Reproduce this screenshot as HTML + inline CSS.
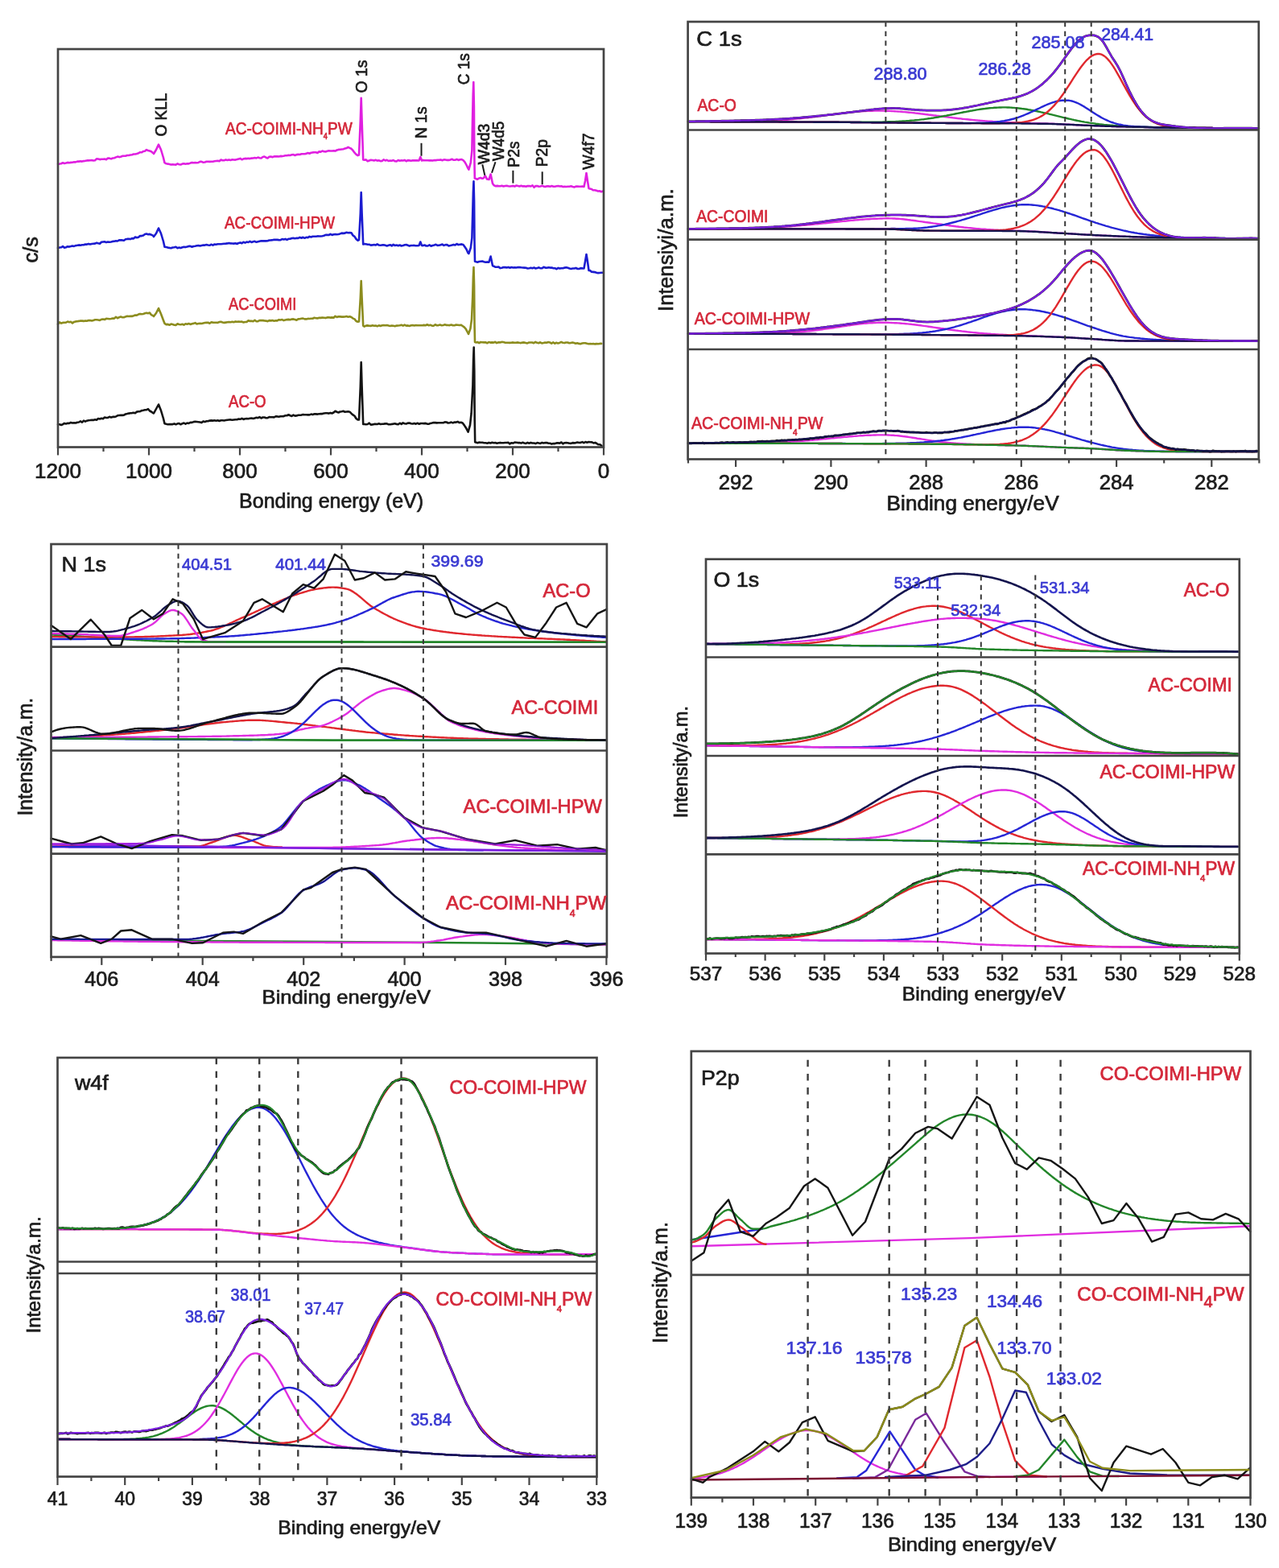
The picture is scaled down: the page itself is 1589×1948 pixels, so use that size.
<!DOCTYPE html><html><head><meta charset="utf-8"><title>XPS spectra</title><style>html,body{margin:0;padding:0;background:#fff;overflow:hidden;}svg{display:block;}text{font-family:"Liberation Sans", Arial, Helvetica, sans-serif;}</style></head><body><svg width="1589" height="1948" viewBox="0 0 1589 1948"><rect width="1589" height="1948" fill="#ffffff"/><path d="M72 203.7 L74 203.6 L76 203.2 L78 202.3 L80 203 L82 202.6 L84 201.9 L86 202.2 L88 201.9 L90 201.7 L92 201.3 L94 201.4 L96 200.6 L98 200.6 L100 200.3 L102 200.6 L104 200.1 L106 199.8 L108 199.4 L110 199.4 L112 199.3 L114 199 L116 199.5 L118 199.2 L120 197.4 L122 197.5 L124 198.1 L126 197.8 L128 197.8 L130 197.6 L132 198.2 L134 196.5 L136 196.6 L138 197.4 L140 196.5 L142 196.3 L144 195.4 L146 194.6 L148 195.1 L150 194.8 L152 193.9 L154 193.8 L156 193.7 L158 193 L160 193 L162 192.6 L164 192.2 L166 191.5 L168 191.5 L170 191.1 L172 190.3 L174 189.2 L176 189.3 L178 188 L180 187.7 L182 186.1 L184 187 L186 187.5 L188 188.2 L190 189.9 L191 191 L194 186 L197 179.6 L200 186 L203 196 L204.5 202.2 L206.5 203.3 L208.5 203.6 L210.5 204 L212.5 204.6 L214.5 204.2 L216.5 204.5 L218.5 204.6 L220.5 203.4 L222.5 204.2 L224.5 204.5 L226.5 203.6 L228.5 203.2 L230.5 203.7 L232.5 203.3 L234.5 203.4 L236.5 202.6 L238.5 201.9 L240.5 202.3 L242.5 202 L244.5 202.3 L246.5 201.9 L248.5 200.9 L250.5 200.9 L252.5 201.7 L254.5 201.5 L256.5 200.7 L258.5 200.8 L260.5 200.9 L262.5 200.7 L264.5 200.7 L266.5 200.3 L268.5 200 L270.5 199.7 L272.5 200.2 L274.5 198.5 L276.5 199.3 L278.5 199.2 L280.5 198.4 L282.5 199 L284.5 198.4 L286.5 198.9 L288.5 198.3 L290.5 198.5 L292.5 198.6 L294.5 198.1 L296.5 197.4 L298.5 196.9 L300.5 198.3 L302.5 197.3 L304.5 196.9 L306.5 197.1 L308.5 196.8 L310.5 197.1 L312.5 196.6 L314.5 196.5 L316.5 196 L318.5 196.4 L320.5 195.6 L322.5 196.3 L324.5 196.5 L326.5 195 L328.5 194.5 L330.5 195.7 L332.5 196.5 L334.5 194.7 L336.5 194.5 L338.5 195.2 L340.5 194.4 L342.5 194.4 L344.5 194.3 L346.5 194.5 L348.5 193.9 L350.5 194.1 L352.5 193.7 L354.5 193.2 L356.5 193.3 L358.5 192.8 L360.5 193 L362.5 192.3 L364.5 192.1 L366.5 193 L368.5 192.1 L370.5 191.9 L372.5 192 L374.5 191.3 L376.5 191.2 L378.5 191.2 L380.5 190.9 L382.5 190 L384.5 190.7 L386.5 189.8 L388.5 189.4 L390.5 189.2 L392.5 189.2 L394.5 189.9 L396.5 188.4 L398.5 188.7 L400.5 187.5 L402.5 188.2 L404.5 188.4 L406.5 187.7 L408.5 187.3 L410.5 187.5 L412.5 187.5 L414.5 187.2 L416.5 187.6 L418.5 186.5 L420.5 185.9 L422.5 185.8 L424.5 185.5 L426.5 185.2 L428.5 184.6 L430.5 184.1 L432.5 182.9 L434.5 183.9 L436.5 184.8 L438.5 186.9 L440.5 189.7 L442.5 191.8 L444.5 193.1 L446 192.5 L447.8 150 L448.7 121.7 L449.6 150 L451.2 198.5 L452.7 198.7 L454.7 198.4 L456.7 200.3 L458.7 199.5 L460.7 198.7 L462.7 199 L464.7 199.5 L466.7 198.8 L468.7 199.6 L470.7 199.3 L472.7 200.1 L474.7 199.9 L476.7 198.3 L478.7 199.5 L480.7 198.8 L482.7 200 L484.7 199.6 L486.7 199.7 L488.7 199 L490.7 200.3 L492.7 200.4 L494.7 199 L496.7 199.7 L498.7 199.2 L500.7 199.5 L502.7 198.9 L504.7 200.3 L506.7 199.1 L508.7 199.4 L510.7 199.7 L512.7 199.2 L514.7 199.4 L516.7 199.2 L518.7 199.4 L520.5 199.5 L522.3 195 L524 199.5 L525.5 198.9 L527.5 199.3 L529.5 199.3 L531.5 199.2 L533.5 199.4 L535.5 199.2 L537.5 199.6 L539.5 199.1 L541.5 199.1 L543.5 198.8 L545.5 198.8 L547.5 198.4 L549.5 199.2 L551.5 198.4 L553.5 198.5 L555.5 198.9 L557.5 198.9 L559.5 198.5 L561.5 197.7 L563.5 198.8 L565.5 198.7 L567.5 197.9 L569.5 198.9 L571.5 198.2 L573.5 198 L575.5 199.2 L577.5 201.3 L579.5 205 L581.5 209.1 L582.4 210.7 L584.8 202 L586.4 186.8 L587 150.9 L587.7 118.3 L588.3 102 L588.9 132 L589.3 192 L589.8 221.4 L591.5 222 L593 222.8 L595 221.5 L597 220.9 L599 221.8 L600.5 221.5 L602.8 218.5 L605 222.5 L607.5 223 L609.6 216.5 L612 228 L613.5 230.1 L615.5 231.2 L617.5 230.9 L619.5 231.1 L621.5 231.2 L623.5 230.8 L625.5 231.5 L627.5 231 L629.5 230.8 L631.5 231.3 L633.5 231.5 L635.5 231.2 L637.5 230.9 L639.5 231.6 L641.5 230.5 L643.5 230.9 L645.5 231.4 L647.5 230.7 L649.5 231.4 L651.5 231.3 L653.5 231.8 L655.5 231 L657.5 231.1 L659.5 231.5 L661.5 230.3 L663.5 232.8 L665.5 231.1 L667.5 231.1 L669.5 231.8 L671.5 231.4 L673.5 230.7 L675.5 231.7 L677.5 231.9 L679.5 231.3 L681.5 231.4 L683.5 231.7 L685.5 231.1 L687.5 231.8 L689.5 231.7 L691.5 231.3 L693.5 231 L695.5 231.5 L697.5 231.2 L699.5 232.1 L701.5 231.7 L703.5 232 L705.5 231.7 L707.5 231.8 L709.5 231.3 L711.5 232 L713.5 232.5 L715.5 231.6 L717.5 231.5 L719.5 231.8 L721.5 231.7 L723.5 231.6 L725.5 232 L727 225 L728.5 215 L730 225 L731.5 234 L733 234.6 L735 235 L737 236.3 L739 236.2 L741 236.8 L743 237.5 L745 237.2 L747 238.3 L749 237.5" fill="none" stroke="#e020e0" stroke-width="2.6" stroke-linejoin="round" stroke-linecap="round"/>
<path d="M72 308.1 L74 307.5 L76 307.3 L78 306.1 L80 307.8 L82 307.2 L84 306.3 L86 306.6 L88 306.1 L90 305.5 L92 305.9 L94 305.1 L96 304.8 L98 304.4 L100 304.7 L102 304.2 L104 304.3 L106 303.5 L108 303.6 L110 302.9 L112 303.5 L114 303 L116 302.8 L118 302.6 L120 301.7 L122 302.3 L124 302.7 L126 300.8 L128 300.5 L130 300.3 L132 301.1 L134 300.6 L136 300.8 L138 300.4 L140 299.9 L142 299.7 L144 299.3 L146 299.5 L148 298.3 L150 298.4 L152 298.4 L154 298.8 L156 297.3 L158 296.9 L160 296.7 L162 297.1 L164 296.1 L166 296.4 L168 294.5 L170 295.3 L172 294.7 L174 293 L176 293.1 L178 292.6 L180 291 L182 290.6 L184 291.2 L186 290.9 L188 291.7 L190 292.7 L191 294 L194 290 L197 283.5 L200 290 L203 300 L204.5 306.7 L206.5 307.1 L208.5 307.6 L210.5 307.9 L212.5 308.3 L214.5 307.5 L216.5 307.2 L218.5 306.7 L220.5 308.2 L222.5 307.6 L224.5 308.1 L226.5 307.2 L228.5 306.7 L230.5 307.1 L232.5 306.6 L234.5 305.9 L236.5 305.9 L238.5 306.8 L240.5 306 L242.5 305.8 L244.5 305.3 L246.5 305 L248.5 305.5 L250.5 304.9 L252.5 304.5 L254.5 304.6 L256.5 304.1 L258.5 304.5 L260.5 304.8 L262.5 303.7 L264.5 304.6 L266.5 303.5 L268.5 303.8 L270.5 303.2 L272.5 303.3 L274.5 303.3 L276.5 303 L278.5 302.7 L280.5 302.6 L282.5 302.4 L284.5 301.9 L286.5 302.4 L288.5 302.5 L290.5 302.6 L292.5 302.3 L294.5 303 L296.5 301.9 L298.5 301.4 L300.5 302.3 L302.5 300.8 L304.5 301.6 L306.5 300.6 L308.5 301 L310.5 299.8 L312.5 301 L314.5 300.3 L316.5 299.8 L318.5 300.8 L320.5 300.3 L322.5 299.8 L324.5 299.3 L326.5 299.4 L328.5 299.2 L330.5 299.4 L332.5 299.3 L334.5 298.5 L336.5 298.4 L338.5 298.2 L340.5 297.7 L342.5 297.9 L344.5 297.9 L346.5 298.1 L348.5 298.2 L350.5 297.1 L352.5 297.5 L354.5 296.9 L356.5 297.9 L358.5 296.8 L360.5 296.8 L362.5 296 L364.5 295.9 L366.5 296.2 L368.5 295.8 L370.5 295.9 L372.5 294.9 L374.5 295.7 L376.5 294.8 L378.5 295.8 L380.5 294.8 L382.5 295.2 L384.5 293.9 L386.5 294.5 L388.5 293.7 L390.5 293.7 L392.5 293.8 L394.5 293.4 L396.5 293.5 L398.5 293.5 L400.5 293.2 L402.5 292.7 L404.5 291.9 L406.5 291.9 L408.5 292 L410.5 290.9 L412.5 291.9 L414.5 291.2 L416.5 291 L418.5 291.3 L420.5 290.9 L422.5 290.4 L424.5 289.6 L426.5 289.9 L428.5 289.6 L430.5 288.7 L432.5 289.3 L434.5 289.1 L436.5 289.3 L438.5 292.5 L440.5 293.9 L442.5 297 L444.5 298.7 L446 298 L447.8 265 L448.7 239 L449.6 265 L451.2 303.5 L452.7 303 L454.7 303.3 L456.7 303.8 L458.7 303.7 L460.7 304.6 L462.7 304.4 L464.7 304 L466.7 304.5 L468.7 303.4 L470.7 304.5 L472.7 304.8 L474.7 304.4 L476.7 304.2 L478.7 304.8 L480.7 305.5 L482.7 304.8 L484.7 304.2 L486.7 305.4 L488.7 303.9 L490.7 305 L492.7 304.6 L494.7 305.3 L496.7 304.5 L498.7 305.5 L500.7 305.1 L502.7 304.2 L504.7 304.1 L506.7 304.8 L508.7 305.6 L510.7 305 L512.7 305 L514.7 304.9 L516.7 305.3 L518.7 305.2 L520.5 305 L522.3 300.5 L524 305 L525.5 305.1 L527.5 304.5 L529.5 305.5 L531.5 305.5 L533.5 304.3 L535.5 305.8 L537.5 305.1 L539.5 304.5 L541.5 303.8 L543.5 304.9 L545.5 304.8 L547.5 304.2 L549.5 303.6 L551.5 304.9 L553.5 304.1 L555.5 304.1 L557.5 305.5 L559.5 305.1 L561.5 304.6 L563.5 303.9 L565.5 304.4 L567.5 303 L569.5 304.1 L571.5 303.7 L573.5 303.4 L575.5 303.9 L577.5 306.7 L579.5 309.7 L581.5 314.2 L582.4 315 L584.8 307.8 L586.4 295.3 L587.2 265.7 L587.9 238.8 L588.5 225.4 L589.1 250.4 L589.5 300.3 L590 324.7 L591.7 325.3 L593.2 325.7 L595.2 325 L597.2 324.8 L599.2 324.6 L601.2 325.3 L603.2 325.8 L605.2 325.4 L607.2 325.8 L607.5 325.5 L609.6 318.5 L612 330 L613.5 330.7 L615.5 331.8 L617.5 331.8 L619.5 331.6 L621.5 333.1 L623.5 332.7 L625.5 332 L627.5 332.1 L629.5 332.4 L631.5 331.9 L633.5 332.7 L635.5 332 L637.5 332.5 L639.5 332.2 L641.5 332.5 L643.5 332.1 L645.5 332 L647.5 332.3 L649.5 332.5 L651.5 332.6 L653.5 332.8 L655.5 333.5 L657.5 333.2 L659.5 332.7 L661.5 333.2 L663.5 332.5 L665.5 333.5 L667.5 333.1 L669.5 332.3 L671.5 333.3 L673.5 333.3 L675.5 331.7 L677.5 332.6 L679.5 332.8 L681.5 332.2 L683.5 332.6 L685.5 332.6 L687.5 333.3 L689.5 333.2 L691.5 334.3 L693.5 332.9 L695.5 333.6 L697.5 333.2 L699.5 333.3 L701.5 332.6 L703.5 332.3 L705.5 332.8 L707.5 333.5 L709.5 333.9 L711.5 333.5 L713.5 333.5 L715.5 332.9 L717.5 334 L719.5 334 L721.5 333.1 L723.5 333.4 L725.5 333.5 L727 325 L728.5 316 L730 325 L731.5 336 L733 336.1 L735 337.8 L737 337.9 L739 338.1 L741 338.8 L743 339.1 L745 339 L747 338.8 L749 338.8" fill="none" stroke="#1c1cd0" stroke-width="2.6" stroke-linejoin="round" stroke-linecap="round"/>
<path d="M72 402.7 L74 400.4 L76 401.6 L78 400.9 L80 400.7 L82 400.6 L84 399.6 L86 400.2 L88 399.8 L90 401.4 L92 399.9 L94 399.4 L96 399.2 L98 398.9 L100 398.5 L102 398.6 L104 398.9 L106 398.4 L108 398.8 L110 398.1 L112 398 L114 398.5 L116 397.9 L118 397.3 L120 397.3 L122 397.5 L124 397.9 L126 396.8 L128 396.6 L130 397 L132 395.9 L134 396 L136 396.3 L138 396 L140 395.5 L142 395.6 L144 393.8 L146 395.3 L148 394.2 L150 393.6 L152 394.2 L154 394.2 L156 393.4 L158 392.8 L160 393 L162 392.7 L164 392.9 L166 392.3 L168 391.6 L170 391.6 L172 390.6 L174 389.9 L176 390.3 L178 389.9 L180 389.2 L182 388.7 L184 389.2 L186 388.6 L188 391.2 L190 392.2 L191 393 L194 389 L197 383 L200 390 L203 398 L204.5 401.8 L206.5 403.1 L208.5 402.9 L210.5 403.8 L212.5 402.6 L214.5 403.1 L216.5 403.7 L218.5 403.9 L220.5 402.3 L222.5 403 L224.5 403.2 L226.5 402.7 L228.5 403.6 L230.5 402.2 L232.5 402.7 L234.5 402 L236.5 402.9 L238.5 402.2 L240.5 401.9 L242.5 401.1 L244.5 402.5 L246.5 402 L248.5 401.9 L250.5 402 L252.5 401.5 L254.5 401 L256.5 400.9 L258.5 400.8 L260.5 401.7 L262.5 400.3 L264.5 400.6 L266.5 400.7 L268.5 400.8 L270.5 400.9 L272.5 400 L274.5 399.7 L276.5 400.4 L278.5 400.9 L280.5 400.6 L282.5 400.3 L284.5 400 L286.5 400.2 L288.5 399.8 L290.5 400.2 L292.5 399.4 L294.5 399.8 L296.5 399.6 L298.5 399.8 L300.5 399.6 L302.5 400.5 L304.5 400 L306.5 399.9 L308.5 398.2 L310.5 398.9 L312.5 398.7 L314.5 399.2 L316.5 397.8 L318.5 399.3 L320.5 399.2 L322.5 398 L324.5 398.1 L326.5 398.1 L328.5 398.4 L330.5 398.6 L332.5 399.2 L334.5 398.1 L336.5 398.4 L338.5 398.1 L340.5 398.7 L342.5 398.2 L344.5 398.4 L346.5 397.2 L348.5 397.5 L350.5 397.1 L352.5 398.1 L354.5 397.6 L356.5 397.1 L358.5 396.9 L360.5 397.2 L362.5 396.6 L364.5 396.4 L366.5 397 L368.5 397.7 L370.5 396.4 L372.5 396.2 L374.5 395.8 L376.5 395.6 L378.5 396.4 L380.5 396.4 L382.5 395.9 L384.5 396 L386.5 395.8 L388.5 395.7 L390.5 394.8 L392.5 395.2 L394.5 395.4 L396.5 394.8 L398.5 394.9 L400.5 394.6 L402.5 394.7 L404.5 395.1 L406.5 394.4 L408.5 394.3 L410.5 394.6 L412.5 394.4 L414.5 394.7 L416.5 392.8 L418.5 394 L420.5 393.2 L422.5 393.4 L424.5 393.6 L426.5 393.6 L428.5 393.5 L430.5 393.1 L432.5 393.7 L434.5 393.2 L436.5 394 L438.5 395.6 L440.5 396.4 L442.5 399 L444.5 399.8 L446 399.5 L447.8 370 L448.7 349 L449.6 370 L451.2 404.6 L452.7 405.6 L454.7 404.6 L456.7 404.4 L458.7 404.7 L460.7 404.9 L462.7 404.3 L464.7 404.8 L466.7 404.6 L468.7 405.3 L470.7 404.3 L472.7 405 L474.7 404.3 L476.7 404.1 L478.7 404.2 L480.7 404 L482.7 404.6 L484.7 405 L486.7 404.6 L488.7 404.8 L490.7 405.2 L492.7 404.6 L494.7 404.5 L496.7 404.3 L498.7 403.7 L500.7 404.7 L502.7 403.6 L504.7 404.7 L506.7 404.4 L508.7 404.9 L510.7 404.3 L512.7 404 L514.7 404.5 L516.7 404.1 L518.7 404.2 L520.7 404.3 L522.7 404.2 L524.7 404.2 L526.7 403.9 L528.7 404.2 L530.7 403.3 L532.7 404.2 L534.7 403.7 L536.7 404.7 L538.7 404.7 L540.7 403.3 L542.7 404.2 L544.7 404.1 L546.7 403.6 L548.7 404.3 L550.7 403.9 L552.7 403.3 L554.7 403.9 L556.7 404 L558.7 404.1 L560.7 403.5 L562.7 404.3 L564.7 404.3 L566.7 403.5 L568.7 403.7 L570.7 404 L572.7 403.7 L574.7 405 L576.7 406.4 L578.7 408.6 L580.7 412.3 L582 415 L584.4 408.4 L586 396.7 L587.2 369.4 L587.9 344.4 L588.5 332 L589.1 355.4 L589.5 402.1 L590 424.9 L591.7 425.5 L593.2 425 L595.2 426.1 L597.2 425 L599.2 425.2 L601.2 425.4 L603.2 425.2 L605.2 426.3 L607.2 425 L609.2 425.6 L611.2 425.4 L613.2 425.6 L615.2 424.8 L617.2 426.1 L619.2 425.3 L621.2 425.4 L623.2 424.9 L625.2 425 L627.2 425.6 L629.2 425.8 L631.2 425.7 L633.2 425.9 L635.2 425.7 L637.2 425.4 L639.2 425.8 L641.2 425.7 L643.2 425.4 L645.2 425.8 L647.2 426.1 L649.2 425.6 L651.2 425.4 L653.2 425.9 L655.2 426.4 L657.2 425.5 L659.2 425.5 L661.2 425.5 L663.2 426.2 L665.2 424.8 L667.2 425.8 L669.2 426.2 L671.2 425.3 L673.2 426.4 L675.2 426 L677.2 425.5 L679.2 425.8 L681.2 425.1 L683.2 425.5 L685.2 426.6 L687.2 425.4 L689.2 426.7 L691.2 425.8 L693.2 426.4 L695.2 425.9 L697.2 424.9 L699.2 425.7 L701.2 426.1 L703.2 425.5 L705.2 425.5 L707.2 426.3 L709.2 425.9 L711.2 425.5 L713.2 426 L715.2 426.7 L717.2 426.2 L719.2 426.9 L721.2 427.2 L723.2 426.6 L725.2 426.2 L727.2 426.2 L729.2 426.8 L731.2 427.3 L733.2 427.1 L735.2 427.3 L737.2 427 L739.2 427.4 L741.2 427.1 L743.2 427.3 L745.2 426.9 L747.2 426.9" fill="none" stroke="#8c8c1e" stroke-width="2.6" stroke-linejoin="round" stroke-linecap="round"/>
<path d="M72 527.3 L74 527.3 L76 527.9 L78 527.2 L80 525.9 L82 526.4 L84 525.8 L86 525.9 L88 524.9 L90 525.5 L92 525.2 L94 525.5 L96 524.7 L98 524.5 L100 523.3 L102 524.7 L104 522.6 L106 523.7 L108 522.7 L110 522.2 L112 522 L114 521.7 L116 521.9 L118 521.3 L120 521.8 L122 520 L124 520.5 L126 519.7 L128 520.2 L130 518.5 L132 519 L134 518.9 L136 517.8 L138 518.6 L140 517.9 L142 517.9 L144 517.5 L146 516.3 L148 516 L150 515.9 L152 515.9 L154 515.6 L156 514.5 L158 514.1 L160 513.6 L162 513.3 L164 513.1 L166 512.7 L168 513.2 L170 511.6 L172 511.3 L174 511.2 L176 510.1 L178 509.8 L180 509.3 L182 509.2 L184 508.2 L186 510.5 L188 511.5 L190 513.1 L191 513.5 L194 508 L197 502.5 L200 510 L203 520 L204.5 526.2 L206.5 526.8 L208.5 527.3 L210.5 527.1 L212.5 527 L214.5 527.1 L216.5 526.4 L218.5 527.3 L220.5 526.3 L222.5 526 L224.5 527.3 L226.5 526.2 L228.5 525.5 L230.5 526.7 L232.5 525.5 L234.5 525.9 L236.5 524.9 L238.5 524.9 L240.5 524.1 L242.5 523.8 L244.5 524 L246.5 524.2 L248.5 524.5 L250.5 525.1 L252.5 523.4 L254.5 524.1 L256.5 523.3 L258.5 523.3 L260.5 522.6 L262.5 522.4 L264.5 522.6 L266.5 522.3 L268.5 522.7 L270.5 522.2 L272.5 523 L274.5 522.3 L276.5 522.2 L278.5 522.5 L280.5 522.1 L282.5 521.7 L284.5 521.5 L286.5 521.4 L288.5 521.8 L290.5 521.5 L292.5 521.2 L294.5 521.2 L296.5 520.5 L298.5 520.8 L300.5 519.8 L302.5 520.9 L304.5 520.2 L306.5 520.1 L308.5 520.2 L310.5 519.8 L312.5 519.5 L314.5 520 L316.5 519.4 L318.5 518.8 L320.5 519.2 L322.5 518.1 L324.5 519.5 L326.5 518.5 L328.5 518.5 L330.5 519.3 L332.5 519.2 L334.5 518.1 L336.5 518.2 L338.5 518.3 L340.5 518.4 L342.5 517.4 L344.5 517.4 L346.5 517.8 L348.5 517.2 L350.5 517.3 L352.5 517.1 L354.5 516.2 L356.5 516.2 L358.5 515.3 L360.5 516.2 L362.5 516.9 L364.5 515.6 L366.5 516.6 L368.5 516.4 L370.5 515.8 L372.5 515.7 L374.5 515.6 L376.5 515.1 L378.5 515.2 L380.5 515.2 L382.5 515.4 L384.5 515.4 L386.5 514.6 L388.5 515.1 L390.5 514.3 L392.5 514.4 L394.5 514.6 L396.5 514.2 L398.5 514.1 L400.5 514.1 L402.5 513.5 L404.5 513.3 L406.5 513.3 L408.5 513.6 L410.5 512.9 L412.5 513.5 L414.5 512.5 L416.5 510.8 L418.5 511.7 L420.5 512.5 L422.5 511.5 L424.5 511.2 L426.5 510.8 L428.5 511.7 L430.5 511.5 L432.5 511.3 L434.5 511.7 L436.5 513.7 L438.5 515.4 L440.5 516.8 L442.5 520 L444.5 521.5 L446 521.5 L447.8 480 L448.7 450 L449.6 480 L451.2 527 L452.7 527 L454.7 527.3 L456.7 527 L458.7 525.7 L460.7 527.7 L462.7 527.4 L464.7 526.9 L466.7 526.8 L468.7 527 L470.7 526.3 L472.7 527 L474.7 526.7 L476.7 526.6 L478.7 526.4 L480.7 526.4 L482.7 527.2 L484.7 527.3 L486.7 526.9 L488.7 526.6 L490.7 526.2 L492.7 526.9 L494.7 527.2 L496.7 525.7 L498.7 526.9 L500.7 525.4 L502.7 526.2 L504.7 526.5 L506.7 525.6 L508.7 525.5 L510.7 526.3 L512.7 526.5 L514.7 525.9 L516.7 526.7 L518.7 525.7 L520.7 526.8 L522.7 526 L524.7 526 L526.7 526.1 L528.7 525.9 L530.7 526.6 L532.7 526.7 L534.7 525.9 L536.7 525.5 L538.7 525 L540.7 525.1 L542.7 525.4 L544.7 525.3 L546.7 525.2 L548.7 525.2 L550.7 525.3 L552.7 524.4 L554.7 524.5 L556.7 525.5 L558.7 525.3 L560.7 524.6 L562.7 525.4 L564.7 524.5 L566.7 524.6 L568.7 523.9 L570.7 525.1 L572.7 524.7 L574.7 525.5 L576.7 528.1 L578.7 531.2 L580.7 534.9 L581.6 536.6 L584 528.2 L585.6 513.5 L587.4 478.8 L588.1 447.3 L588.7 431.5 L589.3 461.1 L589.7 520.2 L590.2 549.2 L591.9 549.8 L593.4 550.2 L595.4 549.6 L597.4 549.7 L599.4 549.8 L601.4 550.2 L603.4 550.3 L605.4 550.8 L607.4 549.9 L609.4 550.5 L611.4 549.7 L613.4 550.3 L615.4 550.1 L617.4 550.8 L619.4 550.3 L621.4 549.9 L623.4 550.3 L625.4 550.2 L627.4 550 L629.4 550 L631.4 549.7 L633.4 551.4 L635.4 550.2 L637.4 550.6 L639.4 549.6 L641.4 549.7 L643.4 550.1 L645.4 550.1 L647.4 550.6 L649.4 549.8 L651.4 550.5 L653.4 550.9 L655.4 549.9 L657.4 550.7 L659.4 549.9 L661.4 550.5 L663.4 550.5 L665.4 551.1 L667.4 550.1 L669.4 550.5 L671.4 550.9 L673.4 549.9 L675.4 550.4 L677.4 550 L679.4 550.1 L681.4 550.8 L683.4 550.8 L685.4 551.6 L687.4 551.1 L689.4 551.1 L691.4 550.4 L693.4 550.4 L695.4 550.6 L697.4 549.5 L699.4 551.3 L701.4 550.2 L703.4 550 L705.4 550.2 L707.4 550.8 L709.4 550.9 L711.4 550.1 L713.4 550.4 L715.4 550.1 L717.4 549.6 L719.4 550 L721.4 549.9 L723.4 549.1 L725.4 550.2 L727.4 549 L729.4 549.7 L731.4 549.1 L733.4 549.2 L735.4 549.4 L737.4 550.4 L739.4 549.9 L741.4 551 L743.4 552.3 L745.4 552.3 L747.4 553.8" fill="none" stroke="#141414" stroke-width="2.6" stroke-linejoin="round" stroke-linecap="round"/>
<rect x="72" y="61" width="678" height="494.5" fill="none" stroke="#444444" stroke-width="2.7"/>
<line x1="72" y1="555.5" x2="72" y2="565.5" stroke="#444444" stroke-width="2.2" stroke-linecap="butt"/>
<text x="72" y="593.7" font-size="26" fill="#1c1c1c" stroke="#1c1c1c" stroke-width="0.7" text-anchor="middle">1200</text>
<line x1="128.5" y1="555.5" x2="128.5" y2="561" stroke="#444444" stroke-width="2.2" stroke-linecap="butt"/>
<line x1="185" y1="555.5" x2="185" y2="565.5" stroke="#444444" stroke-width="2.2" stroke-linecap="butt"/>
<text x="185" y="593.7" font-size="26" fill="#1c1c1c" stroke="#1c1c1c" stroke-width="0.7" text-anchor="middle">1000</text>
<line x1="241.5" y1="555.5" x2="241.5" y2="561" stroke="#444444" stroke-width="2.2" stroke-linecap="butt"/>
<line x1="298" y1="555.5" x2="298" y2="565.5" stroke="#444444" stroke-width="2.2" stroke-linecap="butt"/>
<text x="298" y="593.7" font-size="26" fill="#1c1c1c" stroke="#1c1c1c" stroke-width="0.7" text-anchor="middle">800</text>
<line x1="354.5" y1="555.5" x2="354.5" y2="561" stroke="#444444" stroke-width="2.2" stroke-linecap="butt"/>
<line x1="411" y1="555.5" x2="411" y2="565.5" stroke="#444444" stroke-width="2.2" stroke-linecap="butt"/>
<text x="411" y="593.7" font-size="26" fill="#1c1c1c" stroke="#1c1c1c" stroke-width="0.7" text-anchor="middle">600</text>
<line x1="467.5" y1="555.5" x2="467.5" y2="561" stroke="#444444" stroke-width="2.2" stroke-linecap="butt"/>
<line x1="524" y1="555.5" x2="524" y2="565.5" stroke="#444444" stroke-width="2.2" stroke-linecap="butt"/>
<text x="524" y="593.7" font-size="26" fill="#1c1c1c" stroke="#1c1c1c" stroke-width="0.7" text-anchor="middle">400</text>
<line x1="580.5" y1="555.5" x2="580.5" y2="561" stroke="#444444" stroke-width="2.2" stroke-linecap="butt"/>
<line x1="637" y1="555.5" x2="637" y2="565.5" stroke="#444444" stroke-width="2.2" stroke-linecap="butt"/>
<text x="637" y="593.7" font-size="26" fill="#1c1c1c" stroke="#1c1c1c" stroke-width="0.7" text-anchor="middle">200</text>
<line x1="693.5" y1="555.5" x2="693.5" y2="561" stroke="#444444" stroke-width="2.2" stroke-linecap="butt"/>
<line x1="750" y1="555.5" x2="750" y2="565.5" stroke="#444444" stroke-width="2.2" stroke-linecap="butt"/>
<text x="750" y="593.7" font-size="26" fill="#1c1c1c" stroke="#1c1c1c" stroke-width="0.7" text-anchor="middle">0</text>
<text x="411.6" y="630.5" font-size="25.5" fill="#1c1c1c" stroke="#1c1c1c" stroke-width="0.7" text-anchor="middle" textLength="229" lengthAdjust="spacingAndGlyphs">Bonding energy (eV)</text>
<text x="46.9" y="326.5" font-size="26" fill="#1c1c1c" stroke="#1c1c1c" stroke-width="0.7" text-anchor="start" textLength="32.5" lengthAdjust="spacingAndGlyphs" transform="rotate(-90 46.9 326.5)">c/s</text>
<text x="280" y="167" font-size="21.8" fill="#d4283a" stroke="#d4283a" stroke-width="0.7" text-anchor="start" textLength="157.7" lengthAdjust="spacingAndGlyphs">AC-COIMI-NH<tspan font-size="10.5" dy="6">4</tspan><tspan dy="-6">PW</tspan></text>
<text x="279" y="284" font-size="21.8" fill="#d4283a" stroke="#d4283a" stroke-width="0.7" text-anchor="start" textLength="137" lengthAdjust="spacingAndGlyphs">AC-COIMI-HPW</text>
<text x="284" y="385.4" font-size="21.8" fill="#d4283a" stroke="#d4283a" stroke-width="0.7" text-anchor="start" textLength="84.4" lengthAdjust="spacingAndGlyphs">AC-COIMI</text>
<text x="284" y="506.2" font-size="21.8" fill="#d4283a" stroke="#d4283a" stroke-width="0.7" text-anchor="start" textLength="46.6" lengthAdjust="spacingAndGlyphs">AC-O</text>
<text x="207.4" y="169.6" font-size="19.3" fill="#1c1c1c" stroke="#1c1c1c" stroke-width="0.7" text-anchor="start" textLength="54.1" lengthAdjust="spacingAndGlyphs" transform="rotate(-90 207.4 169.6)">O KLL</text>
<text x="455.5" y="115.5" font-size="19.3" fill="#1c1c1c" stroke="#1c1c1c" stroke-width="0.7" text-anchor="start" textLength="40.8" lengthAdjust="spacingAndGlyphs" transform="rotate(-90 455.5 115.5)">O 1s</text>
<text x="583.5" y="105.3" font-size="19.3" fill="#1c1c1c" stroke="#1c1c1c" stroke-width="0.7" text-anchor="start" textLength="39" lengthAdjust="spacingAndGlyphs" transform="rotate(-90 583.5 105.3)">C 1s</text>
<text x="530.3" y="172" font-size="19.3" fill="#1c1c1c" stroke="#1c1c1c" stroke-width="0.7" text-anchor="start" textLength="39.5" lengthAdjust="spacingAndGlyphs" transform="rotate(-90 530.3 172)">N 1s</text>
<line x1="523.5" y1="177.8" x2="523.5" y2="193.7" stroke="#1c1c1c" stroke-width="2" stroke-linecap="butt"/>
<text x="608.3" y="204.2" font-size="19.3" fill="#1c1c1c" stroke="#1c1c1c" stroke-width="0.7" text-anchor="start" textLength="50.6" lengthAdjust="spacingAndGlyphs" transform="rotate(-90 608.3 204.2)">W4d3</text>
<line x1="599.3" y1="204.2" x2="602.3" y2="217.8" stroke="#1c1c1c" stroke-width="2" stroke-linecap="butt"/>
<text x="626.4" y="200" font-size="19.3" fill="#1c1c1c" stroke="#1c1c1c" stroke-width="0.7" text-anchor="start" textLength="49.4" lengthAdjust="spacingAndGlyphs" transform="rotate(-90 626.4 200)">W4d5</text>
<line x1="615.5" y1="201.2" x2="611" y2="214.8" stroke="#1c1c1c" stroke-width="2" stroke-linecap="butt"/>
<text x="644.6" y="208" font-size="19.3" fill="#1c1c1c" stroke="#1c1c1c" stroke-width="0.7" text-anchor="start" textLength="32.5" lengthAdjust="spacingAndGlyphs" transform="rotate(-90 644.6 208)">P2s</text>
<line x1="637.4" y1="211.8" x2="637.4" y2="227.6" stroke="#1c1c1c" stroke-width="2" stroke-linecap="butt"/>
<text x="680.5" y="207.2" font-size="19.3" fill="#1c1c1c" stroke="#1c1c1c" stroke-width="0.7" text-anchor="start" textLength="34" lengthAdjust="spacingAndGlyphs" transform="rotate(-90 680.5 207.2)">P2p</text>
<line x1="673.7" y1="213.3" x2="673.7" y2="229.1" stroke="#1c1c1c" stroke-width="2" stroke-linecap="butt"/>
<text x="737.6" y="210.7" font-size="19.3" fill="#1c1c1c" stroke="#1c1c1c" stroke-width="0.7" text-anchor="start" textLength="45.4" lengthAdjust="spacingAndGlyphs" transform="rotate(-90 737.6 210.7)">W4f7</text>
<path d="M855.6 151.1 L857.6 151.1 L859.6 151.1 L861.6 151.1 L863.6 151.1 L865.6 151.1 L867.6 151.1 L869.6 151.1 L871.6 151.1 L873.6 151.1 L875.6 151.1 L877.6 151.1 L879.6 151.1 L881.6 151.1 L883.6 151.1 L885.6 151.1 L887.6 151.1 L889.6 151.1 L891.6 151.1 L893.6 151.1 L895.6 151.1 L897.6 151.1 L899.6 151.1 L901.6 151 L903.6 151 L905.6 151 L907.6 151 L909.6 151 L911.6 151 L913.6 151 L915.6 150.9 L917.6 150.9 L919.6 150.9 L921.6 150.9 L923.6 150.9 L925.6 150.8 L927.6 150.8 L929.6 150.8 L931.6 150.7 L933.6 150.7 L935.6 150.6 L937.6 150.6 L939.6 150.5 L941.6 150.5 L943.6 150.4 L945.6 150.4 L947.6 150.3 L949.6 150.2 L951.6 150.1 L953.6 150.1 L955.6 150 L957.6 149.9 L959.6 149.8 L961.6 149.7 L963.6 149.6 L965.6 149.5 L967.6 149.4 L969.6 149.2 L971.6 149.1 L973.6 149 L975.6 148.8 L977.6 148.7 L979.6 148.5 L981.6 148.4 L983.6 148.2 L985.6 148 L987.6 147.8 L989.6 147.6 L991.6 147.4 L993.6 147.2 L995.6 147 L997.6 146.8 L999.6 146.6 L1001.6 146.4 L1003.6 146.2 L1005.6 145.9 L1007.6 145.7 L1009.6 145.4 L1011.6 145.2 L1013.6 144.9 L1015.6 144.7 L1017.6 144.4 L1019.6 144.2 L1021.6 143.9 L1023.6 143.6 L1025.6 143.4 L1027.6 143.1 L1029.6 142.8 L1031.6 142.6 L1033.6 142.3 L1035.6 142 L1037.6 141.8 L1039.6 141.5 L1041.6 141.3 L1043.6 141 L1045.6 140.8 L1047.6 140.5 L1049.6 140.3 L1051.6 140 L1053.6 139.8 L1055.6 139.6 L1057.6 139.4 L1059.6 139.2 L1061.6 139 L1063.6 138.8 L1065.6 138.6 L1067.6 138.5 L1069.6 138.3 L1071.6 138.2 L1073.6 138.1 L1075.6 138 L1077.6 137.9 L1079.6 137.8 L1081.6 137.7 L1083.6 137.7 L1085.6 137.6 L1087.6 137.6 L1089.6 137.6 L1091.6 137.6 L1093.6 137.6 L1095.6 137.6 L1097.6 137.6 L1099.6 137.7 L1101.6 137.8 L1103.6 137.8 L1105.6 137.9 L1107.6 138 L1109.6 138.1 L1111.6 138.2 L1113.6 138.4 L1115.6 138.5 L1117.6 138.6 L1119.6 138.8 L1121.6 139 L1123.6 139.1 L1125.6 139.3 L1127.6 139.5 L1129.6 139.7 L1131.6 139.9 L1133.6 140.1 L1135.6 140.3 L1137.6 140.6 L1139.6 140.8 L1141.6 141 L1143.6 141.3 L1145.6 141.5 L1147.6 141.7 L1149.6 142 L1151.6 142.2 L1153.6 142.5 L1155.6 142.7 L1157.6 143 L1159.6 143.3 L1161.6 143.5 L1163.6 143.8 L1165.6 144 L1167.6 144.3 L1169.6 144.5 L1171.6 144.8 L1173.6 145 L1175.6 145.3 L1177.6 145.5 L1179.6 145.8 L1181.6 146 L1183.6 146.3 L1185.6 146.5 L1187.6 146.7 L1189.6 147 L1191.6 147.2 L1193.6 147.4 L1195.6 147.7 L1197.6 147.9 L1199.6 148.1 L1201.6 148.3 L1203.6 148.5 L1205.6 148.7 L1207.6 148.9 L1209.6 149.1 L1211.6 149.3 L1213.6 149.4 L1215.6 149.6 L1217.6 149.8 L1219.6 149.9 L1221.6 150.1 L1223.6 150.3 L1225.6 150.4 L1227.6 150.6 L1229.6 150.7 L1231.6 150.8 L1233.6 151 L1235.6 151.1 L1237.6 151.2 L1239.6 151.3 L1241.6 151.5 L1243.6 151.6 L1245.6 151.7 L1247.6 151.8 L1249.6 151.9 L1251.6 152 L1253.6 152.1 L1255.6 152.2 L1257.6 152.2 L1259.6 152.3 L1261.6 152.4 L1263.6 152.5 L1265.6 152.6 L1267.6 152.6 L1269.6 152.7 L1271.6 152.8 L1273.6 152.8 L1275.6 152.9 L1277.6 152.9 L1279.6 153 L1281.6 153.1 L1283.6 153.1 L1285.6 153.2 L1287.6 153.2 L1289.6 153.3 L1291.6 153.3 L1293.6 153.4 L1295.6 153.4 L1297.6 153.5 L1299.6 153.5 L1301.6 153.6 L1303.6 153.7 L1305.6 153.7 L1307.6 153.8 L1309.6 153.9 L1311.6 153.9 L1313.6 154 L1315.6 154.1 L1317.6 154.2 L1319.6 154.3 L1321.6 154.4 L1323.6 154.5 L1325.6 154.6 L1327.6 154.7 L1329.6 154.8 L1331.6 154.9 L1333.6 155 L1335.6 155.1 L1337.6 155.2 L1339.6 155.3 L1341.6 155.4 L1343.6 155.5 L1345.6 155.6 L1347.6 155.7 L1349.6 155.7 L1351.6 155.8 L1353.6 155.9 L1355.6 156 L1357.6 156.1 L1359.6 156.1 L1361.6 156.2 L1363.6 156.3 L1365.6 156.4 L1367.6 156.4 L1369.6 156.5 L1371.6 156.6 L1373.6 156.7 L1375.6 156.7 L1377.6 156.8 L1379.6 156.9 L1381.6 157 L1383.6 157 L1385.6 157.1 L1387.6 157.2 L1389.6 157.2 L1391.6 157.3 L1393.6 157.3 L1395.6 157.4 L1397.6 157.4 L1399.6 157.5 L1401.6 157.5 L1403.6 157.6 L1405.6 157.6 L1407.6 157.7 L1409.6 157.7 L1411.6 157.8 L1413.6 157.8 L1415.6 157.8 L1417.6 157.9 L1419.6 157.9 L1421.6 157.9 L1423.6 158 L1425.6 158 L1427.6 158.1 L1429.6 158.1 L1431.6 158.1 L1433.6 158.2 L1435.6 158.2 L1437.6 158.2 L1439.6 158.2 L1441.6 158.3 L1443.6 158.3 L1445.6 158.3 L1447.6 158.4 L1449.6 158.4 L1451.6 158.4 L1453.6 158.5 L1455.6 158.5 L1457.6 158.5 L1459.6 158.5 L1461.6 158.6 L1463.6 158.6 L1465.6 158.6 L1467.6 158.6 L1469.6 158.7 L1471.6 158.7 L1473.6 158.7 L1475.6 158.7 L1477.6 158.8 L1479.6 158.8 L1481.6 158.8 L1483.6 158.8 L1485.6 158.9 L1487.6 158.9 L1489.6 158.9 L1491.6 158.9 L1493.6 158.9 L1495.6 159 L1497.6 159 L1499.6 159 L1501.6 159 L1503.6 159 L1505.6 159 L1507.6 159.1 L1509.6 159.1 L1511.6 159.1 L1513.6 159.1 L1515.6 159.1 L1517.6 159.1 L1519.6 159.2 L1521.6 159.2 L1523.6 159.2 L1525.6 159.2 L1527.6 159.2 L1529.6 159.2 L1531.6 159.2 L1533.6 159.3 L1535.6 159.3 L1537.6 159.3 L1539.6 159.3 L1541.6 159.3 L1543.6 159.3 L1545.6 159.3 L1547.6 159.3 L1549.6 159.3 L1551.6 159.4 L1553.6 159.4 L1555.6 159.4 L1557.6 159.4 L1559.6 159.4 L1561.6 159.4" fill="none" stroke="#e02ee0" stroke-width="2.4" stroke-linejoin="round" stroke-linecap="round"/>
<path d="M855.6 151.1 L857.6 151.1 L859.6 151.1 L861.6 151.1 L863.6 151.1 L865.6 151.1 L867.6 151.1 L869.6 151.1 L871.6 151.1 L873.6 151.1 L875.6 151.1 L877.6 151.1 L879.6 151.1 L881.6 151.1 L883.6 151.2 L885.6 151.2 L887.6 151.2 L889.6 151.2 L891.6 151.2 L893.6 151.2 L895.6 151.2 L897.6 151.2 L899.6 151.2 L901.6 151.2 L903.6 151.2 L905.6 151.2 L907.6 151.2 L909.6 151.2 L911.6 151.2 L913.6 151.2 L915.6 151.2 L917.6 151.3 L919.6 151.3 L921.6 151.3 L923.6 151.3 L925.6 151.3 L927.6 151.3 L929.6 151.3 L931.6 151.3 L933.6 151.3 L935.6 151.3 L937.6 151.3 L939.6 151.3 L941.6 151.3 L943.6 151.4 L945.6 151.4 L947.6 151.4 L949.6 151.4 L951.6 151.4 L953.6 151.4 L955.6 151.4 L957.6 151.4 L959.6 151.4 L961.6 151.4 L963.6 151.4 L965.6 151.4 L967.6 151.5 L969.6 151.5 L971.6 151.5 L973.6 151.5 L975.6 151.5 L977.6 151.5 L979.6 151.5 L981.6 151.5 L983.6 151.5 L985.6 151.5 L987.6 151.5 L989.6 151.5 L991.6 151.6 L993.6 151.6 L995.6 151.6 L997.6 151.6 L999.6 151.6 L1001.6 151.6 L1003.6 151.6 L1005.6 151.6 L1007.6 151.6 L1009.6 151.6 L1011.6 151.7 L1013.6 151.7 L1015.6 151.7 L1017.6 151.7 L1019.6 151.7 L1021.6 151.7 L1023.6 151.7 L1025.6 151.7 L1027.6 151.7 L1029.6 151.7 L1031.6 151.8 L1033.6 151.8 L1035.6 151.8 L1037.6 151.8 L1039.6 151.8 L1041.6 151.8 L1043.6 151.8 L1045.6 151.8 L1047.6 151.8 L1049.6 151.8 L1051.6 151.8 L1053.6 151.8 L1055.6 151.8 L1057.6 151.9 L1059.6 151.9 L1061.6 151.9 L1063.6 151.9 L1065.6 151.9 L1067.6 151.9 L1069.6 151.8 L1071.6 151.8 L1073.6 151.8 L1075.6 151.8 L1077.6 151.8 L1079.6 151.8 L1081.6 151.8 L1083.6 151.8 L1085.6 151.7 L1087.6 151.7 L1089.6 151.7 L1091.6 151.6 L1093.6 151.6 L1095.6 151.6 L1097.6 151.5 L1099.6 151.5 L1101.6 151.4 L1103.6 151.3 L1105.6 151.3 L1107.6 151.2 L1109.6 151.1 L1111.6 151.1 L1113.6 151 L1115.6 150.9 L1117.6 150.8 L1119.6 150.7 L1121.6 150.5 L1123.6 150.4 L1125.6 150.3 L1127.6 150.1 L1129.6 150 L1131.6 149.8 L1133.6 149.6 L1135.6 149.5 L1137.6 149.3 L1139.6 149.1 L1141.6 148.9 L1143.6 148.6 L1145.6 148.4 L1147.6 148.2 L1149.6 147.9 L1151.6 147.6 L1153.6 147.3 L1155.6 147.1 L1157.6 146.8 L1159.6 146.5 L1161.6 146.1 L1163.6 145.8 L1165.6 145.5 L1167.6 145.1 L1169.6 144.8 L1171.6 144.4 L1173.6 144 L1175.6 143.7 L1177.6 143.3 L1179.6 142.9 L1181.6 142.5 L1183.6 142.1 L1185.6 141.7 L1187.6 141.3 L1189.6 140.9 L1191.6 140.5 L1193.6 140.1 L1195.6 139.7 L1197.6 139.3 L1199.6 139 L1201.6 138.6 L1203.6 138.2 L1205.6 137.8 L1207.6 137.5 L1209.6 137.1 L1211.6 136.8 L1213.6 136.4 L1215.6 136.1 L1217.6 135.8 L1219.6 135.5 L1221.6 135.2 L1223.6 135 L1225.6 134.7 L1227.6 134.5 L1229.6 134.3 L1231.6 134.1 L1233.6 134 L1235.6 133.8 L1237.6 133.7 L1239.6 133.6 L1241.6 133.5 L1243.6 133.5 L1245.6 133.4 L1247.6 133.4 L1249.6 133.4 L1251.6 133.5 L1253.6 133.5 L1255.6 133.6 L1257.6 133.8 L1259.6 133.9 L1261.6 134.1 L1263.6 134.3 L1265.6 134.5 L1267.6 134.7 L1269.6 135 L1271.6 135.2 L1273.6 135.5 L1275.6 135.8 L1277.6 136.2 L1279.6 136.5 L1281.6 136.9 L1283.6 137.3 L1285.6 137.7 L1287.6 138.1 L1289.6 138.5 L1291.6 138.9 L1293.6 139.4 L1295.6 139.8 L1297.6 140.3 L1299.6 140.7 L1301.6 141.2 L1303.6 141.7 L1305.6 142.1 L1307.6 142.6 L1309.6 143.1 L1311.6 143.6 L1313.6 144.1 L1315.6 144.6 L1317.6 145.1 L1319.6 145.6 L1321.6 146.1 L1323.6 146.5 L1325.6 147 L1327.6 147.5 L1329.6 147.9 L1331.6 148.4 L1333.6 148.8 L1335.6 149.3 L1337.6 149.7 L1339.6 150.1 L1341.6 150.5 L1343.6 150.9 L1345.6 151.2 L1347.6 151.6 L1349.6 151.9 L1351.6 152.2 L1353.6 152.6 L1355.6 152.9 L1357.6 153.1 L1359.6 153.4 L1361.6 153.7 L1363.6 153.9 L1365.6 154.2 L1367.6 154.4 L1369.6 154.6 L1371.6 154.9 L1373.6 155.1 L1375.6 155.3 L1377.6 155.4 L1379.6 155.6 L1381.6 155.8 L1383.6 156 L1385.6 156.1 L1387.6 156.3 L1389.6 156.4 L1391.6 156.5 L1393.6 156.7 L1395.6 156.8 L1397.6 156.9 L1399.6 157 L1401.6 157.1 L1403.6 157.2 L1405.6 157.2 L1407.6 157.3 L1409.6 157.4 L1411.6 157.5 L1413.6 157.5 L1415.6 157.6 L1417.6 157.7 L1419.6 157.7 L1421.6 157.8 L1423.6 157.8 L1425.6 157.9 L1427.6 157.9 L1429.6 158 L1431.6 158 L1433.6 158.1 L1435.6 158.1 L1437.6 158.2 L1439.6 158.2 L1441.6 158.2 L1443.6 158.3 L1445.6 158.3 L1447.6 158.3 L1449.6 158.4 L1451.6 158.4 L1453.6 158.4 L1455.6 158.5 L1457.6 158.5 L1459.6 158.5 L1461.6 158.5 L1463.6 158.6 L1465.6 158.6 L1467.6 158.6 L1469.6 158.7 L1471.6 158.7 L1473.6 158.7 L1475.6 158.7 L1477.6 158.8 L1479.6 158.8 L1481.6 158.8 L1483.6 158.8 L1485.6 158.9 L1487.6 158.9 L1489.6 158.9 L1491.6 158.9 L1493.6 158.9 L1495.6 159 L1497.6 159 L1499.6 159 L1501.6 159 L1503.6 159 L1505.6 159 L1507.6 159.1 L1509.6 159.1 L1511.6 159.1 L1513.6 159.1 L1515.6 159.1 L1517.6 159.1 L1519.6 159.2 L1521.6 159.2 L1523.6 159.2 L1525.6 159.2 L1527.6 159.2 L1529.6 159.2 L1531.6 159.2 L1533.6 159.3 L1535.6 159.3 L1537.6 159.3 L1539.6 159.3 L1541.6 159.3 L1543.6 159.3 L1545.6 159.3 L1547.6 159.3 L1549.6 159.3 L1551.6 159.4 L1553.6 159.4 L1555.6 159.4 L1557.6 159.4 L1559.6 159.4 L1561.6 159.4" fill="none" stroke="#23862a" stroke-width="2.4" stroke-linejoin="round" stroke-linecap="round"/>
<path d="M855.6 151.1 L857.6 151.1 L859.6 151.1 L861.6 151.1 L863.6 151.1 L865.6 151.1 L867.6 151.1 L869.6 151.1 L871.6 151.1 L873.6 151.1 L875.6 151.1 L877.6 151.1 L879.6 151.1 L881.6 151.1 L883.6 151.2 L885.6 151.2 L887.6 151.2 L889.6 151.2 L891.6 151.2 L893.6 151.2 L895.6 151.2 L897.6 151.2 L899.6 151.2 L901.6 151.2 L903.6 151.2 L905.6 151.2 L907.6 151.2 L909.6 151.2 L911.6 151.2 L913.6 151.2 L915.6 151.2 L917.6 151.3 L919.6 151.3 L921.6 151.3 L923.6 151.3 L925.6 151.3 L927.6 151.3 L929.6 151.3 L931.6 151.3 L933.6 151.3 L935.6 151.3 L937.6 151.3 L939.6 151.3 L941.6 151.3 L943.6 151.4 L945.6 151.4 L947.6 151.4 L949.6 151.4 L951.6 151.4 L953.6 151.4 L955.6 151.4 L957.6 151.4 L959.6 151.4 L961.6 151.4 L963.6 151.4 L965.6 151.4 L967.6 151.5 L969.6 151.5 L971.6 151.5 L973.6 151.5 L975.6 151.5 L977.6 151.5 L979.6 151.5 L981.6 151.5 L983.6 151.5 L985.6 151.5 L987.6 151.5 L989.6 151.6 L991.6 151.6 L993.6 151.6 L995.6 151.6 L997.6 151.6 L999.6 151.6 L1001.6 151.6 L1003.6 151.6 L1005.6 151.6 L1007.6 151.6 L1009.6 151.6 L1011.6 151.7 L1013.6 151.7 L1015.6 151.7 L1017.6 151.7 L1019.6 151.7 L1021.6 151.7 L1023.6 151.7 L1025.6 151.7 L1027.6 151.8 L1029.6 151.8 L1031.6 151.8 L1033.6 151.8 L1035.6 151.8 L1037.6 151.8 L1039.6 151.8 L1041.6 151.8 L1043.6 151.9 L1045.6 151.9 L1047.6 151.9 L1049.6 151.9 L1051.6 151.9 L1053.6 151.9 L1055.6 151.9 L1057.6 152 L1059.6 152 L1061.6 152 L1063.6 152 L1065.6 152 L1067.6 152 L1069.6 152.1 L1071.6 152.1 L1073.6 152.1 L1075.6 152.1 L1077.6 152.1 L1079.6 152.1 L1081.6 152.1 L1083.6 152.2 L1085.6 152.2 L1087.6 152.2 L1089.6 152.2 L1091.6 152.2 L1093.6 152.2 L1095.6 152.3 L1097.6 152.3 L1099.6 152.3 L1101.6 152.3 L1103.6 152.3 L1105.6 152.4 L1107.6 152.4 L1109.6 152.4 L1111.6 152.4 L1113.6 152.4 L1115.6 152.5 L1117.6 152.5 L1119.6 152.5 L1121.6 152.5 L1123.6 152.5 L1125.6 152.6 L1127.6 152.6 L1129.6 152.6 L1131.6 152.6 L1133.6 152.7 L1135.6 152.7 L1137.6 152.7 L1139.6 152.7 L1141.6 152.7 L1143.6 152.7 L1145.6 152.8 L1147.6 152.8 L1149.6 152.8 L1151.6 152.8 L1153.6 152.8 L1155.6 152.8 L1157.6 152.9 L1159.6 152.9 L1161.6 152.9 L1163.6 152.9 L1165.6 152.9 L1167.6 152.9 L1169.6 152.9 L1171.6 152.9 L1173.6 152.9 L1175.6 152.9 L1177.6 153 L1179.6 153 L1181.6 153 L1183.6 153 L1185.6 153 L1187.6 153 L1189.6 153 L1191.6 153 L1193.6 153 L1195.6 153 L1197.6 153 L1199.6 153 L1201.6 153 L1203.6 153 L1205.6 153 L1207.6 152.9 L1209.6 152.9 L1211.6 152.9 L1213.6 152.8 L1215.6 152.8 L1217.6 152.8 L1219.6 152.7 L1221.6 152.6 L1223.6 152.6 L1225.6 152.5 L1227.6 152.4 L1229.6 152.2 L1231.6 152.1 L1233.6 151.9 L1235.6 151.8 L1237.6 151.6 L1239.6 151.3 L1241.6 151.1 L1243.6 150.8 L1245.6 150.5 L1247.6 150.2 L1249.6 149.8 L1251.6 149.4 L1253.6 149 L1255.6 148.5 L1257.6 148 L1259.6 147.5 L1261.6 146.9 L1263.6 146.3 L1265.6 145.6 L1267.6 144.9 L1269.6 144.1 L1271.6 143.4 L1273.6 142.5 L1275.6 141.7 L1277.6 140.8 L1279.6 139.9 L1281.6 139 L1283.6 138.1 L1285.6 137.1 L1287.6 136.1 L1289.6 135.2 L1291.6 134.2 L1293.6 133.2 L1295.6 132.3 L1297.6 131.4 L1299.6 130.5 L1301.6 129.6 L1303.6 128.8 L1305.6 128.1 L1307.6 127.4 L1309.6 126.8 L1311.6 126.2 L1313.6 125.7 L1315.6 125.3 L1317.6 125 L1319.6 124.8 L1321.6 124.7 L1323.6 124.6 L1325.6 124.7 L1327.6 124.8 L1329.6 125.1 L1331.6 125.5 L1333.6 126.1 L1335.6 126.8 L1337.6 127.6 L1339.6 128.5 L1341.6 129.5 L1343.6 130.6 L1345.6 131.7 L1347.6 132.9 L1349.6 134.2 L1351.6 135.5 L1353.6 136.8 L1355.6 138.1 L1357.6 139.4 L1359.6 140.7 L1361.6 142 L1363.6 143.2 L1365.6 144.4 L1367.6 145.6 L1369.6 146.7 L1371.6 147.7 L1373.6 148.7 L1375.6 149.6 L1377.6 150.5 L1379.6 151.3 L1381.6 152 L1383.6 152.7 L1385.6 153.3 L1387.6 153.9 L1389.6 154.4 L1391.6 154.8 L1393.6 155.2 L1395.6 155.6 L1397.6 155.9 L1399.6 156.2 L1401.6 156.5 L1403.6 156.7 L1405.6 156.9 L1407.6 157 L1409.6 157.2 L1411.6 157.3 L1413.6 157.4 L1415.6 157.5 L1417.6 157.6 L1419.6 157.7 L1421.6 157.8 L1423.6 157.9 L1425.6 157.9 L1427.6 158 L1429.6 158 L1431.6 158.1 L1433.6 158.1 L1435.6 158.2 L1437.6 158.2 L1439.6 158.2 L1441.6 158.3 L1443.6 158.3 L1445.6 158.3 L1447.6 158.4 L1449.6 158.4 L1451.6 158.4 L1453.6 158.4 L1455.6 158.5 L1457.6 158.5 L1459.6 158.5 L1461.6 158.6 L1463.6 158.6 L1465.6 158.6 L1467.6 158.6 L1469.6 158.7 L1471.6 158.7 L1473.6 158.7 L1475.6 158.7 L1477.6 158.8 L1479.6 158.8 L1481.6 158.8 L1483.6 158.8 L1485.6 158.9 L1487.6 158.9 L1489.6 158.9 L1491.6 158.9 L1493.6 158.9 L1495.6 159 L1497.6 159 L1499.6 159 L1501.6 159 L1503.6 159 L1505.6 159 L1507.6 159.1 L1509.6 159.1 L1511.6 159.1 L1513.6 159.1 L1515.6 159.1 L1517.6 159.1 L1519.6 159.2 L1521.6 159.2 L1523.6 159.2 L1525.6 159.2 L1527.6 159.2 L1529.6 159.2 L1531.6 159.2 L1533.6 159.3 L1535.6 159.3 L1537.6 159.3 L1539.6 159.3 L1541.6 159.3 L1543.6 159.3 L1545.6 159.3 L1547.6 159.3 L1549.6 159.3 L1551.6 159.4 L1553.6 159.4 L1555.6 159.4 L1557.6 159.4 L1559.6 159.4 L1561.6 159.4" fill="none" stroke="#2626d6" stroke-width="2.4" stroke-linejoin="round" stroke-linecap="round"/>
<path d="M855.6 151.1 L857.6 151.1 L859.6 151.1 L861.6 151.1 L863.6 151.1 L865.6 151.1 L867.6 151.1 L869.6 151.1 L871.6 151.1 L873.6 151.1 L875.6 151.1 L877.6 151.1 L879.6 151.1 L881.6 151.1 L883.6 151.2 L885.6 151.2 L887.6 151.2 L889.6 151.2 L891.6 151.2 L893.6 151.2 L895.6 151.2 L897.6 151.2 L899.6 151.2 L901.6 151.2 L903.6 151.2 L905.6 151.2 L907.6 151.2 L909.6 151.2 L911.6 151.2 L913.6 151.2 L915.6 151.2 L917.6 151.3 L919.6 151.3 L921.6 151.3 L923.6 151.3 L925.6 151.3 L927.6 151.3 L929.6 151.3 L931.6 151.3 L933.6 151.3 L935.6 151.3 L937.6 151.3 L939.6 151.3 L941.6 151.3 L943.6 151.4 L945.6 151.4 L947.6 151.4 L949.6 151.4 L951.6 151.4 L953.6 151.4 L955.6 151.4 L957.6 151.4 L959.6 151.4 L961.6 151.4 L963.6 151.4 L965.6 151.4 L967.6 151.5 L969.6 151.5 L971.6 151.5 L973.6 151.5 L975.6 151.5 L977.6 151.5 L979.6 151.5 L981.6 151.5 L983.6 151.5 L985.6 151.5 L987.6 151.5 L989.6 151.6 L991.6 151.6 L993.6 151.6 L995.6 151.6 L997.6 151.6 L999.6 151.6 L1001.6 151.6 L1003.6 151.6 L1005.6 151.6 L1007.6 151.6 L1009.6 151.6 L1011.6 151.7 L1013.6 151.7 L1015.6 151.7 L1017.6 151.7 L1019.6 151.7 L1021.6 151.7 L1023.6 151.7 L1025.6 151.7 L1027.6 151.8 L1029.6 151.8 L1031.6 151.8 L1033.6 151.8 L1035.6 151.8 L1037.6 151.8 L1039.6 151.8 L1041.6 151.8 L1043.6 151.9 L1045.6 151.9 L1047.6 151.9 L1049.6 151.9 L1051.6 151.9 L1053.6 151.9 L1055.6 151.9 L1057.6 152 L1059.6 152 L1061.6 152 L1063.6 152 L1065.6 152 L1067.6 152 L1069.6 152.1 L1071.6 152.1 L1073.6 152.1 L1075.6 152.1 L1077.6 152.1 L1079.6 152.1 L1081.6 152.1 L1083.6 152.2 L1085.6 152.2 L1087.6 152.2 L1089.6 152.2 L1091.6 152.2 L1093.6 152.2 L1095.6 152.3 L1097.6 152.3 L1099.6 152.3 L1101.6 152.3 L1103.6 152.3 L1105.6 152.4 L1107.6 152.4 L1109.6 152.4 L1111.6 152.4 L1113.6 152.4 L1115.6 152.5 L1117.6 152.5 L1119.6 152.5 L1121.6 152.5 L1123.6 152.5 L1125.6 152.6 L1127.6 152.6 L1129.6 152.6 L1131.6 152.6 L1133.6 152.7 L1135.6 152.7 L1137.6 152.7 L1139.6 152.7 L1141.6 152.7 L1143.6 152.7 L1145.6 152.8 L1147.6 152.8 L1149.6 152.8 L1151.6 152.8 L1153.6 152.8 L1155.6 152.8 L1157.6 152.9 L1159.6 152.9 L1161.6 152.9 L1163.6 152.9 L1165.6 152.9 L1167.6 152.9 L1169.6 152.9 L1171.6 152.9 L1173.6 152.9 L1175.6 153 L1177.6 153 L1179.6 153 L1181.6 153 L1183.6 153 L1185.6 153 L1187.6 153 L1189.6 153 L1191.6 153 L1193.6 153 L1195.6 153 L1197.6 153.1 L1199.6 153.1 L1201.6 153.1 L1203.6 153.1 L1205.6 153.1 L1207.6 153.1 L1209.6 153.1 L1211.6 153.1 L1213.6 153.1 L1215.6 153.1 L1217.6 153.1 L1219.6 153.1 L1221.6 153.2 L1223.6 153.2 L1225.6 153.2 L1227.6 153.2 L1229.6 153.2 L1231.6 153.2 L1233.6 153.2 L1235.6 153.2 L1237.6 153.2 L1239.6 153.2 L1241.6 153.2 L1243.6 153.1 L1245.6 153.1 L1247.6 153.1 L1249.6 153.1 L1251.6 153 L1253.6 153 L1255.6 152.9 L1257.6 152.8 L1259.6 152.7 L1261.6 152.6 L1263.6 152.5 L1265.6 152.3 L1267.6 152.1 L1269.6 151.9 L1271.6 151.6 L1273.6 151.3 L1275.6 150.9 L1277.6 150.5 L1279.6 150 L1281.6 149.5 L1283.6 148.8 L1285.6 148.1 L1287.6 147.3 L1289.6 146.5 L1291.6 145.5 L1293.6 144.4 L1295.6 143.2 L1297.6 141.8 L1299.6 140.4 L1301.6 138.8 L1303.6 137 L1305.6 135.2 L1307.6 133.2 L1309.6 131.1 L1311.6 128.8 L1313.6 126.4 L1315.6 123.9 L1317.6 121.3 L1319.6 118.5 L1321.6 115.7 L1323.6 112.7 L1325.6 109.7 L1327.6 106.6 L1329.6 103.5 L1331.6 100.4 L1333.6 97.2 L1335.6 94.1 L1337.6 91.1 L1339.6 88.1 L1341.6 85.2 L1343.6 82.5 L1345.6 79.9 L1347.6 77.5 L1349.6 75.2 L1351.6 73.3 L1353.6 71.5 L1355.6 70 L1357.6 68.8 L1359.6 67.9 L1361.6 67.3 L1363.6 67 L1365.6 67 L1367.6 67.4 L1369.6 68.2 L1371.6 69.4 L1373.6 70.9 L1375.6 72.8 L1377.6 75.1 L1379.6 77.6 L1381.6 80.4 L1383.6 83.4 L1385.6 86.7 L1387.6 90.1 L1389.6 93.6 L1391.6 97.2 L1393.6 100.9 L1395.6 104.6 L1397.6 108.2 L1399.6 111.9 L1401.6 115.4 L1403.6 118.9 L1405.6 122.2 L1407.6 125.4 L1409.6 128.4 L1411.6 131.3 L1413.6 134.1 L1415.6 136.6 L1417.6 139 L1419.6 141.1 L1421.6 143.1 L1423.6 145 L1425.6 146.6 L1427.6 148.1 L1429.6 149.5 L1431.6 150.7 L1433.6 151.8 L1435.6 152.7 L1437.6 153.6 L1439.6 154.3 L1441.6 155 L1443.6 155.5 L1445.6 156 L1447.6 156.4 L1449.6 156.8 L1451.6 157.1 L1453.6 157.4 L1455.6 157.6 L1457.6 157.8 L1459.6 157.9 L1461.6 158.1 L1463.6 158.2 L1465.6 158.3 L1467.6 158.4 L1469.6 158.5 L1471.6 158.5 L1473.6 158.6 L1475.6 158.7 L1477.6 158.7 L1479.6 158.7 L1481.6 158.8 L1483.6 158.8 L1485.6 158.8 L1487.6 158.9 L1489.6 158.9 L1491.6 158.9 L1493.6 158.9 L1495.6 159 L1497.6 159 L1499.6 159 L1501.6 159 L1503.6 159 L1505.6 159 L1507.6 159.1 L1509.6 159.1 L1511.6 159.1 L1513.6 159.1 L1515.6 159.1 L1517.6 159.1 L1519.6 159.2 L1521.6 159.2 L1523.6 159.2 L1525.6 159.2 L1527.6 159.2 L1529.6 159.2 L1531.6 159.2 L1533.6 159.3 L1535.6 159.3 L1537.6 159.3 L1539.6 159.3 L1541.6 159.3 L1543.6 159.3 L1545.6 159.3 L1547.6 159.3 L1549.6 159.3 L1551.6 159.4 L1553.6 159.4 L1555.6 159.4 L1557.6 159.4 L1559.6 159.4 L1561.6 159.4" fill="none" stroke="#e0282e" stroke-width="2.4" stroke-linejoin="round" stroke-linecap="round"/>
<path d="M855 151.1 L857 151.1 L859 151.1 L861 151.1 L863 151.1 L865 151.1 L867 151.1 L869 151.1 L871 151.1 L873 151.1 L875 151.1 L877 151.1 L879 151.1 L881 151.1 L883 151.2 L885 151.2 L887 151.2 L889 151.2 L891.1 151.2 L893.1 151.2 L895.1 151.2 L897.1 151.2 L899.1 151.2 L901.1 151.2 L903.1 151.2 L905.1 151.2 L907.1 151.2 L909.1 151.2 L911.1 151.2 L913.1 151.2 L915.1 151.2 L917.1 151.3 L919.1 151.3 L921.1 151.3 L923.1 151.3 L925.1 151.3 L927.1 151.3 L929.1 151.3 L931.1 151.3 L933.1 151.3 L935.1 151.3 L937.1 151.3 L939.1 151.3 L941.1 151.3 L943.1 151.3 L945.1 151.4 L947.1 151.4 L949.1 151.4 L951.1 151.4 L953.1 151.4 L955.1 151.4 L957.1 151.4 L959.1 151.4 L961.1 151.4 L963.2 151.4 L965.2 151.4 L967.2 151.4 L969.2 151.5 L971.2 151.5 L973.2 151.5 L975.2 151.5 L977.2 151.5 L979.2 151.5 L981.2 151.5 L983.2 151.5 L985.2 151.5 L987.2 151.5 L989.2 151.5 L991.2 151.6 L993.2 151.6 L995.2 151.6 L997.2 151.6 L999.2 151.6 L1001.2 151.6 L1003.2 151.6 L1005.2 151.6 L1007.2 151.6 L1009.2 151.6 L1011.2 151.7 L1013.2 151.7 L1015.2 151.7 L1017.2 151.7 L1019.2 151.7 L1021.2 151.7 L1023.2 151.7 L1025.2 151.7 L1027.2 151.8 L1029.2 151.8 L1031.2 151.8 L1033.3 151.8 L1035.3 151.8 L1037.3 151.8 L1039.3 151.8 L1041.3 151.8 L1043.3 151.9 L1045.3 151.9 L1047.3 151.9 L1049.3 151.9 L1051.3 151.9 L1053.3 151.9 L1055.3 151.9 L1057.3 152 L1059.3 152 L1061.3 152 L1063.3 152 L1065.3 152 L1067.3 152 L1069.3 152 L1071.3 152.1 L1073.3 152.1 L1075.3 152.1 L1077.3 152.1 L1079.3 152.1 L1081.3 152.1 L1083.3 152.2 L1085.3 152.2 L1087.3 152.2 L1089.3 152.2 L1091.3 152.2 L1093.3 152.2 L1095.3 152.3 L1097.3 152.3 L1099.3 152.3 L1101.3 152.3 L1103.4 152.3 L1105.4 152.3 L1107.4 152.4 L1109.4 152.4 L1111.4 152.4 L1113.4 152.4 L1115.4 152.5 L1117.4 152.5 L1119.4 152.5 L1121.4 152.5 L1123.4 152.5 L1125.4 152.6 L1127.4 152.6 L1129.4 152.6 L1131.4 152.6 L1133.4 152.6 L1135.4 152.7 L1137.4 152.7 L1139.4 152.7 L1141.4 152.7 L1143.4 152.7 L1145.4 152.8 L1147.4 152.8 L1149.4 152.8 L1151.4 152.8 L1153.4 152.8 L1155.4 152.8 L1157.4 152.9 L1159.4 152.9 L1161.4 152.9 L1163.4 152.9 L1165.4 152.9 L1167.4 152.9 L1169.4 152.9 L1171.4 152.9 L1173.4 152.9 L1175.5 153 L1177.5 153 L1179.5 153 L1181.5 153 L1183.5 153 L1185.5 153 L1187.5 153 L1189.5 153 L1191.5 153 L1193.5 153 L1195.5 153 L1197.5 153.1 L1199.5 153.1 L1201.5 153.1 L1203.5 153.1 L1205.5 153.1 L1207.5 153.1 L1209.5 153.1 L1211.5 153.1 L1213.5 153.1 L1215.5 153.1 L1217.5 153.1 L1219.5 153.2 L1221.5 153.2 L1223.5 153.2 L1225.5 153.2 L1227.5 153.2 L1229.5 153.2 L1231.5 153.2 L1233.5 153.2 L1235.5 153.2 L1237.5 153.2 L1239.5 153.3 L1241.5 153.3 L1243.5 153.3 L1245.6 153.3 L1247.6 153.3 L1249.6 153.3 L1251.6 153.3 L1253.6 153.3 L1255.6 153.3 L1257.6 153.4 L1259.6 153.4 L1261.6 153.4 L1263.6 153.4 L1265.6 153.4 L1267.6 153.4 L1269.6 153.5 L1271.6 153.5 L1273.6 153.5 L1275.6 153.5 L1277.6 153.5 L1279.6 153.5 L1281.6 153.6 L1283.6 153.6 L1285.6 153.6 L1287.6 153.6 L1289.6 153.7 L1291.6 153.7 L1293.6 153.7 L1295.6 153.7 L1297.6 153.8 L1299.6 153.8 L1301.6 153.8 L1303.6 153.9 L1305.6 153.9 L1307.6 154 L1309.6 154 L1311.6 154.1 L1313.6 154.2 L1315.6 154.2 L1317.7 154.3 L1319.7 154.4 L1321.7 154.5 L1323.7 154.6 L1325.7 154.7 L1327.7 154.8 L1329.7 154.9 L1331.7 154.9 L1333.7 155 L1335.7 155.1 L1337.7 155.2 L1339.7 155.3 L1341.7 155.4 L1343.7 155.5 L1345.7 155.6 L1347.7 155.7 L1349.7 155.8 L1351.7 155.9 L1353.7 155.9 L1355.7 156 L1357.7 156.1 L1359.7 156.2 L1361.7 156.2 L1363.7 156.3 L1365.7 156.4 L1367.7 156.5 L1369.7 156.5 L1371.7 156.6 L1373.7 156.7 L1375.7 156.8 L1377.7 156.8 L1379.7 156.9 L1381.7 157 L1383.7 157 L1385.7 157.1 L1387.8 157.2 L1389.8 157.2 L1391.8 157.3 L1393.8 157.3 L1395.8 157.4 L1397.8 157.4 L1399.8 157.5 L1401.8 157.5 L1403.8 157.6 L1405.8 157.6 L1407.8 157.7 L1409.8 157.7 L1411.8 157.8 L1413.8 157.8 L1415.8 157.8 L1417.8 157.9 L1419.8 157.9 L1421.8 158 L1423.8 158 L1425.8 158 L1427.8 158.1 L1429.8 158.1 L1431.8 158.1 L1433.8 158.2 L1435.8 158.2 L1437.8 158.2 L1439.8 158.2 L1441.8 158.3 L1443.8 158.3 L1445.8 158.3 L1447.8 158.4 L1449.8 158.4 L1451.8 158.4 L1453.8 158.5 L1455.8 158.5 L1457.9 158.5 L1459.9 158.5 L1461.9 158.6 L1463.9 158.6 L1465.9 158.6 L1467.9 158.6 L1469.9 158.7 L1471.9 158.7 L1473.9 158.7 L1475.9 158.7 L1477.9 158.8 L1479.9 158.8 L1481.9 158.8 L1483.9 158.8 L1485.9 158.9 L1487.9 158.9 L1489.9 158.9 L1491.9 158.9 L1493.9 158.9 L1495.9 159 L1497.9 159 L1499.9 159 L1501.9 159 L1503.9 159 L1505.9 159 L1507.9 159.1 L1509.9 159.1 L1511.9 159.1 L1513.9 159.1 L1515.9 159.1 L1517.9 159.1 L1519.9 159.2 L1521.9 159.2 L1523.9 159.2 L1525.9 159.2 L1527.9 159.2 L1530 159.2 L1532 159.2 L1534 159.3 L1536 159.3 L1538 159.3 L1540 159.3 L1542 159.3 L1544 159.3 L1546 159.3 L1548 159.3 L1550 159.3 L1552 159.4 L1554 159.4 L1556 159.4 L1558 159.4 L1560 159.4 L1562 159.4 L1564 159.4" fill="none" stroke="#14144e" stroke-width="2.4" stroke-linejoin="round" stroke-linecap="round"/>
<path d="M855 150.9 L857 150.9 L859 150.8 L861 150.8 L863 150.8 L865 150.7 L867 150.7 L869 150.7 L871 150.6 L873 150.6 L875 150.6 L877 150.5 L879 150.5 L881 150.5 L883 150.4 L885 150.4 L887 150.4 L889 150.3 L891 150.3 L893 150.3 L895 150.3 L897 150.2 L899 150.2 L901 150.2 L903 150.1 L905 150.1 L907 150 L909 150 L911 150 L913 149.9 L915 149.9 L917 149.8 L919 149.8 L921 149.7 L923 149.7 L925 149.6 L927 149.6 L929 149.5 L931 149.5 L933 149.4 L935 149.4 L937 149.3 L939 149.2 L941 149.2 L943 149.1 L945 149 L947 149 L949 148.9 L951 148.8 L953 148.7 L955 148.6 L957 148.5 L959 148.4 L961 148.3 L963 148.2 L965 148.1 L967 148 L969 147.9 L971 147.8 L973 147.7 L975 147.6 L977 147.4 L979 147.3 L981 147.2 L983 147 L985 146.9 L987 146.7 L989 146.6 L991 146.4 L993 146.3 L995 146.1 L997 145.9 L999 145.7 L1001 145.6 L1003 145.4 L1005 145.2 L1007 145 L1009 144.8 L1011 144.6 L1013 144.4 L1015 144.2 L1017 144 L1019 143.8 L1021 143.6 L1023 143.4 L1025 143.2 L1027 143 L1029 142.7 L1031 142.5 L1033 142.3 L1035 142.1 L1037 141.8 L1039 141.6 L1041 141.4 L1043 141.1 L1045 140.9 L1047 140.6 L1049 140.4 L1051 140.2 L1053 139.9 L1055 139.7 L1057 139.4 L1059 139.2 L1061 138.9 L1063 138.7 L1065 138.4 L1067 138.2 L1069 137.9 L1071 137.7 L1073 137.4 L1075 137.2 L1077 136.9 L1079 136.7 L1081 136.4 L1083 136.2 L1085 136 L1087 135.7 L1089 135.5 L1091 135.3 L1093 135.1 L1095 135 L1097 134.8 L1099 134.7 L1101 134.6 L1103 134.5 L1105 134.5 L1107 134.4 L1109 134.4 L1111 134.4 L1113 134.5 L1115 134.6 L1117 134.7 L1119 134.9 L1121 135 L1123 135.2 L1125 135.4 L1127 135.6 L1129 135.8 L1131 135.9 L1133 136.1 L1135 136.2 L1137 136.4 L1139 136.5 L1141 136.6 L1143 136.8 L1145 136.9 L1147 137 L1149 137 L1151 137.1 L1153 137.1 L1155 137.2 L1157 137.2 L1159 137.2 L1161 137.2 L1163 137.2 L1165 137.2 L1167 137.1 L1169 137.1 L1171 137 L1173 136.9 L1175 136.8 L1177 136.6 L1179 136.5 L1181 136.3 L1183 136.1 L1185 135.9 L1187 135.7 L1189 135.4 L1191 135.2 L1193 134.9 L1195 134.6 L1197 134.2 L1199 133.9 L1201 133.6 L1203 133.2 L1205 132.8 L1207 132.4 L1209 132 L1211 131.6 L1213 131.2 L1215 130.8 L1217 130.3 L1219 129.9 L1221 129.5 L1223 129 L1225 128.6 L1227 128.2 L1229 127.7 L1231 127.3 L1233 126.9 L1235 126.4 L1237 126 L1239 125.6 L1241 125.2 L1243 124.8 L1245 124.4 L1247 124 L1249 123.6 L1251 123.3 L1253 122.9 L1255 122.5 L1257 122.1 L1259 121.6 L1261 121.2 L1263 120.7 L1265 120.1 L1267 119.6 L1269 118.9 L1271 118.3 L1273 117.5 L1275 116.7 L1277 115.9 L1279 114.9 L1281 113.9 L1283 112.8 L1285 111.6 L1287 110.4 L1289 109 L1291 107.5 L1293 106 L1295 104.4 L1297 102.6 L1299 100.8 L1301 98.9 L1303 96.9 L1305 94.8 L1307 92.6 L1309 90.3 L1311 87.9 L1313 85.4 L1315 82.8 L1317 80.1 L1319 77.3 L1321 74.5 L1323 71.7 L1325 68.9 L1327 66.1 L1329 63.4 L1331 60.7 L1333 58.2 L1335 55.8 L1337 53.5 L1339 51.5 L1341 49.6 L1343 48 L1345 46.7 L1347 45.6 L1349 44.8 L1351 44.3 L1353 43.9 L1355 43.8 L1357 43.8 L1359 43.9 L1361 44.4 L1363 45.2 L1365 46.3 L1367 48 L1369 50.1 L1371 52.8 L1373 56 L1375 59.5 L1377 63.1 L1379 66.7 L1381 70.2 L1383 73.3 L1385 76.3 L1387 79.4 L1389 82.8 L1391 86.6 L1393 90.7 L1395 95.1 L1397 99.6 L1399 104.2 L1401 108.6 L1403 112.9 L1405 116.9 L1407 120.8 L1409 124.5 L1411 128 L1413 131.2 L1415 134.2 L1417 137 L1419 139.5 L1421 141.8 L1423 143.9 L1425 145.7 L1427 147.3 L1429 148.6 L1431 149.9 L1433 150.9 L1435 151.8 L1437 152.6 L1439 153.2 L1441 153.8 L1443 154.3 L1445 154.7 L1447 155 L1449 155.3 L1451 155.6 L1453 155.9 L1455 156.2 L1457 156.5 L1459 156.7 L1461 157 L1463 157.2 L1465 157.4 L1467 157.6 L1469 157.8 L1471 158 L1473 158.2 L1475 158.3 L1477 158.5 L1479 158.6 L1481 158.7 L1483 158.8 L1485 158.9 L1487 159 L1489 159 L1491 159.1 L1493 159.2 L1495 159.2 L1497 159.2 L1499 159.3 L1501 159.3 L1503 159.3 L1505 159.3 L1507 159.3 L1509 159.3 L1511 159.3 L1513 159.3 L1515 159.3 L1517 159.3 L1519 159.3 L1521 159.2 L1523 159.2 L1525 159.2 L1527 159.2 L1529 159.2 L1531 159.2 L1533 159.1 L1535 159.1 L1537 159.1 L1539 159.1 L1541 159.1 L1543 159.1 L1545 159.1 L1547 159.1 L1549 159.1 L1551 159.2 L1553 159.2 L1555 159.2 L1557 159.3 L1559 159.3 L1561 159.4 L1563 159.5" fill="none" stroke="#151515" stroke-width="2.7" stroke-linejoin="round" stroke-linecap="round"/>
<path d="M855 150.9 L857 150.9 L859 150.8 L861 150.8 L863 150.8 L865 150.7 L867 150.7 L869 150.7 L871 150.6 L873 150.6 L875 150.6 L877 150.5 L879 150.5 L881 150.5 L883 150.4 L885 150.4 L887 150.4 L889 150.3 L891 150.3 L893 150.3 L895 150.3 L897 150.2 L899 150.2 L901 150.2 L903 150.1 L905 150.1 L907 150 L909 150 L911 150 L913 149.9 L915 149.9 L917 149.8 L919 149.8 L921 149.7 L923 149.7 L925 149.6 L927 149.6 L929 149.5 L931 149.5 L933 149.4 L935 149.4 L937 149.3 L939 149.2 L941 149.2 L943 149.1 L945 149 L947 149 L949 148.9 L951 148.8 L953 148.7 L955 148.6 L957 148.5 L959 148.4 L961 148.3 L963 148.2 L965 148.1 L967 148 L969 147.9 L971 147.8 L973 147.7 L975 147.6 L977 147.4 L979 147.3 L981 147.2 L983 147 L985 146.9 L987 146.7 L989 146.6 L991 146.4 L993 146.3 L995 146.1 L997 145.9 L999 145.7 L1001 145.6 L1003 145.4 L1005 145.2 L1007 145 L1009 144.8 L1011 144.6 L1013 144.4 L1015 144.2 L1017 144 L1019 143.8 L1021 143.6 L1023 143.4 L1025 143.2 L1027 143 L1029 142.7 L1031 142.5 L1033 142.3 L1035 142.1 L1037 141.8 L1039 141.6 L1041 141.4 L1043 141.1 L1045 140.9 L1047 140.6 L1049 140.4 L1051 140.2 L1053 139.9 L1055 139.7 L1057 139.4 L1059 139.2 L1061 138.9 L1063 138.7 L1065 138.4 L1067 138.2 L1069 137.9 L1071 137.7 L1073 137.4 L1075 137.2 L1077 136.9 L1079 136.7 L1081 136.4 L1083 136.2 L1085 136 L1087 135.7 L1089 135.5 L1091 135.3 L1093 135.1 L1095 135 L1097 134.8 L1099 134.7 L1101 134.6 L1103 134.5 L1105 134.5 L1107 134.4 L1109 134.4 L1111 134.4 L1113 134.5 L1115 134.6 L1117 134.7 L1119 134.9 L1121 135 L1123 135.2 L1125 135.4 L1127 135.6 L1129 135.8 L1131 135.9 L1133 136.1 L1135 136.2 L1137 136.4 L1139 136.5 L1141 136.6 L1143 136.8 L1145 136.9 L1147 137 L1149 137 L1151 137.1 L1153 137.1 L1155 137.2 L1157 137.2 L1159 137.2 L1161 137.2 L1163 137.2 L1165 137.2 L1167 137.1 L1169 137.1 L1171 137 L1173 136.9 L1175 136.8 L1177 136.6 L1179 136.5 L1181 136.3 L1183 136.1 L1185 135.9 L1187 135.7 L1189 135.4 L1191 135.2 L1193 134.9 L1195 134.6 L1197 134.2 L1199 133.9 L1201 133.6 L1203 133.2 L1205 132.8 L1207 132.4 L1209 132 L1211 131.6 L1213 131.2 L1215 130.8 L1217 130.3 L1219 129.9 L1221 129.5 L1223 129 L1225 128.6 L1227 128.2 L1229 127.7 L1231 127.3 L1233 126.9 L1235 126.4 L1237 126 L1239 125.6 L1241 125.2 L1243 124.8 L1245 124.4 L1247 124 L1249 123.6 L1251 123.3 L1253 122.9 L1255 122.5 L1257 122.1 L1259 121.6 L1261 121.2 L1263 120.7 L1265 120.1 L1267 119.6 L1269 118.9 L1271 118.3 L1273 117.5 L1275 116.7 L1277 115.9 L1279 114.9 L1281 113.9 L1283 112.8 L1285 111.6 L1287 110.4 L1289 109 L1291 107.5 L1293 106 L1295 104.4 L1297 102.6 L1299 100.8 L1301 98.9 L1303 96.9 L1305 94.8 L1307 92.6 L1309 90.3 L1311 87.9 L1313 85.4 L1315 82.8 L1317 80.1 L1319 77.3 L1321 74.5 L1323 71.7 L1325 68.9 L1327 66.1 L1329 63.4 L1331 60.7 L1333 58.2 L1335 55.8 L1337 53.5 L1339 51.5 L1341 49.6 L1343 48 L1345 46.7 L1347 45.6 L1349 44.8 L1351 44.3 L1353 43.9 L1355 43.8 L1357 43.8 L1359 43.9 L1361 44.4 L1363 45.2 L1365 46.3 L1367 48 L1369 50.1 L1371 52.8 L1373 56 L1375 59.5 L1377 63.1 L1379 66.7 L1381 70.2 L1383 73.3 L1385 76.3 L1387 79.4 L1389 82.8 L1391 86.6 L1393 90.7 L1395 95.1 L1397 99.6 L1399 104.2 L1401 108.6 L1403 112.9 L1405 116.9 L1407 120.8 L1409 124.5 L1411 128 L1413 131.2 L1415 134.2 L1417 137 L1419 139.5 L1421 141.8 L1423 143.9 L1425 145.7 L1427 147.3 L1429 148.6 L1431 149.9 L1433 150.9 L1435 151.8 L1437 152.6 L1439 153.2 L1441 153.8 L1443 154.3 L1445 154.7 L1447 155 L1449 155.3 L1451 155.6 L1453 155.9 L1455 156.2 L1457 156.5 L1459 156.7 L1461 157 L1463 157.2 L1465 157.4 L1467 157.6 L1469 157.8 L1471 158 L1473 158.2 L1475 158.3 L1477 158.5 L1479 158.6 L1481 158.7 L1483 158.8 L1485 158.9 L1487 159 L1489 159 L1491 159.1 L1493 159.2 L1495 159.2 L1497 159.2 L1499 159.3 L1501 159.3 L1503 159.3 L1505 159.3 L1507 159.3 L1509 159.3 L1511 159.3 L1513 159.3 L1515 159.3 L1517 159.3 L1519 159.3 L1521 159.2 L1523 159.2 L1525 159.2 L1527 159.2 L1529 159.2 L1531 159.2 L1533 159.1 L1535 159.1 L1537 159.1 L1539 159.1 L1541 159.1 L1543 159.1 L1545 159.1 L1547 159.1 L1549 159.1 L1551 159.2 L1553 159.2 L1555 159.2 L1557 159.3 L1559 159.3 L1561 159.4 L1563 159.5" fill="none" stroke="#7a1ee0" stroke-width="2.3" stroke-linejoin="round" stroke-linecap="round"/>
<path d="M855.6 284.4 L857.6 284.3 L859.6 284.3 L861.6 284.3 L863.6 284.3 L865.6 284.3 L867.6 284.3 L869.6 284.3 L871.6 284.3 L873.6 284.3 L875.6 284.3 L877.6 284.3 L879.6 284.3 L881.6 284.3 L883.6 284.2 L885.6 284.2 L887.6 284.2 L889.6 284.2 L891.6 284.2 L893.6 284.2 L895.6 284.2 L897.6 284.1 L899.6 284.1 L901.6 284.1 L903.6 284.1 L905.6 284 L907.6 284 L909.6 284 L911.6 284 L913.6 283.9 L915.6 283.9 L917.6 283.9 L919.6 283.8 L921.6 283.8 L923.6 283.7 L925.6 283.7 L927.6 283.7 L929.6 283.6 L931.6 283.6 L933.6 283.5 L935.6 283.4 L937.6 283.4 L939.6 283.3 L941.6 283.3 L943.6 283.2 L945.6 283.1 L947.6 283 L949.6 283 L951.6 282.9 L953.6 282.8 L955.6 282.7 L957.6 282.6 L959.6 282.5 L961.6 282.4 L963.6 282.3 L965.6 282.2 L967.6 282.1 L969.6 282 L971.6 281.9 L973.6 281.7 L975.6 281.6 L977.6 281.5 L979.6 281.3 L981.6 281.2 L983.6 281 L985.6 280.9 L987.6 280.7 L989.6 280.6 L991.6 280.4 L993.6 280.3 L995.6 280.1 L997.6 279.9 L999.6 279.7 L1001.6 279.6 L1003.6 279.4 L1005.6 279.2 L1007.6 279 L1009.6 278.8 L1011.6 278.6 L1013.6 278.4 L1015.6 278.2 L1017.6 278 L1019.6 277.8 L1021.6 277.6 L1023.6 277.4 L1025.6 277.2 L1027.6 277 L1029.6 276.7 L1031.6 276.5 L1033.6 276.3 L1035.6 276.1 L1037.6 275.9 L1039.6 275.7 L1041.6 275.5 L1043.6 275.3 L1045.6 275.1 L1047.6 274.9 L1049.6 274.7 L1051.6 274.5 L1053.6 274.3 L1055.6 274.1 L1057.6 273.9 L1059.6 273.7 L1061.6 273.5 L1063.6 273.4 L1065.6 273.2 L1067.6 273 L1069.6 272.9 L1071.6 272.7 L1073.6 272.6 L1075.6 272.4 L1077.6 272.3 L1079.6 272.2 L1081.6 272 L1083.6 271.9 L1085.6 271.8 L1087.6 271.7 L1089.6 271.7 L1091.6 271.6 L1093.6 271.5 L1095.6 271.5 L1097.6 271.4 L1099.6 271.4 L1101.6 271.3 L1103.6 271.3 L1105.6 271.4 L1107.6 271.4 L1109.6 271.5 L1111.6 271.5 L1113.6 271.7 L1115.6 271.8 L1117.6 271.9 L1119.6 272.1 L1121.6 272.3 L1123.6 272.5 L1125.6 272.7 L1127.6 273 L1129.6 273.2 L1131.6 273.5 L1133.6 273.7 L1135.6 274 L1137.6 274.3 L1139.6 274.6 L1141.6 274.9 L1143.6 275.1 L1145.6 275.4 L1147.6 275.7 L1149.6 276 L1151.6 276.2 L1153.6 276.5 L1155.6 276.8 L1157.6 277.1 L1159.6 277.4 L1161.6 277.6 L1163.6 277.9 L1165.6 278.2 L1167.6 278.5 L1169.6 278.8 L1171.6 279.1 L1173.6 279.4 L1175.6 279.7 L1177.6 279.9 L1179.6 280.2 L1181.6 280.5 L1183.6 280.7 L1185.6 281 L1187.6 281.3 L1189.6 281.5 L1191.6 281.8 L1193.6 282 L1195.6 282.2 L1197.6 282.5 L1199.6 282.7 L1201.6 282.9 L1203.6 283.1 L1205.6 283.3 L1207.6 283.5 L1209.6 283.7 L1211.6 283.9 L1213.6 284.1 L1215.6 284.2 L1217.6 284.4 L1219.6 284.6 L1221.6 284.7 L1223.6 284.8 L1225.6 285 L1227.6 285.1 L1229.6 285.2 L1231.6 285.4 L1233.6 285.5 L1235.6 285.6 L1237.6 285.7 L1239.6 285.8 L1241.6 285.9 L1243.6 286 L1245.6 286.1 L1247.6 286.1 L1249.6 286.2 L1251.6 286.3 L1253.6 286.4 L1255.6 286.4 L1257.6 286.5 L1259.6 286.6 L1261.6 286.6 L1263.6 286.7 L1265.6 286.8 L1267.6 286.8 L1269.6 286.9 L1271.6 287 L1273.6 287.1 L1275.6 287.2 L1277.6 287.3 L1279.6 287.4 L1281.6 287.5 L1283.6 287.6 L1285.6 287.7 L1287.6 287.8 L1289.6 287.9 L1291.6 288 L1293.6 288.2 L1295.6 288.3 L1297.6 288.4 L1299.6 288.5 L1301.6 288.7 L1303.6 288.8 L1305.6 288.9 L1307.6 289.1 L1309.6 289.2 L1311.6 289.3 L1313.6 289.4 L1315.6 289.6 L1317.6 289.7 L1319.6 289.8 L1321.6 289.9 L1323.6 290 L1325.6 290.1 L1327.6 290.2 L1329.6 290.4 L1331.6 290.5 L1333.6 290.6 L1335.6 290.7 L1337.6 290.9 L1339.6 291 L1341.6 291.1 L1343.6 291.2 L1345.6 291.4 L1347.6 291.5 L1349.6 291.6 L1351.6 291.7 L1353.6 291.8 L1355.6 291.9 L1357.6 292 L1359.6 292.1 L1361.6 292.2 L1363.6 292.3 L1365.6 292.4 L1367.6 292.5 L1369.6 292.6 L1371.6 292.7 L1373.6 292.8 L1375.6 292.9 L1377.6 292.9 L1379.6 293 L1381.6 293.1 L1383.6 293.2 L1385.6 293.3 L1387.6 293.4 L1389.6 293.5 L1391.6 293.6 L1393.6 293.6 L1395.6 293.7 L1397.6 293.8 L1399.6 293.9 L1401.6 293.9 L1403.6 294 L1405.6 294.1 L1407.6 294.2 L1409.6 294.2 L1411.6 294.3 L1413.6 294.4 L1415.6 294.4 L1417.6 294.5 L1419.6 294.5 L1421.6 294.6 L1423.6 294.6 L1425.6 294.7 L1427.6 294.7 L1429.6 294.8 L1431.6 294.8 L1433.6 294.9 L1435.6 294.9 L1437.6 295 L1439.6 295 L1441.6 295.1 L1443.6 295.1 L1445.6 295.2 L1447.6 295.2 L1449.6 295.3 L1451.6 295.3 L1453.6 295.3 L1455.6 295.4 L1457.6 295.4 L1459.6 295.5 L1461.6 295.5 L1463.6 295.5 L1465.6 295.6 L1467.6 295.6 L1469.6 295.6 L1471.6 295.7 L1473.6 295.7 L1475.6 295.7 L1477.6 295.8 L1479.6 295.8 L1481.6 295.8 L1483.6 295.9 L1485.6 295.9 L1487.6 295.9 L1489.6 295.9 L1491.6 295.9 L1493.6 296 L1495.6 296 L1497.6 296 L1499.6 296 L1501.6 296 L1503.6 296 L1505.6 296 L1507.6 296 L1509.6 296 L1511.6 296.1 L1513.6 296.1 L1515.6 296.1 L1517.6 296.1 L1519.6 296.1 L1521.6 296.1 L1523.6 296.1 L1525.6 296.1 L1527.6 296.1 L1529.6 296.1 L1531.6 296.1 L1533.6 296.1 L1535.6 296.2 L1537.6 296.2 L1539.6 296.2 L1541.6 296.2 L1543.6 296.2 L1545.6 296.2 L1547.6 296.2 L1549.6 296.2 L1551.6 296.2 L1553.6 296.2 L1555.6 296.2 L1557.6 296.2 L1559.6 296.2 L1561.6 296.2" fill="none" stroke="#e02ee0" stroke-width="2.4" stroke-linejoin="round" stroke-linecap="round"/>
<path d="M855.6 284.4 L857.6 284.4 L859.6 284.4 L861.6 284.4 L863.6 284.4 L865.6 284.4 L867.6 284.4 L869.6 284.4 L871.6 284.4 L873.6 284.4 L875.6 284.4 L877.6 284.4 L879.6 284.4 L881.6 284.4 L883.6 284.4 L885.6 284.4 L887.6 284.4 L889.6 284.4 L891.6 284.4 L893.6 284.4 L895.6 284.4 L897.6 284.4 L899.6 284.4 L901.6 284.4 L903.6 284.4 L905.6 284.4 L907.6 284.4 L909.6 284.4 L911.6 284.4 L913.6 284.4 L915.6 284.4 L917.6 284.4 L919.6 284.4 L921.6 284.4 L923.6 284.4 L925.6 284.4 L927.6 284.4 L929.6 284.4 L931.6 284.4 L933.6 284.4 L935.6 284.4 L937.6 284.4 L939.6 284.4 L941.6 284.4 L943.6 284.4 L945.6 284.4 L947.6 284.4 L949.6 284.4 L951.6 284.4 L953.6 284.4 L955.6 284.4 L957.6 284.4 L959.6 284.4 L961.6 284.4 L963.6 284.4 L965.6 284.4 L967.6 284.4 L969.6 284.4 L971.6 284.4 L973.6 284.4 L975.6 284.4 L977.6 284.4 L979.6 284.4 L981.6 284.4 L983.6 284.4 L985.6 284.4 L987.6 284.4 L989.6 284.4 L991.6 284.4 L993.6 284.4 L995.6 284.4 L997.6 284.4 L999.6 284.4 L1001.6 284.4 L1003.6 284.4 L1005.6 284.4 L1007.6 284.4 L1009.6 284.4 L1011.6 284.4 L1013.6 284.4 L1015.6 284.4 L1017.6 284.4 L1019.6 284.4 L1021.6 284.4 L1023.6 284.4 L1025.6 284.4 L1027.6 284.4 L1029.6 284.4 L1031.6 284.4 L1033.6 284.4 L1035.6 284.4 L1037.6 284.4 L1039.6 284.4 L1041.6 284.4 L1043.6 284.4 L1045.6 284.4 L1047.6 284.4 L1049.6 284.4 L1051.6 284.4 L1053.6 284.4 L1055.6 284.4 L1057.6 284.4 L1059.6 284.4 L1061.6 284.4 L1063.6 284.4 L1065.6 284.4 L1067.6 284.4 L1069.6 284.4 L1071.6 284.4 L1073.6 284.4 L1075.6 284.4 L1077.6 284.4 L1079.6 284.4 L1081.6 284.3 L1083.6 284.3 L1085.6 284.3 L1087.6 284.3 L1089.6 284.3 L1091.6 284.2 L1093.6 284.2 L1095.6 284.2 L1097.6 284.2 L1099.6 284.1 L1101.6 284.1 L1103.6 284.1 L1105.6 284.1 L1107.6 284 L1109.6 284 L1111.6 284 L1113.6 284.1 L1115.6 284.1 L1117.6 284.1 L1119.6 284.1 L1121.6 284.1 L1123.6 284.1 L1125.6 284 L1127.6 284 L1129.6 284 L1131.6 284 L1133.6 283.9 L1135.6 283.8 L1137.6 283.7 L1139.6 283.6 L1141.6 283.5 L1143.6 283.4 L1145.6 283.2 L1147.6 283 L1149.6 282.8 L1151.6 282.6 L1153.6 282.3 L1155.6 282 L1157.6 281.7 L1159.6 281.4 L1161.6 281.1 L1163.6 280.8 L1165.6 280.4 L1167.6 280.1 L1169.6 279.7 L1171.6 279.3 L1173.6 278.9 L1175.6 278.4 L1177.6 278 L1179.6 277.5 L1181.6 277 L1183.6 276.5 L1185.6 276 L1187.6 275.5 L1189.6 274.9 L1191.6 274.4 L1193.6 273.8 L1195.6 273.2 L1197.6 272.6 L1199.6 272 L1201.6 271.4 L1203.6 270.8 L1205.6 270.2 L1207.6 269.5 L1209.6 268.9 L1211.6 268.2 L1213.6 267.6 L1215.6 266.9 L1217.6 266.3 L1219.6 265.6 L1221.6 264.9 L1223.6 264.3 L1225.6 263.7 L1227.6 263 L1229.6 262.4 L1231.6 261.8 L1233.6 261.2 L1235.6 260.6 L1237.6 260 L1239.6 259.5 L1241.6 258.9 L1243.6 258.4 L1245.6 257.9 L1247.6 257.5 L1249.6 257 L1251.6 256.6 L1253.6 256.2 L1255.6 255.9 L1257.6 255.5 L1259.6 255.2 L1261.6 255 L1263.6 254.7 L1265.6 254.5 L1267.6 254.4 L1269.6 254.3 L1271.6 254.2 L1273.6 254.2 L1275.6 254.2 L1277.6 254.3 L1279.6 254.4 L1281.6 254.5 L1283.6 254.7 L1285.6 254.9 L1287.6 255.1 L1289.6 255.4 L1291.6 255.7 L1293.6 256 L1295.6 256.4 L1297.6 256.7 L1299.6 257.2 L1301.6 257.6 L1303.6 258.1 L1305.6 258.5 L1307.6 259 L1309.6 259.6 L1311.6 260.1 L1313.6 260.7 L1315.6 261.2 L1317.6 261.8 L1319.6 262.4 L1321.6 263.1 L1323.6 263.7 L1325.6 264.3 L1327.6 265 L1329.6 265.7 L1331.6 266.3 L1333.6 267 L1335.6 267.7 L1337.6 268.4 L1339.6 269.2 L1341.6 269.9 L1343.6 270.6 L1345.6 271.3 L1347.6 272 L1349.6 272.7 L1351.6 273.4 L1353.6 274.1 L1355.6 274.8 L1357.6 275.4 L1359.6 276.1 L1361.6 276.8 L1363.6 277.4 L1365.6 278.1 L1367.6 278.7 L1369.6 279.3 L1371.6 279.9 L1373.6 280.6 L1375.6 281.1 L1377.6 281.7 L1379.6 282.3 L1381.6 282.9 L1383.6 283.4 L1385.6 283.9 L1387.6 284.4 L1389.6 284.9 L1391.6 285.4 L1393.6 285.9 L1395.6 286.4 L1397.6 286.8 L1399.6 287.2 L1401.6 287.7 L1403.6 288.1 L1405.6 288.5 L1407.6 288.8 L1409.6 289.2 L1411.6 289.5 L1413.6 289.9 L1415.6 290.2 L1417.6 290.5 L1419.6 290.8 L1421.6 291.1 L1423.6 291.3 L1425.6 291.6 L1427.6 291.8 L1429.6 292.1 L1431.6 292.3 L1433.6 292.5 L1435.6 292.7 L1437.6 292.9 L1439.6 293.1 L1441.6 293.3 L1443.6 293.4 L1445.6 293.6 L1447.6 293.8 L1449.6 293.9 L1451.6 294 L1453.6 294.2 L1455.6 294.3 L1457.6 294.4 L1459.6 294.5 L1461.6 294.6 L1463.6 294.8 L1465.6 294.8 L1467.6 294.9 L1469.6 295 L1471.6 295.1 L1473.6 295.2 L1475.6 295.3 L1477.6 295.3 L1479.6 295.4 L1481.6 295.5 L1483.6 295.5 L1485.6 295.6 L1487.6 295.6 L1489.6 295.7 L1491.6 295.7 L1493.6 295.7 L1495.6 295.8 L1497.6 295.8 L1499.6 295.8 L1501.6 295.9 L1503.6 295.9 L1505.6 295.9 L1507.6 295.9 L1509.6 295.9 L1511.6 296 L1513.6 296 L1515.6 296 L1517.6 296 L1519.6 296 L1521.6 296 L1523.6 296.1 L1525.6 296.1 L1527.6 296.1 L1529.6 296.1 L1531.6 296.1 L1533.6 296.1 L1535.6 296.1 L1537.6 296.1 L1539.6 296.1 L1541.6 296.2 L1543.6 296.2 L1545.6 296.2 L1547.6 296.2 L1549.6 296.2 L1551.6 296.2 L1553.6 296.2 L1555.6 296.2 L1557.6 296.2 L1559.6 296.2 L1561.6 296.2" fill="none" stroke="#2626d6" stroke-width="2.4" stroke-linejoin="round" stroke-linecap="round"/>
<path d="M855.6 284.4 L857.6 284.4 L859.6 284.4 L861.6 284.4 L863.6 284.4 L865.6 284.4 L867.6 284.4 L869.6 284.4 L871.6 284.4 L873.6 284.4 L875.6 284.4 L877.6 284.4 L879.6 284.4 L881.6 284.4 L883.6 284.4 L885.6 284.4 L887.6 284.4 L889.6 284.4 L891.6 284.4 L893.6 284.4 L895.6 284.4 L897.6 284.4 L899.6 284.4 L901.6 284.4 L903.6 284.4 L905.6 284.4 L907.6 284.4 L909.6 284.4 L911.6 284.4 L913.6 284.4 L915.6 284.4 L917.6 284.4 L919.6 284.4 L921.6 284.4 L923.6 284.4 L925.6 284.4 L927.6 284.4 L929.6 284.4 L931.6 284.4 L933.6 284.4 L935.6 284.4 L937.6 284.4 L939.6 284.4 L941.6 284.4 L943.6 284.4 L945.6 284.4 L947.6 284.4 L949.6 284.4 L951.6 284.4 L953.6 284.4 L955.6 284.4 L957.6 284.4 L959.6 284.4 L961.6 284.4 L963.6 284.4 L965.6 284.4 L967.6 284.4 L969.6 284.4 L971.6 284.4 L973.6 284.4 L975.6 284.4 L977.6 284.4 L979.6 284.4 L981.6 284.4 L983.6 284.4 L985.6 284.4 L987.6 284.4 L989.6 284.4 L991.6 284.4 L993.6 284.4 L995.6 284.4 L997.6 284.4 L999.6 284.4 L1001.6 284.4 L1003.6 284.4 L1005.6 284.4 L1007.6 284.4 L1009.6 284.4 L1011.6 284.4 L1013.6 284.4 L1015.6 284.4 L1017.6 284.4 L1019.6 284.4 L1021.6 284.4 L1023.6 284.4 L1025.6 284.4 L1027.6 284.4 L1029.6 284.4 L1031.6 284.4 L1033.6 284.4 L1035.6 284.4 L1037.6 284.4 L1039.6 284.4 L1041.6 284.4 L1043.6 284.4 L1045.6 284.4 L1047.6 284.4 L1049.6 284.4 L1051.6 284.5 L1053.6 284.5 L1055.6 284.5 L1057.6 284.5 L1059.6 284.5 L1061.6 284.5 L1063.6 284.5 L1065.6 284.5 L1067.6 284.5 L1069.6 284.5 L1071.6 284.5 L1073.6 284.5 L1075.6 284.5 L1077.6 284.5 L1079.6 284.5 L1081.6 284.5 L1083.6 284.5 L1085.6 284.5 L1087.6 284.6 L1089.6 284.6 L1091.6 284.6 L1093.6 284.6 L1095.6 284.6 L1097.6 284.6 L1099.6 284.6 L1101.6 284.6 L1103.6 284.6 L1105.6 284.7 L1107.6 284.7 L1109.6 284.8 L1111.6 284.9 L1113.6 285 L1115.6 285 L1117.6 285.1 L1119.6 285.2 L1121.6 285.3 L1123.6 285.4 L1125.6 285.6 L1127.6 285.7 L1129.6 285.8 L1131.6 285.9 L1133.6 286 L1135.6 286.1 L1137.6 286.1 L1139.6 286.2 L1141.6 286.3 L1143.6 286.4 L1145.6 286.4 L1147.6 286.5 L1149.6 286.5 L1151.6 286.5 L1153.6 286.5 L1155.6 286.6 L1157.6 286.6 L1159.6 286.6 L1161.6 286.6 L1163.6 286.6 L1165.6 286.6 L1167.6 286.6 L1169.6 286.7 L1171.6 286.7 L1173.6 286.7 L1175.6 286.7 L1177.6 286.7 L1179.6 286.7 L1181.6 286.7 L1183.6 286.7 L1185.6 286.7 L1187.6 286.7 L1189.6 286.7 L1191.6 286.7 L1193.6 286.8 L1195.6 286.8 L1197.6 286.8 L1199.6 286.8 L1201.6 286.8 L1203.6 286.8 L1205.6 286.8 L1207.6 286.8 L1209.6 286.8 L1211.6 286.8 L1213.6 286.8 L1215.6 286.7 L1217.6 286.7 L1219.6 286.7 L1221.6 286.7 L1223.6 286.7 L1225.6 286.6 L1227.6 286.6 L1229.6 286.6 L1231.6 286.5 L1233.6 286.5 L1235.6 286.4 L1237.6 286.3 L1239.6 286.2 L1241.6 286.1 L1243.6 285.9 L1245.6 285.8 L1247.6 285.6 L1249.6 285.4 L1251.6 285.1 L1253.6 284.8 L1255.6 284.5 L1257.6 284.1 L1259.6 283.7 L1261.6 283.2 L1263.6 282.7 L1265.6 282.1 L1267.6 281.4 L1269.6 280.7 L1271.6 279.9 L1273.6 279 L1275.6 278 L1277.6 276.9 L1279.6 275.8 L1281.6 274.5 L1283.6 273.1 L1285.6 271.6 L1287.6 269.9 L1289.6 268.2 L1291.6 266.3 L1293.6 264.3 L1295.6 262.1 L1297.6 259.9 L1299.6 257.5 L1301.6 254.9 L1303.6 252.3 L1305.6 249.5 L1307.6 246.6 L1309.6 243.7 L1311.6 240.6 L1313.6 237.5 L1315.6 234.3 L1317.6 231 L1319.6 227.7 L1321.6 224.4 L1323.6 221.1 L1325.6 217.9 L1327.6 214.7 L1329.6 211.5 L1331.6 208.5 L1333.6 205.6 L1335.6 202.8 L1337.6 200.1 L1339.6 197.7 L1341.6 195.4 L1343.6 193.3 L1345.6 191.5 L1347.6 189.9 L1349.6 188.6 L1351.6 187.6 L1353.6 186.8 L1355.6 186.3 L1357.6 186.1 L1359.6 186.2 L1361.6 186.7 L1363.6 187.6 L1365.6 188.9 L1367.6 190.6 L1369.6 192.6 L1371.6 195 L1373.6 197.7 L1375.6 200.6 L1377.6 203.9 L1379.6 207.3 L1381.6 210.9 L1383.6 214.7 L1385.6 218.6 L1387.6 222.6 L1389.6 226.7 L1391.6 230.7 L1393.6 234.8 L1395.6 238.8 L1397.6 242.7 L1399.6 246.6 L1401.6 250.3 L1403.6 253.9 L1405.6 257.4 L1407.6 260.7 L1409.6 263.8 L1411.6 266.7 L1413.6 269.5 L1415.6 272.1 L1417.6 274.5 L1419.6 276.7 L1421.6 278.8 L1423.6 280.7 L1425.6 282.4 L1427.6 283.9 L1429.6 285.3 L1431.6 286.6 L1433.6 287.7 L1435.6 288.8 L1437.6 289.7 L1439.6 290.5 L1441.6 291.2 L1443.6 291.8 L1445.6 292.4 L1447.6 292.8 L1449.6 293.3 L1451.6 293.6 L1453.6 293.9 L1455.6 294.2 L1457.6 294.5 L1459.6 294.7 L1461.6 294.8 L1463.6 295 L1465.6 295.1 L1467.6 295.3 L1469.6 295.4 L1471.6 295.4 L1473.6 295.5 L1475.6 295.6 L1477.6 295.7 L1479.6 295.7 L1481.6 295.8 L1483.6 295.8 L1485.6 295.8 L1487.6 295.9 L1489.6 295.9 L1491.6 295.9 L1493.6 295.9 L1495.6 296 L1497.6 296 L1499.6 296 L1501.6 296 L1503.6 296 L1505.6 296 L1507.6 296 L1509.6 296 L1511.6 296.1 L1513.6 296.1 L1515.6 296.1 L1517.6 296.1 L1519.6 296.1 L1521.6 296.1 L1523.6 296.1 L1525.6 296.1 L1527.6 296.1 L1529.6 296.1 L1531.6 296.1 L1533.6 296.1 L1535.6 296.2 L1537.6 296.2 L1539.6 296.2 L1541.6 296.2 L1543.6 296.2 L1545.6 296.2 L1547.6 296.2 L1549.6 296.2 L1551.6 296.2 L1553.6 296.2 L1555.6 296.2 L1557.6 296.2 L1559.6 296.2 L1561.6 296.2" fill="none" stroke="#e0282e" stroke-width="2.4" stroke-linejoin="round" stroke-linecap="round"/>
<path d="M855 284.4 L857 284.4 L859 284.4 L861 284.4 L863 284.4 L865 284.4 L867 284.4 L869 284.4 L871 284.4 L873 284.4 L875 284.4 L877 284.4 L879 284.4 L881 284.4 L883 284.4 L885 284.4 L887 284.4 L889 284.4 L891.1 284.4 L893.1 284.4 L895.1 284.4 L897.1 284.4 L899.1 284.4 L901.1 284.4 L903.1 284.4 L905.1 284.4 L907.1 284.4 L909.1 284.4 L911.1 284.4 L913.1 284.4 L915.1 284.4 L917.1 284.4 L919.1 284.4 L921.1 284.4 L923.1 284.4 L925.1 284.4 L927.1 284.4 L929.1 284.4 L931.1 284.4 L933.1 284.4 L935.1 284.4 L937.1 284.4 L939.1 284.4 L941.1 284.4 L943.1 284.4 L945.1 284.4 L947.1 284.4 L949.1 284.4 L951.1 284.4 L953.1 284.4 L955.1 284.4 L957.1 284.4 L959.1 284.4 L961.1 284.4 L963.2 284.4 L965.2 284.4 L967.2 284.4 L969.2 284.4 L971.2 284.4 L973.2 284.4 L975.2 284.4 L977.2 284.4 L979.2 284.4 L981.2 284.4 L983.2 284.4 L985.2 284.4 L987.2 284.4 L989.2 284.4 L991.2 284.4 L993.2 284.4 L995.2 284.4 L997.2 284.4 L999.2 284.4 L1001.2 284.4 L1003.2 284.4 L1005.2 284.4 L1007.2 284.4 L1009.2 284.4 L1011.2 284.4 L1013.2 284.4 L1015.2 284.4 L1017.2 284.4 L1019.2 284.4 L1021.2 284.4 L1023.2 284.4 L1025.2 284.4 L1027.2 284.4 L1029.2 284.4 L1031.2 284.4 L1033.3 284.4 L1035.3 284.4 L1037.3 284.4 L1039.3 284.4 L1041.3 284.4 L1043.3 284.4 L1045.3 284.4 L1047.3 284.4 L1049.3 284.4 L1051.3 284.5 L1053.3 284.5 L1055.3 284.5 L1057.3 284.5 L1059.3 284.5 L1061.3 284.5 L1063.3 284.5 L1065.3 284.5 L1067.3 284.5 L1069.3 284.5 L1071.3 284.5 L1073.3 284.5 L1075.3 284.5 L1077.3 284.5 L1079.3 284.5 L1081.3 284.5 L1083.3 284.5 L1085.3 284.5 L1087.3 284.6 L1089.3 284.6 L1091.3 284.6 L1093.3 284.6 L1095.3 284.6 L1097.3 284.6 L1099.3 284.6 L1101.3 284.6 L1103.4 284.6 L1105.4 284.7 L1107.4 284.7 L1109.4 284.8 L1111.4 284.9 L1113.4 284.9 L1115.4 285 L1117.4 285.1 L1119.4 285.2 L1121.4 285.3 L1123.4 285.4 L1125.4 285.5 L1127.4 285.6 L1129.4 285.8 L1131.4 285.9 L1133.4 286 L1135.4 286 L1137.4 286.1 L1139.4 286.2 L1141.4 286.3 L1143.4 286.4 L1145.4 286.4 L1147.4 286.5 L1149.4 286.5 L1151.4 286.5 L1153.4 286.5 L1155.4 286.6 L1157.4 286.6 L1159.4 286.6 L1161.4 286.6 L1163.4 286.6 L1165.4 286.6 L1167.4 286.6 L1169.4 286.7 L1171.4 286.7 L1173.4 286.7 L1175.5 286.7 L1177.5 286.7 L1179.5 286.7 L1181.5 286.7 L1183.5 286.7 L1185.5 286.7 L1187.5 286.7 L1189.5 286.7 L1191.5 286.8 L1193.5 286.8 L1195.5 286.8 L1197.5 286.8 L1199.5 286.8 L1201.5 286.8 L1203.5 286.8 L1205.5 286.8 L1207.5 286.8 L1209.5 286.8 L1211.5 286.8 L1213.5 286.8 L1215.5 286.8 L1217.5 286.8 L1219.5 286.8 L1221.5 286.8 L1223.5 286.9 L1225.5 286.9 L1227.5 286.9 L1229.5 286.9 L1231.5 286.9 L1233.5 286.9 L1235.5 286.9 L1237.5 286.9 L1239.5 286.9 L1241.5 286.9 L1243.5 286.9 L1245.6 287 L1247.6 287 L1249.6 287 L1251.6 287 L1253.6 287 L1255.6 287 L1257.6 287 L1259.6 287.1 L1261.6 287.1 L1263.6 287.1 L1265.6 287.1 L1267.6 287.2 L1269.6 287.2 L1271.6 287.3 L1273.6 287.3 L1275.6 287.4 L1277.6 287.5 L1279.6 287.6 L1281.6 287.6 L1283.6 287.7 L1285.6 287.8 L1287.6 287.9 L1289.6 288 L1291.6 288.2 L1293.6 288.3 L1295.6 288.4 L1297.6 288.5 L1299.6 288.6 L1301.6 288.7 L1303.6 288.9 L1305.6 289 L1307.6 289.1 L1309.6 289.2 L1311.6 289.3 L1313.6 289.5 L1315.6 289.6 L1317.7 289.7 L1319.7 289.8 L1321.7 289.9 L1323.7 290 L1325.7 290.1 L1327.7 290.3 L1329.7 290.4 L1331.7 290.5 L1333.7 290.6 L1335.7 290.7 L1337.7 290.9 L1339.7 291 L1341.7 291.1 L1343.7 291.2 L1345.7 291.4 L1347.7 291.5 L1349.7 291.6 L1351.7 291.7 L1353.7 291.8 L1355.7 291.9 L1357.7 292 L1359.7 292.1 L1361.7 292.2 L1363.7 292.3 L1365.7 292.4 L1367.7 292.5 L1369.7 292.6 L1371.7 292.7 L1373.7 292.8 L1375.7 292.9 L1377.7 293 L1379.7 293 L1381.7 293.1 L1383.7 293.2 L1385.7 293.3 L1387.8 293.4 L1389.8 293.5 L1391.8 293.6 L1393.8 293.6 L1395.8 293.7 L1397.8 293.8 L1399.8 293.9 L1401.8 293.9 L1403.8 294 L1405.8 294.1 L1407.8 294.2 L1409.8 294.2 L1411.8 294.3 L1413.8 294.4 L1415.8 294.4 L1417.8 294.5 L1419.8 294.5 L1421.8 294.6 L1423.8 294.6 L1425.8 294.7 L1427.8 294.7 L1429.8 294.8 L1431.8 294.8 L1433.8 294.9 L1435.8 294.9 L1437.8 295 L1439.8 295 L1441.8 295.1 L1443.8 295.1 L1445.8 295.2 L1447.8 295.2 L1449.8 295.3 L1451.8 295.3 L1453.8 295.3 L1455.8 295.4 L1457.9 295.4 L1459.9 295.5 L1461.9 295.5 L1463.9 295.5 L1465.9 295.6 L1467.9 295.6 L1469.9 295.7 L1471.9 295.7 L1473.9 295.7 L1475.9 295.7 L1477.9 295.8 L1479.9 295.8 L1481.9 295.8 L1483.9 295.9 L1485.9 295.9 L1487.9 295.9 L1489.9 295.9 L1491.9 295.9 L1493.9 296 L1495.9 296 L1497.9 296 L1499.9 296 L1501.9 296 L1503.9 296 L1505.9 296 L1507.9 296 L1509.9 296 L1511.9 296.1 L1513.9 296.1 L1515.9 296.1 L1517.9 296.1 L1519.9 296.1 L1521.9 296.1 L1523.9 296.1 L1525.9 296.1 L1527.9 296.1 L1530 296.1 L1532 296.1 L1534 296.1 L1536 296.2 L1538 296.2 L1540 296.2 L1542 296.2 L1544 296.2 L1546 296.2 L1548 296.2 L1550 296.2 L1552 296.2 L1554 296.2 L1556 296.2 L1558 296.2 L1560 296.2 L1562 296.2 L1564 296.2" fill="none" stroke="#14144e" stroke-width="2.4" stroke-linejoin="round" stroke-linecap="round"/>
<path d="M855 284.4 L857 284.3 L859 284.3 L861 284.3 L863 284.3 L865 284.2 L867 284.2 L869 284.2 L871 284.1 L873 284.1 L875 284.1 L877 284.1 L879 284.1 L881 284 L883 284 L885 284 L887 284 L889 284 L891 283.9 L893 283.9 L895 283.9 L897 283.9 L899 283.8 L901 283.8 L903 283.8 L905 283.8 L907 283.7 L909 283.7 L911 283.7 L913 283.6 L915 283.6 L917 283.6 L919 283.5 L921 283.5 L923 283.4 L925 283.4 L927 283.3 L929 283.3 L931 283.2 L933 283.1 L935 283.1 L937 283 L939 282.9 L941 282.9 L943 282.8 L945 282.7 L947 282.6 L949 282.5 L951 282.4 L953 282.3 L955 282.2 L957 282.1 L959 282 L961 281.9 L963 281.7 L965 281.6 L967 281.5 L969 281.3 L971 281.2 L973 281 L975 280.9 L977 280.7 L979 280.5 L981 280.3 L983 280.2 L985 280 L987 279.8 L989 279.6 L991 279.3 L993 279.1 L995 278.9 L997 278.7 L999 278.4 L1001 278.2 L1003 277.9 L1005 277.7 L1007 277.4 L1009 277.2 L1011 276.9 L1013 276.6 L1015 276.4 L1017 276.1 L1019 275.8 L1021 275.6 L1023 275.3 L1025 275 L1027 274.7 L1029 274.5 L1031 274.2 L1033 273.9 L1035 273.6 L1037 273.4 L1039 273.1 L1041 272.8 L1043 272.5 L1045 272.3 L1047 272 L1049 271.8 L1051 271.5 L1053 271.2 L1055 271 L1057 270.8 L1059 270.5 L1061 270.3 L1063 270.1 L1065 269.8 L1067 269.6 L1069 269.4 L1071 269.2 L1073 269 L1075 268.8 L1077 268.6 L1079 268.5 L1081 268.3 L1083 268.1 L1085 268 L1087 267.9 L1089 267.7 L1091 267.6 L1093 267.5 L1095 267.4 L1097 267.3 L1099 267.2 L1101 267.2 L1103 267.1 L1105 267.1 L1107 267 L1109 267 L1111 267 L1113 267 L1115 267 L1117 267 L1119 267 L1121 267.1 L1123 267.1 L1125 267.2 L1127 267.3 L1129 267.4 L1131 267.5 L1133 267.6 L1135 267.7 L1137 267.8 L1139 268 L1141 268.1 L1143 268.3 L1145 268.4 L1147 268.6 L1149 268.7 L1151 268.9 L1153 269 L1155 269.2 L1157 269.3 L1159 269.4 L1161 269.5 L1163 269.5 L1165 269.6 L1167 269.6 L1169 269.6 L1171 269.6 L1173 269.6 L1175 269.5 L1177 269.4 L1179 269.2 L1181 269 L1183 268.8 L1185 268.6 L1187 268.3 L1189 268 L1191 267.7 L1193 267.3 L1195 267 L1197 266.6 L1199 266.2 L1201 265.8 L1203 265.3 L1205 264.9 L1207 264.4 L1209 263.9 L1211 263.4 L1213 262.9 L1215 262.4 L1217 261.9 L1219 261.3 L1221 260.8 L1223 260.2 L1225 259.7 L1227 259.2 L1229 258.6 L1231 258.1 L1233 257.5 L1235 257 L1237 256.5 L1239 256 L1241 255.5 L1243 255 L1245 254.5 L1247 254 L1249 253.5 L1251 253 L1253 252.6 L1255 252.1 L1257 251.5 L1259 251 L1261 250.4 L1263 249.8 L1265 249.1 L1267 248.4 L1269 247.6 L1271 246.8 L1273 245.9 L1275 244.9 L1277 243.8 L1279 242.7 L1281 241.4 L1283 240.1 L1285 238.6 L1287 237 L1289 235.3 L1291 233.5 L1293 231.6 L1295 229.5 L1297 227.3 L1299 224.9 L1301 222.5 L1303 219.8 L1305 217.1 L1307 214.4 L1309 211.6 L1311 209 L1313 206.5 L1315 204.2 L1317 202.1 L1319 200.1 L1321 198.1 L1323 196 L1325 193.9 L1327 191.7 L1329 189.4 L1331 187.2 L1333 185 L1335 183 L1337 181 L1339 179.3 L1341 177.7 L1343 176.2 L1345 175 L1347 174 L1349 173.2 L1351 172.7 L1353 172.5 L1355 172.6 L1357 173 L1359 173.7 L1361 174.8 L1363 176.1 L1365 177.8 L1367 179.7 L1369 181.9 L1371 184.4 L1373 187.1 L1375 190 L1377 193.2 L1379 196.5 L1381 199.9 L1383 203.5 L1385 207.3 L1387 211.1 L1389 215 L1391 218.9 L1393 222.9 L1395 226.9 L1397 230.9 L1399 234.9 L1401 238.8 L1403 242.7 L1405 246.5 L1407 250.2 L1409 253.7 L1411 257.1 L1413 260.3 L1415 263.4 L1417 266.2 L1419 268.9 L1421 271.4 L1423 273.7 L1425 275.9 L1427 277.9 L1429 279.8 L1431 281.5 L1433 283.1 L1435 284.5 L1437 285.9 L1439 287.1 L1441 288.2 L1443 289.2 L1445 290.1 L1447 290.9 L1449 291.6 L1451 292.3 L1453 292.9 L1455 293.4 L1457 293.8 L1459 294.2 L1461 294.5 L1463 294.8 L1465 295 L1467 295.2 L1469 295.3 L1471 295.4 L1473 295.5 L1475 295.5 L1477 295.5 L1479 295.5 L1481 295.5 L1483 295.5 L1485 295.4 L1487 295.4 L1489 295.3 L1491 295.3 L1493 295.3 L1495 295.2 L1497 295.2 L1499 295.3 L1501 295.3 L1503 295.4 L1505 295.4 L1507 295.5 L1509 295.6 L1511 295.8 L1513 295.9 L1515 296 L1517 296.1 L1519 296.2 L1521 296.2 L1523 296.3 L1525 296.3 L1527 296.3 L1529 296.3 L1531 296.3 L1533 296.3 L1535 296.3 L1537 296.2 L1539 296.2 L1541 296.1 L1543 296.1 L1545 296 L1547 296 L1549 296 L1551 296 L1553 295.9 L1555 295.9 L1557 296 L1559 296 L1561 296.1 L1563 296.2" fill="none" stroke="#151515" stroke-width="2.7" stroke-linejoin="round" stroke-linecap="round"/>
<path d="M855 284.4 L857 284.3 L859 284.3 L861 284.3 L863 284.3 L865 284.2 L867 284.2 L869 284.2 L871 284.1 L873 284.1 L875 284.1 L877 284.1 L879 284.1 L881 284 L883 284 L885 284 L887 284 L889 284 L891 283.9 L893 283.9 L895 283.9 L897 283.9 L899 283.8 L901 283.8 L903 283.8 L905 283.8 L907 283.7 L909 283.7 L911 283.7 L913 283.6 L915 283.6 L917 283.6 L919 283.5 L921 283.5 L923 283.4 L925 283.4 L927 283.3 L929 283.3 L931 283.2 L933 283.1 L935 283.1 L937 283 L939 282.9 L941 282.9 L943 282.8 L945 282.7 L947 282.6 L949 282.5 L951 282.4 L953 282.3 L955 282.2 L957 282.1 L959 282 L961 281.9 L963 281.7 L965 281.6 L967 281.5 L969 281.3 L971 281.2 L973 281 L975 280.9 L977 280.7 L979 280.5 L981 280.3 L983 280.2 L985 280 L987 279.8 L989 279.6 L991 279.3 L993 279.1 L995 278.9 L997 278.7 L999 278.4 L1001 278.2 L1003 277.9 L1005 277.7 L1007 277.4 L1009 277.2 L1011 276.9 L1013 276.6 L1015 276.4 L1017 276.1 L1019 275.8 L1021 275.6 L1023 275.3 L1025 275 L1027 274.7 L1029 274.5 L1031 274.2 L1033 273.9 L1035 273.6 L1037 273.4 L1039 273.1 L1041 272.8 L1043 272.5 L1045 272.3 L1047 272 L1049 271.8 L1051 271.5 L1053 271.2 L1055 271 L1057 270.8 L1059 270.5 L1061 270.3 L1063 270.1 L1065 269.8 L1067 269.6 L1069 269.4 L1071 269.2 L1073 269 L1075 268.8 L1077 268.6 L1079 268.5 L1081 268.3 L1083 268.1 L1085 268 L1087 267.9 L1089 267.7 L1091 267.6 L1093 267.5 L1095 267.4 L1097 267.3 L1099 267.2 L1101 267.2 L1103 267.1 L1105 267.1 L1107 267 L1109 267 L1111 267 L1113 267 L1115 267 L1117 267 L1119 267 L1121 267.1 L1123 267.1 L1125 267.2 L1127 267.3 L1129 267.4 L1131 267.5 L1133 267.6 L1135 267.7 L1137 267.8 L1139 268 L1141 268.1 L1143 268.3 L1145 268.4 L1147 268.6 L1149 268.7 L1151 268.9 L1153 269 L1155 269.2 L1157 269.3 L1159 269.4 L1161 269.5 L1163 269.5 L1165 269.6 L1167 269.6 L1169 269.6 L1171 269.6 L1173 269.6 L1175 269.5 L1177 269.4 L1179 269.2 L1181 269 L1183 268.8 L1185 268.6 L1187 268.3 L1189 268 L1191 267.7 L1193 267.3 L1195 267 L1197 266.6 L1199 266.2 L1201 265.8 L1203 265.3 L1205 264.9 L1207 264.4 L1209 263.9 L1211 263.4 L1213 262.9 L1215 262.4 L1217 261.9 L1219 261.3 L1221 260.8 L1223 260.2 L1225 259.7 L1227 259.2 L1229 258.6 L1231 258.1 L1233 257.5 L1235 257 L1237 256.5 L1239 256 L1241 255.5 L1243 255 L1245 254.5 L1247 254 L1249 253.5 L1251 253 L1253 252.6 L1255 252.1 L1257 251.5 L1259 251 L1261 250.4 L1263 249.8 L1265 249.1 L1267 248.4 L1269 247.6 L1271 246.8 L1273 245.9 L1275 244.9 L1277 243.8 L1279 242.7 L1281 241.4 L1283 240.1 L1285 238.6 L1287 237 L1289 235.3 L1291 233.5 L1293 231.6 L1295 229.5 L1297 227.3 L1299 224.9 L1301 222.5 L1303 219.8 L1305 217.1 L1307 214.4 L1309 211.6 L1311 209 L1313 206.5 L1315 204.2 L1317 202.1 L1319 200.1 L1321 198.1 L1323 196 L1325 193.9 L1327 191.7 L1329 189.4 L1331 187.2 L1333 185 L1335 183 L1337 181 L1339 179.3 L1341 177.7 L1343 176.2 L1345 175 L1347 174 L1349 173.2 L1351 172.7 L1353 172.5 L1355 172.6 L1357 173 L1359 173.7 L1361 174.8 L1363 176.1 L1365 177.8 L1367 179.7 L1369 181.9 L1371 184.4 L1373 187.1 L1375 190 L1377 193.2 L1379 196.5 L1381 199.9 L1383 203.5 L1385 207.3 L1387 211.1 L1389 215 L1391 218.9 L1393 222.9 L1395 226.9 L1397 230.9 L1399 234.9 L1401 238.8 L1403 242.7 L1405 246.5 L1407 250.2 L1409 253.7 L1411 257.1 L1413 260.3 L1415 263.4 L1417 266.2 L1419 268.9 L1421 271.4 L1423 273.7 L1425 275.9 L1427 277.9 L1429 279.8 L1431 281.5 L1433 283.1 L1435 284.5 L1437 285.9 L1439 287.1 L1441 288.2 L1443 289.2 L1445 290.1 L1447 290.9 L1449 291.6 L1451 292.3 L1453 292.9 L1455 293.4 L1457 293.8 L1459 294.2 L1461 294.5 L1463 294.8 L1465 295 L1467 295.2 L1469 295.3 L1471 295.4 L1473 295.5 L1475 295.5 L1477 295.5 L1479 295.5 L1481 295.5 L1483 295.5 L1485 295.4 L1487 295.4 L1489 295.3 L1491 295.3 L1493 295.3 L1495 295.2 L1497 295.2 L1499 295.3 L1501 295.3 L1503 295.4 L1505 295.4 L1507 295.5 L1509 295.6 L1511 295.8 L1513 295.9 L1515 296 L1517 296.1 L1519 296.2 L1521 296.2 L1523 296.3 L1525 296.3 L1527 296.3 L1529 296.3 L1531 296.3 L1533 296.3 L1535 296.3 L1537 296.2 L1539 296.2 L1541 296.1 L1543 296.1 L1545 296 L1547 296 L1549 296 L1551 296 L1553 295.9 L1555 295.9 L1557 296 L1559 296 L1561 296.1 L1563 296.2" fill="none" stroke="#7a1ee0" stroke-width="2.3" stroke-linejoin="round" stroke-linecap="round"/>
<path d="M855.6 414.7 L857.6 414.7 L859.6 414.7 L861.6 414.7 L863.6 414.7 L865.6 414.7 L867.6 414.7 L869.6 414.7 L871.6 414.7 L873.6 414.7 L875.6 414.7 L877.6 414.7 L879.6 414.7 L881.6 414.7 L883.6 414.7 L885.6 414.7 L887.6 414.7 L889.6 414.7 L891.6 414.7 L893.6 414.7 L895.6 414.7 L897.6 414.7 L899.6 414.7 L901.6 414.7 L903.6 414.7 L905.6 414.7 L907.6 414.7 L909.6 414.7 L911.6 414.7 L913.6 414.7 L915.6 414.7 L917.6 414.7 L919.6 414.7 L921.6 414.7 L923.6 414.7 L925.6 414.7 L927.6 414.6 L929.6 414.6 L931.6 414.6 L933.6 414.6 L935.6 414.6 L937.6 414.6 L939.6 414.5 L941.6 414.5 L943.6 414.5 L945.6 414.5 L947.6 414.4 L949.6 414.4 L951.6 414.3 L953.6 414.3 L955.6 414.3 L957.6 414.2 L959.6 414.2 L961.6 414.1 L963.6 414 L965.6 414 L967.6 413.9 L969.6 413.8 L971.6 413.7 L973.6 413.6 L975.6 413.5 L977.6 413.4 L979.6 413.3 L981.6 413.2 L983.6 413.1 L985.6 412.9 L987.6 412.8 L989.6 412.6 L991.6 412.5 L993.6 412.3 L995.6 412.2 L997.6 412 L999.6 411.8 L1001.6 411.6 L1003.6 411.4 L1005.6 411.2 L1007.6 411 L1009.6 410.7 L1011.6 410.5 L1013.6 410.2 L1015.6 410 L1017.6 409.7 L1019.6 409.5 L1021.6 409.2 L1023.6 408.9 L1025.6 408.6 L1027.6 408.4 L1029.6 408.1 L1031.6 407.8 L1033.6 407.5 L1035.6 407.2 L1037.6 406.9 L1039.6 406.6 L1041.6 406.3 L1043.6 406 L1045.6 405.6 L1047.6 405.3 L1049.6 405 L1051.6 404.7 L1053.6 404.4 L1055.6 404.2 L1057.6 403.9 L1059.6 403.6 L1061.6 403.3 L1063.6 403.1 L1065.6 402.8 L1067.6 402.6 L1069.6 402.4 L1071.6 402.1 L1073.6 401.9 L1075.6 401.8 L1077.6 401.6 L1079.6 401.4 L1081.6 401.3 L1083.6 401.2 L1085.6 401 L1087.6 401 L1089.6 400.9 L1091.6 400.8 L1093.6 400.8 L1095.6 400.8 L1097.6 400.8 L1099.6 400.8 L1101.6 400.8 L1103.6 400.8 L1105.6 400.9 L1107.6 401 L1109.6 401.1 L1111.6 401.2 L1113.6 401.3 L1115.6 401.4 L1117.6 401.5 L1119.6 401.7 L1121.6 401.9 L1123.6 402 L1125.6 402.2 L1127.6 402.4 L1129.6 402.6 L1131.6 402.8 L1133.6 403.1 L1135.6 403.3 L1137.6 403.5 L1139.6 403.8 L1141.6 404.1 L1143.6 404.3 L1145.6 404.6 L1147.6 404.9 L1149.6 405.1 L1151.6 405.4 L1153.6 405.7 L1155.6 406 L1157.6 406.3 L1159.6 406.6 L1161.6 406.9 L1163.6 407.2 L1165.6 407.5 L1167.6 407.8 L1169.6 408.1 L1171.6 408.3 L1173.6 408.6 L1175.6 408.9 L1177.6 409.2 L1179.6 409.5 L1181.6 409.8 L1183.6 410 L1185.6 410.3 L1187.6 410.6 L1189.6 410.8 L1191.6 411.1 L1193.6 411.3 L1195.6 411.6 L1197.6 411.8 L1199.6 412 L1201.6 412.3 L1203.6 412.5 L1205.6 412.7 L1207.6 412.9 L1209.6 413.1 L1211.6 413.3 L1213.6 413.5 L1215.6 413.7 L1217.6 413.9 L1219.6 414 L1221.6 414.2 L1223.6 414.4 L1225.6 414.5 L1227.6 414.7 L1229.6 414.8 L1231.6 415 L1233.6 415.1 L1235.6 415.2 L1237.6 415.4 L1239.6 415.5 L1241.6 415.6 L1243.6 415.7 L1245.6 415.8 L1247.6 415.9 L1249.6 416 L1251.6 416.1 L1253.6 416.2 L1255.6 416.3 L1257.6 416.4 L1259.6 416.5 L1261.6 416.6 L1263.6 416.6 L1265.6 416.7 L1267.6 416.8 L1269.6 416.9 L1271.6 417 L1273.6 417 L1275.6 417.1 L1277.6 417.2 L1279.6 417.3 L1281.6 417.3 L1283.6 417.4 L1285.6 417.5 L1287.6 417.6 L1289.6 417.7 L1291.6 417.7 L1293.6 417.8 L1295.6 417.9 L1297.6 418 L1299.6 418.1 L1301.6 418.1 L1303.6 418.2 L1305.6 418.3 L1307.6 418.4 L1309.6 418.5 L1311.6 418.6 L1313.6 418.6 L1315.6 418.7 L1317.6 418.8 L1319.6 418.9 L1321.6 419 L1323.6 419.1 L1325.6 419.2 L1327.6 419.3 L1329.6 419.4 L1331.6 419.5 L1333.6 419.6 L1335.6 419.7 L1337.6 419.9 L1339.6 420 L1341.6 420.1 L1343.6 420.3 L1345.6 420.4 L1347.6 420.5 L1349.6 420.6 L1351.6 420.8 L1353.6 420.9 L1355.6 421 L1357.6 421.1 L1359.6 421.3 L1361.6 421.4 L1363.6 421.5 L1365.6 421.7 L1367.6 421.8 L1369.6 422 L1371.6 422.1 L1373.6 422.2 L1375.6 422.4 L1377.6 422.5 L1379.6 422.7 L1381.6 422.8 L1383.6 422.9 L1385.6 423 L1387.6 423.1 L1389.6 423.2 L1391.6 423.3 L1393.6 423.4 L1395.6 423.4 L1397.6 423.5 L1399.6 423.5 L1401.6 423.5 L1403.6 423.5 L1405.6 423.5 L1407.6 423.5 L1409.6 423.5 L1411.6 423.5 L1413.6 423.5 L1415.6 423.6 L1417.6 423.6 L1419.6 423.6 L1421.6 423.6 L1423.6 423.6 L1425.6 423.6 L1427.6 423.6 L1429.6 423.6 L1431.6 423.6 L1433.6 423.6 L1435.6 423.6 L1437.6 423.6 L1439.6 423.6 L1441.6 423.6 L1443.6 423.6 L1445.6 423.6 L1447.6 423.6 L1449.6 423.6 L1451.6 423.6 L1453.6 423.6 L1455.6 423.6 L1457.6 423.6 L1459.6 423.6 L1461.6 423.6 L1463.6 423.6 L1465.6 423.6 L1467.6 423.6 L1469.6 423.6 L1471.6 423.6 L1473.6 423.6 L1475.6 423.6 L1477.6 423.6 L1479.6 423.6 L1481.6 423.6 L1483.6 423.6 L1485.6 423.6 L1487.6 423.6 L1489.6 423.6 L1491.6 423.6 L1493.6 423.6 L1495.6 423.6 L1497.6 423.6 L1499.6 423.6 L1501.6 423.6 L1503.6 423.6 L1505.6 423.6 L1507.6 423.6 L1509.6 423.6 L1511.6 423.6 L1513.6 423.6 L1515.6 423.6 L1517.6 423.6 L1519.6 423.6 L1521.6 423.6 L1523.6 423.6 L1525.6 423.6 L1527.6 423.6 L1529.6 423.7 L1531.6 423.7 L1533.6 423.7 L1535.6 423.7 L1537.6 423.7 L1539.6 423.7 L1541.6 423.7 L1543.6 423.7 L1545.6 423.7 L1547.6 423.7 L1549.6 423.7 L1551.6 423.7 L1553.6 423.8 L1555.6 423.8 L1557.6 423.8 L1559.6 423.8 L1561.6 423.8" fill="none" stroke="#e02ee0" stroke-width="2.4" stroke-linejoin="round" stroke-linecap="round"/>
<path d="M855.6 414.7 L857.6 414.7 L859.6 414.7 L861.6 414.7 L863.6 414.7 L865.6 414.7 L867.6 414.7 L869.6 414.7 L871.6 414.7 L873.6 414.7 L875.6 414.7 L877.6 414.7 L879.6 414.7 L881.6 414.7 L883.6 414.7 L885.6 414.7 L887.6 414.7 L889.6 414.7 L891.6 414.7 L893.6 414.7 L895.6 414.7 L897.6 414.7 L899.6 414.7 L901.6 414.7 L903.6 414.7 L905.6 414.7 L907.6 414.8 L909.6 414.8 L911.6 414.8 L913.6 414.8 L915.6 414.8 L917.6 414.8 L919.6 414.8 L921.6 414.8 L923.6 414.8 L925.6 414.8 L927.6 414.8 L929.6 414.8 L931.6 414.8 L933.6 414.8 L935.6 414.8 L937.6 414.8 L939.6 414.8 L941.6 414.8 L943.6 414.8 L945.6 414.8 L947.6 414.8 L949.6 414.8 L951.6 414.9 L953.6 414.9 L955.6 414.9 L957.6 414.9 L959.6 414.9 L961.6 414.9 L963.6 414.9 L965.6 414.9 L967.6 414.9 L969.6 414.9 L971.6 414.9 L973.6 414.9 L975.6 414.9 L977.6 414.9 L979.6 414.9 L981.6 414.9 L983.6 414.9 L985.6 415 L987.6 415 L989.6 415 L991.6 415 L993.6 415 L995.6 415 L997.6 415 L999.6 415 L1001.6 415 L1003.6 415 L1005.6 415 L1007.6 415 L1009.6 415 L1011.6 415 L1013.6 415 L1015.6 415.1 L1017.6 415.1 L1019.6 415.1 L1021.6 415.1 L1023.6 415.1 L1025.6 415.1 L1027.6 415.1 L1029.6 415.1 L1031.6 415.1 L1033.6 415.1 L1035.6 415.2 L1037.6 415.2 L1039.6 415.2 L1041.6 415.2 L1043.6 415.2 L1045.6 415.2 L1047.6 415.2 L1049.6 415.2 L1051.6 415.2 L1053.6 415.2 L1055.6 415.3 L1057.6 415.3 L1059.6 415.3 L1061.6 415.3 L1063.6 415.3 L1065.6 415.3 L1067.6 415.3 L1069.6 415.3 L1071.6 415.3 L1073.6 415.3 L1075.6 415.3 L1077.6 415.4 L1079.6 415.4 L1081.6 415.4 L1083.6 415.4 L1085.6 415.4 L1087.6 415.4 L1089.6 415.4 L1091.6 415.4 L1093.6 415.4 L1095.6 415.3 L1097.6 415.3 L1099.6 415.3 L1101.6 415.3 L1103.6 415.3 L1105.6 415.3 L1107.6 415.2 L1109.6 415.2 L1111.6 415.2 L1113.6 415.1 L1115.6 415.1 L1117.6 415 L1119.6 415 L1121.6 414.9 L1123.6 414.8 L1125.6 414.8 L1127.6 414.7 L1129.6 414.6 L1131.6 414.5 L1133.6 414.4 L1135.6 414.2 L1137.6 414.1 L1139.6 414 L1141.6 413.8 L1143.6 413.6 L1145.6 413.5 L1147.6 413.3 L1149.6 413.1 L1151.6 412.8 L1153.6 412.6 L1155.6 412.3 L1157.6 412.1 L1159.6 411.8 L1161.6 411.5 L1163.6 411.1 L1165.6 410.8 L1167.6 410.4 L1169.6 410 L1171.6 409.6 L1173.6 409.2 L1175.6 408.8 L1177.6 408.3 L1179.6 407.8 L1181.6 407.3 L1183.6 406.8 L1185.6 406.3 L1187.6 405.7 L1189.6 405.2 L1191.6 404.6 L1193.6 404 L1195.6 403.4 L1197.6 402.7 L1199.6 402.1 L1201.6 401.4 L1203.6 400.7 L1205.6 400.1 L1207.6 399.4 L1209.6 398.7 L1211.6 398 L1213.6 397.3 L1215.6 396.6 L1217.6 395.8 L1219.6 395.1 L1221.6 394.4 L1223.6 393.7 L1225.6 393.1 L1227.6 392.4 L1229.6 391.7 L1231.6 391.1 L1233.6 390.4 L1235.6 389.8 L1237.6 389.2 L1239.6 388.7 L1241.6 388.1 L1243.6 387.6 L1245.6 387.1 L1247.6 386.7 L1249.6 386.3 L1251.6 385.9 L1253.6 385.5 L1255.6 385.2 L1257.6 385 L1259.6 384.7 L1261.6 384.5 L1263.6 384.4 L1265.6 384.3 L1267.6 384.2 L1269.6 384.2 L1271.6 384.3 L1273.6 384.3 L1275.6 384.4 L1277.6 384.6 L1279.6 384.7 L1281.6 384.9 L1283.6 385.2 L1285.6 385.4 L1287.6 385.7 L1289.6 386 L1291.6 386.3 L1293.6 386.7 L1295.6 387.1 L1297.6 387.5 L1299.6 388 L1301.6 388.4 L1303.6 388.9 L1305.6 389.4 L1307.6 390 L1309.6 390.5 L1311.6 391.1 L1313.6 391.7 L1315.6 392.3 L1317.6 392.9 L1319.6 393.5 L1321.6 394.2 L1323.6 394.8 L1325.6 395.5 L1327.6 396.2 L1329.6 396.9 L1331.6 397.6 L1333.6 398.3 L1335.6 399 L1337.6 399.7 L1339.6 400.4 L1341.6 401.2 L1343.6 401.9 L1345.6 402.6 L1347.6 403.3 L1349.6 404.1 L1351.6 404.8 L1353.6 405.4 L1355.6 406.1 L1357.6 406.8 L1359.6 407.5 L1361.6 408.2 L1363.6 408.8 L1365.6 409.5 L1367.6 410.1 L1369.6 410.8 L1371.6 411.4 L1373.6 412 L1375.6 412.6 L1377.6 413.2 L1379.6 413.8 L1381.6 414.3 L1383.6 414.9 L1385.6 415.4 L1387.6 415.9 L1389.6 416.3 L1391.6 416.8 L1393.6 417.2 L1395.6 417.6 L1397.6 417.9 L1399.6 418.3 L1401.6 418.6 L1403.6 418.9 L1405.6 419.1 L1407.6 419.4 L1409.6 419.7 L1411.6 419.9 L1413.6 420.1 L1415.6 420.3 L1417.6 420.6 L1419.6 420.7 L1421.6 420.9 L1423.6 421.1 L1425.6 421.3 L1427.6 421.4 L1429.6 421.6 L1431.6 421.7 L1433.6 421.9 L1435.6 422 L1437.6 422.1 L1439.6 422.2 L1441.6 422.3 L1443.6 422.4 L1445.6 422.5 L1447.6 422.6 L1449.6 422.7 L1451.6 422.7 L1453.6 422.8 L1455.6 422.9 L1457.6 422.9 L1459.6 423 L1461.6 423 L1463.6 423.1 L1465.6 423.1 L1467.6 423.2 L1469.6 423.2 L1471.6 423.2 L1473.6 423.3 L1475.6 423.3 L1477.6 423.3 L1479.6 423.3 L1481.6 423.4 L1483.6 423.4 L1485.6 423.4 L1487.6 423.4 L1489.6 423.4 L1491.6 423.5 L1493.6 423.5 L1495.6 423.5 L1497.6 423.5 L1499.6 423.5 L1501.6 423.5 L1503.6 423.5 L1505.6 423.5 L1507.6 423.5 L1509.6 423.5 L1511.6 423.6 L1513.6 423.6 L1515.6 423.6 L1517.6 423.6 L1519.6 423.6 L1521.6 423.6 L1523.6 423.6 L1525.6 423.6 L1527.6 423.6 L1529.6 423.6 L1531.6 423.6 L1533.6 423.7 L1535.6 423.7 L1537.6 423.7 L1539.6 423.7 L1541.6 423.7 L1543.6 423.7 L1545.6 423.7 L1547.6 423.7 L1549.6 423.7 L1551.6 423.7 L1553.6 423.7 L1555.6 423.8 L1557.6 423.8 L1559.6 423.8 L1561.6 423.8" fill="none" stroke="#2626d6" stroke-width="2.4" stroke-linejoin="round" stroke-linecap="round"/>
<path d="M855.6 414.7 L857.6 414.7 L859.6 414.7 L861.6 414.7 L863.6 414.7 L865.6 414.7 L867.6 414.7 L869.6 414.7 L871.6 414.7 L873.6 414.7 L875.6 414.7 L877.6 414.7 L879.6 414.7 L881.6 414.7 L883.6 414.7 L885.6 414.7 L887.6 414.7 L889.6 414.7 L891.6 414.7 L893.6 414.7 L895.6 414.7 L897.6 414.7 L899.6 414.7 L901.6 414.7 L903.6 414.7 L905.6 414.7 L907.6 414.8 L909.6 414.8 L911.6 414.8 L913.6 414.8 L915.6 414.8 L917.6 414.8 L919.6 414.8 L921.6 414.8 L923.6 414.8 L925.6 414.8 L927.6 414.8 L929.6 414.8 L931.6 414.8 L933.6 414.8 L935.6 414.8 L937.6 414.8 L939.6 414.8 L941.6 414.8 L943.6 414.8 L945.6 414.8 L947.6 414.8 L949.6 414.8 L951.6 414.9 L953.6 414.9 L955.6 414.9 L957.6 414.9 L959.6 414.9 L961.6 414.9 L963.6 414.9 L965.6 414.9 L967.6 414.9 L969.6 414.9 L971.6 414.9 L973.6 414.9 L975.6 414.9 L977.6 414.9 L979.6 414.9 L981.6 414.9 L983.6 414.9 L985.6 415 L987.6 415 L989.6 415 L991.6 415 L993.6 415 L995.6 415 L997.6 415 L999.6 415 L1001.6 415 L1003.6 415 L1005.6 415 L1007.6 415 L1009.6 415 L1011.6 415 L1013.6 415 L1015.6 415.1 L1017.6 415.1 L1019.6 415.1 L1021.6 415.1 L1023.6 415.1 L1025.6 415.1 L1027.6 415.1 L1029.6 415.1 L1031.6 415.1 L1033.6 415.1 L1035.6 415.2 L1037.6 415.2 L1039.6 415.2 L1041.6 415.2 L1043.6 415.2 L1045.6 415.2 L1047.6 415.2 L1049.6 415.2 L1051.6 415.2 L1053.6 415.3 L1055.6 415.3 L1057.6 415.3 L1059.6 415.3 L1061.6 415.3 L1063.6 415.3 L1065.6 415.3 L1067.6 415.4 L1069.6 415.4 L1071.6 415.4 L1073.6 415.4 L1075.6 415.4 L1077.6 415.4 L1079.6 415.4 L1081.6 415.5 L1083.6 415.5 L1085.6 415.5 L1087.6 415.5 L1089.6 415.5 L1091.6 415.5 L1093.6 415.5 L1095.6 415.6 L1097.6 415.6 L1099.6 415.6 L1101.6 415.6 L1103.6 415.6 L1105.6 415.6 L1107.6 415.7 L1109.6 415.7 L1111.6 415.7 L1113.6 415.7 L1115.6 415.7 L1117.6 415.7 L1119.6 415.7 L1121.6 415.8 L1123.6 415.8 L1125.6 415.8 L1127.6 415.8 L1129.6 415.8 L1131.6 415.8 L1133.6 415.9 L1135.6 415.9 L1137.6 415.9 L1139.6 415.9 L1141.6 415.9 L1143.6 415.9 L1145.6 416 L1147.6 416 L1149.6 416 L1151.6 416 L1153.6 416 L1155.6 416 L1157.6 416.1 L1159.6 416.1 L1161.6 416.1 L1163.6 416.1 L1165.6 416.1 L1167.6 416.1 L1169.6 416.2 L1171.6 416.2 L1173.6 416.2 L1175.6 416.2 L1177.6 416.2 L1179.6 416.2 L1181.6 416.3 L1183.6 416.3 L1185.6 416.3 L1187.6 416.3 L1189.6 416.3 L1191.6 416.3 L1193.6 416.4 L1195.6 416.4 L1197.6 416.4 L1199.6 416.4 L1201.6 416.4 L1203.6 416.5 L1205.6 416.5 L1207.6 416.5 L1209.6 416.5 L1211.6 416.5 L1213.6 416.5 L1215.6 416.6 L1217.6 416.6 L1219.6 416.6 L1221.6 416.6 L1223.6 416.6 L1225.6 416.7 L1227.6 416.7 L1229.6 416.7 L1231.6 416.7 L1233.6 416.7 L1235.6 416.7 L1237.6 416.7 L1239.6 416.7 L1241.6 416.7 L1243.6 416.7 L1245.6 416.6 L1247.6 416.6 L1249.6 416.5 L1251.6 416.5 L1253.6 416.4 L1255.6 416.3 L1257.6 416.1 L1259.6 416 L1261.6 415.8 L1263.6 415.5 L1265.6 415.2 L1267.6 414.9 L1269.6 414.5 L1271.6 414.1 L1273.6 413.6 L1275.6 413 L1277.6 412.3 L1279.6 411.5 L1281.6 410.7 L1283.6 409.7 L1285.6 408.6 L1287.6 407.4 L1289.6 406 L1291.6 404.6 L1293.6 402.9 L1295.6 401.1 L1297.6 399.2 L1299.6 397.1 L1301.6 394.8 L1303.6 392.4 L1305.6 389.9 L1307.6 387.1 L1309.6 384.3 L1311.6 381.3 L1313.6 378.1 L1315.6 374.9 L1317.6 371.6 L1319.6 368.2 L1321.6 364.7 L1323.6 361.2 L1325.6 357.7 L1327.6 354.3 L1329.6 350.9 L1331.6 347.6 L1333.6 344.4 L1335.6 341.3 L1337.6 338.5 L1339.6 335.8 L1341.6 333.4 L1343.6 331.2 L1345.6 329.3 L1347.6 327.7 L1349.6 326.4 L1351.6 325.5 L1353.6 324.9 L1355.6 324.6 L1357.6 324.7 L1359.6 325.1 L1361.6 325.9 L1363.6 327 L1365.6 328.4 L1367.6 330 L1369.6 332 L1371.6 334.2 L1373.6 336.7 L1375.6 339.3 L1377.6 342.2 L1379.6 345.2 L1381.6 348.3 L1383.6 351.6 L1385.6 355 L1387.6 358.4 L1389.6 361.8 L1391.6 365.3 L1393.6 368.7 L1395.6 372.1 L1397.6 375.5 L1399.6 378.8 L1401.6 381.9 L1403.6 385 L1405.6 388 L1407.6 390.8 L1409.6 393.5 L1411.6 396.1 L1413.6 398.6 L1415.6 400.9 L1417.6 403 L1419.6 405 L1421.6 406.9 L1423.6 408.7 L1425.6 410.3 L1427.6 411.7 L1429.6 413.1 L1431.6 414.3 L1433.6 415.4 L1435.6 416.4 L1437.6 417.3 L1439.6 418.1 L1441.6 418.8 L1443.6 419.5 L1445.6 420 L1447.6 420.5 L1449.6 421 L1451.6 421.3 L1453.6 421.7 L1455.6 422 L1457.6 422.2 L1459.6 422.4 L1461.6 422.6 L1463.6 422.8 L1465.6 422.9 L1467.6 423 L1469.6 423.1 L1471.6 423.2 L1473.6 423.3 L1475.6 423.3 L1477.6 423.4 L1479.6 423.4 L1481.6 423.5 L1483.6 423.5 L1485.6 423.5 L1487.6 423.5 L1489.6 423.5 L1491.6 423.6 L1493.6 423.6 L1495.6 423.6 L1497.6 423.6 L1499.6 423.6 L1501.6 423.6 L1503.6 423.6 L1505.6 423.6 L1507.6 423.6 L1509.6 423.6 L1511.6 423.6 L1513.6 423.6 L1515.6 423.6 L1517.6 423.6 L1519.6 423.6 L1521.6 423.6 L1523.6 423.6 L1525.6 423.6 L1527.6 423.6 L1529.6 423.7 L1531.6 423.7 L1533.6 423.7 L1535.6 423.7 L1537.6 423.7 L1539.6 423.7 L1541.6 423.7 L1543.6 423.7 L1545.6 423.7 L1547.6 423.7 L1549.6 423.7 L1551.6 423.7 L1553.6 423.8 L1555.6 423.8 L1557.6 423.8 L1559.6 423.8 L1561.6 423.8" fill="none" stroke="#e0282e" stroke-width="2.4" stroke-linejoin="round" stroke-linecap="round"/>
<path d="M855 414.7 L857 414.7 L859 414.7 L861 414.7 L863 414.7 L865 414.7 L867 414.7 L869 414.7 L871 414.7 L873 414.7 L875 414.7 L877 414.7 L879 414.7 L881 414.7 L883 414.7 L885 414.7 L887 414.7 L889 414.7 L891.1 414.7 L893.1 414.7 L895.1 414.7 L897.1 414.7 L899.1 414.7 L901.1 414.7 L903.1 414.7 L905.1 414.7 L907.1 414.8 L909.1 414.8 L911.1 414.8 L913.1 414.8 L915.1 414.8 L917.1 414.8 L919.1 414.8 L921.1 414.8 L923.1 414.8 L925.1 414.8 L927.1 414.8 L929.1 414.8 L931.1 414.8 L933.1 414.8 L935.1 414.8 L937.1 414.8 L939.1 414.8 L941.1 414.8 L943.1 414.8 L945.1 414.8 L947.1 414.8 L949.1 414.8 L951.1 414.9 L953.1 414.9 L955.1 414.9 L957.1 414.9 L959.1 414.9 L961.1 414.9 L963.2 414.9 L965.2 414.9 L967.2 414.9 L969.2 414.9 L971.2 414.9 L973.2 414.9 L975.2 414.9 L977.2 414.9 L979.2 414.9 L981.2 414.9 L983.2 414.9 L985.2 415 L987.2 415 L989.2 415 L991.2 415 L993.2 415 L995.2 415 L997.2 415 L999.2 415 L1001.2 415 L1003.2 415 L1005.2 415 L1007.2 415 L1009.2 415 L1011.2 415 L1013.2 415 L1015.2 415.1 L1017.2 415.1 L1019.2 415.1 L1021.2 415.1 L1023.2 415.1 L1025.2 415.1 L1027.2 415.1 L1029.2 415.1 L1031.2 415.1 L1033.3 415.1 L1035.3 415.2 L1037.3 415.2 L1039.3 415.2 L1041.3 415.2 L1043.3 415.2 L1045.3 415.2 L1047.3 415.2 L1049.3 415.2 L1051.3 415.2 L1053.3 415.3 L1055.3 415.3 L1057.3 415.3 L1059.3 415.3 L1061.3 415.3 L1063.3 415.3 L1065.3 415.3 L1067.3 415.3 L1069.3 415.4 L1071.3 415.4 L1073.3 415.4 L1075.3 415.4 L1077.3 415.4 L1079.3 415.4 L1081.3 415.4 L1083.3 415.5 L1085.3 415.5 L1087.3 415.5 L1089.3 415.5 L1091.3 415.5 L1093.3 415.5 L1095.3 415.6 L1097.3 415.6 L1099.3 415.6 L1101.3 415.6 L1103.4 415.6 L1105.4 415.6 L1107.4 415.6 L1109.4 415.7 L1111.4 415.7 L1113.4 415.7 L1115.4 415.7 L1117.4 415.7 L1119.4 415.7 L1121.4 415.8 L1123.4 415.8 L1125.4 415.8 L1127.4 415.8 L1129.4 415.8 L1131.4 415.8 L1133.4 415.9 L1135.4 415.9 L1137.4 415.9 L1139.4 415.9 L1141.4 415.9 L1143.4 415.9 L1145.4 416 L1147.4 416 L1149.4 416 L1151.4 416 L1153.4 416 L1155.4 416 L1157.4 416.1 L1159.4 416.1 L1161.4 416.1 L1163.4 416.1 L1165.4 416.1 L1167.4 416.1 L1169.4 416.2 L1171.4 416.2 L1173.4 416.2 L1175.5 416.2 L1177.5 416.2 L1179.5 416.2 L1181.5 416.3 L1183.5 416.3 L1185.5 416.3 L1187.5 416.3 L1189.5 416.3 L1191.5 416.3 L1193.5 416.4 L1195.5 416.4 L1197.5 416.4 L1199.5 416.4 L1201.5 416.4 L1203.5 416.5 L1205.5 416.5 L1207.5 416.5 L1209.5 416.5 L1211.5 416.5 L1213.5 416.6 L1215.5 416.6 L1217.5 416.6 L1219.5 416.6 L1221.5 416.6 L1223.5 416.7 L1225.5 416.7 L1227.5 416.7 L1229.5 416.7 L1231.5 416.8 L1233.5 416.8 L1235.5 416.8 L1237.5 416.8 L1239.5 416.9 L1241.5 416.9 L1243.5 416.9 L1245.6 416.9 L1247.6 417 L1249.6 417 L1251.6 417 L1253.6 417.1 L1255.6 417.1 L1257.6 417.1 L1259.6 417.1 L1261.6 417.2 L1263.6 417.2 L1265.6 417.2 L1267.6 417.3 L1269.6 417.3 L1271.6 417.4 L1273.6 417.4 L1275.6 417.5 L1277.6 417.5 L1279.6 417.6 L1281.6 417.6 L1283.6 417.7 L1285.6 417.7 L1287.6 417.8 L1289.6 417.9 L1291.6 417.9 L1293.6 418 L1295.6 418 L1297.6 418.1 L1299.6 418.2 L1301.6 418.3 L1303.6 418.3 L1305.6 418.4 L1307.6 418.5 L1309.6 418.6 L1311.6 418.6 L1313.6 418.7 L1315.6 418.8 L1317.7 418.9 L1319.7 419 L1321.7 419 L1323.7 419.1 L1325.7 419.2 L1327.7 419.3 L1329.7 419.4 L1331.7 419.5 L1333.7 419.6 L1335.7 419.8 L1337.7 419.9 L1339.7 420 L1341.7 420.1 L1343.7 420.3 L1345.7 420.4 L1347.7 420.5 L1349.7 420.7 L1351.7 420.8 L1353.7 420.9 L1355.7 421 L1357.7 421.1 L1359.7 421.3 L1361.7 421.4 L1363.7 421.5 L1365.7 421.7 L1367.7 421.8 L1369.7 422 L1371.7 422.1 L1373.7 422.2 L1375.7 422.4 L1377.7 422.5 L1379.7 422.7 L1381.7 422.8 L1383.7 422.9 L1385.7 423 L1387.8 423.1 L1389.8 423.2 L1391.8 423.3 L1393.8 423.4 L1395.8 423.4 L1397.8 423.5 L1399.8 423.5 L1401.8 423.5 L1403.8 423.5 L1405.8 423.5 L1407.8 423.5 L1409.8 423.5 L1411.8 423.5 L1413.8 423.5 L1415.8 423.6 L1417.8 423.6 L1419.8 423.6 L1421.8 423.6 L1423.8 423.6 L1425.8 423.6 L1427.8 423.6 L1429.8 423.6 L1431.8 423.6 L1433.8 423.6 L1435.8 423.6 L1437.8 423.6 L1439.8 423.6 L1441.8 423.6 L1443.8 423.6 L1445.8 423.6 L1447.8 423.6 L1449.8 423.6 L1451.8 423.6 L1453.8 423.6 L1455.8 423.6 L1457.9 423.6 L1459.9 423.6 L1461.9 423.6 L1463.9 423.6 L1465.9 423.6 L1467.9 423.6 L1469.9 423.6 L1471.9 423.6 L1473.9 423.6 L1475.9 423.6 L1477.9 423.6 L1479.9 423.6 L1481.9 423.6 L1483.9 423.6 L1485.9 423.6 L1487.9 423.6 L1489.9 423.6 L1491.9 423.6 L1493.9 423.6 L1495.9 423.6 L1497.9 423.6 L1499.9 423.6 L1501.9 423.6 L1503.9 423.6 L1505.9 423.6 L1507.9 423.6 L1509.9 423.6 L1511.9 423.6 L1513.9 423.6 L1515.9 423.6 L1517.9 423.6 L1519.9 423.6 L1521.9 423.6 L1523.9 423.6 L1525.9 423.6 L1527.9 423.6 L1530 423.7 L1532 423.7 L1534 423.7 L1536 423.7 L1538 423.7 L1540 423.7 L1542 423.7 L1544 423.7 L1546 423.7 L1548 423.7 L1550 423.7 L1552 423.7 L1554 423.8 L1556 423.8 L1558 423.8 L1560 423.8 L1562 423.8 L1564 423.8" fill="none" stroke="#14144e" stroke-width="2.4" stroke-linejoin="round" stroke-linecap="round"/>
<path d="M855 414.6 L857 414.6 L859 414.5 L861 414.5 L863 414.4 L865 414.4 L867 414.4 L869 414.4 L871 414.3 L873 414.3 L875 414.3 L877 414.2 L879 414.2 L881 414.2 L883 414.2 L885 414.1 L887 414.1 L889 414.1 L891 414.1 L893 414 L895 414 L897 414 L899 413.9 L901 413.9 L903 413.9 L905 413.9 L907 413.8 L909 413.8 L911 413.8 L913 413.7 L915 413.7 L917 413.6 L919 413.6 L921 413.6 L923 413.5 L925 413.5 L927 413.4 L929 413.4 L931 413.3 L933 413.3 L935 413.2 L937 413.2 L939 413.1 L941 413 L943 413 L945 412.9 L947 412.8 L949 412.7 L951 412.6 L953 412.6 L955 412.5 L957 412.4 L959 412.3 L961 412.2 L963 412.1 L965 412 L967 411.8 L969 411.7 L971 411.6 L973 411.5 L975 411.3 L977 411.2 L979 411 L981 410.9 L983 410.7 L985 410.6 L987 410.4 L989 410.2 L991 410.1 L993 409.9 L995 409.7 L997 409.5 L999 409.3 L1001 409.1 L1003 408.9 L1005 408.7 L1007 408.5 L1009 408.3 L1011 408.1 L1013 407.9 L1015 407.6 L1017 407.4 L1019 407.2 L1021 406.9 L1023 406.7 L1025 406.4 L1027 406.2 L1029 405.9 L1031 405.7 L1033 405.4 L1035 405.2 L1037 404.9 L1039 404.6 L1041 404.4 L1043 404.1 L1045 403.8 L1047 403.6 L1049 403.3 L1051 403 L1053 402.7 L1055 402.4 L1057 402.1 L1059 401.9 L1061 401.6 L1063 401.3 L1065 401 L1067 400.7 L1069 400.4 L1071 400.1 L1073 399.8 L1075 399.5 L1077 399.2 L1079 398.9 L1081 398.6 L1083 398.4 L1085 398.1 L1087 397.8 L1089 397.6 L1091 397.4 L1093 397.2 L1095 397 L1097 396.8 L1099 396.6 L1101 396.5 L1103 396.4 L1105 396.3 L1107 396.3 L1109 396.3 L1111 396.3 L1113 396.3 L1115 396.4 L1117 396.5 L1119 396.7 L1121 396.8 L1123 397.1 L1125 397.3 L1127 397.5 L1129 397.8 L1131 398.1 L1133 398.3 L1135 398.6 L1137 398.9 L1139 399.1 L1141 399.3 L1143 399.5 L1145 399.7 L1147 399.8 L1149 399.9 L1151 400 L1153 400 L1155 399.9 L1157 399.9 L1159 399.8 L1161 399.7 L1163 399.5 L1165 399.4 L1167 399.2 L1169 399 L1171 398.9 L1173 398.7 L1175 398.5 L1177 398.3 L1179 398 L1181 397.8 L1183 397.6 L1185 397.3 L1187 397.1 L1189 396.8 L1191 396.5 L1193 396.2 L1195 396 L1197 395.7 L1199 395.4 L1201 395 L1203 394.7 L1205 394.4 L1207 394.1 L1209 393.7 L1211 393.4 L1213 393 L1215 392.7 L1217 392.3 L1219 391.9 L1221 391.6 L1223 391.2 L1225 390.8 L1227 390.4 L1229 390 L1231 389.6 L1233 389.2 L1235 388.8 L1237 388.3 L1239 387.9 L1241 387.4 L1243 386.9 L1245 386.4 L1247 385.9 L1249 385.4 L1251 384.8 L1253 384.2 L1255 383.6 L1257 382.9 L1259 382.2 L1261 381.5 L1263 380.7 L1265 379.9 L1267 379.1 L1269 378.2 L1271 377.3 L1273 376.3 L1275 375.3 L1277 374.2 L1279 373.1 L1281 371.9 L1283 370.7 L1285 369.5 L1287 368.1 L1289 366.7 L1291 365.3 L1293 363.8 L1295 362.2 L1297 360.5 L1299 358.8 L1301 357 L1303 355.1 L1305 353.1 L1307 351 L1309 348.9 L1311 346.6 L1313 344.3 L1315 341.9 L1317 339.5 L1319 337 L1321 334.6 L1323 332.3 L1325 330 L1327 327.8 L1329 325.7 L1331 323.6 L1333 321.7 L1335 319.9 L1337 318.3 L1339 316.8 L1341 315.4 L1343 314.3 L1345 313.2 L1347 312.4 L1349 311.8 L1351 311.4 L1353 311.2 L1355 311.3 L1357 311.8 L1359 312.7 L1361 313.9 L1363 315.4 L1365 317.2 L1367 319.3 L1369 321.7 L1371 324.2 L1373 327 L1375 329.9 L1377 333 L1379 336.2 L1381 339.6 L1383 343 L1385 346.4 L1387 349.9 L1389 353.5 L1391 357 L1393 360.6 L1395 364.2 L1397 367.7 L1399 371.2 L1401 374.7 L1403 378.1 L1405 381.4 L1407 384.6 L1409 387.8 L1411 390.8 L1413 393.7 L1415 396.4 L1417 399 L1419 401.4 L1421 403.7 L1423 405.7 L1425 407.6 L1427 409.3 L1429 410.9 L1431 412.3 L1433 413.5 L1435 414.7 L1437 415.7 L1439 416.6 L1441 417.3 L1443 418 L1445 418.6 L1447 419.1 L1449 419.6 L1451 419.9 L1453 420.2 L1455 420.5 L1457 420.7 L1459 420.9 L1461 421.1 L1463 421.2 L1465 421.3 L1467 421.5 L1469 421.6 L1471 421.7 L1473 421.8 L1475 421.9 L1477 422 L1479 422.1 L1481 422.2 L1483 422.3 L1485 422.4 L1487 422.5 L1489 422.6 L1491 422.6 L1493 422.7 L1495 422.8 L1497 422.8 L1499 422.9 L1501 423 L1503 423 L1505 423.1 L1507 423.1 L1509 423.1 L1511 423.2 L1513 423.2 L1515 423.3 L1517 423.3 L1519 423.3 L1521 423.3 L1523 423.4 L1525 423.4 L1527 423.4 L1529 423.4 L1531 423.4 L1533 423.5 L1535 423.5 L1537 423.5 L1539 423.5 L1541 423.5 L1543 423.5 L1545 423.5 L1547 423.5 L1549 423.5 L1551 423.5 L1553 423.5 L1555 423.6 L1557 423.6 L1559 423.6 L1561 423.6 L1563 423.6" fill="none" stroke="#151515" stroke-width="2.7" stroke-linejoin="round" stroke-linecap="round"/>
<path d="M855 414.6 L857 414.6 L859 414.5 L861 414.5 L863 414.4 L865 414.4 L867 414.4 L869 414.4 L871 414.3 L873 414.3 L875 414.3 L877 414.2 L879 414.2 L881 414.2 L883 414.2 L885 414.1 L887 414.1 L889 414.1 L891 414.1 L893 414 L895 414 L897 414 L899 413.9 L901 413.9 L903 413.9 L905 413.9 L907 413.8 L909 413.8 L911 413.8 L913 413.7 L915 413.7 L917 413.6 L919 413.6 L921 413.6 L923 413.5 L925 413.5 L927 413.4 L929 413.4 L931 413.3 L933 413.3 L935 413.2 L937 413.2 L939 413.1 L941 413 L943 413 L945 412.9 L947 412.8 L949 412.7 L951 412.6 L953 412.6 L955 412.5 L957 412.4 L959 412.3 L961 412.2 L963 412.1 L965 412 L967 411.8 L969 411.7 L971 411.6 L973 411.5 L975 411.3 L977 411.2 L979 411 L981 410.9 L983 410.7 L985 410.6 L987 410.4 L989 410.2 L991 410.1 L993 409.9 L995 409.7 L997 409.5 L999 409.3 L1001 409.1 L1003 408.9 L1005 408.7 L1007 408.5 L1009 408.3 L1011 408.1 L1013 407.9 L1015 407.6 L1017 407.4 L1019 407.2 L1021 406.9 L1023 406.7 L1025 406.4 L1027 406.2 L1029 405.9 L1031 405.7 L1033 405.4 L1035 405.2 L1037 404.9 L1039 404.6 L1041 404.4 L1043 404.1 L1045 403.8 L1047 403.6 L1049 403.3 L1051 403 L1053 402.7 L1055 402.4 L1057 402.1 L1059 401.9 L1061 401.6 L1063 401.3 L1065 401 L1067 400.7 L1069 400.4 L1071 400.1 L1073 399.8 L1075 399.5 L1077 399.2 L1079 398.9 L1081 398.6 L1083 398.4 L1085 398.1 L1087 397.8 L1089 397.6 L1091 397.4 L1093 397.2 L1095 397 L1097 396.8 L1099 396.6 L1101 396.5 L1103 396.4 L1105 396.3 L1107 396.3 L1109 396.3 L1111 396.3 L1113 396.3 L1115 396.4 L1117 396.5 L1119 396.7 L1121 396.8 L1123 397.1 L1125 397.3 L1127 397.5 L1129 397.8 L1131 398.1 L1133 398.3 L1135 398.6 L1137 398.9 L1139 399.1 L1141 399.3 L1143 399.5 L1145 399.7 L1147 399.8 L1149 399.9 L1151 400 L1153 400 L1155 399.9 L1157 399.9 L1159 399.8 L1161 399.7 L1163 399.5 L1165 399.4 L1167 399.2 L1169 399 L1171 398.9 L1173 398.7 L1175 398.5 L1177 398.3 L1179 398 L1181 397.8 L1183 397.6 L1185 397.3 L1187 397.1 L1189 396.8 L1191 396.5 L1193 396.2 L1195 396 L1197 395.7 L1199 395.4 L1201 395 L1203 394.7 L1205 394.4 L1207 394.1 L1209 393.7 L1211 393.4 L1213 393 L1215 392.7 L1217 392.3 L1219 391.9 L1221 391.6 L1223 391.2 L1225 390.8 L1227 390.4 L1229 390 L1231 389.6 L1233 389.2 L1235 388.8 L1237 388.3 L1239 387.9 L1241 387.4 L1243 386.9 L1245 386.4 L1247 385.9 L1249 385.4 L1251 384.8 L1253 384.2 L1255 383.6 L1257 382.9 L1259 382.2 L1261 381.5 L1263 380.7 L1265 379.9 L1267 379.1 L1269 378.2 L1271 377.3 L1273 376.3 L1275 375.3 L1277 374.2 L1279 373.1 L1281 371.9 L1283 370.7 L1285 369.5 L1287 368.1 L1289 366.7 L1291 365.3 L1293 363.8 L1295 362.2 L1297 360.5 L1299 358.8 L1301 357 L1303 355.1 L1305 353.1 L1307 351 L1309 348.9 L1311 346.6 L1313 344.3 L1315 341.9 L1317 339.5 L1319 337 L1321 334.6 L1323 332.3 L1325 330 L1327 327.8 L1329 325.7 L1331 323.6 L1333 321.7 L1335 319.9 L1337 318.3 L1339 316.8 L1341 315.4 L1343 314.3 L1345 313.2 L1347 312.4 L1349 311.8 L1351 311.4 L1353 311.2 L1355 311.3 L1357 311.8 L1359 312.7 L1361 313.9 L1363 315.4 L1365 317.2 L1367 319.3 L1369 321.7 L1371 324.2 L1373 327 L1375 329.9 L1377 333 L1379 336.2 L1381 339.6 L1383 343 L1385 346.4 L1387 349.9 L1389 353.5 L1391 357 L1393 360.6 L1395 364.2 L1397 367.7 L1399 371.2 L1401 374.7 L1403 378.1 L1405 381.4 L1407 384.6 L1409 387.8 L1411 390.8 L1413 393.7 L1415 396.4 L1417 399 L1419 401.4 L1421 403.7 L1423 405.7 L1425 407.6 L1427 409.3 L1429 410.9 L1431 412.3 L1433 413.5 L1435 414.7 L1437 415.7 L1439 416.6 L1441 417.3 L1443 418 L1445 418.6 L1447 419.1 L1449 419.6 L1451 419.9 L1453 420.2 L1455 420.5 L1457 420.7 L1459 420.9 L1461 421.1 L1463 421.2 L1465 421.3 L1467 421.5 L1469 421.6 L1471 421.7 L1473 421.8 L1475 421.9 L1477 422 L1479 422.1 L1481 422.2 L1483 422.3 L1485 422.4 L1487 422.5 L1489 422.6 L1491 422.6 L1493 422.7 L1495 422.8 L1497 422.8 L1499 422.9 L1501 423 L1503 423 L1505 423.1 L1507 423.1 L1509 423.1 L1511 423.2 L1513 423.2 L1515 423.3 L1517 423.3 L1519 423.3 L1521 423.3 L1523 423.4 L1525 423.4 L1527 423.4 L1529 423.4 L1531 423.4 L1533 423.5 L1535 423.5 L1537 423.5 L1539 423.5 L1541 423.5 L1543 423.5 L1545 423.5 L1547 423.5 L1549 423.5 L1551 423.5 L1553 423.5 L1555 423.6 L1557 423.6 L1559 423.6 L1561 423.6 L1563 423.6" fill="none" stroke="#7a1ee0" stroke-width="2.3" stroke-linejoin="round" stroke-linecap="round"/>
<path d="M855.6 550.6 L857.6 550.6 L859.6 550.6 L861.6 550.6 L863.6 550.6 L865.6 550.6 L867.6 550.6 L869.6 550.6 L871.6 550.6 L873.6 550.6 L875.6 550.6 L877.6 550.6 L879.6 550.6 L881.6 550.6 L883.6 550.6 L885.6 550.6 L887.6 550.6 L889.6 550.6 L891.6 550.6 L893.6 550.6 L895.6 550.6 L897.6 550.6 L899.6 550.6 L901.6 550.6 L903.6 550.6 L905.6 550.5 L907.6 550.5 L909.6 550.5 L911.6 550.5 L913.6 550.5 L915.6 550.5 L917.6 550.5 L919.6 550.5 L921.6 550.4 L923.6 550.4 L925.6 550.4 L927.6 550.4 L929.6 550.4 L931.6 550.3 L933.6 550.3 L935.6 550.3 L937.6 550.3 L939.6 550.2 L941.6 550.2 L943.6 550.1 L945.6 550.1 L947.6 550.1 L949.6 550 L951.6 550 L953.6 549.9 L955.6 549.8 L957.6 549.8 L959.6 549.7 L961.6 549.7 L963.6 549.6 L965.6 549.5 L967.6 549.4 L969.6 549.3 L971.6 549.3 L973.6 549.2 L975.6 549.1 L977.6 549 L979.6 548.9 L981.6 548.7 L983.6 548.6 L985.6 548.5 L987.6 548.4 L989.6 548.3 L991.6 548.1 L993.6 548 L995.6 547.8 L997.6 547.7 L999.6 547.5 L1001.6 547.4 L1003.6 547.2 L1005.6 547.1 L1007.6 546.9 L1009.6 546.7 L1011.6 546.5 L1013.6 546.4 L1015.6 546.2 L1017.6 546 L1019.6 545.8 L1021.6 545.6 L1023.6 545.4 L1025.6 545.2 L1027.6 545 L1029.6 544.8 L1031.6 544.6 L1033.6 544.4 L1035.6 544.2 L1037.6 544 L1039.6 543.8 L1041.6 543.6 L1043.6 543.5 L1045.6 543.3 L1047.6 543.1 L1049.6 542.9 L1051.6 542.7 L1053.6 542.5 L1055.6 542.3 L1057.6 542.2 L1059.6 542 L1061.6 541.9 L1063.6 541.7 L1065.6 541.6 L1067.6 541.4 L1069.6 541.3 L1071.6 541.2 L1073.6 541 L1075.6 540.9 L1077.6 540.8 L1079.6 540.7 L1081.6 540.7 L1083.6 540.6 L1085.6 540.5 L1087.6 540.5 L1089.6 540.4 L1091.6 540.4 L1093.6 540.4 L1095.6 540.4 L1097.6 540.4 L1099.6 540.4 L1101.6 540.4 L1103.6 540.5 L1105.6 540.6 L1107.6 540.7 L1109.6 540.8 L1111.6 541 L1113.6 541.1 L1115.6 541.3 L1117.6 541.5 L1119.6 541.7 L1121.6 542 L1123.6 542.2 L1125.6 542.5 L1127.6 542.8 L1129.6 543.1 L1131.6 543.4 L1133.6 543.7 L1135.6 544 L1137.6 544.3 L1139.6 544.7 L1141.6 545 L1143.6 545.3 L1145.6 545.6 L1147.6 545.9 L1149.6 546.3 L1151.6 546.6 L1153.6 546.9 L1155.6 547.2 L1157.6 547.5 L1159.6 547.7 L1161.6 548 L1163.6 548.3 L1165.6 548.5 L1167.6 548.8 L1169.6 549 L1171.6 549.3 L1173.6 549.5 L1175.6 549.7 L1177.6 549.9 L1179.6 550.1 L1181.6 550.3 L1183.6 550.4 L1185.6 550.6 L1187.6 550.8 L1189.6 550.9 L1191.6 551 L1193.6 551.2 L1195.6 551.3 L1197.6 551.4 L1199.6 551.5 L1201.6 551.6 L1203.6 551.7 L1205.6 551.8 L1207.6 551.9 L1209.6 552 L1211.6 552.1 L1213.6 552.1 L1215.6 552.2 L1217.6 552.3 L1219.6 552.3 L1221.6 552.4 L1223.6 552.5 L1225.6 552.5 L1227.6 552.6 L1229.6 552.6 L1231.6 552.7 L1233.6 552.7 L1235.6 552.8 L1237.6 552.9 L1239.6 552.9 L1241.6 553 L1243.6 553 L1245.6 553.1 L1247.6 553.1 L1249.6 553.2 L1251.6 553.2 L1253.6 553.3 L1255.6 553.3 L1257.6 553.4 L1259.6 553.4 L1261.6 553.5 L1263.6 553.5 L1265.6 553.6 L1267.6 553.6 L1269.6 553.7 L1271.6 553.8 L1273.6 553.8 L1275.6 553.9 L1277.6 554 L1279.6 554.1 L1281.6 554.1 L1283.6 554.2 L1285.6 554.3 L1287.6 554.4 L1289.6 554.5 L1291.6 554.6 L1293.6 554.7 L1295.6 554.8 L1297.6 554.9 L1299.6 555 L1301.6 555 L1303.6 555.1 L1305.6 555.2 L1307.6 555.3 L1309.6 555.4 L1311.6 555.5 L1313.6 555.6 L1315.6 555.7 L1317.6 555.8 L1319.6 555.9 L1321.6 555.9 L1323.6 556 L1325.6 556.1 L1327.6 556.2 L1329.6 556.2 L1331.6 556.3 L1333.6 556.4 L1335.6 556.5 L1337.6 556.5 L1339.6 556.6 L1341.6 556.7 L1343.6 556.7 L1345.6 556.8 L1347.6 556.9 L1349.6 557 L1351.6 557 L1353.6 557.1 L1355.6 557.2 L1357.6 557.3 L1359.6 557.4 L1361.6 557.5 L1363.6 557.6 L1365.6 557.7 L1367.6 557.9 L1369.6 558 L1371.6 558.1 L1373.6 558.3 L1375.6 558.4 L1377.6 558.5 L1379.6 558.7 L1381.6 558.8 L1383.6 558.9 L1385.6 559 L1387.6 559.2 L1389.6 559.3 L1391.6 559.4 L1393.6 559.5 L1395.6 559.6 L1397.6 559.7 L1399.6 559.8 L1401.6 559.8 L1403.6 559.9 L1405.6 560 L1407.6 560 L1409.6 560.1 L1411.6 560.2 L1413.6 560.2 L1415.6 560.3 L1417.6 560.4 L1419.6 560.4 L1421.6 560.5 L1423.6 560.6 L1425.6 560.6 L1427.6 560.7 L1429.6 560.7 L1431.6 560.8 L1433.6 560.8 L1435.6 560.9 L1437.6 560.9 L1439.6 560.9 L1441.6 560.9 L1443.6 561 L1445.6 561 L1447.6 561 L1449.6 561 L1451.6 561 L1453.6 561 L1455.6 561 L1457.6 561 L1459.6 561 L1461.6 561 L1463.6 561 L1465.6 561 L1467.6 561 L1469.6 561 L1471.6 561 L1473.6 561 L1475.6 561 L1477.6 561 L1479.6 561 L1481.6 561 L1483.6 561 L1485.6 561 L1487.6 561 L1489.6 561 L1491.6 561 L1493.6 561 L1495.6 561 L1497.6 561 L1499.6 561 L1501.6 561 L1503.6 561 L1505.6 561 L1507.6 561 L1509.6 561 L1511.6 561 L1513.6 561 L1515.6 561 L1517.6 561 L1519.6 561 L1521.6 561 L1523.6 561 L1525.6 561 L1527.6 561 L1529.6 561 L1531.6 561 L1533.6 561 L1535.6 561 L1537.6 561 L1539.6 561 L1541.6 561 L1543.6 561 L1545.6 561 L1547.6 561 L1549.6 561 L1551.6 561 L1553.6 561 L1555.6 561 L1557.6 561 L1559.6 561 L1561.6 561" fill="none" stroke="#e02ee0" stroke-width="2.4" stroke-linejoin="round" stroke-linecap="round"/>
<path d="M855.6 550.6 L857.6 550.6 L859.6 550.6 L861.6 550.6 L863.6 550.6 L865.6 550.6 L867.6 550.6 L869.6 550.6 L871.6 550.6 L873.6 550.6 L875.6 550.6 L877.6 550.6 L879.6 550.6 L881.6 550.6 L883.6 550.6 L885.6 550.6 L887.6 550.6 L889.6 550.6 L891.6 550.6 L893.6 550.6 L895.6 550.7 L897.6 550.7 L899.6 550.7 L901.6 550.7 L903.6 550.7 L905.6 550.7 L907.6 550.7 L909.6 550.7 L911.6 550.7 L913.6 550.7 L915.6 550.7 L917.6 550.7 L919.6 550.7 L921.6 550.7 L923.6 550.7 L925.6 550.7 L927.6 550.7 L929.6 550.7 L931.6 550.7 L933.6 550.7 L935.6 550.7 L937.6 550.7 L939.6 550.7 L941.6 550.7 L943.6 550.7 L945.6 550.8 L947.6 550.8 L949.6 550.8 L951.6 550.8 L953.6 550.8 L955.6 550.8 L957.6 550.8 L959.6 550.8 L961.6 550.8 L963.6 550.8 L965.6 550.8 L967.6 550.8 L969.6 550.8 L971.6 550.8 L973.6 550.8 L975.6 550.8 L977.6 550.8 L979.6 550.8 L981.6 550.8 L983.6 550.9 L985.6 550.9 L987.6 550.9 L989.6 550.9 L991.6 550.9 L993.6 550.9 L995.6 550.9 L997.6 550.9 L999.6 550.9 L1001.6 550.9 L1003.6 550.9 L1005.6 550.9 L1007.6 550.9 L1009.6 550.9 L1011.6 550.9 L1013.6 550.9 L1015.6 550.9 L1017.6 551 L1019.6 551 L1021.6 551 L1023.6 551 L1025.6 551 L1027.6 551 L1029.6 551 L1031.6 551 L1033.6 551 L1035.6 551 L1037.6 551 L1039.6 551 L1041.6 551 L1043.6 551 L1045.6 551 L1047.6 551 L1049.6 551 L1051.6 551.1 L1053.6 551.1 L1055.6 551.1 L1057.6 551.1 L1059.6 551.1 L1061.6 551.1 L1063.6 551.1 L1065.6 551.1 L1067.6 551.1 L1069.6 551.1 L1071.6 551.1 L1073.6 551.1 L1075.6 551.1 L1077.6 551.1 L1079.6 551.1 L1081.6 551.1 L1083.6 551.1 L1085.6 551.1 L1087.6 551.1 L1089.6 551.1 L1091.6 551.1 L1093.6 551.1 L1095.6 551.1 L1097.6 551 L1099.6 551 L1101.6 551 L1103.6 551 L1105.6 551 L1107.6 550.9 L1109.6 550.9 L1111.6 550.9 L1113.6 550.8 L1115.6 550.8 L1117.6 550.8 L1119.6 550.7 L1121.6 550.7 L1123.6 550.6 L1125.6 550.6 L1127.6 550.5 L1129.6 550.4 L1131.6 550.3 L1133.6 550.3 L1135.6 550.2 L1137.6 550.1 L1139.6 550 L1141.6 549.9 L1143.6 549.7 L1145.6 549.6 L1147.6 549.5 L1149.6 549.3 L1151.6 549.2 L1153.6 549 L1155.6 548.8 L1157.6 548.7 L1159.6 548.5 L1161.6 548.3 L1163.6 548 L1165.6 547.8 L1167.6 547.6 L1169.6 547.3 L1171.6 547.1 L1173.6 546.8 L1175.6 546.5 L1177.6 546.3 L1179.6 546 L1181.6 545.6 L1183.6 545.3 L1185.6 545 L1187.6 544.6 L1189.6 544.3 L1191.6 543.9 L1193.6 543.6 L1195.6 543.2 L1197.6 542.8 L1199.6 542.4 L1201.6 542 L1203.6 541.6 L1205.6 541.2 L1207.6 540.7 L1209.6 540.3 L1211.6 539.9 L1213.6 539.4 L1215.6 539 L1217.6 538.6 L1219.6 538.1 L1221.6 537.7 L1223.6 537.3 L1225.6 536.8 L1227.6 536.4 L1229.6 536 L1231.6 535.6 L1233.6 535.2 L1235.6 534.8 L1237.6 534.4 L1239.6 534 L1241.6 533.7 L1243.6 533.3 L1245.6 533 L1247.6 532.7 L1249.6 532.4 L1251.6 532.1 L1253.6 531.9 L1255.6 531.7 L1257.6 531.4 L1259.6 531.3 L1261.6 531.1 L1263.6 531 L1265.6 530.8 L1267.6 530.8 L1269.6 530.7 L1271.6 530.7 L1273.6 530.7 L1275.6 530.7 L1277.6 530.8 L1279.6 530.9 L1281.6 531 L1283.6 531.2 L1285.6 531.4 L1287.6 531.7 L1289.6 531.9 L1291.6 532.2 L1293.6 532.6 L1295.6 533 L1297.6 533.3 L1299.6 533.8 L1301.6 534.2 L1303.6 534.7 L1305.6 535.2 L1307.6 535.7 L1309.6 536.2 L1311.6 536.8 L1313.6 537.3 L1315.6 537.9 L1317.6 538.5 L1319.6 539.1 L1321.6 539.7 L1323.6 540.3 L1325.6 540.9 L1327.6 541.5 L1329.6 542.1 L1331.6 542.7 L1333.6 543.3 L1335.6 543.9 L1337.6 544.5 L1339.6 545.1 L1341.6 545.7 L1343.6 546.3 L1345.6 546.8 L1347.6 547.4 L1349.6 548 L1351.6 548.5 L1353.6 549 L1355.6 549.6 L1357.6 550.1 L1359.6 550.6 L1361.6 551.1 L1363.6 551.6 L1365.6 552.1 L1367.6 552.6 L1369.6 553 L1371.6 553.5 L1373.6 553.9 L1375.6 554.4 L1377.6 554.8 L1379.6 555.2 L1381.6 555.6 L1383.6 555.9 L1385.6 556.3 L1387.6 556.6 L1389.6 556.9 L1391.6 557.2 L1393.6 557.5 L1395.6 557.8 L1397.6 558 L1399.6 558.2 L1401.6 558.4 L1403.6 558.6 L1405.6 558.8 L1407.6 559 L1409.6 559.1 L1411.6 559.3 L1413.6 559.4 L1415.6 559.6 L1417.6 559.7 L1419.6 559.8 L1421.6 560 L1423.6 560.1 L1425.6 560.2 L1427.6 560.3 L1429.6 560.4 L1431.6 560.5 L1433.6 560.5 L1435.6 560.6 L1437.6 560.7 L1439.6 560.7 L1441.6 560.8 L1443.6 560.8 L1445.6 560.8 L1447.6 560.9 L1449.6 560.9 L1451.6 560.9 L1453.6 560.9 L1455.6 560.9 L1457.6 560.9 L1459.6 560.9 L1461.6 561 L1463.6 561 L1465.6 561 L1467.6 561 L1469.6 561 L1471.6 561 L1473.6 561 L1475.6 561 L1477.6 561 L1479.6 561 L1481.6 561 L1483.6 561 L1485.6 561 L1487.6 561 L1489.6 561 L1491.6 561 L1493.6 561 L1495.6 561 L1497.6 561 L1499.6 561 L1501.6 561 L1503.6 561 L1505.6 561 L1507.6 561 L1509.6 561 L1511.6 561 L1513.6 561 L1515.6 561 L1517.6 561 L1519.6 561 L1521.6 561 L1523.6 561 L1525.6 561 L1527.6 561 L1529.6 561 L1531.6 561 L1533.6 561 L1535.6 561 L1537.6 561 L1539.6 561 L1541.6 561 L1543.6 561 L1545.6 561 L1547.6 561 L1549.6 561 L1551.6 561 L1553.6 561 L1555.6 561 L1557.6 561 L1559.6 561 L1561.6 561" fill="none" stroke="#2626d6" stroke-width="2.4" stroke-linejoin="round" stroke-linecap="round"/>
<path d="M855.6 550.6 L857.6 550.6 L859.6 550.6 L861.6 550.6 L863.6 550.6 L865.6 550.6 L867.6 550.6 L869.6 550.6 L871.6 550.6 L873.6 550.6 L875.6 550.6 L877.6 550.6 L879.6 550.6 L881.6 550.6 L883.6 550.6 L885.6 550.6 L887.6 550.6 L889.6 550.6 L891.6 550.6 L893.6 550.6 L895.6 550.7 L897.6 550.7 L899.6 550.7 L901.6 550.7 L903.6 550.7 L905.6 550.7 L907.6 550.7 L909.6 550.7 L911.6 550.7 L913.6 550.7 L915.6 550.7 L917.6 550.7 L919.6 550.7 L921.6 550.7 L923.6 550.7 L925.6 550.7 L927.6 550.7 L929.6 550.7 L931.6 550.7 L933.6 550.7 L935.6 550.7 L937.6 550.7 L939.6 550.7 L941.6 550.7 L943.6 550.7 L945.6 550.8 L947.6 550.8 L949.6 550.8 L951.6 550.8 L953.6 550.8 L955.6 550.8 L957.6 550.8 L959.6 550.8 L961.6 550.8 L963.6 550.8 L965.6 550.8 L967.6 550.8 L969.6 550.8 L971.6 550.8 L973.6 550.8 L975.6 550.8 L977.6 550.8 L979.6 550.8 L981.6 550.8 L983.6 550.9 L985.6 550.9 L987.6 550.9 L989.6 550.9 L991.6 550.9 L993.6 550.9 L995.6 550.9 L997.6 550.9 L999.6 550.9 L1001.6 550.9 L1003.6 550.9 L1005.6 550.9 L1007.6 550.9 L1009.6 550.9 L1011.6 550.9 L1013.6 550.9 L1015.6 550.9 L1017.6 551 L1019.6 551 L1021.6 551 L1023.6 551 L1025.6 551 L1027.6 551 L1029.6 551 L1031.6 551 L1033.6 551 L1035.6 551 L1037.6 551 L1039.6 551 L1041.6 551 L1043.6 551 L1045.6 551 L1047.6 551.1 L1049.6 551.1 L1051.6 551.1 L1053.6 551.1 L1055.6 551.1 L1057.6 551.1 L1059.6 551.1 L1061.6 551.1 L1063.6 551.1 L1065.6 551.1 L1067.6 551.1 L1069.6 551.1 L1071.6 551.1 L1073.6 551.2 L1075.6 551.2 L1077.6 551.2 L1079.6 551.2 L1081.6 551.2 L1083.6 551.2 L1085.6 551.2 L1087.6 551.2 L1089.6 551.2 L1091.6 551.2 L1093.6 551.3 L1095.6 551.3 L1097.6 551.3 L1099.6 551.3 L1101.6 551.3 L1103.6 551.3 L1105.6 551.3 L1107.6 551.3 L1109.6 551.3 L1111.6 551.3 L1113.6 551.4 L1115.6 551.4 L1117.6 551.4 L1119.6 551.4 L1121.6 551.4 L1123.6 551.4 L1125.6 551.4 L1127.6 551.4 L1129.6 551.5 L1131.6 551.5 L1133.6 551.5 L1135.6 551.5 L1137.6 551.5 L1139.6 551.5 L1141.6 551.5 L1143.6 551.6 L1145.6 551.6 L1147.6 551.6 L1149.6 551.6 L1151.6 551.6 L1153.6 551.6 L1155.6 551.6 L1157.6 551.7 L1159.6 551.7 L1161.6 551.7 L1163.6 551.7 L1165.6 551.7 L1167.6 551.8 L1169.6 551.8 L1171.6 551.8 L1173.6 551.8 L1175.6 551.8 L1177.6 551.9 L1179.6 551.9 L1181.6 551.9 L1183.6 551.9 L1185.6 552 L1187.6 552 L1189.6 552 L1191.6 552.1 L1193.6 552.1 L1195.6 552.1 L1197.6 552.1 L1199.6 552.2 L1201.6 552.2 L1203.6 552.2 L1205.6 552.2 L1207.6 552.3 L1209.6 552.3 L1211.6 552.3 L1213.6 552.3 L1215.6 552.4 L1217.6 552.4 L1219.6 552.4 L1221.6 552.4 L1223.6 552.4 L1225.6 552.4 L1227.6 552.4 L1229.6 552.3 L1231.6 552.3 L1233.6 552.3 L1235.6 552.2 L1237.6 552.1 L1239.6 552.1 L1241.6 552 L1243.6 551.8 L1245.6 551.7 L1247.6 551.5 L1249.6 551.3 L1251.6 551.1 L1253.6 550.8 L1255.6 550.5 L1257.6 550.1 L1259.6 549.7 L1261.6 549.2 L1263.6 548.7 L1265.6 548.2 L1267.6 547.5 L1269.6 546.8 L1271.6 546 L1273.6 545.2 L1275.6 544.2 L1277.6 543.2 L1279.6 542.1 L1281.6 540.8 L1283.6 539.5 L1285.6 538.1 L1287.6 536.5 L1289.6 534.9 L1291.6 533.1 L1293.6 531.2 L1295.6 529.2 L1297.6 527.1 L1299.6 524.9 L1301.6 522.5 L1303.6 520.1 L1305.6 517.5 L1307.6 514.9 L1309.6 512.1 L1311.6 509.3 L1313.6 506.4 L1315.6 503.4 L1317.6 500.4 L1319.6 497.3 L1321.6 494.2 L1323.6 491.1 L1325.6 488 L1327.6 485 L1329.6 482 L1331.6 479 L1333.6 476.1 L1335.6 473.3 L1337.6 470.6 L1339.6 468.1 L1341.6 465.7 L1343.6 463.5 L1345.6 461.5 L1347.6 459.6 L1349.6 458 L1351.6 456.6 L1353.6 455.5 L1355.6 454.5 L1357.6 453.9 L1359.6 453.5 L1361.6 453.4 L1363.6 453.6 L1365.6 454.1 L1367.6 455.1 L1369.6 456.3 L1371.6 458 L1373.6 459.9 L1375.6 462.2 L1377.6 464.7 L1379.6 467.6 L1381.6 470.6 L1383.6 473.9 L1385.6 477.3 L1387.6 480.9 L1389.6 484.6 L1391.6 488.4 L1393.6 492.2 L1395.6 496.1 L1397.6 500 L1399.6 503.8 L1401.6 507.5 L1403.6 511.2 L1405.6 514.8 L1407.6 518.3 L1409.6 521.7 L1411.6 524.9 L1413.6 528 L1415.6 531 L1417.6 533.7 L1419.6 536.4 L1421.6 538.8 L1423.6 541.1 L1425.6 543.2 L1427.6 545.1 L1429.6 546.9 L1431.6 548.5 L1433.6 550 L1435.6 551.4 L1437.6 552.6 L1439.6 553.7 L1441.6 554.6 L1443.6 555.5 L1445.6 556.3 L1447.6 556.9 L1449.6 557.5 L1451.6 558 L1453.6 558.5 L1455.6 558.8 L1457.6 559.2 L1459.6 559.5 L1461.6 559.7 L1463.6 559.9 L1465.6 560.1 L1467.6 560.3 L1469.6 560.4 L1471.6 560.5 L1473.6 560.6 L1475.6 560.7 L1477.6 560.7 L1479.6 560.8 L1481.6 560.8 L1483.6 560.9 L1485.6 560.9 L1487.6 560.9 L1489.6 560.9 L1491.6 560.9 L1493.6 561 L1495.6 561 L1497.6 561 L1499.6 561 L1501.6 561 L1503.6 561 L1505.6 561 L1507.6 561 L1509.6 561 L1511.6 561 L1513.6 561 L1515.6 561 L1517.6 561 L1519.6 561 L1521.6 561 L1523.6 561 L1525.6 561 L1527.6 561 L1529.6 561 L1531.6 561 L1533.6 561 L1535.6 561 L1537.6 561 L1539.6 561 L1541.6 561 L1543.6 561 L1545.6 561 L1547.6 561 L1549.6 561 L1551.6 561 L1553.6 561 L1555.6 561 L1557.6 561 L1559.6 561 L1561.6 561" fill="none" stroke="#e0282e" stroke-width="2.4" stroke-linejoin="round" stroke-linecap="round"/>
<path d="M855 550.6 L857 550.6 L859 550.6 L861 550.6 L863 550.6 L865 550.6 L867 550.6 L869 550.6 L871 550.6 L873 550.6 L875 550.6 L877 550.6 L879 550.6 L881 550.6 L883 550.6 L885 550.6 L887 550.6 L889 550.6 L891.1 550.6 L893.1 550.6 L895.1 550.6 L897.1 550.7 L899.1 550.7 L901.1 550.7 L903.1 550.7 L905.1 550.7 L907.1 550.7 L909.1 550.7 L911.1 550.7 L913.1 550.7 L915.1 550.7 L917.1 550.7 L919.1 550.7 L921.1 550.7 L923.1 550.7 L925.1 550.7 L927.1 550.7 L929.1 550.7 L931.1 550.7 L933.1 550.7 L935.1 550.7 L937.1 550.7 L939.1 550.7 L941.1 550.7 L943.1 550.7 L945.1 550.8 L947.1 550.8 L949.1 550.8 L951.1 550.8 L953.1 550.8 L955.1 550.8 L957.1 550.8 L959.1 550.8 L961.1 550.8 L963.2 550.8 L965.2 550.8 L967.2 550.8 L969.2 550.8 L971.2 550.8 L973.2 550.8 L975.2 550.8 L977.2 550.8 L979.2 550.8 L981.2 550.8 L983.2 550.9 L985.2 550.9 L987.2 550.9 L989.2 550.9 L991.2 550.9 L993.2 550.9 L995.2 550.9 L997.2 550.9 L999.2 550.9 L1001.2 550.9 L1003.2 550.9 L1005.2 550.9 L1007.2 550.9 L1009.2 550.9 L1011.2 550.9 L1013.2 550.9 L1015.2 550.9 L1017.2 551 L1019.2 551 L1021.2 551 L1023.2 551 L1025.2 551 L1027.2 551 L1029.2 551 L1031.2 551 L1033.3 551 L1035.3 551 L1037.3 551 L1039.3 551 L1041.3 551 L1043.3 551 L1045.3 551 L1047.3 551.1 L1049.3 551.1 L1051.3 551.1 L1053.3 551.1 L1055.3 551.1 L1057.3 551.1 L1059.3 551.1 L1061.3 551.1 L1063.3 551.1 L1065.3 551.1 L1067.3 551.1 L1069.3 551.1 L1071.3 551.1 L1073.3 551.2 L1075.3 551.2 L1077.3 551.2 L1079.3 551.2 L1081.3 551.2 L1083.3 551.2 L1085.3 551.2 L1087.3 551.2 L1089.3 551.2 L1091.3 551.2 L1093.3 551.2 L1095.3 551.3 L1097.3 551.3 L1099.3 551.3 L1101.3 551.3 L1103.4 551.3 L1105.4 551.3 L1107.4 551.3 L1109.4 551.3 L1111.4 551.3 L1113.4 551.4 L1115.4 551.4 L1117.4 551.4 L1119.4 551.4 L1121.4 551.4 L1123.4 551.4 L1125.4 551.4 L1127.4 551.4 L1129.4 551.5 L1131.4 551.5 L1133.4 551.5 L1135.4 551.5 L1137.4 551.5 L1139.4 551.5 L1141.4 551.5 L1143.4 551.6 L1145.4 551.6 L1147.4 551.6 L1149.4 551.6 L1151.4 551.6 L1153.4 551.6 L1155.4 551.6 L1157.4 551.7 L1159.4 551.7 L1161.4 551.7 L1163.4 551.7 L1165.4 551.7 L1167.4 551.8 L1169.4 551.8 L1171.4 551.8 L1173.4 551.8 L1175.5 551.8 L1177.5 551.9 L1179.5 551.9 L1181.5 551.9 L1183.5 552 L1185.5 552 L1187.5 552 L1189.5 552 L1191.5 552.1 L1193.5 552.1 L1195.5 552.1 L1197.5 552.2 L1199.5 552.2 L1201.5 552.2 L1203.5 552.3 L1205.5 552.3 L1207.5 552.3 L1209.5 552.4 L1211.5 552.4 L1213.5 552.4 L1215.5 552.5 L1217.5 552.5 L1219.5 552.5 L1221.5 552.6 L1223.5 552.6 L1225.5 552.7 L1227.5 552.7 L1229.5 552.7 L1231.5 552.8 L1233.5 552.8 L1235.5 552.9 L1237.5 552.9 L1239.5 553 L1241.5 553 L1243.5 553 L1245.6 553.1 L1247.6 553.1 L1249.6 553.2 L1251.6 553.2 L1253.6 553.3 L1255.6 553.3 L1257.6 553.4 L1259.6 553.4 L1261.6 553.5 L1263.6 553.5 L1265.6 553.6 L1267.6 553.6 L1269.6 553.7 L1271.6 553.8 L1273.6 553.8 L1275.6 553.9 L1277.6 554 L1279.6 554.1 L1281.6 554.1 L1283.6 554.2 L1285.6 554.3 L1287.6 554.4 L1289.6 554.5 L1291.6 554.6 L1293.6 554.7 L1295.6 554.8 L1297.6 554.9 L1299.6 555 L1301.6 555.1 L1303.6 555.1 L1305.6 555.2 L1307.6 555.3 L1309.6 555.4 L1311.6 555.5 L1313.6 555.6 L1315.6 555.7 L1317.7 555.8 L1319.7 555.9 L1321.7 555.9 L1323.7 556 L1325.7 556.1 L1327.7 556.2 L1329.7 556.2 L1331.7 556.3 L1333.7 556.4 L1335.7 556.5 L1337.7 556.5 L1339.7 556.6 L1341.7 556.7 L1343.7 556.7 L1345.7 556.8 L1347.7 556.9 L1349.7 557 L1351.7 557 L1353.7 557.1 L1355.7 557.2 L1357.7 557.3 L1359.7 557.4 L1361.7 557.5 L1363.7 557.6 L1365.7 557.8 L1367.7 557.9 L1369.7 558 L1371.7 558.1 L1373.7 558.3 L1375.7 558.4 L1377.7 558.5 L1379.7 558.7 L1381.7 558.8 L1383.7 558.9 L1385.7 559.1 L1387.8 559.2 L1389.8 559.3 L1391.8 559.4 L1393.8 559.5 L1395.8 559.6 L1397.8 559.7 L1399.8 559.8 L1401.8 559.8 L1403.8 559.9 L1405.8 560 L1407.8 560 L1409.8 560.1 L1411.8 560.2 L1413.8 560.3 L1415.8 560.3 L1417.8 560.4 L1419.8 560.4 L1421.8 560.5 L1423.8 560.6 L1425.8 560.6 L1427.8 560.7 L1429.8 560.7 L1431.8 560.8 L1433.8 560.8 L1435.8 560.9 L1437.8 560.9 L1439.8 560.9 L1441.8 561 L1443.8 561 L1445.8 561 L1447.8 561 L1449.8 561 L1451.8 561 L1453.8 561 L1455.8 561 L1457.9 561 L1459.9 561 L1461.9 561 L1463.9 561 L1465.9 561 L1467.9 561 L1469.9 561 L1471.9 561 L1473.9 561 L1475.9 561 L1477.9 561 L1479.9 561 L1481.9 561 L1483.9 561 L1485.9 561 L1487.9 561 L1489.9 561 L1491.9 561 L1493.9 561 L1495.9 561 L1497.9 561 L1499.9 561 L1501.9 561 L1503.9 561 L1505.9 561 L1507.9 561 L1509.9 561 L1511.9 561 L1513.9 561 L1515.9 561 L1517.9 561 L1519.9 561 L1521.9 561 L1523.9 561 L1525.9 561 L1527.9 561 L1530 561 L1532 561 L1534 561 L1536 561 L1538 561 L1540 561 L1542 561 L1544 561 L1546 561 L1548 561 L1550 561 L1552 561 L1554 561 L1556 561 L1558 561 L1560 561 L1562 561 L1564 561" fill="none" stroke="#23862a" stroke-width="2.4" stroke-linejoin="round" stroke-linecap="round"/>
<path d="M855 550.6 L857 550.9 L859 550.9 L861 550.5 L863 550.5 L865 550.4 L867 550.7 L869 550.5 L871 550.7 L873 550 L875 550.9 L877 550.4 L879 550.6 L881 550.4 L883 550.3 L885 550.5 L887 550.5 L889 550.2 L891 550.2 L893 550.4 L895 549.9 L897 549.7 L899 550.2 L901 549.9 L903 549.5 L905 549.7 L907 549.8 L909 549.6 L911 549.4 L913 549.8 L915 549.9 L917 549.6 L919 549.4 L921 549.7 L923 549.7 L925 549.4 L927 549.5 L929 549.6 L931 549.2 L933 549 L935 549.2 L937 549 L939 549.2 L941 548.5 L943 548.5 L945 548.4 L947 548 L949 548.4 L951 548.4 L953 548 L955 548.4 L957 548.2 L959 548 L961 547.9 L963 547.9 L965 547.2 L967 547.6 L969 547.5 L971 546.8 L973 547.2 L975 547 L977 547.1 L979 546.7 L981 546.7 L983 546.7 L985 546.3 L987 546.5 L989 546.2 L991 546.3 L993 545.9 L995 546.1 L997 545.9 L999 545.5 L1001 545.6 L1003 545.6 L1005 545.5 L1007 544.5 L1009 544.9 L1011 544.6 L1013 544.2 L1015 543.8 L1017 544.1 L1019 543.2 L1021 543.5 L1023 543.4 L1025 542.4 L1027 542.5 L1029 542 L1031 542.1 L1033 542.2 L1035 542.1 L1037 540.9 L1039 541 L1041 541.1 L1043 541 L1045 540.5 L1047 540 L1049 540 L1051 539.7 L1053 539.4 L1055 539 L1057 539 L1059 538.8 L1061 538.4 L1063 538.2 L1065 537.7 L1067 537.7 L1069 537.9 L1071 537.4 L1073 536.8 L1075 537.3 L1077 536.9 L1079 537.1 L1081 536.4 L1083 536 L1085 535.6 L1087 536.1 L1089 536.2 L1091 535.2 L1093 535.1 L1095 535.3 L1097 534.9 L1099 535 L1101 534.9 L1103 535.1 L1105 535.3 L1107 535.1 L1109 535.5 L1111 535.3 L1113 535.6 L1115 535.2 L1117 535.5 L1119 536.3 L1121 536.1 L1123 536.5 L1125 536.6 L1127 536.9 L1129 536.9 L1131 537.1 L1133 537 L1135 536.9 L1137 537.1 L1139 537.2 L1141 537.2 L1143 537.4 L1145 537.6 L1147 537.7 L1149 537.6 L1151 537.2 L1153 537.7 L1155 537.7 L1157 537.9 L1159 537.8 L1161 537.4 L1163 537.3 L1165 538 L1167 537.6 L1169 537.8 L1171 537.8 L1173 537 L1175 537.2 L1177 537.1 L1179 537 L1181 536.7 L1183 536.4 L1185 536.1 L1187 535.3 L1189 535.3 L1191 534.8 L1193 534.6 L1195 534.1 L1197 534 L1199 533.7 L1201 533.3 L1203 532.9 L1205 532.5 L1207 532.1 L1209 531.8 L1211 531.4 L1213 531.3 L1215 530.8 L1217 530.6 L1219 529.8 L1221 529.9 L1223 529.2 L1225 528.8 L1227 528.6 L1229 528.1 L1231 528 L1233 527.4 L1235 527 L1237 526.7 L1239 526.9 L1241 526.2 L1243 525.5 L1245 525.3 L1247 524.5 L1249 524.8 L1251 523.4 L1253 523.3 L1255 522.5 L1257 521.1 L1259 520.6 L1261 519.9 L1263 518.8 L1265 517.9 L1267 517.2 L1269 516.2 L1271 515.3 L1273 514.3 L1275 513.6 L1277 512.3 L1279 511.8 L1281 510.5 L1283 509.3 L1285 508.6 L1287 507.9 L1289 506.7 L1291 505.2 L1293 504.3 L1295 502.8 L1297 501.6 L1299 500.2 L1301 498.1 L1303 497 L1305 494.7 L1307 492.5 L1309 490 L1311 487.6 L1313 485.4 L1315 483.5 L1317 481.3 L1319 478.5 L1321 476.3 L1323 473.6 L1325 470.7 L1327 468.8 L1329 466.4 L1331 463.8 L1333 461.7 L1335 459.5 L1337 456.9 L1339 454.6 L1341 452.9 L1343 451.1 L1345 449.6 L1347 448.6 L1349 447.5 L1351 445.8 L1353 445.2 L1355 444.8 L1357 444.9 L1359 445.5 L1361 445.9 L1363 447.2 L1365 448.7 L1367 449.8 L1369 451.6 L1371 454.5 L1373 457.6 L1375 460.4 L1377 463.1 L1379 466.8 L1381 469.5 L1383 473.4 L1385 476.8 L1387 480.1 L1389 484.2 L1391 487.5 L1393 490.8 L1395 494.9 L1397 498.3 L1399 501.5 L1401 505.4 L1403 509.1 L1405 512.8 L1407 516.3 L1409 519.7 L1411 523.1 L1413 525.9 L1415 529 L1417 531.5 L1419 534 L1421 536.5 L1423 538.3 L1425 540.5 L1427 542.9 L1429 544.3 L1431 545.8 L1433 547.5 L1435 548.7 L1437 550.1 L1439 551.1 L1441 552.4 L1443 553.1 L1445 554.8 L1447 555.3 L1449 555.7 L1451 556.5 L1453 556.8 L1455 557.3 L1457 557.2 L1459 557.8 L1461 558.8 L1463 557.8 L1465 558.4 L1467 558.4 L1469 558.7 L1471 558.3 L1473 558.6 L1475 559.1 L1477 559.1 L1479 559.7 L1481 559.3 L1483 559.6 L1485 560.5 L1487 559.7 L1489 559.8 L1491 560.1 L1493 560.2 L1495 560.5 L1497 560.4 L1499 560.2 L1501 560.5 L1503 561.1 L1505 560.8 L1507 559.8 L1509 560.4 L1511 560.3 L1513 560.7 L1515 560.5 L1517 561 L1519 560.8 L1521 560.8 L1523 560.6 L1525 560.6 L1527 560.7 L1529 560.9 L1531 560.8 L1533 560.5 L1535 561 L1537 560.7 L1539 560.6 L1541 560.5 L1543 560.5 L1545 560.5 L1547 560 L1549 560.9 L1551 560.8 L1553 560.6 L1555 561 L1557 560.8 L1559 560.8 L1561 560.1 L1563 560.6" fill="none" stroke="#151515" stroke-width="2.8" stroke-linejoin="round" stroke-linecap="round"/>
<path d="M855 550.7 L857 550.7 L859 550.6 L861 550.6 L863 550.6 L865 550.5 L867 550.5 L869 550.4 L871 550.4 L873 550.4 L875 550.3 L877 550.3 L879 550.3 L881 550.2 L883 550.2 L885 550.2 L887 550.1 L889 550.1 L891 550.1 L893 550 L895 550 L897 550 L899 550 L901 549.9 L903 549.9 L905 549.8 L907 549.8 L909 549.8 L911 549.7 L913 549.7 L915 549.7 L917 549.6 L919 549.6 L921 549.5 L923 549.5 L925 549.4 L927 549.4 L929 549.3 L931 549.3 L933 549.2 L935 549.1 L937 549.1 L939 549 L941 548.9 L943 548.9 L945 548.8 L947 548.7 L949 548.6 L951 548.6 L953 548.5 L955 548.4 L957 548.3 L959 548.2 L961 548.1 L963 548 L965 547.9 L967 547.7 L969 547.6 L971 547.5 L973 547.4 L975 547.2 L977 547.1 L979 547 L981 546.8 L983 546.7 L985 546.5 L987 546.3 L989 546.2 L991 546 L993 545.8 L995 545.7 L997 545.5 L999 545.3 L1001 545.1 L1003 544.9 L1005 544.7 L1007 544.5 L1009 544.3 L1011 544.1 L1013 543.9 L1015 543.7 L1017 543.5 L1019 543.3 L1021 543.1 L1023 542.8 L1025 542.6 L1027 542.4 L1029 542.2 L1031 542 L1033 541.7 L1035 541.5 L1037 541.3 L1039 541.1 L1041 540.8 L1043 540.6 L1045 540.4 L1047 540.2 L1049 539.9 L1051 539.7 L1053 539.5 L1055 539.3 L1057 539 L1059 538.8 L1061 538.6 L1063 538.4 L1065 538.2 L1067 538 L1069 537.7 L1071 537.5 L1073 537.3 L1075 537.1 L1077 536.9 L1079 536.7 L1081 536.5 L1083 536.3 L1085 536.1 L1087 535.9 L1089 535.8 L1091 535.6 L1093 535.4 L1095 535.3 L1097 535.2 L1099 535.1 L1101 535 L1103 535 L1105 535 L1107 535 L1109 535.1 L1111 535.2 L1113 535.3 L1115 535.5 L1117 535.6 L1119 535.8 L1121 535.9 L1123 536.1 L1125 536.3 L1127 536.5 L1129 536.6 L1131 536.8 L1133 537 L1135 537.1 L1137 537.2 L1139 537.4 L1141 537.5 L1143 537.6 L1145 537.7 L1147 537.8 L1149 537.8 L1151 537.8 L1153 537.9 L1155 537.9 L1157 537.8 L1159 537.8 L1161 537.7 L1163 537.7 L1165 537.6 L1167 537.5 L1169 537.3 L1171 537.2 L1173 537 L1175 536.8 L1177 536.7 L1179 536.5 L1181 536.2 L1183 536 L1185 535.8 L1187 535.5 L1189 535.2 L1191 535 L1193 534.7 L1195 534.4 L1197 534.1 L1199 533.7 L1201 533.4 L1203 533.1 L1205 532.7 L1207 532.4 L1209 532 L1211 531.7 L1213 531.3 L1215 530.9 L1217 530.6 L1219 530.2 L1221 529.8 L1223 529.5 L1225 529.1 L1227 528.7 L1229 528.3 L1231 527.9 L1233 527.6 L1235 527.2 L1237 526.7 L1239 526.3 L1241 525.9 L1243 525.4 L1245 524.9 L1247 524.4 L1249 523.9 L1251 523.3 L1253 522.7 L1255 522 L1257 521.3 L1259 520.6 L1261 519.9 L1263 519.1 L1265 518.3 L1267 517.5 L1269 516.7 L1271 515.8 L1273 514.9 L1275 514 L1277 513 L1279 512.1 L1281 511.1 L1283 510.1 L1285 509 L1287 508 L1289 506.9 L1291 505.7 L1293 504.4 L1295 503.1 L1297 501.7 L1299 500.1 L1301 498.4 L1303 496.5 L1305 494.6 L1307 492.5 L1309 490.3 L1311 488 L1313 485.7 L1315 483.2 L1317 480.8 L1319 478.3 L1321 475.8 L1323 473.3 L1325 470.8 L1327 468.3 L1329 465.9 L1331 463.5 L1333 461.2 L1335 459 L1337 456.9 L1339 454.9 L1341 453 L1343 451.4 L1345 449.8 L1347 448.5 L1349 447.4 L1351 446.5 L1353 445.9 L1355 445.5 L1357 445.5 L1359 445.7 L1361 446.2 L1363 447.1 L1365 448.4 L1367 450 L1369 452 L1371 454.2 L1373 456.8 L1375 459.7 L1377 462.7 L1379 466 L1381 469.4 L1383 472.9 L1385 476.5 L1387 480.2 L1389 483.8 L1391 487.5 L1393 491.2 L1395 494.9 L1397 498.5 L1399 502.1 L1401 505.7 L1403 509.2 L1405 512.6 L1407 515.9 L1409 519.2 L1411 522.3 L1413 525.4 L1415 528.3 L1417 531.1 L1419 533.8 L1421 536.3 L1423 538.7 L1425 540.9 L1427 542.9 L1429 544.8 L1431 546.5 L1433 548 L1435 549.4 L1437 550.6 L1439 551.7 L1441 552.7 L1443 553.6 L1445 554.4 L1447 555 L1449 555.6 L1451 556.1 L1453 556.6 L1455 557 L1457 557.3 L1459 557.6 L1461 557.8 L1463 558.1 L1465 558.3 L1467 558.5 L1469 558.7 L1471 558.9 L1473 559 L1475 559.2 L1477 559.3 L1479 559.5 L1481 559.6 L1483 559.7 L1485 559.8 L1487 559.9 L1489 560 L1491 560.1 L1493 560.2 L1495 560.2 L1497 560.3 L1499 560.4 L1501 560.4 L1503 560.4 L1505 560.5 L1507 560.5 L1509 560.5 L1511 560.6 L1513 560.6 L1515 560.6 L1517 560.6 L1519 560.6 L1521 560.6 L1523 560.6 L1525 560.6 L1527 560.6 L1529 560.6 L1531 560.6 L1533 560.6 L1535 560.6 L1537 560.6 L1539 560.6 L1541 560.6 L1543 560.6 L1545 560.6 L1547 560.6 L1549 560.6 L1551 560.6 L1553 560.6 L1555 560.6 L1557 560.6 L1559 560.7 L1561 560.7 L1563 560.7" fill="none" stroke="#14144e" stroke-width="2.2" stroke-linejoin="round" stroke-linecap="round"/>
<line x1="1100.4" y1="27" x2="1100.4" y2="570.5" stroke="#383838" stroke-width="2.0" stroke-linecap="butt" stroke-dasharray="6.2,5.6"/>
<line x1="1262.8" y1="27" x2="1262.8" y2="570.5" stroke="#383838" stroke-width="2.0" stroke-linecap="butt" stroke-dasharray="6.2,5.6"/>
<line x1="1323.2" y1="27" x2="1323.2" y2="570.5" stroke="#383838" stroke-width="2.0" stroke-linecap="butt" stroke-dasharray="6.2,5.6"/>
<line x1="1355.7" y1="27" x2="1355.7" y2="570.5" stroke="#383838" stroke-width="2.0" stroke-linecap="butt" stroke-dasharray="6.2,5.6"/>
<line x1="854.6" y1="161.5" x2="1563.8" y2="161.5" stroke="#444444" stroke-width="2.7" stroke-linecap="butt"/>
<line x1="854.6" y1="297.7" x2="1563.8" y2="297.7" stroke="#444444" stroke-width="2.7" stroke-linecap="butt"/>
<line x1="854.6" y1="434" x2="1563.8" y2="434" stroke="#444444" stroke-width="2.7" stroke-linecap="butt"/>
<rect x="854.6" y="27" width="709.2" height="543.5" fill="none" stroke="#444444" stroke-width="2.7"/>
<line x1="855" y1="570.5" x2="855" y2="575.5" stroke="#444444" stroke-width="2.2" stroke-linecap="butt"/>
<line x1="914.1" y1="570.5" x2="914.1" y2="580" stroke="#444444" stroke-width="2.2" stroke-linecap="butt"/>
<text x="914.1" y="607.8" font-size="26" fill="#1c1c1c" stroke="#1c1c1c" stroke-width="0.7" text-anchor="middle" textLength="42.8" lengthAdjust="spacingAndGlyphs">292</text>
<line x1="973.2" y1="570.5" x2="973.2" y2="575.5" stroke="#444444" stroke-width="2.2" stroke-linecap="butt"/>
<line x1="1032.4" y1="570.5" x2="1032.4" y2="580" stroke="#444444" stroke-width="2.2" stroke-linecap="butt"/>
<text x="1032.4" y="607.8" font-size="26" fill="#1c1c1c" stroke="#1c1c1c" stroke-width="0.7" text-anchor="middle" textLength="42.8" lengthAdjust="spacingAndGlyphs">290</text>
<line x1="1091.5" y1="570.5" x2="1091.5" y2="575.5" stroke="#444444" stroke-width="2.2" stroke-linecap="butt"/>
<line x1="1150.6" y1="570.5" x2="1150.6" y2="580" stroke="#444444" stroke-width="2.2" stroke-linecap="butt"/>
<text x="1150.6" y="607.8" font-size="26" fill="#1c1c1c" stroke="#1c1c1c" stroke-width="0.7" text-anchor="middle" textLength="42.8" lengthAdjust="spacingAndGlyphs">288</text>
<line x1="1209.7" y1="570.5" x2="1209.7" y2="575.5" stroke="#444444" stroke-width="2.2" stroke-linecap="butt"/>
<line x1="1268.8" y1="570.5" x2="1268.8" y2="580" stroke="#444444" stroke-width="2.2" stroke-linecap="butt"/>
<text x="1268.8" y="607.8" font-size="26" fill="#1c1c1c" stroke="#1c1c1c" stroke-width="0.7" text-anchor="middle" textLength="42.8" lengthAdjust="spacingAndGlyphs">286</text>
<line x1="1328" y1="570.5" x2="1328" y2="575.5" stroke="#444444" stroke-width="2.2" stroke-linecap="butt"/>
<line x1="1387.1" y1="570.5" x2="1387.1" y2="580" stroke="#444444" stroke-width="2.2" stroke-linecap="butt"/>
<text x="1387.1" y="607.8" font-size="26" fill="#1c1c1c" stroke="#1c1c1c" stroke-width="0.7" text-anchor="middle" textLength="42.8" lengthAdjust="spacingAndGlyphs">284</text>
<line x1="1446.2" y1="570.5" x2="1446.2" y2="575.5" stroke="#444444" stroke-width="2.2" stroke-linecap="butt"/>
<line x1="1505.3" y1="570.5" x2="1505.3" y2="580" stroke="#444444" stroke-width="2.2" stroke-linecap="butt"/>
<text x="1505.3" y="607.8" font-size="26" fill="#1c1c1c" stroke="#1c1c1c" stroke-width="0.7" text-anchor="middle" textLength="42.8" lengthAdjust="spacingAndGlyphs">282</text>
<line x1="1564.4" y1="570.5" x2="1564.4" y2="575.5" stroke="#444444" stroke-width="2.2" stroke-linecap="butt"/>
<text x="1208.6" y="633.8" font-size="26" fill="#1c1c1c" stroke="#1c1c1c" stroke-width="0.7" text-anchor="middle" textLength="214" lengthAdjust="spacingAndGlyphs">Binding energy/eV</text>
<text x="835.7" y="387" font-size="26" fill="#1c1c1c" stroke="#1c1c1c" stroke-width="0.7" text-anchor="start" textLength="152.8" lengthAdjust="spacingAndGlyphs" transform="rotate(-90 835.7 387)">Intensiyi/a.m.</text>
<text x="865.2" y="57.3" font-size="26.5" fill="#1c1c1c" stroke="#1c1c1c" stroke-width="0.7" text-anchor="start" textLength="56.6" lengthAdjust="spacingAndGlyphs">C 1s</text>
<text x="1085.4" y="99.4" font-size="21.7" fill="#3a3ad2" stroke="#3a3ad2" stroke-width="0.7" text-anchor="start" textLength="66.2" lengthAdjust="spacingAndGlyphs">288.80</text>
<text x="1215.4" y="93" font-size="21.7" fill="#3a3ad2" stroke="#3a3ad2" stroke-width="0.7" text-anchor="start" textLength="65.5" lengthAdjust="spacingAndGlyphs">286.28</text>
<text x="1281.6" y="60.3" font-size="21.7" fill="#3a3ad2" stroke="#3a3ad2" stroke-width="0.7" text-anchor="start" textLength="66" lengthAdjust="spacingAndGlyphs">285.08</text>
<text x="1368.2" y="49.5" font-size="21.7" fill="#3a3ad2" stroke="#3a3ad2" stroke-width="0.7" text-anchor="start" textLength="65" lengthAdjust="spacingAndGlyphs">284.41</text>
<text x="866.4" y="138.4" font-size="21.8" fill="#d4283a" stroke="#d4283a" stroke-width="0.7" text-anchor="start" textLength="48.6" lengthAdjust="spacingAndGlyphs">AC-O</text>
<text x="865.2" y="275.6" font-size="21.8" fill="#d4283a" stroke="#d4283a" stroke-width="0.7" text-anchor="start" textLength="89.3" lengthAdjust="spacingAndGlyphs">AC-COIMI</text>
<text x="862.7" y="403.3" font-size="21.8" fill="#d4283a" stroke="#d4283a" stroke-width="0.7" text-anchor="start" textLength="143.3" lengthAdjust="spacingAndGlyphs">AC-COIMI-HPW</text>
<text x="858.9" y="532.5" font-size="21.8" fill="#d4283a" stroke="#d4283a" stroke-width="0.7" text-anchor="start" textLength="163.6" lengthAdjust="spacingAndGlyphs">AC-COIMI-NH<tspan font-size="11" dy="8">4</tspan><tspan dy="-8">PW</tspan></text>
<path d="M64 788.5 L66 788.6 L68 788.7 L70 788.8 L72 788.9 L74 789 L76 789.1 L78 789.2 L80 789.3 L82 789.4 L84 789.6 L86 789.7 L88 789.8 L90 789.9 L92 790 L94 790.1 L96 790.3 L98 790.4 L100.1 790.5 L102.1 790.6 L104.1 790.8 L106.1 790.9 L108.1 791 L110.1 791.2 L112.1 791.3 L114.1 791.5 L116.1 791.6 L118.1 791.8 L120.1 791.9 L122.1 792.1 L124.1 792.2 L126.1 792.4 L128.1 792.5 L130.1 792.7 L132.1 792.8 L134.1 792.9 L136.1 793.1 L138.1 793.2 L140.1 793.4 L142.1 793.5 L144.1 793.6 L146.1 793.8 L148.1 793.9 L150.1 794 L152.1 794.1 L154.1 794.2 L156.1 794.4 L158.1 794.5 L160.1 794.6 L162.1 794.7 L164.1 794.8 L166.1 795 L168.2 795.1 L170.2 795.2 L172.2 795.3 L174.2 795.4 L176.2 795.5 L178.2 795.6 L180.2 795.7 L182.2 795.8 L184.2 795.9 L186.2 796 L188.2 796.1 L190.2 796.2 L192.2 796.3 L194.2 796.3 L196.2 796.4 L198.2 796.5 L200.2 796.5 L202.2 796.6 L204.2 796.6 L206.2 796.7 L208.2 796.7 L210.2 796.7 L212.2 796.8 L214.2 796.8 L216.2 796.9 L218.2 796.9 L220.2 797 L222.2 797 L224.2 797.1 L226.2 797.1 L228.2 797.1 L230.2 797.2 L232.2 797.2 L234.2 797.2 L236.2 797.3 L238.3 797.3 L240.3 797.3 L242.3 797.4 L244.3 797.4 L246.3 797.4 L248.3 797.4 L250.3 797.4 L252.3 797.5 L254.3 797.5 L256.3 797.5 L258.3 797.5 L260.3 797.5 L262.3 797.5 L264.3 797.5 L266.3 797.5 L268.3 797.5 L270.3 797.5 L272.3 797.5 L274.3 797.5 L276.3 797.5 L278.3 797.5 L280.3 797.5 L282.3 797.5 L284.3 797.5 L286.3 797.5 L288.3 797.5 L290.3 797.5 L292.3 797.5 L294.3 797.5 L296.3 797.5 L298.3 797.5 L300.3 797.5 L302.3 797.5 L304.3 797.5 L306.4 797.5 L308.4 797.5 L310.4 797.5 L312.4 797.5 L314.4 797.5 L316.4 797.5 L318.4 797.5 L320.4 797.5 L322.4 797.5 L324.4 797.5 L326.4 797.5 L328.4 797.5 L330.4 797.5 L332.4 797.5 L334.4 797.5 L336.4 797.5 L338.4 797.5 L340.4 797.5 L342.4 797.5 L344.4 797.5 L346.4 797.5 L348.4 797.5 L350.4 797.5 L352.4 797.5 L354.4 797.5 L356.4 797.5 L358.4 797.5 L360.4 797.5 L362.4 797.5 L364.4 797.5 L366.4 797.5 L368.4 797.5 L370.4 797.5 L372.4 797.5 L374.5 797.5 L376.5 797.5 L378.5 797.5 L380.5 797.5 L382.5 797.5 L384.5 797.5 L386.5 797.5 L388.5 797.5 L390.5 797.5 L392.5 797.5 L394.5 797.5 L396.5 797.5 L398.5 797.5 L400.5 797.5 L402.5 797.5 L404.5 797.5 L406.5 797.5 L408.5 797.5 L410.5 797.5 L412.5 797.5 L414.5 797.5 L416.5 797.5 L418.5 797.5 L420.5 797.5 L422.5 797.5 L424.5 797.5 L426.5 797.5 L428.5 797.5 L430.5 797.5 L432.5 797.5 L434.5 797.5 L436.5 797.5 L438.5 797.5 L440.5 797.5 L442.5 797.5 L444.6 797.5 L446.6 797.5 L448.6 797.5 L450.6 797.5 L452.6 797.6 L454.6 797.6 L456.6 797.6 L458.6 797.6 L460.6 797.6 L462.6 797.6 L464.6 797.6 L466.6 797.6 L468.6 797.6 L470.6 797.6 L472.6 797.6 L474.6 797.6 L476.6 797.6 L478.6 797.6 L480.6 797.6 L482.6 797.6 L484.6 797.6 L486.6 797.6 L488.6 797.6 L490.6 797.6 L492.6 797.6 L494.6 797.6 L496.6 797.6 L498.6 797.6 L500.6 797.7 L502.6 797.7 L504.6 797.7 L506.6 797.7 L508.6 797.7 L510.6 797.7 L512.7 797.7 L514.7 797.7 L516.7 797.7 L518.7 797.7 L520.7 797.7 L522.7 797.7 L524.7 797.7 L526.7 797.7 L528.7 797.7 L530.7 797.7 L532.7 797.7 L534.7 797.7 L536.7 797.7 L538.7 797.7 L540.7 797.7 L542.7 797.7 L544.7 797.7 L546.7 797.7 L548.7 797.8 L550.7 797.8 L552.7 797.8 L554.7 797.8 L556.7 797.8 L558.7 797.8 L560.7 797.8 L562.7 797.8 L564.7 797.8 L566.7 797.8 L568.7 797.8 L570.7 797.8 L572.7 797.8 L574.7 797.8 L576.7 797.8 L578.7 797.8 L580.8 797.8 L582.8 797.8 L584.8 797.8 L586.8 797.8 L588.8 797.8 L590.8 797.8 L592.8 797.8 L594.8 797.8 L596.8 797.8 L598.8 797.8 L600.8 797.8 L602.8 797.8 L604.8 797.8 L606.8 797.8 L608.8 797.8 L610.8 797.8 L612.8 797.8 L614.8 797.8 L616.8 797.8 L618.8 797.8 L620.8 797.8 L622.8 797.8 L624.8 797.8 L626.8 797.8 L628.8 797.8 L630.8 797.8 L632.8 797.8 L634.8 797.8 L636.8 797.8 L638.8 797.8 L640.8 797.8 L642.8 797.8 L644.8 797.8 L646.8 797.8 L648.8 797.8 L650.9 797.8 L652.9 797.8 L654.9 797.8 L656.9 797.8 L658.9 797.8 L660.9 797.8 L662.9 797.8 L664.9 797.8 L666.9 797.8 L668.9 797.8 L670.9 797.8 L672.9 797.8 L674.9 797.8 L676.9 797.8 L678.9 797.8 L680.9 797.8 L682.9 797.8 L684.9 797.8 L686.9 797.8 L688.9 797.8 L690.9 797.8 L692.9 797.8 L694.9 797.8 L696.9 797.8 L698.9 797.8 L700.9 797.8 L702.9 797.8 L704.9 797.8 L706.9 797.8 L708.9 797.8 L710.9 797.8 L712.9 797.8 L714.9 797.8 L716.9 797.8 L719 797.8 L721 797.8 L723 797.8 L725 797.8 L727 797.8 L729 797.8 L731 797.8 L733 797.8 L735 797.8 L737 797.8 L739 797.8 L741 797.8 L743 797.8 L745 797.8 L747 797.8 L749 797.8 L751 797.8 L753 797.8" fill="none" stroke="#23862a" stroke-width="2.4" stroke-linejoin="round" stroke-linecap="round"/>
<path d="M64 791 L66 791 L68 791.1 L70 791.1 L72 791.1 L74 791.2 L76 791.2 L78 791.2 L80 791.2 L82 791.3 L84 791.3 L86 791.3 L88 791.3 L90 791.3 L92 791.3 L94 791.4 L96 791.4 L98 791.4 L100.1 791.4 L102.1 791.4 L104.1 791.4 L106.1 791.4 L108.1 791.4 L110.1 791.4 L112.1 791.5 L114.1 791.5 L116.1 791.5 L118.1 791.5 L120.1 791.5 L122.1 791.5 L124.1 791.5 L126.1 791.5 L128.1 791.5 L130.1 791.5 L132.1 791.5 L134.1 791.5 L136.1 791.5 L138.1 791.5 L140.1 791.5 L142.1 791.5 L144.1 791.5 L146.1 791.5 L148.1 791.5 L150.1 791.5 L152.1 791.5 L154.1 791.5 L156.1 791.5 L158.1 791.5 L160.1 791.4 L162.1 791.4 L164.1 791.4 L166.1 791.4 L168.2 791.3 L170.2 791.3 L172.2 791.2 L174.2 791.2 L176.2 791.2 L178.2 791.1 L180.2 791 L182.2 791 L184.2 790.9 L186.2 790.9 L188.2 790.8 L190.2 790.7 L192.2 790.6 L194.2 790.6 L196.2 790.5 L198.2 790.4 L200.2 790.3 L202.2 790.2 L204.2 790.1 L206.2 790 L208.2 789.9 L210.2 789.8 L212.2 789.7 L214.2 789.6 L216.2 789.5 L218.2 789.4 L220.2 789.3 L222.2 789.2 L224.2 789.1 L226.2 789 L228.2 788.8 L230.2 788.6 L232.2 788.4 L234.2 788.2 L236.2 788 L238.3 787.7 L240.3 787.4 L242.3 787.2 L244.3 786.9 L246.3 786.5 L248.3 786.2 L250.3 785.9 L252.3 785.5 L254.3 785.1 L256.3 784.7 L258.3 784.3 L260.3 783.9 L262.3 783.5 L264.3 783 L266.3 782.4 L268.3 781.7 L270.3 781 L272.3 780.3 L274.3 779.5 L276.3 778.7 L278.3 777.8 L280.3 777 L282.3 776.1 L284.3 775.1 L286.3 774.2 L288.3 773.3 L290.3 772.3 L292.3 771.4 L294.3 770.4 L296.3 769.5 L298.3 768.6 L300.3 767.7 L302.3 766.9 L304.3 766 L306.4 765.1 L308.4 764.2 L310.4 763.3 L312.4 762.4 L314.4 761.5 L316.4 760.6 L318.4 759.7 L320.4 758.8 L322.4 757.8 L324.4 756.9 L326.4 756 L328.4 755.1 L330.4 754.2 L332.4 753.3 L334.4 752.4 L336.4 751.5 L338.4 750.7 L340.4 749.8 L342.4 749 L344.4 748.1 L346.4 747.3 L348.4 746.4 L350.4 745.5 L352.4 744.7 L354.4 743.8 L356.4 743 L358.4 742.2 L360.4 741.4 L362.4 740.6 L364.4 739.9 L366.4 739.2 L368.4 738.5 L370.4 737.9 L372.4 737.2 L374.5 736.6 L376.5 736 L378.5 735.4 L380.5 734.8 L382.5 734.2 L384.5 733.7 L386.5 733.2 L388.5 732.7 L390.5 732.3 L392.5 731.9 L394.5 731.6 L396.5 731.3 L398.5 731 L400.5 730.7 L402.5 730.4 L404.5 730.2 L406.5 730 L408.5 729.8 L410.5 729.7 L412.5 729.6 L414.5 729.6 L416.5 729.7 L418.5 729.8 L420.5 730 L422.5 730.3 L424.5 730.6 L426.5 730.9 L428.5 731.2 L430.5 731.6 L432.5 732.2 L434.5 732.9 L436.5 733.9 L438.5 735.1 L440.5 736.4 L442.5 737.8 L444.6 739.4 L446.6 741 L448.6 742.7 L450.6 744.4 L452.6 746.1 L454.6 747.8 L456.6 749.5 L458.6 751.1 L460.6 752.7 L462.6 754.1 L464.6 755.4 L466.6 756.5 L468.6 757.7 L470.6 758.8 L472.6 760 L474.6 761.1 L476.6 762.2 L478.6 763.3 L480.6 764.3 L482.6 765.4 L484.6 766.4 L486.6 767.3 L488.6 768.3 L490.6 769.2 L492.6 770 L494.6 770.9 L496.6 771.6 L498.6 772.4 L500.6 773.2 L502.6 773.9 L504.6 774.6 L506.6 775.3 L508.6 776 L510.6 776.7 L512.7 777.3 L514.7 777.9 L516.7 778.5 L518.7 779 L520.7 779.5 L522.7 780 L524.7 780.4 L526.7 780.8 L528.7 781.2 L530.7 781.6 L532.7 781.9 L534.7 782.3 L536.7 782.6 L538.7 783 L540.7 783.3 L542.7 783.6 L544.7 783.9 L546.7 784.2 L548.7 784.5 L550.7 784.8 L552.7 785 L554.7 785.3 L556.7 785.5 L558.7 785.8 L560.7 786 L562.7 786.3 L564.7 786.5 L566.7 786.7 L568.7 786.9 L570.7 787.1 L572.7 787.3 L574.7 787.5 L576.7 787.7 L578.7 787.9 L580.8 788.1 L582.8 788.2 L584.8 788.4 L586.8 788.6 L588.8 788.7 L590.8 788.9 L592.8 789 L594.8 789.2 L596.8 789.3 L598.8 789.5 L600.8 789.6 L602.8 789.8 L604.8 789.9 L606.8 790 L608.8 790.1 L610.8 790.3 L612.8 790.4 L614.8 790.5 L616.8 790.6 L618.8 790.8 L620.8 790.9 L622.8 791 L624.8 791.1 L626.8 791.2 L628.8 791.3 L630.8 791.4 L632.8 791.5 L634.8 791.6 L636.8 791.7 L638.8 791.8 L640.8 791.9 L642.8 792 L644.8 792.1 L646.8 792.2 L648.8 792.3 L650.9 792.4 L652.9 792.5 L654.9 792.6 L656.9 792.7 L658.9 792.8 L660.9 792.9 L662.9 792.9 L664.9 793 L666.9 793.1 L668.9 793.2 L670.9 793.3 L672.9 793.3 L674.9 793.4 L676.9 793.5 L678.9 793.6 L680.9 793.7 L682.9 793.7 L684.9 793.8 L686.9 793.9 L688.9 794 L690.9 794.1 L692.9 794.2 L694.9 794.3 L696.9 794.4 L698.9 794.4 L700.9 794.5 L702.9 794.6 L704.9 794.7 L706.9 794.8 L708.9 795 L710.9 795.1 L712.9 795.2 L714.9 795.3 L716.9 795.4 L719 795.5 L721 795.6 L723 795.7 L725 795.8 L727 795.9 L729 796.1 L731 796.2 L733 796.3 L735 796.4 L737 796.5 L739 796.6 L741 796.8 L743 796.9 L745 797 L747 797.1 L749 797.2 L751 797.4 L753 797.5" fill="none" stroke="#e0282e" stroke-width="2.4" stroke-linejoin="round" stroke-linecap="round"/>
<path d="M64 794 L66 794 L68 794 L70 794 L72 794 L74 794 L76 794 L78 794 L80 794 L82 794 L84 794 L86 794 L88 794 L90 794 L92 794 L94 794 L96 794 L98 794 L100.1 794 L102.1 794 L104.1 794 L106.1 794 L108.1 793.9 L110.1 793.9 L112.1 793.9 L114.1 793.9 L116.1 793.9 L118.1 793.9 L120.1 793.9 L122.1 793.9 L124.1 793.9 L126.1 793.9 L128.1 793.9 L130.1 793.9 L132.1 793.9 L134.1 793.9 L136.1 793.9 L138.1 793.8 L140.1 793.8 L142.1 793.8 L144.1 793.8 L146.1 793.8 L148.1 793.8 L150.1 793.8 L152.1 793.8 L154.1 793.8 L156.1 793.8 L158.1 793.8 L160.1 793.7 L162.1 793.7 L164.1 793.7 L166.1 793.7 L168.2 793.7 L170.2 793.7 L172.2 793.7 L174.2 793.7 L176.2 793.7 L178.2 793.6 L180.2 793.6 L182.2 793.6 L184.2 793.6 L186.2 793.6 L188.2 793.6 L190.2 793.6 L192.2 793.6 L194.2 793.5 L196.2 793.5 L198.2 793.5 L200.2 793.5 L202.2 793.5 L204.2 793.5 L206.2 793.4 L208.2 793.4 L210.2 793.4 L212.2 793.3 L214.2 793.3 L216.2 793.3 L218.2 793.2 L220.2 793.2 L222.2 793.1 L224.2 793.1 L226.2 793 L228.2 793 L230.2 792.9 L232.2 792.8 L234.2 792.8 L236.2 792.7 L238.3 792.6 L240.3 792.6 L242.3 792.5 L244.3 792.4 L246.3 792.3 L248.3 792.3 L250.3 792.2 L252.3 792.1 L254.3 792 L256.3 791.9 L258.3 791.8 L260.3 791.7 L262.3 791.6 L264.3 791.5 L266.3 791.5 L268.3 791.4 L270.3 791.3 L272.3 791.2 L274.3 791.1 L276.3 791 L278.3 790.9 L280.3 790.8 L282.3 790.7 L284.3 790.5 L286.3 790.4 L288.3 790.3 L290.3 790.2 L292.3 790 L294.3 789.9 L296.3 789.7 L298.3 789.5 L300.3 789.4 L302.3 789.2 L304.3 789 L306.4 788.8 L308.4 788.6 L310.4 788.5 L312.4 788.3 L314.4 788.1 L316.4 787.9 L318.4 787.7 L320.4 787.5 L322.4 787.3 L324.4 787.1 L326.4 786.9 L328.4 786.7 L330.4 786.5 L332.4 786.3 L334.4 786.1 L336.4 785.9 L338.4 785.7 L340.4 785.4 L342.4 785.2 L344.4 785 L346.4 784.8 L348.4 784.6 L350.4 784.4 L352.4 784.1 L354.4 783.9 L356.4 783.7 L358.4 783.4 L360.4 783.2 L362.4 783 L364.4 782.7 L366.4 782.5 L368.4 782.2 L370.4 781.9 L372.4 781.7 L374.5 781.4 L376.5 781.2 L378.5 780.9 L380.5 780.6 L382.5 780.3 L384.5 780 L386.5 779.8 L388.5 779.4 L390.5 779.1 L392.5 778.8 L394.5 778.5 L396.5 778.1 L398.5 777.8 L400.5 777.4 L402.5 777 L404.5 776.6 L406.5 776.2 L408.5 775.7 L410.5 775.3 L412.5 774.8 L414.5 774.3 L416.5 773.8 L418.5 773.2 L420.5 772.7 L422.5 772.1 L424.5 771.5 L426.5 770.9 L428.5 770.2 L430.5 769.5 L432.5 768.8 L434.5 768 L436.5 767.3 L438.5 766.5 L440.5 765.6 L442.5 764.8 L444.6 763.9 L446.6 763 L448.6 762.2 L450.6 761.3 L452.6 760.4 L454.6 759.5 L456.6 758.6 L458.6 757.6 L460.6 756.7 L462.6 755.8 L464.6 754.8 L466.6 753.7 L468.6 752.6 L470.6 751.5 L472.6 750.4 L474.6 749.3 L476.6 748.1 L478.6 747.1 L480.6 746 L482.6 745 L484.6 744.1 L486.6 743.2 L488.6 742.5 L490.6 741.8 L492.6 741.1 L494.6 740.5 L496.6 739.8 L498.6 739.1 L500.6 738.5 L502.6 737.9 L504.6 737.3 L506.6 736.7 L508.6 736.2 L510.6 735.8 L512.7 735.4 L514.7 735.2 L516.7 734.9 L518.7 734.8 L520.7 734.8 L522.7 734.9 L524.7 735 L526.7 735.1 L528.7 735.3 L530.7 735.5 L532.7 735.8 L534.7 736.1 L536.7 736.4 L538.7 736.8 L540.7 737.2 L542.7 737.5 L544.7 737.9 L546.7 738.4 L548.7 738.9 L550.7 739.6 L552.7 740.4 L554.7 741.2 L556.7 742.2 L558.7 743.2 L560.7 744.2 L562.7 745.3 L564.7 746.4 L566.7 747.5 L568.7 748.6 L570.7 749.7 L572.7 750.8 L574.7 751.9 L576.7 752.9 L578.7 754 L580.8 755.2 L582.8 756.3 L584.8 757.5 L586.8 758.7 L588.8 759.9 L590.8 761 L592.8 762.1 L594.8 763.2 L596.8 764.1 L598.8 765 L600.8 765.9 L602.8 766.7 L604.8 767.6 L606.8 768.4 L608.8 769.1 L610.8 769.9 L612.8 770.6 L614.8 771.4 L616.8 772 L618.8 772.7 L620.8 773.4 L622.8 774 L624.8 774.6 L626.8 775.1 L628.8 775.7 L630.8 776.2 L632.8 776.7 L634.8 777.2 L636.8 777.7 L638.8 778.1 L640.8 778.6 L642.8 779 L644.8 779.4 L646.8 779.8 L648.8 780.2 L650.9 780.6 L652.9 781 L654.9 781.3 L656.9 781.7 L658.9 782 L660.9 782.3 L662.9 782.7 L664.9 783 L666.9 783.3 L668.9 783.6 L670.9 783.9 L672.9 784.2 L674.9 784.5 L676.9 784.7 L678.9 785 L680.9 785.3 L682.9 785.5 L684.9 785.8 L686.9 786 L688.9 786.3 L690.9 786.5 L692.9 786.7 L694.9 787 L696.9 787.2 L698.9 787.4 L700.9 787.6 L702.9 787.8 L704.9 788 L706.9 788.2 L708.9 788.4 L710.9 788.6 L712.9 788.8 L714.9 789 L716.9 789.2 L719 789.3 L721 789.5 L723 789.7 L725 789.9 L727 790 L729 790.2 L731 790.4 L733 790.5 L735 790.7 L737 790.8 L739 791 L741 791.1 L743 791.3 L745 791.4 L747 791.5 L749 791.7 L751 791.8 L753 791.9" fill="none" stroke="#2626d6" stroke-width="2.4" stroke-linejoin="round" stroke-linecap="round"/>
<path d="M64 787 L66 787 L68 787.1 L70 787.1 L72 787.2 L74 787.2 L76 787.3 L78 787.3 L80 787.4 L82 787.4 L84 787.5 L86 787.6 L88 787.6 L90 787.7 L92 787.7 L94 787.8 L96 787.9 L98 787.9 L100 788 L102 788.1 L104 788.2 L106 788.2 L108 788.3 L110 788.5 L112 788.6 L114 788.7 L116 788.8 L118 788.9 L120 789 L122 789.1 L124 789.3 L126 789.4 L128 789.5 L130 789.6 L132 789.7 L134 789.8 L136 789.8 L138 789.9 L140 789.9 L142 790 L144 790 L146 790 L148 789.9 L150 789.7 L152 789.4 L154 789 L156 788.5 L158 787.9 L160 787.3 L162 786.7 L164 786 L166 785.3 L168 784.7 L170 784 L172 783.3 L174 782.6 L176 781.9 L178 781.1 L180 780.2 L182 779.3 L184 778.3 L186 777.3 L188 776.2 L190 775 L192 773.6 L194 771.9 L196 769.9 L198 767.9 L200 765.9 L202 764.1 L204 762.6 L206 761.4 L208 760.3 L210 759.2 L212 758.4 L214 757.9 L216 758 L218 758.5 L220 759.3 L222 760.3 L224 761.4 L226 762.7 L228 764.6 L230 767.2 L232 770.1 L234 773.2 L236 776.4 L238 779.4 L240 782 L242 784.6 L244 787.3 L246 789.9 L248 792.3 L250 794.1 L252 795.3 L254 795.9 L256 796.4 L258 796.9 L260 797.2 L262 797.3 L264 797.3 L266 797.4 L268 797.4 L270 797.4 L272 797.5 L274 797.5 L276 797.5 L278 797.5 L280 797.5" fill="none" stroke="#e02ee0" stroke-width="2.4" stroke-linejoin="round" stroke-linecap="round"/>
<path d="M224.2 797.1 L226.2 797.1 L228.2 797.1 L230.2 797.2 L232.2 797.2 L234.2 797.2 L236.2 797.3 L238.3 797.3 L240.3 797.3 L242.3 797.4 L244.3 797.4 L246.3 797.4 L248.3 797.4 L250.3 797.4 L252.3 797.5 L254.3 797.5 L256.3 797.5 L258.3 797.5 L260.3 797.5 L262.3 797.5 L264.3 797.5 L266.3 797.5 L268.3 797.5 L270.3 797.5 L272.3 797.5 L274.3 797.5 L276.3 797.5 L278.3 797.5 L280.3 797.5 L282.3 797.5 L284.3 797.5 L286.3 797.5 L288.3 797.5 L290.3 797.5 L292.3 797.5 L294.3 797.5 L296.3 797.5 L298.3 797.5 L300.3 797.5 L302.3 797.5 L304.3 797.5 L306.4 797.5 L308.4 797.5 L310.4 797.5 L312.4 797.5 L314.4 797.5 L316.4 797.5 L318.4 797.5 L320.4 797.5 L322.4 797.5 L324.4 797.5 L326.4 797.5 L328.4 797.5 L330.4 797.5 L332.4 797.5 L334.4 797.5 L336.4 797.5 L338.4 797.5 L340.4 797.5 L342.4 797.5 L344.4 797.5 L346.4 797.5 L348.4 797.5 L350.4 797.5 L352.4 797.5 L354.4 797.5 L356.4 797.5 L358.4 797.5 L360.4 797.5 L362.4 797.5 L364.4 797.5 L366.4 797.5 L368.4 797.5 L370.4 797.5 L372.4 797.5 L374.5 797.5 L376.5 797.5 L378.5 797.5 L380.5 797.5 L382.5 797.5 L384.5 797.5 L386.5 797.5 L388.5 797.5 L390.5 797.5 L392.5 797.5 L394.5 797.5 L396.5 797.5 L398.5 797.5 L400.5 797.5 L402.5 797.5 L404.5 797.5 L406.5 797.5 L408.5 797.5 L410.5 797.5 L412.5 797.5 L414.5 797.5 L416.5 797.5 L418.5 797.5 L420.5 797.5 L422.5 797.5 L424.5 797.5 L426.5 797.5 L428.5 797.5 L430.5 797.5 L432.5 797.5 L434.5 797.5 L436.5 797.5 L438.5 797.5 L440.5 797.5 L442.5 797.5 L444.6 797.5 L446.6 797.5 L448.6 797.5 L450.6 797.5 L452.6 797.6 L454.6 797.6 L456.6 797.6 L458.6 797.6 L460.6 797.6 L462.6 797.6 L464.6 797.6 L466.6 797.6 L468.6 797.6 L470.6 797.6 L472.6 797.6 L474.6 797.6 L476.6 797.6 L478.6 797.6 L480.6 797.6 L482.6 797.6 L484.6 797.6 L486.6 797.6 L488.6 797.6 L490.6 797.6 L492.6 797.6 L494.6 797.6 L496.6 797.6 L498.6 797.6 L500.6 797.7 L502.6 797.7 L504.6 797.7 L506.6 797.7 L508.6 797.7 L510.6 797.7 L512.7 797.7 L514.7 797.7 L516.7 797.7 L518.7 797.7 L520.7 797.7 L522.7 797.7 L524.7 797.7 L526.7 797.7 L528.7 797.7 L530.7 797.7 L532.7 797.7 L534.7 797.7 L536.7 797.7 L538.7 797.7 L540.7 797.7 L542.7 797.7 L544.7 797.7 L546.7 797.7 L548.7 797.8 L550.7 797.8 L552.7 797.8 L554.7 797.8 L556.7 797.8 L558.7 797.8 L560.7 797.8 L562.7 797.8 L564.7 797.8 L566.7 797.8 L568.7 797.8 L570.7 797.8 L572.7 797.8 L574.7 797.8 L576.7 797.8 L578.7 797.8 L580.8 797.8 L582.8 797.8 L584.8 797.8 L586.8 797.8 L588.8 797.8 L590.8 797.8 L592.8 797.8 L594.8 797.8 L596.8 797.8 L598.8 797.8 L600.8 797.8 L602.8 797.8 L604.8 797.8 L606.8 797.8 L608.8 797.8 L610.8 797.8 L612.8 797.8 L614.8 797.8 L616.8 797.8 L618.8 797.8 L620.8 797.8 L622.8 797.8 L624.8 797.8 L626.8 797.8 L628.8 797.8 L630.8 797.8 L632.8 797.8 L634.8 797.8 L636.8 797.8 L638.8 797.8 L640.8 797.8 L642.8 797.8 L644.8 797.8 L646.8 797.8 L648.8 797.8 L650.9 797.8 L652.9 797.8 L654.9 797.8 L656.9 797.8 L658.9 797.8 L660.9 797.8 L662.9 797.8 L664.9 797.8 L666.9 797.8 L668.9 797.8 L670.9 797.8 L672.9 797.8 L674.9 797.8 L676.9 797.8 L678.9 797.8 L680.9 797.8 L682.9 797.8 L684.9 797.8 L686.9 797.8 L688.9 797.8 L690.9 797.8 L692.9 797.8 L694.9 797.8 L696.9 797.8 L698.9 797.8 L700.9 797.8 L702.9 797.8 L704.9 797.8 L706.9 797.8 L708.9 797.8 L710.9 797.8 L712.9 797.8 L714.9 797.8 L716.9 797.8 L719 797.8 L721 797.8 L723 797.8 L725 797.8 L727 797.8 L729 797.8 L731 797.8 L733 797.8 L735 797.8 L737 797.8 L739 797.8 L741 797.8 L743 797.8 L745 797.8 L747 797.8 L749 797.8 L751 797.8 L753 797.8" fill="none" stroke="#23862a" stroke-width="2.4" stroke-linejoin="round" stroke-linecap="round"/>
<path d="M64 784 L66 784 L68 784.1 L70 784.1 L72 784.1 L74 784.1 L76 784.2 L78 784.2 L80 784.2 L82 784.2 L84.1 784.3 L86.1 784.3 L88.1 784.3 L90.1 784.4 L92.1 784.4 L94.1 784.4 L96.1 784.4 L98.1 784.5 L100.1 784.5 L102.1 784.5 L104.1 784.6 L106.1 784.6 L108.1 784.6 L110.1 784.7 L112.1 784.7 L114.1 784.8 L116.1 784.8 L118.1 784.8 L120.2 784.9 L122.2 784.9 L124.2 784.9 L126.2 784.9 L128.2 785 L130.2 785 L132.2 785 L134.2 785 L136.2 785 L138.2 784.8 L140.2 784.6 L142.2 784.3 L144.2 784 L146.2 783.6 L148.2 783.1 L150.2 782.6 L152.2 782.1 L154.2 781.6 L156.3 781 L158.3 780.5 L160.3 779.9 L162.3 779.4 L164.3 778.7 L166.3 778.1 L168.3 777.4 L170.3 776.6 L172.3 775.8 L174.3 775 L176.3 774.1 L178.3 773.1 L180.3 772.2 L182.3 771.2 L184.3 770.1 L186.3 769 L188.3 767.9 L190.3 766.8 L192.4 765.5 L194.4 763.9 L196.4 762.2 L198.4 760.4 L200.4 758.6 L202.4 756.7 L204.4 755 L206.4 753.4 L208.4 752 L210.4 750.8 L212.4 749.6 L214.4 748.5 L216.4 747.5 L218.4 746.9 L220.4 746.6 L222.4 746.8 L224.4 747.5 L226.4 748.4 L228.5 749.6 L230.5 750.9 L232.5 752.4 L234.5 754.5 L236.5 757.3 L238.5 760.6 L240.5 763.9 L242.5 767 L244.5 769.5 L246.5 771.4 L248.5 773.3 L250.5 775.1 L252.5 776.7 L254.5 778.1 L256.5 779 L258.5 779.4 L260.5 779.4 L262.5 779.3 L264.6 779.1 L266.6 779 L268.6 778.7 L270.6 778.5 L272.6 778.2 L274.6 777.9 L276.6 777.5 L278.6 777.2 L280.6 776.9 L282.6 776.6 L284.6 776.2 L286.6 775.8 L288.6 775.3 L290.6 774.8 L292.6 774.3 L294.6 773.7 L296.6 773.2 L298.6 772.6 L300.7 771.9 L302.7 771.3 L304.7 770.6 L306.7 769.8 L308.7 768.9 L310.7 768 L312.7 767.1 L314.7 766.1 L316.7 765.1 L318.7 764 L320.7 762.9 L322.7 761.9 L324.7 760.8 L326.7 759.7 L328.7 758.7 L330.7 757.6 L332.7 756.6 L334.7 755.5 L336.8 754.5 L338.8 753.4 L340.8 752.3 L342.8 751.2 L344.8 750.1 L346.8 749 L348.8 747.9 L350.8 746.7 L352.8 745.6 L354.8 744.4 L356.8 743.3 L358.8 742.1 L360.8 740.9 L362.8 739.7 L364.8 738.4 L366.8 737.2 L368.8 735.9 L370.8 734.6 L372.9 733.3 L374.9 732 L376.9 730.7 L378.9 729.4 L380.9 728 L382.9 726.7 L384.9 725.4 L386.9 724 L388.9 722.7 L390.9 721.4 L392.9 719.9 L394.9 718.2 L396.9 716.5 L398.9 714.8 L400.9 713 L402.9 711.4 L404.9 710 L406.9 708.7 L408.9 707.8 L411 707.1 L413 706.9 L415 706.9 L417 706.9 L419 706.9 L421 706.9 L423 706.9 L425 706.9 L427 707.1 L429 707.2 L431 707.4 L433 707.7 L435 707.9 L437 708.2 L439 708.5 L441 708.8 L443 709.1 L445 709.4 L447.1 709.7 L449.1 709.9 L451.1 710.1 L453.1 710.3 L455.1 710.5 L457.1 710.7 L459.1 710.9 L461.1 711 L463.1 711.2 L465.1 711.4 L467.1 711.6 L469.1 711.7 L471.1 711.9 L473.1 712 L475.1 712.2 L477.1 712.3 L479.1 712.4 L481.1 712.6 L483.2 712.7 L485.2 712.8 L487.2 712.9 L489.2 713 L491.2 713 L493.2 713.1 L495.2 713.2 L497.2 713.3 L499.2 713.4 L501.2 713.5 L503.2 713.6 L505.2 713.8 L507.2 713.9 L509.2 714.1 L511.2 714.2 L513.2 714.4 L515.2 714.6 L517.2 714.8 L519.3 715 L521.3 715.3 L523.3 715.6 L525.3 715.9 L527.3 716.4 L529.3 717 L531.3 717.9 L533.3 718.9 L535.3 720 L537.3 721.2 L539.3 722.5 L541.3 723.7 L543.3 725 L545.3 726.2 L547.3 727.4 L549.3 728.7 L551.3 730.1 L553.3 731.5 L555.4 732.9 L557.4 734.4 L559.4 735.8 L561.4 737.2 L563.4 738.5 L565.4 739.8 L567.4 741 L569.4 742.2 L571.4 743.4 L573.4 744.6 L575.4 745.8 L577.4 746.9 L579.4 748.1 L581.4 749.2 L583.4 750.3 L585.4 751.4 L587.4 752.5 L589.4 753.6 L591.5 754.6 L593.5 755.6 L595.5 756.6 L597.5 757.6 L599.5 758.5 L601.5 759.4 L603.5 760.3 L605.5 761.2 L607.5 762.1 L609.5 762.9 L611.5 763.8 L613.5 764.6 L615.5 765.4 L617.5 766.2 L619.5 767 L621.5 767.8 L623.5 768.6 L625.5 769.3 L627.6 770.1 L629.6 770.8 L631.6 771.6 L633.6 772.4 L635.6 773.1 L637.6 773.9 L639.6 774.7 L641.6 775.5 L643.6 776.3 L645.6 777 L647.6 777.8 L649.6 778.5 L651.6 779.2 L653.6 779.9 L655.6 780.5 L657.6 781.1 L659.6 781.6 L661.6 782.1 L663.7 782.5 L665.7 782.9 L667.7 783.2 L669.7 783.6 L671.7 783.9 L673.7 784.2 L675.7 784.5 L677.7 784.7 L679.7 785 L681.7 785.3 L683.7 785.5 L685.7 785.7 L687.7 786 L689.7 786.2 L691.7 786.4 L693.7 786.6 L695.7 786.8 L697.7 787 L699.8 787.1 L701.8 787.3 L703.8 787.5 L705.8 787.7 L707.8 787.8 L709.8 788 L711.8 788.1 L713.8 788.3 L715.8 788.5 L717.8 788.6 L719.8 788.8 L721.8 788.9 L723.8 789.1 L725.8 789.2 L727.8 789.3 L729.8 789.5 L731.8 789.6 L733.8 789.7 L735.9 789.8 L737.9 790 L739.9 790.1 L741.9 790.2 L743.9 790.3 L745.9 790.4 L747.9 790.5 L749.9 790.5 L751.9 790.6 L753.9 790.7" fill="none" stroke="#14144e" stroke-width="2.4" stroke-linejoin="round" stroke-linecap="round"/>
<path d="M63.6 777.1 L87.8 794.1 L112.8 769.7 L129.8 788.5 L138.8 802 L150.2 802 L161.5 768 L176.2 757.9 L190.9 769.2 L202.3 762.4 L214.7 744.3 L227.2 750 L240.8 769.2 L252.1 794.1 L279.3 786.2 L302 771.5 L315.5 748.8 L325.7 744.3 L351.8 760.2 L363.1 737.5 L376.7 726.2 L390.3 730.7 L401.6 719.4 L415.9 688.8 L428.3 696.7 L440.8 720.5 L452.1 718.2 L465.7 711.4 L478.2 720.5 L490.6 719.4 L504.2 710.3 L517.8 712.6 L540.5 716 L554 735.2 L565.4 762.4 L579 767 L598.2 759 L617.5 748.8 L628.8 754.5 L640.1 773.7 L651.5 788.5 L665.1 791.9 L678.7 773.7 L691.1 754.5 L703.6 748.8 L717.2 774.9 L728.5 779.4 L742.1 762.4 L753.9 756.8" fill="none" stroke="#151515" stroke-width="2.4" stroke-linejoin="round" stroke-linecap="round"/>
<path d="M64 917.3 L413 919.6 L753 919.8" fill="none" stroke="#23862a" stroke-width="2.4" stroke-linejoin="round" stroke-linecap="round"/>
<path d="M64 917 L66 916.9 L68 916.9 L70 916.8 L72 916.7 L74 916.6 L76 916.5 L78 916.4 L80 916.4 L82 916.3 L84 916.2 L86 916.1 L88 916 L90 915.9 L92 915.8 L94 915.7 L96 915.5 L98 915.4 L100.1 915.3 L102.1 915.2 L104.1 915.1 L106.1 915 L108.1 914.9 L110.1 914.7 L112.1 914.6 L114.1 914.5 L116.1 914.4 L118.1 914.2 L120.1 914.1 L122.1 914 L124.1 913.8 L126.1 913.7 L128.1 913.6 L130.1 913.4 L132.1 913.3 L134.1 913.1 L136.1 913 L138.1 912.9 L140.1 912.7 L142.1 912.6 L144.1 912.4 L146.1 912.3 L148.1 912.1 L150.1 912 L152.1 911.8 L154.1 911.7 L156.1 911.5 L158.1 911.4 L160.1 911.2 L162.1 911 L164.1 910.9 L166.1 910.7 L168.2 910.5 L170.2 910.3 L172.2 910.1 L174.2 909.9 L176.2 909.7 L178.2 909.5 L180.2 909.3 L182.2 909.1 L184.2 908.9 L186.2 908.7 L188.2 908.5 L190.2 908.3 L192.2 908.1 L194.2 907.9 L196.2 907.7 L198.2 907.5 L200.2 907.2 L202.2 907 L204.2 906.8 L206.2 906.6 L208.2 906.3 L210.2 906.1 L212.2 905.9 L214.2 905.7 L216.2 905.4 L218.2 905.2 L220.2 905 L222.2 904.7 L224.2 904.5 L226.2 904.2 L228.2 904 L230.2 903.7 L232.2 903.4 L234.2 903.1 L236.2 902.8 L238.3 902.5 L240.3 902.2 L242.3 901.9 L244.3 901.6 L246.3 901.3 L248.3 901 L250.3 900.7 L252.3 900.4 L254.3 900.1 L256.3 899.8 L258.3 899.6 L260.3 899.3 L262.3 899 L264.3 898.7 L266.3 898.5 L268.3 898.2 L270.3 898 L272.3 897.8 L274.3 897.5 L276.3 897.3 L278.3 897.1 L280.3 897 L282.3 896.8 L284.3 896.6 L286.3 896.4 L288.3 896.3 L290.3 896.1 L292.3 895.9 L294.3 895.7 L296.3 895.6 L298.3 895.4 L300.3 895.3 L302.3 895.2 L304.3 895 L306.4 894.9 L308.4 894.8 L310.4 894.8 L312.4 894.7 L314.4 894.7 L316.4 894.7 L318.4 894.7 L320.4 894.8 L322.4 894.8 L324.4 894.9 L326.4 895 L328.4 895.1 L330.4 895.3 L332.4 895.4 L334.4 895.6 L336.4 895.7 L338.4 895.9 L340.4 896.1 L342.4 896.3 L344.4 896.5 L346.4 896.7 L348.4 896.9 L350.4 897.1 L352.4 897.3 L354.4 897.5 L356.4 897.7 L358.4 897.9 L360.4 898 L362.4 898.2 L364.4 898.4 L366.4 898.6 L368.4 898.8 L370.4 899.1 L372.4 899.3 L374.5 899.5 L376.5 899.7 L378.5 900 L380.5 900.2 L382.5 900.5 L384.5 900.7 L386.5 900.9 L388.5 901.2 L390.5 901.4 L392.5 901.7 L394.5 901.9 L396.5 902.2 L398.5 902.4 L400.5 902.7 L402.5 902.9 L404.5 903.1 L406.5 903.4 L408.5 903.6 L410.5 903.9 L412.5 904.2 L414.5 904.4 L416.5 904.7 L418.5 905 L420.5 905.2 L422.5 905.5 L424.5 905.8 L426.5 906 L428.5 906.3 L430.5 906.6 L432.5 906.8 L434.5 907.1 L436.5 907.3 L438.5 907.6 L440.5 907.8 L442.5 908.1 L444.6 908.3 L446.6 908.6 L448.6 908.8 L450.6 909 L452.6 909.2 L454.6 909.5 L456.6 909.7 L458.6 909.9 L460.6 910.1 L462.6 910.2 L464.6 910.4 L466.6 910.6 L468.6 910.8 L470.6 911 L472.6 911.2 L474.6 911.3 L476.6 911.5 L478.6 911.7 L480.6 911.8 L482.6 912 L484.6 912.2 L486.6 912.3 L488.6 912.5 L490.6 912.7 L492.6 912.8 L494.6 913 L496.6 913.1 L498.6 913.3 L500.6 913.4 L502.6 913.6 L504.6 913.7 L506.6 913.8 L508.6 914 L510.6 914.1 L512.7 914.2 L514.7 914.4 L516.7 914.5 L518.7 914.6 L520.7 914.7 L522.7 914.8 L524.7 914.9 L526.7 915.1 L528.7 915.2 L530.7 915.3 L532.7 915.4 L534.7 915.5 L536.7 915.6 L538.7 915.7 L540.7 915.8 L542.7 915.9 L544.7 916 L546.7 916.1 L548.7 916.2 L550.7 916.3 L552.7 916.4 L554.7 916.5 L556.7 916.6 L558.7 916.6 L560.7 916.7 L562.7 916.8 L564.7 916.9 L566.7 917 L568.7 917.1 L570.7 917.1 L572.7 917.2 L574.7 917.3 L576.7 917.4 L578.7 917.4 L580.8 917.5 L582.8 917.6 L584.8 917.6 L586.8 917.7 L588.8 917.7 L590.8 917.8 L592.8 917.8 L594.8 917.9 L596.8 917.9 L598.8 918 L600.8 918 L602.8 918 L604.8 918.1 L606.8 918.1 L608.8 918.2 L610.8 918.2 L612.8 918.2 L614.8 918.3 L616.8 918.3 L618.8 918.3 L620.8 918.4 L622.8 918.4 L624.8 918.4 L626.8 918.5 L628.8 918.5 L630.8 918.5 L632.8 918.6 L634.8 918.6 L636.8 918.6 L638.8 918.6 L640.8 918.7 L642.8 918.7 L644.8 918.7 L646.8 918.8 L648.8 918.8 L650.9 918.8 L652.9 918.8 L654.9 918.9 L656.9 918.9 L658.9 918.9 L660.9 919 L662.9 919 L664.9 919 L666.9 919 L668.9 919.1 L670.9 919.1 L672.9 919.1 L674.9 919.1 L676.9 919.1 L678.9 919.2 L680.9 919.2 L682.9 919.2 L684.9 919.2 L686.9 919.3 L688.9 919.3 L690.9 919.3 L692.9 919.3 L694.9 919.3 L696.9 919.3 L698.9 919.4 L700.9 919.4 L702.9 919.4 L704.9 919.4 L706.9 919.4 L708.9 919.4 L710.9 919.5 L712.9 919.5 L714.9 919.5 L716.9 919.5 L719 919.5 L721 919.5 L723 919.5 L725 919.5 L727 919.5 L729 919.6 L731 919.6 L733 919.6 L735 919.6 L737 919.6 L739 919.6 L741 919.6 L743 919.6 L745 919.6 L747 919.6 L749 919.6 L751 919.6 L753 919.6" fill="none" stroke="#e0282e" stroke-width="2.4" stroke-linejoin="round" stroke-linecap="round"/>
<path d="M64 916 L66 916 L68 916 L70 916 L72 916 L74 916 L76 916 L78 916 L80 916 L82 916 L84 916 L86 916 L88 916 L90 916 L92 916 L94 916 L96 916 L98 916 L100.1 916 L102.1 916 L104.1 915.9 L106.1 915.9 L108.1 915.9 L110.1 915.9 L112.1 915.9 L114.1 915.9 L116.1 915.9 L118.1 915.9 L120.1 915.9 L122.1 915.9 L124.1 915.9 L126.1 915.9 L128.1 915.9 L130.1 915.9 L132.1 915.8 L134.1 915.8 L136.1 915.8 L138.1 915.8 L140.1 915.8 L142.1 915.8 L144.1 915.8 L146.1 915.8 L148.1 915.8 L150.1 915.8 L152.1 915.7 L154.1 915.7 L156.1 915.7 L158.1 915.7 L160.1 915.7 L162.1 915.7 L164.1 915.7 L166.1 915.7 L168.2 915.7 L170.2 915.6 L172.2 915.6 L174.2 915.6 L176.2 915.6 L178.2 915.6 L180.2 915.6 L182.2 915.6 L184.2 915.5 L186.2 915.5 L188.2 915.5 L190.2 915.5 L192.2 915.5 L194.2 915.5 L196.2 915.5 L198.2 915.4 L200.2 915.4 L202.2 915.4 L204.2 915.4 L206.2 915.4 L208.2 915.4 L210.2 915.4 L212.2 915.3 L214.2 915.3 L216.2 915.3 L218.2 915.3 L220.2 915.3 L222.2 915.3 L224.2 915.2 L226.2 915.2 L228.2 915.2 L230.2 915.2 L232.2 915.2 L234.2 915.1 L236.2 915.1 L238.3 915.1 L240.3 915.1 L242.3 915.1 L244.3 915.1 L246.3 915 L248.3 915 L250.3 915 L252.3 915 L254.3 915 L256.3 914.9 L258.3 914.9 L260.3 914.9 L262.3 914.9 L264.3 914.8 L266.3 914.8 L268.3 914.8 L270.3 914.7 L272.3 914.7 L274.3 914.7 L276.3 914.6 L278.3 914.6 L280.3 914.6 L282.3 914.5 L284.3 914.5 L286.3 914.4 L288.3 914.4 L290.3 914.3 L292.3 914.3 L294.3 914.3 L296.3 914.2 L298.3 914.1 L300.3 914.1 L302.3 914 L304.3 914 L306.4 913.9 L308.4 913.9 L310.4 913.8 L312.4 913.7 L314.4 913.7 L316.4 913.6 L318.4 913.6 L320.4 913.5 L322.4 913.4 L324.4 913.3 L326.4 913.3 L328.4 913.2 L330.4 913.1 L332.4 913 L334.4 912.8 L336.4 912.7 L338.4 912.6 L340.4 912.5 L342.4 912.3 L344.4 912.1 L346.4 912 L348.4 911.8 L350.4 911.6 L352.4 911.3 L354.4 911 L356.4 910.7 L358.4 910.2 L360.4 909.8 L362.4 909.3 L364.4 908.8 L366.4 908.3 L368.4 907.8 L370.4 907.2 L372.4 906.7 L374.5 906.2 L376.5 905.8 L378.5 905.3 L380.5 904.9 L382.5 904.6 L384.5 904.2 L386.5 903.9 L388.5 903.6 L390.5 903.3 L392.5 903 L394.5 902.7 L396.5 902.3 L398.5 901.9 L400.5 901.4 L402.5 900.8 L404.5 900.2 L406.5 899.4 L408.5 898.6 L410.5 897.7 L412.5 896.8 L414.5 895.8 L416.5 894.8 L418.5 893.8 L420.5 892.7 L422.5 891.6 L424.5 890.5 L426.5 889.3 L428.5 888 L430.5 886.7 L432.5 885.2 L434.5 883.6 L436.5 882 L438.5 880.4 L440.5 878.8 L442.5 877.1 L444.6 875.5 L446.6 873.9 L448.6 872.4 L450.6 870.9 L452.6 869.5 L454.6 868.3 L456.6 867.1 L458.6 865.9 L460.6 864.7 L462.6 863.6 L464.6 862.5 L466.6 861.4 L468.6 860.4 L470.6 859.6 L472.6 858.8 L474.6 858.1 L476.6 857.5 L478.6 857 L480.6 856.4 L482.6 855.9 L484.6 855.5 L486.6 855.2 L488.6 855 L490.6 855 L492.6 855.2 L494.6 855.5 L496.6 855.8 L498.6 856.3 L500.6 856.8 L502.6 857.4 L504.6 857.9 L506.6 858.5 L508.6 859.1 L510.6 859.9 L512.7 860.7 L514.7 861.6 L516.7 862.5 L518.7 863.5 L520.7 864.6 L522.7 865.7 L524.7 866.9 L526.7 868.1 L528.7 869.5 L530.7 871 L532.7 872.7 L534.7 874.5 L536.7 876.4 L538.7 878.2 L540.7 880.1 L542.7 882 L544.7 883.7 L546.7 885.5 L548.7 887.5 L550.7 889.4 L552.7 891.3 L554.7 893.1 L556.7 894.7 L558.7 895.9 L560.7 896.9 L562.7 897.8 L564.7 898.7 L566.7 899.5 L568.7 900.3 L570.7 901.1 L572.7 901.8 L574.7 902.4 L576.7 903 L578.7 903.6 L580.8 904.2 L582.8 904.7 L584.8 905.2 L586.8 905.7 L588.8 906.2 L590.8 906.7 L592.8 907.1 L594.8 907.6 L596.8 908 L598.8 908.4 L600.8 908.8 L602.8 909.2 L604.8 909.5 L606.8 909.9 L608.8 910.3 L610.8 910.6 L612.8 910.9 L614.8 911.2 L616.8 911.5 L618.8 911.8 L620.8 912.1 L622.8 912.3 L624.8 912.6 L626.8 912.8 L628.8 913.1 L630.8 913.3 L632.8 913.5 L634.8 913.8 L636.8 914 L638.8 914.2 L640.8 914.4 L642.8 914.6 L644.8 914.8 L646.8 915 L648.8 915.2 L650.9 915.4 L652.9 915.6 L654.9 915.8 L656.9 916 L658.9 916.1 L660.9 916.3 L662.9 916.5 L664.9 916.6 L666.9 916.8 L668.9 916.9 L670.9 917 L672.9 917.1 L674.9 917.3 L676.9 917.4 L678.9 917.5 L680.9 917.5 L682.9 917.6 L684.9 917.7 L686.9 917.8 L688.9 917.9 L690.9 918 L692.9 918 L694.9 918.1 L696.9 918.2 L698.9 918.3 L700.9 918.4 L702.9 918.4 L704.9 918.5 L706.9 918.6 L708.9 918.6 L710.9 918.7 L712.9 918.8 L714.9 918.8 L716.9 918.9 L719 919 L721 919 L723 919.1 L725 919.1 L727 919.2 L729 919.2 L731 919.3 L733 919.3 L735 919.3 L737 919.4 L739 919.4 L741 919.4 L743 919.4 L745 919.5 L747 919.5 L749 919.5 L751 919.5 L753 919.5" fill="none" stroke="#e02ee0" stroke-width="2.4" stroke-linejoin="round" stroke-linecap="round"/>
<path d="M64.5 917.3 L66.5 917.3 L68.5 917.3 L70.5 917.4 L72.5 917.4 L74.5 917.4 L76.5 917.4 L78.5 917.4 L80.5 917.5 L82.5 917.5 L84.5 917.5 L86.5 917.5 L88.5 917.5 L90.5 917.6 L92.5 917.6 L94.5 917.6 L96.5 917.6 L98.5 917.6 L100.5 917.6 L102.5 917.7 L104.5 917.7 L106.5 917.7 L108.5 917.7 L110.5 917.7 L112.5 917.8 L114.5 917.8 L116.5 917.8 L118.5 917.8 L120.5 917.8 L122.5 917.9 L124.5 917.9 L126.5 917.9 L128.5 917.9 L130.5 917.9 L132.5 917.9 L134.5 918 L136.5 918 L138.5 918 L140.5 918 L142.5 918 L144.5 918.1 L146.5 918.1 L148.5 918.1 L150.5 918.1 L152.5 918.1 L154.5 918.1 L156.5 918.2 L158.5 918.2 L160.5 918.2 L162.5 918.2 L164.5 918.2 L166.5 918.2 L168.5 918.3 L170.5 918.3 L172.5 918.3 L174.5 918.3 L176.5 918.3 L178.5 918.4 L180.5 918.4 L182.5 918.4 L184.5 918.4 L186.5 918.4 L188.5 918.4 L190.5 918.5 L192.5 918.5 L194.5 918.5 L196.5 918.5 L198.5 918.5 L200.5 918.5 L202.5 918.5 L204.5 918.6 L206.5 918.6 L208.5 918.6 L210.5 918.6 L212.5 918.6 L214.5 918.6 L216.5 918.7 L218.5 918.7 L220.5 918.7 L222.5 918.7 L224.5 918.7 L226.5 918.7 L228.5 918.7 L230.5 918.8 L232.5 918.8 L234.5 918.8 L236.5 918.8 L238.5 918.8 L240.5 918.8 L242.5 918.9 L244.5 918.9 L246.5 918.9 L248.5 918.9 L250.5 918.9 L252.5 918.9 L254.5 918.9 L256.5 918.9 L258.5 919 L260.5 919 L262.5 919 L264.5 919 L266.5 919 L268.5 919 L270.5 919 L272.5 919.1 L274.5 919.1 L276.5 919.1 L278.5 919.1 L280.5 919.1 L282.5 919.1 L284.5 919.1 L286.5 919.1 L288.5 919.1 L290.5 919.2 L292.5 919.2 L294.5 919.2 L296.5 919.2 L298.5 919.2 L300.5 919.2 L302.5 919.2 L304.5 919.2 L306.5 919.2 L308.5 919.2 L310.5 919.2 L312.5 919.2 L314.5 919.1 L316.5 919.1 L318.5 919.1 L320.5 919 L322.5 919 L324.5 918.9 L326.5 918.8 L328.5 918.7 L330.5 918.5 L332.5 918.4 L334.5 918.2 L336.5 918 L338.5 917.7 L340.5 917.4 L342.5 917 L344.5 916.6 L346.5 916.1 L348.5 915.6 L350.5 915 L352.5 914.3 L354.5 913.5 L356.5 912.7 L358.5 911.7 L360.5 910.7 L362.5 909.6 L364.5 908.3 L366.5 907 L368.5 905.6 L370.5 904 L372.5 902.4 L374.5 900.7 L376.5 898.9 L378.5 897.1 L380.5 895.1 L382.5 893.2 L384.5 891.2 L386.5 889.2 L388.5 887.1 L390.5 885.1 L392.5 883.2 L394.5 881.3 L396.5 879.5 L398.5 877.7 L400.5 876.1 L402.5 874.7 L404.5 873.4 L406.5 872.2 L408.5 871.3 L410.5 870.5 L412.5 870 L414.5 869.7 L416.5 869.6 L418.5 869.7 L420.5 870 L422.5 870.6 L424.5 871.3 L426.5 872.3 L428.5 873.4 L430.5 874.8 L432.5 876.3 L434.5 877.9 L436.5 879.6 L438.5 881.4 L440.5 883.4 L442.5 885.3 L444.5 887.3 L446.5 889.4 L448.5 891.4 L450.5 893.4 L452.5 895.4 L454.5 897.3 L456.5 899.2 L458.5 901 L460.5 902.7 L462.5 904.3 L464.5 905.8 L466.5 907.3 L468.5 908.6 L470.5 909.8 L472.5 911 L474.5 912 L476.5 913 L478.5 913.8 L480.5 914.6 L482.5 915.3 L484.5 915.9 L486.5 916.4 L488.5 916.9 L490.5 917.3 L492.5 917.7 L494.5 918 L496.5 918.3 L498.5 918.5 L500.5 918.7 L502.5 918.9 L504.5 919 L506.5 919.1 L508.5 919.2 L510.5 919.3 L512.5 919.4 L514.5 919.5 L516.5 919.5 L518.5 919.5 L520.5 919.6 L522.5 919.6 L524.5 919.6 L526.5 919.6 L528.5 919.7 L530.5 919.7 L532.5 919.7 L534.5 919.7 L536.5 919.7 L538.5 919.7 L540.5 919.7 L542.5 919.7 L544.5 919.7 L546.5 919.7 L548.5 919.7 L550.5 919.7 L552.5 919.7 L554.5 919.7 L556.5 919.7 L558.5 919.7 L560.5 919.7 L562.5 919.7 L564.5 919.7 L566.5 919.7 L568.5 919.7 L570.5 919.7 L572.5 919.7 L574.5 919.7 L576.5 919.7 L578.5 919.7 L580.5 919.7 L582.5 919.7 L584.5 919.7 L586.5 919.7 L588.5 919.7 L590.5 919.8 L592.5 919.8 L594.5 919.8 L596.5 919.8 L598.5 919.8 L600.5 919.8 L602.5 919.8 L604.5 919.8 L606.5 919.8 L608.5 919.8 L610.5 919.8 L612.5 919.8 L614.5 919.8 L616.5 919.8 L618.5 919.8 L620.5 919.8 L622.5 919.8 L624.5 919.8 L626.5 919.8 L628.5 919.8 L630.5 919.8 L632.5 919.8 L634.5 919.8 L636.5 919.8 L638.5 919.8 L640.5 919.8 L642.5 919.8 L644.5 919.8 L646.5 919.8 L648.5 919.8 L650.5 919.8 L652.5 919.8 L654.5 919.8 L656.5 919.8 L658.5 919.8 L660.5 919.8 L662.5 919.8 L664.5 919.8 L666.5 919.8 L668.5 919.8 L670.5 919.8 L672.5 919.8 L674.5 919.8 L676.5 919.8 L678.5 919.8 L680.5 919.8 L682.5 919.8 L684.5 919.8 L686.5 919.8 L688.5 919.8 L690.5 919.8 L692.5 919.8 L694.5 919.8 L696.5 919.8 L698.5 919.8 L700.5 919.8 L702.5 919.8 L704.5 919.8 L706.5 919.8 L708.5 919.8 L710.5 919.8 L712.5 919.8 L714.5 919.8 L716.5 919.8 L718.5 919.8 L720.5 919.8 L722.5 919.8 L724.5 919.8 L726.5 919.8 L728.5 919.8 L730.5 919.8 L732.5 919.8 L734.5 919.8 L736.5 919.8 L738.5 919.8 L740.5 919.8 L742.5 919.8 L744.5 919.8 L746.5 919.8 L748.5 919.8 L750.5 919.8 L752.5 919.8" fill="none" stroke="#2626d6" stroke-width="2.4" stroke-linejoin="round" stroke-linecap="round"/>
<path d="M64 917.3 L413 919.6 L753 919.8" fill="none" stroke="#23862a" stroke-width="2.4" stroke-linejoin="round" stroke-linecap="round"/>
<path d="M64 917 L66 916.9 L68 916.7 L70 916.6 L72 916.4 L74 916.3 L76 916.1 L78 916 L80 915.8 L82 915.7 L84.1 915.5 L86.1 915.4 L88.1 915.2 L90.1 915.1 L92.1 914.9 L94.1 914.8 L96.1 914.6 L98.1 914.4 L100.1 914.3 L102.1 914.1 L104.1 914 L106.1 913.8 L108.1 913.6 L110.1 913.5 L112.1 913.3 L114.1 913.1 L116.1 913 L118.1 912.8 L120.2 912.6 L122.2 912.5 L124.2 912.3 L126.2 912.1 L128.2 911.9 L130.2 911.8 L132.2 911.6 L134.2 911.4 L136.2 911.2 L138.2 911 L140.2 910.8 L142.2 910.6 L144.2 910.4 L146.2 910.2 L148.2 910 L150.2 909.8 L152.2 909.6 L154.2 909.4 L156.3 909.2 L158.3 909 L160.3 908.9 L162.3 908.7 L164.3 908.5 L166.3 908.3 L168.3 908.1 L170.3 907.9 L172.3 907.7 L174.3 907.6 L176.3 907.4 L178.3 907.2 L180.3 907.1 L182.3 906.9 L184.3 906.8 L186.3 906.6 L188.3 906.5 L190.3 906.4 L192.4 906.2 L194.4 906.1 L196.4 906 L198.4 905.8 L200.4 905.7 L202.4 905.6 L204.4 905.4 L206.4 905.3 L208.4 905.1 L210.4 904.9 L212.4 904.8 L214.4 904.6 L216.4 904.4 L218.4 904.2 L220.4 904 L222.4 903.8 L224.4 903.5 L226.4 903.2 L228.5 902.9 L230.5 902.6 L232.5 902.3 L234.5 901.9 L236.5 901.6 L238.5 901.2 L240.5 900.8 L242.5 900.4 L244.5 900 L246.5 899.6 L248.5 899.2 L250.5 898.8 L252.5 898.4 L254.5 898 L256.5 897.6 L258.5 897.3 L260.5 896.9 L262.5 896.5 L264.6 896.1 L266.6 895.8 L268.6 895.4 L270.6 895 L272.6 894.6 L274.6 894.2 L276.6 893.8 L278.6 893.3 L280.6 892.9 L282.6 892.5 L284.6 892.1 L286.6 891.7 L288.6 891.3 L290.6 890.9 L292.6 890.5 L294.6 890.1 L296.6 889.7 L298.6 889.3 L300.7 889 L302.7 888.6 L304.7 888.2 L306.7 887.9 L308.7 887.6 L310.7 887.2 L312.7 886.9 L314.7 886.6 L316.7 886.3 L318.7 886.1 L320.7 885.8 L322.7 885.6 L324.7 885.4 L326.7 885.2 L328.7 885 L330.7 884.9 L332.7 884.7 L334.7 884.5 L336.8 884.3 L338.8 884.1 L340.8 883.8 L342.8 883.6 L344.8 883.3 L346.8 883 L348.8 882.6 L350.8 882.2 L352.8 881.8 L354.8 881.2 L356.8 880.6 L358.8 879.9 L360.8 879.1 L362.8 878.3 L364.8 877.3 L366.8 876.1 L368.8 874.5 L370.8 872.5 L372.9 870.2 L374.9 867.9 L376.9 865.5 L378.9 863.2 L380.9 861.1 L382.9 859 L384.9 856.7 L386.9 854.5 L388.9 852.2 L390.9 849.9 L392.9 847.8 L394.9 845.7 L396.9 843.9 L398.9 842.2 L400.9 840.7 L402.9 839.5 L404.9 838.2 L406.9 837 L408.9 835.8 L411 834.7 L413 833.6 L415 832.6 L417 831.8 L419 831.1 L421 830.5 L423 830.2 L425 830.1 L427 830.1 L429 830.2 L431 830.4 L433 830.7 L435 831 L437 831.3 L439 831.7 L441 832.2 L443 832.7 L445 833.2 L447.1 833.8 L449.1 834.4 L451.1 835 L453.1 835.6 L455.1 836.2 L457.1 836.9 L459.1 837.5 L461.1 838.2 L463.1 838.8 L465.1 839.4 L467.1 840 L469.1 840.6 L471.1 841.3 L473.1 841.9 L475.1 842.6 L477.1 843.3 L479.1 844 L481.1 844.7 L483.2 845.5 L485.2 846.3 L487.2 847.1 L489.2 847.9 L491.2 848.7 L493.2 849.6 L495.2 850.5 L497.2 851.4 L499.2 852.3 L501.2 853.3 L503.2 854.3 L505.2 855.3 L507.2 856.4 L509.2 857.5 L511.2 858.6 L513.2 859.8 L515.2 860.9 L517.2 862.1 L519.3 863.4 L521.3 864.6 L523.3 865.9 L525.3 867.2 L527.3 868.6 L529.3 870.1 L531.3 871.8 L533.3 873.6 L535.3 875.4 L537.3 877.3 L539.3 879.2 L541.3 881.2 L543.3 883.1 L545.3 885 L547.3 886.8 L549.3 888.5 L551.3 890.2 L553.3 891.6 L555.4 893 L557.4 894.1 L559.4 895 L561.4 895.9 L563.4 896.8 L565.4 897.6 L567.4 898.4 L569.4 899.1 L571.4 899.8 L573.4 900.5 L575.4 901.2 L577.4 901.8 L579.4 902.4 L581.4 903 L583.4 903.6 L585.4 904.1 L587.4 904.7 L589.4 905.2 L591.5 905.6 L593.5 906.1 L595.5 906.6 L597.5 907 L599.5 907.4 L601.5 907.8 L603.5 908.2 L605.5 908.6 L607.5 909 L609.5 909.3 L611.5 909.7 L613.5 910 L615.5 910.3 L617.5 910.6 L619.5 910.9 L621.5 911.2 L623.5 911.5 L625.5 911.8 L627.6 912 L629.6 912.3 L631.6 912.5 L633.6 912.8 L635.6 913 L637.6 913.2 L639.6 913.5 L641.6 913.7 L643.6 913.9 L645.6 914.1 L647.6 914.3 L649.6 914.5 L651.6 914.7 L653.6 914.8 L655.6 915 L657.6 915.2 L659.6 915.3 L661.6 915.5 L663.7 915.7 L665.7 915.8 L667.7 915.9 L669.7 916.1 L671.7 916.2 L673.7 916.3 L675.7 916.4 L677.7 916.5 L679.7 916.7 L681.7 916.8 L683.7 916.9 L685.7 917 L687.7 917.1 L689.7 917.2 L691.7 917.3 L693.7 917.4 L695.7 917.5 L697.7 917.7 L699.8 917.8 L701.8 917.9 L703.8 918 L705.8 918.1 L707.8 918.2 L709.8 918.3 L711.8 918.3 L713.8 918.4 L715.8 918.5 L717.8 918.6 L719.8 918.7 L721.8 918.8 L723.8 918.8 L725.8 918.9 L727.8 919 L729.8 919.1 L731.8 919.1 L733.8 919.2 L735.9 919.2 L737.9 919.3 L739.9 919.4 L741.9 919.4 L743.9 919.4 L745.9 919.5 L747.9 919.5 L749.9 919.5 L751.9 919.6 L753.9 919.6" fill="none" stroke="#14144e" stroke-width="2.4" stroke-linejoin="round" stroke-linecap="round"/>
<path d="M63.6 909.4 L65.6 908.6 L67.6 907.8 L69.6 907.1 L71.6 906.5 L73.6 906 L75.6 905.5 L77.6 905.1 L79.6 904.7 L81.6 904.4 L83.6 904.1 L85.6 903.9 L87.6 903.7 L89.6 903.6 L91.6 903.5 L93.6 903.4 L95.6 903.3 L97.6 903.3 L99.6 903.3 L101.6 903.4 L103.6 903.6 L105.6 904.1 L107.6 904.8 L109.6 905.6 L111.6 906.5 L113.6 907.4 L115.6 908.3 L117.6 909.2 L119.6 910 L121.6 910.7 L123.6 911.2 L125.6 911.6 L127.6 911.7 L129.6 911.7 L131.6 911.6 L133.6 911.4 L135.6 911.2 L137.6 910.9 L139.6 910.6 L141.6 910.3 L143.6 909.9 L145.6 909.5 L147.6 909.1 L149.6 908.6 L151.6 908.2 L153.6 907.8 L155.6 907.4 L157.6 907 L159.6 906.6 L161.6 906.2 L163.6 905.9 L165.6 905.6 L167.6 905.3 L169.6 905.1 L171.6 905 L173.6 904.9 L175.6 904.9 L177.6 904.9 L179.7 904.9 L181.7 904.9 L183.7 904.9 L185.7 904.9 L187.7 904.9 L189.7 904.9 L191.7 905 L193.7 905.1 L195.7 905.3 L197.7 905.5 L199.7 905.7 L201.7 906 L203.7 906.2 L205.7 906.5 L207.7 906.8 L209.7 907 L211.7 907.3 L213.7 907.5 L215.7 907.6 L217.7 907.7 L219.7 907.8 L221.7 907.8 L223.7 907.6 L225.7 907.4 L227.7 907.1 L229.7 906.7 L231.7 906.2 L233.7 905.7 L235.7 905.1 L237.7 904.4 L239.7 903.8 L241.7 903 L243.7 902.3 L245.7 901.6 L247.7 900.9 L249.7 900.2 L251.7 899.5 L253.7 898.8 L255.7 898.2 L257.7 897.6 L259.7 897.1 L261.7 896.6 L263.7 896.1 L265.7 895.6 L267.7 895.1 L269.7 894.5 L271.7 894 L273.7 893.4 L275.7 892.9 L277.7 892.3 L279.7 891.8 L281.7 891.2 L283.7 890.7 L285.7 890.2 L287.7 889.7 L289.7 889.2 L291.7 888.7 L293.7 888.3 L295.7 887.8 L297.7 887.4 L299.7 887.1 L301.7 886.8 L303.7 886.5 L305.7 886.2 L307.7 886 L309.7 885.8 L311.7 885.7 L313.7 885.6 L315.7 885.6 L317.7 885.6 L319.7 885.7 L321.7 885.7 L323.7 885.8 L325.7 885.9 L327.7 886 L329.7 886.1 L331.7 886.2 L333.7 886.3 L335.7 886.4 L337.7 886.5 L339.7 886.6 L341.7 886.6 L343.7 886.7 L345.7 886.8 L347.7 886.8 L349.7 886.8 L351.7 886.5 L353.7 885.9 L355.7 885 L357.7 883.9 L359.7 882.7 L361.7 881.3 L363.7 879.9 L365.7 878.6 L367.7 877.1 L369.7 875.4 L371.7 873.4 L373.7 871.3 L375.7 869 L377.7 866.6 L379.7 864.1 L381.7 861.6 L383.7 859 L385.7 856.5 L387.7 853.9 L389.7 851.5 L391.7 849.2 L393.7 847 L395.7 844.9 L397.7 843.1 L399.7 841.5 L401.7 840.2 L403.7 839 L405.7 837.8 L407.7 836.6 L409.8 835.4 L411.8 834.3 L413.8 833.2 L415.8 832.3 L417.8 831.5 L419.8 830.9 L421.8 830.4 L423.8 830.1 L425.8 830.1 L427.8 830.2 L429.8 830.3 L431.8 830.5 L433.8 830.8 L435.8 831.1 L437.8 831.5 L439.8 831.9 L441.8 832.4 L443.8 832.9 L445.8 833.4 L447.8 834 L449.8 834.6 L451.8 835.2 L453.8 835.8 L455.8 836.4 L457.8 837.1 L459.8 837.7 L461.8 838.4 L463.8 839 L465.8 839.6 L467.8 840.2 L469.8 840.8 L471.8 841.5 L473.8 842.1 L475.8 842.8 L477.8 843.5 L479.8 844.2 L481.8 845 L483.8 845.7 L485.8 846.5 L487.8 847.3 L489.8 848.2 L491.8 849 L493.8 849.9 L495.8 850.8 L497.8 851.7 L499.8 852.6 L501.8 853.6 L503.8 854.6 L505.8 855.6 L507.8 856.7 L509.8 857.8 L511.8 858.9 L513.8 860.1 L515.8 861.3 L517.8 862.5 L519.8 863.7 L521.8 865 L523.8 866.3 L525.8 867.6 L527.8 869 L529.8 870.6 L531.8 872.3 L533.8 874.1 L535.8 876 L537.8 878 L539.8 880 L541.8 881.9 L543.8 883.9 L545.8 885.8 L547.8 887.6 L549.8 889.3 L551.8 890.8 L553.8 892.2 L555.8 893.4 L557.8 894.4 L559.8 895.2 L561.8 895.9 L563.8 896.6 L565.8 897.3 L567.8 897.9 L569.8 898.4 L571.8 898.8 L573.8 899 L575.8 899 L577.8 899 L579.8 898.9 L581.8 898.9 L583.8 898.8 L585.8 898.8 L587.8 898.8 L589.8 899.1 L591.8 900 L593.8 901.4 L595.8 903 L597.8 904.7 L599.8 906.3 L601.8 907.5 L603.8 908.3 L605.8 908.7 L607.8 909.1 L609.8 909.5 L611.8 909.9 L613.8 910.2 L615.8 910.5 L617.8 910.8 L619.8 911.1 L621.8 911.3 L623.8 911.6 L625.8 911.8 L627.8 912 L629.8 912.1 L631.8 912.3 L633.8 912.4 L635.8 912.4 L637.8 912.5 L639.9 912.5 L641.9 912.4 L643.9 912 L645.9 911.5 L647.9 911 L649.9 910.5 L651.9 910.1 L653.9 910 L655.9 910.2 L657.9 910.7 L659.9 911.5 L661.9 912.3 L663.9 913.3 L665.9 914.2 L667.9 915.1 L669.9 915.8 L671.9 916.2 L673.9 916.5 L675.9 916.7 L677.9 916.9 L679.9 917.2 L681.9 917.4 L683.9 917.6 L685.9 917.7 L687.9 917.9 L689.9 918 L691.9 918.1 L693.9 918.3 L695.9 918.3 L697.9 918.4 L699.9 918.5 L701.9 918.6 L703.9 918.6 L705.9 918.7 L707.9 918.7 L709.9 918.8 L711.9 918.8 L713.9 918.9 L715.9 918.9 L717.9 919 L719.9 919 L721.9 919.1 L723.9 919.1 L725.9 919.1 L727.9 919.2 L729.9 919.2 L731.9 919.2 L733.9 919.3 L735.9 919.3 L737.9 919.3 L739.9 919.3 L741.9 919.3 L743.9 919.4 L745.9 919.4 L747.9 919.4 L749.9 919.4 L751.9 919.4 L753.9 919.4" fill="none" stroke="#151515" stroke-width="2.4" stroke-linejoin="round" stroke-linecap="round"/>
<path d="M64 1049.1 L413 1054.1 L600 1056 L753 1057.5" fill="none" stroke="#7a1ee0" stroke-width="2.4" stroke-linejoin="round" stroke-linecap="round"/>
<path d="M64 1049.3 L66 1049.4 L68 1049.4 L70 1049.5 L72 1049.6 L74 1049.6 L76 1049.7 L78 1049.8 L80 1049.8 L82 1049.9 L84 1050 L86 1050 L88 1050.1 L90 1050.1 L92 1050.2 L94 1050.2 L96 1050.3 L98 1050.3 L100 1050.4 L102 1050.4 L104 1050.5 L106 1050.5 L108 1050.5 L110 1050.6 L112 1050.6 L114 1050.7 L116 1050.7 L118 1050.7 L120 1050.8 L122 1050.8 L124 1050.8 L126 1050.9 L128 1050.9 L130 1050.9 L132 1051 L134 1051 L136 1051 L138 1051 L140 1051.1 L142 1051.1 L144 1051.1 L146 1051.1 L148 1051.2 L150 1051.2 L152 1051.2 L154 1051.2 L156 1051.2 L158 1051.3 L160 1051.3 L162 1051.3 L164 1051.3 L166 1051.3 L168 1051.3 L170 1051.3 L172 1051.4 L174 1051.4 L176 1051.4 L178 1051.4 L180 1051.4 L182 1051.4 L184 1051.4 L186 1051.4 L188 1051.4 L190 1051.4 L192 1051.4 L194 1051.5 L196 1051.5 L198 1051.5 L200 1051.5 L202 1051.5 L204 1051.5 L206 1051.5 L208 1051.5 L210 1051.5 L212 1051.5 L214 1051.5 L216 1051.5 L218 1051.5 L220 1051.5 L222 1051.5 L224 1051.5 L226 1051.5 L228 1051.5 L230 1051.5 L232 1051.5 L234 1051.5 L236 1051.5 L238 1051.5 L240 1051.5 L242 1051.5 L244 1051.5 L246 1051.5 L248 1051.3 L250 1050.9 L252 1050.4 L254 1049.8 L256 1049.1 L258 1048.4 L260 1047.7 L262 1047 L264 1046.3 L266 1045.7 L268 1045 L270 1044.2 L272 1043.4 L274 1042.6 L276 1041.7 L278 1040.9 L280 1040.1 L282 1039.4 L284 1038.8 L286 1038.3 L288 1038 L290 1037.8 L292 1037.8 L294 1038.1 L296 1038.5 L298 1039 L300 1039.6 L302 1040.3 L304 1041.1 L306 1041.8 L308 1042.6 L310 1043.3 L312 1044 L314 1044.7 L316 1045.4 L318 1046.3 L320 1047.1 L322 1048 L324 1048.8 L326 1049.6 L328 1050.3 L330 1050.8 L332 1051.3 L334 1051.5 L336 1051.7 L338 1051.9 L340 1052.1 L342 1052.2 L344 1052.3 L346 1052.4 L348 1052.5 L350 1052.5" fill="none" stroke="#e0282e" stroke-width="2.4" stroke-linejoin="round" stroke-linecap="round"/>
<path d="M64 1052 L66 1052 L68 1052 L70 1052.1 L72 1052.1 L74 1052.1 L76 1052.1 L78 1052.1 L80 1052.1 L82 1052.2 L84 1052.2 L86 1052.2 L88 1052.2 L90 1052.2 L92 1052.2 L94 1052.2 L96 1052.3 L98 1052.3 L100.1 1052.3 L102.1 1052.3 L104.1 1052.3 L106.1 1052.3 L108.1 1052.3 L110.1 1052.4 L112.1 1052.4 L114.1 1052.4 L116.1 1052.4 L118.1 1052.4 L120.1 1052.4 L122.1 1052.4 L124.1 1052.4 L126.1 1052.5 L128.1 1052.5 L130.1 1052.5 L132.1 1052.5 L134.1 1052.5 L136.1 1052.5 L138.1 1052.5 L140.1 1052.5 L142.1 1052.5 L144.1 1052.6 L146.1 1052.6 L148.1 1052.6 L150.1 1052.6 L152.1 1052.6 L154.1 1052.6 L156.1 1052.6 L158.1 1052.6 L160.1 1052.6 L162.1 1052.6 L164.1 1052.7 L166.1 1052.7 L168.2 1052.7 L170.2 1052.7 L172.2 1052.7 L174.2 1052.7 L176.2 1052.7 L178.2 1052.7 L180.2 1052.7 L182.2 1052.7 L184.2 1052.7 L186.2 1052.7 L188.2 1052.7 L190.2 1052.8 L192.2 1052.8 L194.2 1052.8 L196.2 1052.8 L198.2 1052.8 L200.2 1052.8 L202.2 1052.8 L204.2 1052.8 L206.2 1052.8 L208.2 1052.8 L210.2 1052.8 L212.2 1052.8 L214.2 1052.8 L216.2 1052.8 L218.2 1052.8 L220.2 1052.8 L222.2 1052.9 L224.2 1052.9 L226.2 1052.9 L228.2 1052.9 L230.2 1052.9 L232.2 1052.9 L234.2 1052.9 L236.2 1052.9 L238.3 1052.9 L240.3 1052.9 L242.3 1052.9 L244.3 1052.9 L246.3 1052.9 L248.3 1052.9 L250.3 1052.9 L252.3 1052.9 L254.3 1052.9 L256.3 1052.9 L258.3 1052.9 L260.3 1052.9 L262.3 1052.9 L264.3 1052.9 L266.3 1052.9 L268.3 1052.9 L270.3 1052.9 L272.3 1052.9 L274.3 1052.9 L276.3 1053 L278.3 1053 L280.3 1053 L282.3 1053 L284.3 1053 L286.3 1053 L288.3 1053 L290.3 1053 L292.3 1053 L294.3 1053 L296.3 1053 L298.3 1053 L300.3 1053 L302.3 1053 L304.3 1053 L306.4 1053 L308.4 1053 L310.4 1053 L312.4 1053 L314.4 1053 L316.4 1053 L318.4 1053 L320.4 1053 L322.4 1053 L324.4 1053 L326.4 1053 L328.4 1053 L330.4 1053 L332.4 1053 L334.4 1053 L336.4 1053 L338.4 1053 L340.4 1053 L342.4 1053 L344.4 1053 L346.4 1053 L348.4 1053 L350.4 1053 L352.4 1053 L354.4 1053 L356.4 1053 L358.4 1053 L360.4 1053 L362.4 1053 L364.4 1053 L366.4 1053 L368.4 1053 L370.4 1053 L372.4 1053 L374.5 1053 L376.5 1053 L378.5 1053 L380.5 1053 L382.5 1053 L384.5 1053 L386.5 1053 L388.5 1053 L390.5 1053 L392.5 1053 L394.5 1053 L396.5 1053 L398.5 1053 L400.5 1053 L402.5 1053 L404.5 1053 L406.5 1053 L408.5 1052.9 L410.5 1052.9 L412.5 1052.9 L414.5 1052.8 L416.5 1052.8 L418.5 1052.7 L420.5 1052.7 L422.5 1052.6 L424.5 1052.5 L426.5 1052.5 L428.5 1052.4 L430.5 1052.3 L432.5 1052.2 L434.5 1052.1 L436.5 1052 L438.5 1051.9 L440.5 1051.8 L442.5 1051.7 L444.6 1051.6 L446.6 1051.5 L448.6 1051.4 L450.6 1051.3 L452.6 1051.2 L454.6 1051 L456.6 1050.9 L458.6 1050.8 L460.6 1050.6 L462.6 1050.5 L464.6 1050.4 L466.6 1050.2 L468.6 1050.1 L470.6 1050 L472.6 1049.8 L474.6 1049.6 L476.6 1049.3 L478.6 1049.1 L480.6 1048.8 L482.6 1048.5 L484.6 1048.1 L486.6 1047.8 L488.6 1047.4 L490.6 1047.1 L492.6 1046.7 L494.6 1046.4 L496.6 1046 L498.6 1045.6 L500.6 1045.3 L502.6 1045 L504.6 1044.7 L506.6 1044.4 L508.6 1044.2 L510.6 1043.9 L512.7 1043.7 L514.7 1043.5 L516.7 1043.2 L518.7 1043 L520.7 1042.8 L522.7 1042.5 L524.7 1042.3 L526.7 1042.1 L528.7 1041.9 L530.7 1041.7 L532.7 1041.5 L534.7 1041.4 L536.7 1041.3 L538.7 1041.2 L540.7 1041.1 L542.7 1041 L544.7 1041 L546.7 1041 L548.7 1041.1 L550.7 1041.1 L552.7 1041.2 L554.7 1041.3 L556.7 1041.5 L558.7 1041.7 L560.7 1041.8 L562.7 1042 L564.7 1042.2 L566.7 1042.5 L568.7 1042.7 L570.7 1042.9 L572.7 1043.2 L574.7 1043.4 L576.7 1043.6 L578.7 1043.9 L580.8 1044.1 L582.8 1044.3 L584.8 1044.6 L586.8 1044.9 L588.8 1045.2 L590.8 1045.5 L592.8 1045.8 L594.8 1046.2 L596.8 1046.5 L598.8 1046.9 L600.8 1047.2 L602.8 1047.6 L604.8 1047.9 L606.8 1048.3 L608.8 1048.6 L610.8 1048.9 L612.8 1049.2 L614.8 1049.5 L616.8 1049.7 L618.8 1050 L620.8 1050.3 L622.8 1050.6 L624.8 1050.8 L626.8 1051.1 L628.8 1051.4 L630.8 1051.6 L632.8 1051.9 L634.8 1052.1 L636.8 1052.3 L638.8 1052.6 L640.8 1052.8 L642.8 1053 L644.8 1053.1 L646.8 1053.3 L648.8 1053.4 L650.9 1053.5 L652.9 1053.7 L654.9 1053.8 L656.9 1053.9 L658.9 1054 L660.9 1054.1 L662.9 1054.2 L664.9 1054.3 L666.9 1054.4 L668.9 1054.5 L670.9 1054.6 L672.9 1054.7 L674.9 1054.8 L676.9 1054.9 L678.9 1055 L680.9 1055.1 L682.9 1055.2 L684.9 1055.3 L686.9 1055.4 L688.9 1055.5 L690.9 1055.6 L692.9 1055.7 L694.9 1055.7 L696.9 1055.8 L698.9 1055.9 L700.9 1056 L702.9 1056 L704.9 1056.1 L706.9 1056.2 L708.9 1056.2 L710.9 1056.3 L712.9 1056.4 L714.9 1056.4 L716.9 1056.5 L719 1056.5 L721 1056.6 L723 1056.6 L725 1056.7 L727 1056.7 L729 1056.8 L731 1056.8 L733 1056.8 L735 1056.9 L737 1056.9 L739 1056.9 L741 1056.9 L743 1057 L745 1057 L747 1057 L749 1057 L751 1057 L753 1057" fill="none" stroke="#e02ee0" stroke-width="2.4" stroke-linejoin="round" stroke-linecap="round"/>
<path d="M64 1052 L66 1052 L68 1052 L70 1052 L72 1052.1 L74 1052.1 L76 1052.1 L78 1052.1 L80 1052.1 L82 1052.1 L84 1052.1 L86 1052.2 L88 1052.2 L90 1052.2 L92 1052.2 L94 1052.2 L96 1052.2 L98 1052.2 L100 1052.2 L102 1052.2 L104 1052.3 L106 1052.3 L108 1052.3 L110 1052.3 L112 1052.3 L114 1052.3 L116 1052.3 L118 1052.3 L120 1052.3 L122 1052.3 L124 1052.3 L126 1052.4 L128 1052.4 L130 1052.4 L132 1052.4 L134 1052.4 L136 1052.4 L138 1052.4 L140 1052.4 L142 1052.4 L144 1052.4 L146 1052.4 L148 1052.4 L150 1052.4 L152 1052.4 L154 1052.4 L156 1052.4 L158 1052.4 L160 1052.4 L162 1052.4 L164 1052.5 L166 1052.5 L168 1052.5 L170 1052.5 L172 1052.5 L174 1052.5 L176 1052.5 L178 1052.5 L180 1052.5 L182 1052.5 L184 1052.5 L186 1052.5 L188 1052.5 L190 1052.5 L192 1052.5 L194 1052.5 L196 1052.5 L198 1052.5 L200 1052.5 L202 1052.5 L204 1052.5 L206 1052.5 L208 1052.5 L210 1052.5 L212 1052.5 L214 1052.5 L216 1052.5 L218 1052.5 L220 1052.5 L222 1052.5 L224 1052.5 L226 1052.5 L228 1052.5 L230 1052.5 L232 1052.5 L234 1052.5 L236 1052.5 L238 1052.5 L240 1052.5 L242 1052.5 L244 1052.5 L246 1052.5 L248 1052.5 L250 1052.5 L252 1052.5 L254 1052.5 L256 1052.5 L258 1052.4 L260 1052.4 L262 1052.4 L264 1052.3 L266 1052.3 L268 1052.2 L270 1052.2 L272 1052.1 L274 1052 L276 1052 L278 1051.8 L280 1051.7 L282 1051.4 L284 1051.1 L286 1050.8 L288 1050.5 L290 1050.1 L292 1049.7 L294 1049.2 L296 1048.7 L298 1048.2 L300 1047.7 L302 1047.2 L304 1046.6 L306 1046.1 L308 1045.5 L310 1045 L312 1044.4 L314 1043.9 L316 1043.2 L318 1042.6 L320 1041.9 L322 1041.2 L324 1040.4 L326 1039.6 L328 1038.8 L330 1037.9 L332 1037 L334 1036.1 L336 1035.1 L338 1034 L340 1032.9 L342 1031.8 L344 1030.6 L346 1029.3 L348 1027.8 L350 1026 L352 1024 L354 1021.8 L356 1019.5 L358 1017.1 L360 1014.6 L362 1012 L364 1009.4 L366 1006.9 L368 1004.4 L370 1002 L372 999.8 L374 997.7 L376 995.8 L378 994.1 L380 992.5 L382 990.8 L384 989.3 L386 987.7 L388 986.2 L390 984.8 L392 983.5 L394 982.2 L396 980.9 L398 979.8 L400 978.8 L402 977.8 L404 976.9 L406 975.9 L408 975 L410 974 L412 973.1 L414 972.3 L416 971.5 L418 970.8 L420 970.2 L422 969.8 L424 969.4 L426 969.2 L428 969.2 L430 969.4 L432 969.8 L434 970.4 L436 971.1 L438 971.9 L440 972.8 L442 973.7 L444 974.6 L446 975.4 L448 976.4 L450 977.5 L452 978.7 L454 979.9 L456 981.2 L458 982.6 L460 984 L462 985.4 L464 986.8 L466 988.2 L468 989.6 L470 991 L472 992.4 L474 993.8 L476 995.2 L478 996.6 L480 998 L482 999.4 L484 1000.9 L486 1002.4 L488 1003.9 L490 1005.5 L492 1007.1 L494 1008.7 L496 1010.3 L498 1012 L500 1013.8 L502 1015.6 L504 1017.5 L506 1019.7 L508 1022 L510 1024.4 L512 1026.9 L514 1029.4 L516 1031.9 L518 1034.3 L520 1036.5 L522 1038.6 L524 1040.4 L526 1041.9 L528 1043.3 L530 1044.7 L532 1046 L534 1047.2 L536 1048.3 L538 1049.4 L540 1050.3 L542 1051.1 L544 1051.7 L546 1052.3 L548 1052.7 L550 1053.2 L552 1053.7 L554 1054.1 L556 1054.5 L558 1054.8 L560 1055.1 L562 1055.4 L564 1055.6 L566 1055.8 L568 1055.9 L570 1056 L572 1056 L574 1056.1 L576 1056.1 L578 1056.1 L580 1056.2 L582 1056.2 L584 1056.2 L586 1056.2 L588 1056.3 L590 1056.3 L592 1056.3 L594 1056.3 L596 1056.3 L598 1056.3 L600 1056.3" fill="none" stroke="#2626d6" stroke-width="2.4" stroke-linejoin="round" stroke-linecap="round"/>
<path d="M64 1049.1 L413 1054.1 L600 1056 L753 1057.5" fill="none" stroke="#7a1ee0" stroke-width="2.4" stroke-linejoin="round" stroke-linecap="round"/>
<path d="M64 1048.5 L66 1048.5 L68 1048.5 L70 1048.5 L72 1048.5 L74 1048.5 L76 1048.5 L78 1048.5 L80 1048.5 L82 1048.5 L84 1048.5 L86 1048.5 L88 1048.5 L90 1048.5 L92 1048.5 L94 1048.5 L96 1048.5 L98 1048.5 L100.1 1048.5 L102.1 1048.5 L104.1 1048.5 L106.1 1048.4 L108.1 1048.4 L110.1 1048.4 L112.1 1048.4 L114.1 1048.4 L116.1 1048.4 L118.1 1048.4 L120.1 1048.4 L122.1 1048.4 L124.1 1048.4 L126.1 1048.4 L128.1 1048.4 L130.1 1048.4 L132.1 1048.3 L134.1 1048.3 L136.1 1048.3 L138.1 1048.3 L140.1 1048.3 L142.1 1048.3 L144.1 1048.3 L146.1 1048.3 L148.1 1048.2 L150.1 1048.2 L152.1 1048.2 L154.1 1048.2 L156.1 1048.2 L158.1 1048.2 L160.1 1048.1 L162.1 1048.1 L164.1 1048.1 L166.1 1048.1 L168.2 1048.1 L170.2 1048.1 L172.2 1048 L174.2 1048 L176.2 1048 L178.2 1047.8 L180.2 1047.6 L182.2 1047.3 L184.2 1046.9 L186.2 1046.5 L188.2 1046 L190.2 1045.5 L192.2 1044.9 L194.2 1044.4 L196.2 1043.9 L198.2 1043.4 L200.2 1043 L202.2 1042.5 L204.2 1041.9 L206.2 1041.3 L208.2 1040.7 L210.2 1040 L212.2 1039.5 L214.2 1039 L216.2 1038.6 L218.2 1038.4 L220.2 1038.3 L222.2 1038.4 L224.2 1038.6 L226.2 1038.9 L228.2 1039.3 L230.2 1039.7 L232.2 1040.2 L234.2 1040.7 L236.2 1041.2 L238.3 1041.7 L240.3 1042.2 L242.3 1042.6 L244.3 1043 L246.3 1043.3 L248.3 1043.4 L250.3 1043.5 L252.3 1043.5 L254.3 1043.5 L256.3 1043.4 L258.3 1043.4 L260.3 1043.3 L262.3 1043.2 L264.3 1043.1 L266.3 1043 L268.3 1042.9 L270.3 1042.8 L272.3 1042.5 L274.3 1042.1 L276.3 1041.6 L278.3 1041 L280.3 1040.3 L282.3 1039.6 L284.3 1038.9 L286.3 1038.3 L288.3 1037.7 L290.3 1037.2 L292.3 1036.7 L294.3 1036.2 L296.3 1035.7 L298.3 1035.3 L300.3 1035.1 L302.3 1035 L304.3 1035.1 L306.4 1035.2 L308.4 1035.4 L310.4 1035.7 L312.4 1035.9 L314.4 1036.2 L316.4 1036.5 L318.4 1036.8 L320.4 1037.1 L322.4 1037.3 L324.4 1037.4 L326.4 1037.5 L328.4 1037.5 L330.4 1037.3 L332.4 1036.9 L334.4 1036.5 L336.4 1035.9 L338.4 1035.2 L340.4 1034.5 L342.4 1033.7 L344.4 1032.8 L346.4 1031.8 L348.4 1030.8 L350.4 1029.8 L352.4 1028.2 L354.4 1026.2 L356.4 1023.8 L358.4 1021 L360.4 1018.1 L362.4 1014.9 L364.4 1011.7 L366.4 1008.5 L368.4 1005.4 L370.4 1002.4 L372.4 999.7 L374.5 997.4 L376.5 995.4 L378.5 993.8 L380.5 992.3 L382.5 990.9 L384.5 989.5 L386.5 988.3 L388.5 987.1 L390.5 985.9 L392.5 984.8 L394.5 983.7 L396.5 982.7 L398.5 981.6 L400.5 980.6 L402.5 979.5 L404.5 978.4 L406.5 977.2 L408.5 975.9 L410.5 974.6 L412.5 973.4 L414.5 972.2 L416.5 971.1 L418.5 970.2 L420.5 969.3 L422.5 968.7 L424.5 968.2 L426.5 968 L428.5 968.1 L430.5 968.5 L432.5 969.1 L434.5 970 L436.5 971.1 L438.5 972.4 L440.5 973.7 L442.5 975.1 L444.6 976.6 L446.6 978 L448.6 979.3 L450.6 980.6 L452.6 981.7 L454.6 982.6 L456.6 983.5 L458.6 984.3 L460.6 985 L462.6 985.8 L464.6 986.5 L466.6 987.2 L468.6 988 L470.6 988.8 L472.6 989.7 L474.6 990.7 L476.6 991.8 L478.6 993 L480.6 994.6 L482.6 996.3 L484.6 998.2 L486.6 1000.3 L488.6 1002.5 L490.6 1004.7 L492.6 1006.9 L494.6 1009 L496.6 1011 L498.6 1012.9 L500.6 1014.6 L502.6 1016 L504.6 1017.4 L506.6 1018.8 L508.6 1020.1 L510.6 1021.4 L512.7 1022.6 L514.7 1023.8 L516.7 1024.8 L518.7 1025.8 L520.7 1026.7 L522.7 1027.5 L524.7 1028.1 L526.7 1028.7 L528.7 1029.1 L530.7 1029.6 L532.7 1029.9 L534.7 1030.3 L536.7 1030.6 L538.7 1031 L540.7 1031.3 L542.7 1031.6 L544.7 1032 L546.7 1032.5 L548.7 1032.9 L550.7 1033.5 L552.7 1034 L554.7 1034.6 L556.7 1035.3 L558.7 1035.9 L560.7 1036.6 L562.7 1037.3 L564.7 1037.9 L566.7 1038.6 L568.7 1039.3 L570.7 1039.9 L572.7 1040.6 L574.7 1041.2 L576.7 1041.7 L578.7 1042.2 L580.8 1042.7 L582.8 1043.1 L584.8 1043.6 L586.8 1044 L588.8 1044.4 L590.8 1044.8 L592.8 1045.2 L594.8 1045.6 L596.8 1046 L598.8 1046.4 L600.8 1046.7 L602.8 1047.1 L604.8 1047.4 L606.8 1047.6 L608.8 1047.9 L610.8 1048.1 L612.8 1048.3 L614.8 1048.5 L616.8 1048.6 L618.8 1048.7 L620.8 1048.8 L622.8 1048.9 L624.8 1049 L626.8 1049.1 L628.8 1049.2 L630.8 1049.3 L632.8 1049.3 L634.8 1049.4 L636.8 1049.5 L638.8 1049.5 L640.8 1049.6 L642.8 1049.7 L644.8 1049.8 L646.8 1049.8 L648.8 1049.9 L650.9 1050 L652.9 1050.2 L654.9 1050.3 L656.9 1050.4 L658.9 1050.5 L660.9 1050.7 L662.9 1050.8 L664.9 1051 L666.9 1051.1 L668.9 1051.3 L670.9 1051.4 L672.9 1051.6 L674.9 1051.7 L676.9 1051.9 L678.9 1052 L680.9 1052.2 L682.9 1052.3 L684.9 1052.5 L686.9 1052.6 L688.9 1052.8 L690.9 1052.9 L692.9 1053.1 L694.9 1053.2 L696.9 1053.3 L698.9 1053.4 L700.9 1053.6 L702.9 1053.7 L704.9 1053.8 L706.9 1053.9 L708.9 1054 L710.9 1054.1 L712.9 1054.2 L714.9 1054.3 L716.9 1054.4 L719 1054.5 L721 1054.6 L723 1054.7 L725 1054.8 L727 1054.9 L729 1055 L731 1055.1 L733 1055.2 L735 1055.3 L737 1055.4 L739 1055.5 L741 1055.5 L743 1055.6 L745 1055.7 L747 1055.8 L749 1055.9 L751 1055.9 L753 1056" fill="none" stroke="#e02ee0" stroke-width="2.4" stroke-linejoin="round" stroke-linecap="round"/>
<path d="M63.6 1041.7 L89 1048.5 L102.6 1047.3 L125.2 1039.4 L145.6 1048.5 L163.7 1054.1 L186.4 1045.1 L213.6 1037.1 L227.2 1038.3 L249.8 1043.9 L270.2 1042.8 L290.6 1037.1 L302 1034.9 L326.9 1038.3 L349.5 1030.3 L376.7 995.2 L401.6 982.8 L413 975 L427.2 963.1 L437.4 969.2 L453.2 985 L461.2 986.2 L477 990.7 L502 1015.6 L524.6 1028.1 L547.3 1032.6 L581.2 1042.8 L615.2 1048.5 L640.1 1043.9 L667.3 1050.7 L692.2 1049.1 L717.2 1054.6 L739.8 1053 L753.9 1056.4" fill="none" stroke="#151515" stroke-width="2.4" stroke-linejoin="round" stroke-linecap="round"/>
<path d="M64 1048.5 L66 1048.5 L68 1048.5 L70 1048.5 L72 1048.5 L74 1048.5 L76 1048.5 L78 1048.5 L80 1048.5 L82 1048.5 L84 1048.5 L86 1048.5 L88 1048.5 L90 1048.5 L92 1048.5 L94 1048.5 L96 1048.5 L98 1048.5 L100.1 1048.5 L102.1 1048.5 L104.1 1048.5 L106.1 1048.4 L108.1 1048.4 L110.1 1048.4 L112.1 1048.4 L114.1 1048.4 L116.1 1048.4 L118.1 1048.4 L120.1 1048.4 L122.1 1048.4 L124.1 1048.4 L126.1 1048.4 L128.1 1048.4 L130.1 1048.4 L132.1 1048.3 L134.1 1048.3 L136.1 1048.3 L138.1 1048.3 L140.1 1048.3 L142.1 1048.3 L144.1 1048.3 L146.1 1048.3 L148.1 1048.2 L150.1 1048.2 L152.1 1048.2 L154.1 1048.2 L156.1 1048.2 L158.1 1048.2 L160.1 1048.1 L162.1 1048.1 L164.1 1048.1 L166.1 1048.1 L168.2 1048.1 L170.2 1048.1 L172.2 1048 L174.2 1048 L176.2 1048 L178.2 1047.8 L180.2 1047.6 L182.2 1047.3 L184.2 1046.9 L186.2 1046.5 L188.2 1046 L190.2 1045.5 L192.2 1044.9 L194.2 1044.4 L196.2 1043.9 L198.2 1043.4 L200.2 1043 L202.2 1042.5 L204.2 1041.9 L206.2 1041.3 L208.2 1040.7 L210.2 1040 L212.2 1039.5 L214.2 1039 L216.2 1038.6 L218.2 1038.4 L220.2 1038.3 L222.2 1038.4 L224.2 1038.6 L226.2 1038.9 L228.2 1039.3 L230.2 1039.7 L232.2 1040.2 L234.2 1040.7 L236.2 1041.2 L238.3 1041.7 L240.3 1042.2 L242.3 1042.6 L244.3 1043 L246.3 1043.3 L248.3 1043.4 L250.3 1043.5 L252.3 1043.5 L254.3 1043.5 L256.3 1043.4 L258.3 1043.4 L260.3 1043.3 L262.3 1043.2 L264.3 1043.1 L266.3 1043 L268.3 1042.9 L270.3 1042.8 L272.3 1042.5 L274.3 1042.1 L276.3 1041.6 L278.3 1041 L280.3 1040.3 L282.3 1039.6 L284.3 1038.9 L286.3 1038.3 L288.3 1037.7 L290.3 1037.2 L292.3 1036.7 L294.3 1036.2 L296.3 1035.7 L298.3 1035.3 L300.3 1035.1 L302.3 1035 L304.3 1035.1 L306.4 1035.2 L308.4 1035.4 L310.4 1035.7 L312.4 1035.9 L314.4 1036.2 L316.4 1036.5 L318.4 1036.8 L320.4 1037.1 L322.4 1037.3 L324.4 1037.4 L326.4 1037.5 L328.4 1037.5 L330.4 1037.3 L332.4 1036.9 L334.4 1036.5 L336.4 1035.9 L338.4 1035.2 L340.4 1034.5 L342.4 1033.7 L344.4 1032.8 L346.4 1031.8 L348.4 1030.8 L350.4 1029.8 L352.4 1028.2 L354.4 1026.2 L356.4 1023.8 L358.4 1021 L360.4 1018.1 L362.4 1014.9 L364.4 1011.7 L366.4 1008.5 L368.4 1005.4 L370.4 1002.4 L372.4 999.7 L374.5 997.4 L376.5 995.4 L378.5 993.8 L380.5 992.3 L382.5 990.9 L384.5 989.5 L386.5 988.3 L388.5 987.1 L390.5 985.9 L392.5 984.8 L394.5 983.7 L396.5 982.7 L398.5 981.6 L400.5 980.6 L402.5 979.5 L404.5 978.4 L406.5 977.2 L408.5 975.9 L410.5 974.6 L412.5 973.4 L414.5 972.2 L416.5 971.1 L418.5 970.2 L420.5 969.3 L422.5 968.7 L424.5 968.2 L426.5 968 L428.5 968.1 L430.5 968.5 L432.5 969.1 L434.5 970 L436.5 971.1 L438.5 972.4 L440.5 973.7 L442.5 975.1 L444.6 976.6 L446.6 978 L448.6 979.3 L450.6 980.6 L452.6 981.7 L454.6 982.6 L456.6 983.5 L458.6 984.3 L460.6 985 L462.6 985.8 L464.6 986.5 L466.6 987.2 L468.6 988 L470.6 988.8 L472.6 989.7 L474.6 990.7 L476.6 991.8 L478.6 993 L480.6 994.6 L482.6 996.3 L484.6 998.2 L486.6 1000.3 L488.6 1002.5 L490.6 1004.7 L492.6 1006.9 L494.6 1009 L496.6 1011 L498.6 1012.9 L500.6 1014.6 L502.6 1016 L504.6 1017.4 L506.6 1018.8 L508.6 1020.1 L510.6 1021.4 L512.7 1022.6 L514.7 1023.8 L516.7 1024.8 L518.7 1025.8 L520.7 1026.7 L522.7 1027.5 L524.7 1028.1 L526.7 1028.7 L528.7 1029.1 L530.7 1029.6 L532.7 1029.9 L534.7 1030.3 L536.7 1030.6 L538.7 1031 L540.7 1031.3 L542.7 1031.6 L544.7 1032 L546.7 1032.5 L548.7 1032.9 L550.7 1033.5 L552.7 1034 L554.7 1034.6 L556.7 1035.3 L558.7 1035.9 L560.7 1036.6 L562.7 1037.3 L564.7 1037.9 L566.7 1038.6 L568.7 1039.3 L570.7 1039.9 L572.7 1040.6 L574.7 1041.2 L576.7 1041.7 L578.7 1042.2 L580.8 1042.7 L582.8 1043.1 L584.8 1043.6 L586.8 1044 L588.8 1044.4 L590.8 1044.8 L592.8 1045.2 L594.8 1045.6 L596.8 1046 L598.8 1046.4 L600.8 1046.7 L602.8 1047.1 L604.8 1047.4 L606.8 1047.6 L608.8 1047.9 L610.8 1048.1 L612.8 1048.3 L614.8 1048.5 L616.8 1048.6 L618.8 1048.7 L620.8 1048.8 L622.8 1048.9 L624.8 1049 L626.8 1049.1 L628.8 1049.2 L630.8 1049.3 L632.8 1049.3 L634.8 1049.4 L636.8 1049.5 L638.8 1049.5 L640.8 1049.6 L642.8 1049.7 L644.8 1049.8 L646.8 1049.8 L648.8 1049.9 L650.9 1050 L652.9 1050.2 L654.9 1050.3 L656.9 1050.4 L658.9 1050.5 L660.9 1050.7 L662.9 1050.8 L664.9 1051 L666.9 1051.1 L668.9 1051.3 L670.9 1051.4 L672.9 1051.6 L674.9 1051.7 L676.9 1051.9 L678.9 1052 L680.9 1052.2 L682.9 1052.3 L684.9 1052.5 L686.9 1052.6 L688.9 1052.8 L690.9 1052.9 L692.9 1053.1 L694.9 1053.2 L696.9 1053.3 L698.9 1053.4 L700.9 1053.6 L702.9 1053.7 L704.9 1053.8 L706.9 1053.9 L708.9 1054 L710.9 1054.1 L712.9 1054.2 L714.9 1054.3 L716.9 1054.4 L719 1054.5 L721 1054.6 L723 1054.7 L725 1054.8 L727 1054.9 L729 1055 L731 1055.1 L733 1055.2 L735 1055.3 L737 1055.4 L739 1055.5 L741 1055.5 L743 1055.6 L745 1055.7 L747 1055.8 L749 1055.9 L751 1055.9 L753 1056" fill="none" stroke="#7a1ee0" stroke-width="1.6" stroke-linejoin="round" stroke-linecap="round" stroke-opacity="0.8"/>
<path d="M64 1167.8 L413 1170 L600 1171.5 L753 1173.5" fill="none" stroke="#23862a" stroke-width="2.4" stroke-linejoin="round" stroke-linecap="round"/>
<path d="M64 1168 L66 1168 L68 1168.1 L70 1168.1 L72 1168.2 L74 1168.2 L76 1168.2 L78 1168.3 L80 1168.3 L82 1168.3 L84 1168.4 L86 1168.4 L88 1168.4 L90 1168.5 L92 1168.5 L94 1168.6 L96 1168.6 L98 1168.6 L100.1 1168.7 L102.1 1168.7 L104.1 1168.7 L106.1 1168.8 L108.1 1168.8 L110.1 1168.8 L112.1 1168.9 L114.1 1168.9 L116.1 1168.9 L118.1 1168.9 L120.1 1169 L122.1 1169 L124.1 1169 L126.1 1169.1 L128.1 1169.1 L130.1 1169.1 L132.1 1169.2 L134.1 1169.2 L136.1 1169.2 L138.1 1169.2 L140.1 1169.3 L142.1 1169.3 L144.1 1169.3 L146.1 1169.3 L148.1 1169.4 L150.1 1169.4 L152.1 1169.4 L154.1 1169.5 L156.1 1169.5 L158.1 1169.5 L160.1 1169.5 L162.1 1169.6 L164.1 1169.6 L166.1 1169.6 L168.2 1169.6 L170.2 1169.6 L172.2 1169.7 L174.2 1169.7 L176.2 1169.7 L178.2 1169.7 L180.2 1169.8 L182.2 1169.8 L184.2 1169.8 L186.2 1169.8 L188.2 1169.8 L190.2 1169.9 L192.2 1169.9 L194.2 1169.9 L196.2 1169.9 L198.2 1169.9 L200.2 1170 L202.2 1170 L204.2 1170 L206.2 1170 L208.2 1170 L210.2 1170.1 L212.2 1170.1 L214.2 1170.1 L216.2 1170.1 L218.2 1170.1 L220.2 1170.1 L222.2 1170.2 L224.2 1170.2 L226.2 1170.2 L228.2 1170.2 L230.2 1170.2 L232.2 1170.2 L234.2 1170.3 L236.2 1170.3 L238.3 1170.3 L240.3 1170.3 L242.3 1170.3 L244.3 1170.3 L246.3 1170.4 L248.3 1170.4 L250.3 1170.4 L252.3 1170.4 L254.3 1170.4 L256.3 1170.4 L258.3 1170.4 L260.3 1170.4 L262.3 1170.5 L264.3 1170.5 L266.3 1170.5 L268.3 1170.5 L270.3 1170.5 L272.3 1170.5 L274.3 1170.5 L276.3 1170.5 L278.3 1170.6 L280.3 1170.6 L282.3 1170.6 L284.3 1170.6 L286.3 1170.6 L288.3 1170.6 L290.3 1170.6 L292.3 1170.6 L294.3 1170.6 L296.3 1170.6 L298.3 1170.7 L300.3 1170.7 L302.3 1170.7 L304.3 1170.7 L306.4 1170.7 L308.4 1170.7 L310.4 1170.7 L312.4 1170.7 L314.4 1170.7 L316.4 1170.7 L318.4 1170.7 L320.4 1170.7 L322.4 1170.8 L324.4 1170.8 L326.4 1170.8 L328.4 1170.8 L330.4 1170.8 L332.4 1170.8 L334.4 1170.8 L336.4 1170.8 L338.4 1170.8 L340.4 1170.8 L342.4 1170.8 L344.4 1170.8 L346.4 1170.8 L348.4 1170.8 L350.4 1170.8 L352.4 1170.9 L354.4 1170.9 L356.4 1170.9 L358.4 1170.9 L360.4 1170.9 L362.4 1170.9 L364.4 1170.9 L366.4 1170.9 L368.4 1170.9 L370.4 1170.9 L372.4 1170.9 L374.5 1170.9 L376.5 1170.9 L378.5 1170.9 L380.5 1170.9 L382.5 1170.9 L384.5 1170.9 L386.5 1170.9 L388.5 1170.9 L390.5 1170.9 L392.5 1170.9 L394.5 1170.9 L396.5 1170.9 L398.5 1170.9 L400.5 1170.9 L402.5 1170.9 L404.5 1171 L406.5 1171 L408.5 1171 L410.5 1171 L412.5 1171 L414.5 1171 L416.5 1171 L418.5 1171 L420.5 1171 L422.5 1171 L424.5 1171 L426.5 1171 L428.5 1171 L430.5 1171 L432.5 1171 L434.5 1171 L436.5 1171 L438.5 1171 L440.5 1171 L442.5 1171 L444.6 1171 L446.6 1171 L448.6 1171 L450.6 1171 L452.6 1171 L454.6 1171 L456.6 1171 L458.6 1171 L460.6 1171 L462.6 1171 L464.6 1171 L466.6 1171 L468.6 1171 L470.6 1171 L472.6 1171 L474.6 1171 L476.6 1171 L478.6 1171 L480.6 1171 L482.6 1171 L484.6 1171 L486.6 1171 L488.6 1171 L490.6 1171 L492.6 1171 L494.6 1171 L496.6 1171 L498.6 1171 L500.6 1171 L502.6 1171 L504.6 1171 L506.6 1171 L508.6 1171 L510.6 1171 L512.7 1171 L514.7 1171 L516.7 1171 L518.7 1171 L520.7 1171 L522.7 1171 L524.7 1170.9 L526.7 1170.7 L528.7 1170.6 L530.7 1170.4 L532.7 1170.1 L534.7 1169.9 L536.7 1169.6 L538.7 1169.4 L540.7 1169.1 L542.7 1168.8 L544.7 1168.5 L546.7 1168.3 L548.7 1167.9 L550.7 1167.6 L552.7 1167.2 L554.7 1166.8 L556.7 1166.4 L558.7 1166 L560.7 1165.6 L562.7 1165.2 L564.7 1164.8 L566.7 1164.5 L568.7 1164.2 L570.7 1163.9 L572.7 1163.6 L574.7 1163.4 L576.7 1163.1 L578.7 1162.8 L580.8 1162.5 L582.8 1162.3 L584.8 1162 L586.8 1161.8 L588.8 1161.6 L590.8 1161.4 L592.8 1161.2 L594.8 1161.1 L596.8 1161 L598.8 1161 L600.8 1161 L602.8 1161.1 L604.8 1161.1 L606.8 1161.3 L608.8 1161.4 L610.8 1161.6 L612.8 1161.8 L614.8 1162 L616.8 1162.3 L618.8 1162.5 L620.8 1162.8 L622.8 1163 L624.8 1163.3 L626.8 1163.6 L628.8 1163.8 L630.8 1164.1 L632.8 1164.4 L634.8 1164.7 L636.8 1165.1 L638.8 1165.5 L640.8 1165.9 L642.8 1166.3 L644.8 1166.7 L646.8 1167.1 L648.8 1167.5 L650.9 1168 L652.9 1168.3 L654.9 1168.7 L656.9 1169 L658.9 1169.3 L660.9 1169.6 L662.9 1169.9 L664.9 1170.1 L666.9 1170.4 L668.9 1170.6 L670.9 1170.9 L672.9 1171.1 L674.9 1171.4 L676.9 1171.6 L678.9 1171.8 L680.9 1172 L682.9 1172.1 L684.9 1172.3 L686.9 1172.4 L688.9 1172.5 L690.9 1172.5 L692.9 1172.6 L694.9 1172.6 L696.9 1172.7 L698.9 1172.8 L700.9 1172.8 L702.9 1172.9 L704.9 1172.9 L706.9 1172.9 L708.9 1173 L710.9 1173 L712.9 1173.1 L714.9 1173.1 L716.9 1173.2 L719 1173.2 L721 1173.2 L723 1173.3 L725 1173.3 L727 1173.3 L729 1173.3 L731 1173.4 L733 1173.4 L735 1173.4 L737 1173.4 L739 1173.4 L741 1173.5 L743 1173.5 L745 1173.5 L747 1173.5 L749 1173.5 L751 1173.5 L753 1173.5" fill="none" stroke="#e02ee0" stroke-width="2.4" stroke-linejoin="round" stroke-linecap="round"/>
<path d="M64 1166.7 L66 1166.7 L68 1166.7 L70 1166.7 L72 1166.7 L74 1166.8 L76 1166.8 L78 1166.8 L80 1166.8 L82 1166.8 L84.1 1166.8 L86.1 1166.8 L88.1 1166.8 L90.1 1166.8 L92.1 1166.8 L94.1 1166.8 L96.1 1166.8 L98.1 1166.8 L100.1 1166.9 L102.1 1166.9 L104.1 1166.9 L106.1 1166.9 L108.1 1166.9 L110.1 1166.9 L112.1 1166.9 L114.1 1166.9 L116.1 1166.9 L118.1 1166.9 L120.2 1166.9 L122.2 1166.9 L124.2 1166.9 L126.2 1166.9 L128.2 1166.9 L130.2 1166.9 L132.2 1166.9 L134.2 1166.9 L136.2 1166.9 L138.2 1166.9 L140.2 1167 L142.2 1167 L144.2 1167 L146.2 1167 L148.2 1167 L150.2 1167 L152.2 1167 L154.2 1167 L156.3 1167 L158.3 1167 L160.3 1167 L162.3 1167 L164.3 1167 L166.3 1167 L168.3 1167 L170.3 1167 L172.3 1167 L174.3 1167 L176.3 1167 L178.3 1167 L180.3 1167 L182.3 1167 L184.3 1167 L186.3 1167 L188.3 1167 L190.3 1167 L192.4 1167 L194.4 1167 L196.4 1167 L198.4 1167 L200.4 1167 L202.4 1167 L204.4 1167 L206.4 1167 L208.4 1167 L210.4 1167 L212.4 1167 L214.4 1167 L216.4 1167 L218.4 1167 L220.4 1167 L222.4 1167 L224.4 1167 L226.4 1167 L228.5 1167 L230.5 1167 L232.5 1167 L234.5 1166.9 L236.5 1166.7 L238.5 1166.6 L240.5 1166.3 L242.5 1166.1 L244.5 1165.8 L246.5 1165.5 L248.5 1165.2 L250.5 1164.8 L252.5 1164.5 L254.5 1164.1 L256.5 1163.7 L258.5 1163.3 L260.5 1162.9 L262.5 1162.5 L264.6 1162.1 L266.6 1161.7 L268.6 1161.3 L270.6 1161 L272.6 1160.7 L274.6 1160.3 L276.6 1160.1 L278.6 1159.8 L280.6 1159.6 L282.6 1159.4 L284.6 1159.2 L286.6 1159 L288.6 1158.8 L290.6 1158.6 L292.6 1158.4 L294.6 1158.1 L296.6 1157.9 L298.6 1157.6 L300.7 1157.2 L302.7 1156.9 L304.7 1156.4 L306.7 1155.7 L308.7 1155 L310.7 1154.2 L312.7 1153.3 L314.7 1152.3 L316.7 1151.3 L318.7 1150.2 L320.7 1149.2 L322.7 1148.1 L324.7 1147.1 L326.7 1146.1 L328.7 1145.1 L330.7 1144.2 L332.7 1143.2 L334.7 1142.3 L336.8 1141.3 L338.8 1140.3 L340.8 1139.3 L342.8 1138.2 L344.8 1137 L346.8 1135.8 L348.8 1134.5 L350.8 1133 L352.8 1131.3 L354.8 1129.3 L356.8 1127.1 L358.8 1124.8 L360.8 1122.4 L362.8 1120 L364.8 1117.5 L366.8 1115.1 L368.8 1112.9 L370.8 1110.7 L372.9 1108.9 L374.9 1107.2 L376.9 1105.9 L378.9 1104.8 L380.9 1103.9 L382.9 1103 L384.9 1102.2 L386.9 1101.5 L388.9 1100.8 L390.9 1100.1 L392.9 1099.4 L394.9 1098.6 L396.9 1097.8 L398.9 1096.9 L400.9 1095.9 L402.9 1094.7 L404.9 1093.3 L406.9 1091.8 L408.9 1090.3 L411 1088.7 L413 1087.1 L415 1085.6 L417 1084.2 L419 1082.9 L421 1081.8 L423 1081 L425 1080.5 L427 1080.1 L429 1079.6 L431 1079.3 L433 1078.9 L435 1078.7 L437 1078.5 L439 1078.3 L441 1078.3 L443 1078.4 L445 1078.6 L447.1 1078.9 L449.1 1079.3 L451.1 1079.8 L453.1 1080.3 L455.1 1080.8 L457.1 1081.6 L459.1 1082.6 L461.1 1083.9 L463.1 1085.3 L465.1 1087 L467.1 1088.9 L469.1 1090.8 L471.1 1092.9 L473.1 1095.1 L475.1 1097.3 L477.1 1099.5 L479.1 1101.8 L481.1 1104 L483.2 1106.2 L485.2 1108.3 L487.2 1110.3 L489.2 1112.2 L491.2 1113.9 L493.2 1115.6 L495.2 1117.2 L497.2 1118.9 L499.2 1120.6 L501.2 1122.3 L503.2 1123.9 L505.2 1125.6 L507.2 1127.2 L509.2 1128.8 L511.2 1130.4 L513.2 1131.9 L515.2 1133.4 L517.2 1134.9 L519.3 1136.3 L521.3 1137.7 L523.3 1139.1 L525.3 1140.3 L527.3 1141.6 L529.3 1142.8 L531.3 1144.1 L533.3 1145.3 L535.3 1146.5 L537.3 1147.6 L539.3 1148.7 L541.3 1149.7 L543.3 1150.6 L545.3 1151.3 L547.3 1152 L549.3 1152.6 L551.3 1153.2 L553.3 1153.7 L555.4 1154.2 L557.4 1154.7 L559.4 1155.2 L561.4 1155.6 L563.4 1156.1 L565.4 1156.5 L567.4 1156.8 L569.4 1157.2 L571.4 1157.5 L573.4 1157.8 L575.4 1158.1 L577.4 1158.3 L579.4 1158.5 L581.4 1158.7 L583.4 1158.9 L585.4 1159 L587.4 1159.1 L589.4 1159.2 L591.5 1159.3 L593.5 1159.4 L595.5 1159.5 L597.5 1159.6 L599.5 1159.7 L601.5 1159.8 L603.5 1160 L605.5 1160.1 L607.5 1160.4 L609.5 1160.7 L611.5 1161 L613.5 1161.3 L615.5 1161.7 L617.5 1162.1 L619.5 1162.5 L621.5 1163 L623.5 1163.4 L625.5 1163.9 L627.6 1164.4 L629.6 1164.9 L631.6 1165.3 L633.6 1165.8 L635.6 1166.2 L637.6 1166.6 L639.6 1167 L641.6 1167.4 L643.6 1167.8 L645.6 1168.1 L647.6 1168.3 L649.6 1168.5 L651.6 1168.7 L653.6 1168.9 L655.6 1169.1 L657.6 1169.3 L659.6 1169.5 L661.6 1169.7 L663.7 1169.9 L665.7 1170.1 L667.7 1170.2 L669.7 1170.4 L671.7 1170.6 L673.7 1170.7 L675.7 1170.9 L677.7 1171 L679.7 1171.1 L681.7 1171.3 L683.7 1171.4 L685.7 1171.5 L687.7 1171.6 L689.7 1171.7 L691.7 1171.8 L693.7 1171.8 L695.7 1171.9 L697.7 1172 L699.8 1172 L701.8 1172 L703.8 1172.1 L705.8 1172.1 L707.8 1172.1 L709.8 1172.2 L711.8 1172.2 L713.8 1172.2 L715.8 1172.2 L717.8 1172.3 L719.8 1172.3 L721.8 1172.3 L723.8 1172.3 L725.8 1172.3 L727.8 1172.4 L729.8 1172.4 L731.8 1172.4 L733.8 1172.4 L735.9 1172.4 L737.9 1172.4 L739.9 1172.5 L741.9 1172.5 L743.9 1172.5 L745.9 1172.5 L747.9 1172.5 L749.9 1172.5 L751.9 1172.5 L753.9 1172.5" fill="none" stroke="#2626d6" stroke-width="2.4" stroke-linejoin="round" stroke-linecap="round"/>
<path d="M63.6 1163.3 L75.4 1166.7 L100.3 1162.1 L125.2 1171.9 L138.8 1166.7 L150.2 1156.5 L163.7 1155.3 L188.7 1166.7 L213.6 1166.7 L238.5 1171.9 L252.1 1171.2 L277 1158.7 L290.6 1157.6 L302 1159.9 L326.9 1145.2 L349.5 1133.8 L376.7 1105.5 L385.8 1103.2 L413 1084 L424.5 1080 L440.8 1077.8 L454.4 1080 L490.6 1113.4 L525.7 1140.6 L547.3 1152 L581.2 1158.7 L603.9 1158.7 L649.2 1168.9 L678.7 1175.7 L703.6 1168.9 L728.5 1175.7 L753.9 1172.3" fill="none" stroke="#151515" stroke-width="2.4" stroke-linejoin="round" stroke-linecap="round"/>
<path d="M64 1166.7 L66 1166.7 L68 1166.7 L70 1166.7 L72 1166.7 L74 1166.8 L76 1166.8 L78 1166.8 L80 1166.8 L82 1166.8 L84.1 1166.8 L86.1 1166.8 L88.1 1166.8 L90.1 1166.8 L92.1 1166.8 L94.1 1166.8 L96.1 1166.8 L98.1 1166.8 L100.1 1166.9 L102.1 1166.9 L104.1 1166.9 L106.1 1166.9 L108.1 1166.9 L110.1 1166.9 L112.1 1166.9 L114.1 1166.9 L116.1 1166.9 L118.1 1166.9 L120.2 1166.9 L122.2 1166.9 L124.2 1166.9 L126.2 1166.9 L128.2 1166.9 L130.2 1166.9 L132.2 1166.9 L134.2 1166.9 L136.2 1166.9 L138.2 1166.9 L140.2 1167 L142.2 1167 L144.2 1167 L146.2 1167 L148.2 1167 L150.2 1167 L152.2 1167 L154.2 1167 L156.3 1167 L158.3 1167 L160.3 1167 L162.3 1167 L164.3 1167 L166.3 1167 L168.3 1167 L170.3 1167 L172.3 1167 L174.3 1167 L176.3 1167 L178.3 1167 L180.3 1167 L182.3 1167 L184.3 1167 L186.3 1167 L188.3 1167 L190.3 1167 L192.4 1167 L194.4 1167 L196.4 1167 L198.4 1167 L200.4 1167 L202.4 1167 L204.4 1167 L206.4 1167 L208.4 1167 L210.4 1167 L212.4 1167 L214.4 1167 L216.4 1167 L218.4 1167 L220.4 1167 L222.4 1167 L224.4 1167 L226.4 1167 L228.5 1167 L230.5 1167 L232.5 1167 L234.5 1166.9 L236.5 1166.7 L238.5 1166.6 L240.5 1166.3 L242.5 1166.1 L244.5 1165.8 L246.5 1165.5 L248.5 1165.2 L250.5 1164.8 L252.5 1164.5 L254.5 1164.1 L256.5 1163.7 L258.5 1163.3 L260.5 1162.9 L262.5 1162.5 L264.6 1162.1 L266.6 1161.7 L268.6 1161.3 L270.6 1161 L272.6 1160.7 L274.6 1160.3 L276.6 1160.1 L278.6 1159.8 L280.6 1159.6 L282.6 1159.4 L284.6 1159.2 L286.6 1159 L288.6 1158.8 L290.6 1158.6 L292.6 1158.4 L294.6 1158.1 L296.6 1157.9 L298.6 1157.6 L300.7 1157.2 L302.7 1156.9 L304.7 1156.4 L306.7 1155.7 L308.7 1155 L310.7 1154.2 L312.7 1153.3 L314.7 1152.3 L316.7 1151.3 L318.7 1150.2 L320.7 1149.2 L322.7 1148.1 L324.7 1147.1 L326.7 1146.1 L328.7 1145.1 L330.7 1144.2 L332.7 1143.2 L334.7 1142.3 L336.8 1141.3 L338.8 1140.3 L340.8 1139.3 L342.8 1138.2 L344.8 1137 L346.8 1135.8 L348.8 1134.5 L350.8 1133 L352.8 1131.3 L354.8 1129.3 L356.8 1127.1 L358.8 1124.8 L360.8 1122.4 L362.8 1120 L364.8 1117.5 L366.8 1115.1 L368.8 1112.9 L370.8 1110.7 L372.9 1108.9 L374.9 1107.2 L376.9 1105.9 L378.9 1104.8 L380.9 1103.9 L382.9 1103 L384.9 1102.2 L386.9 1101.5 L388.9 1100.8 L390.9 1100.1 L392.9 1099.4 L394.9 1098.6 L396.9 1097.8 L398.9 1096.9 L400.9 1095.9 L402.9 1094.7 L404.9 1093.3 L406.9 1091.8 L408.9 1090.3 L411 1088.7 L413 1087.1 L415 1085.6 L417 1084.2 L419 1082.9 L421 1081.8 L423 1081 L425 1080.5 L427 1080.1 L429 1079.6 L431 1079.3 L433 1078.9 L435 1078.7 L437 1078.5 L439 1078.3 L441 1078.3 L443 1078.4 L445 1078.6 L447.1 1078.9 L449.1 1079.3 L451.1 1079.8 L453.1 1080.3 L455.1 1080.8 L457.1 1081.6 L459.1 1082.6 L461.1 1083.9 L463.1 1085.3 L465.1 1087 L467.1 1088.9 L469.1 1090.8 L471.1 1092.9 L473.1 1095.1 L475.1 1097.3 L477.1 1099.5 L479.1 1101.8 L481.1 1104 L483.2 1106.2 L485.2 1108.3 L487.2 1110.3 L489.2 1112.2 L491.2 1113.9 L493.2 1115.6 L495.2 1117.2 L497.2 1118.9 L499.2 1120.6 L501.2 1122.3 L503.2 1123.9 L505.2 1125.6 L507.2 1127.2 L509.2 1128.8 L511.2 1130.4 L513.2 1131.9 L515.2 1133.4 L517.2 1134.9 L519.3 1136.3 L521.3 1137.7 L523.3 1139.1 L525.3 1140.3 L527.3 1141.6 L529.3 1142.8 L531.3 1144.1 L533.3 1145.3 L535.3 1146.5 L537.3 1147.6 L539.3 1148.7 L541.3 1149.7 L543.3 1150.6 L545.3 1151.3 L547.3 1152 L549.3 1152.6 L551.3 1153.2 L553.3 1153.7 L555.4 1154.2 L557.4 1154.7 L559.4 1155.2 L561.4 1155.6 L563.4 1156.1 L565.4 1156.5 L567.4 1156.8 L569.4 1157.2 L571.4 1157.5 L573.4 1157.8 L575.4 1158.1 L577.4 1158.3 L579.4 1158.5 L581.4 1158.7 L583.4 1158.9 L585.4 1159 L587.4 1159.1 L589.4 1159.2 L591.5 1159.3 L593.5 1159.4 L595.5 1159.5 L597.5 1159.6 L599.5 1159.7 L601.5 1159.8 L603.5 1160 L605.5 1160.1 L607.5 1160.4 L609.5 1160.7 L611.5 1161 L613.5 1161.3 L615.5 1161.7 L617.5 1162.1 L619.5 1162.5 L621.5 1163 L623.5 1163.4 L625.5 1163.9 L627.6 1164.4 L629.6 1164.9 L631.6 1165.3 L633.6 1165.8 L635.6 1166.2 L637.6 1166.6 L639.6 1167 L641.6 1167.4 L643.6 1167.8 L645.6 1168.1 L647.6 1168.3 L649.6 1168.5 L651.6 1168.7 L653.6 1168.9 L655.6 1169.1 L657.6 1169.3 L659.6 1169.5 L661.6 1169.7 L663.7 1169.9 L665.7 1170.1 L667.7 1170.2 L669.7 1170.4 L671.7 1170.6 L673.7 1170.7 L675.7 1170.9 L677.7 1171 L679.7 1171.1 L681.7 1171.3 L683.7 1171.4 L685.7 1171.5 L687.7 1171.6 L689.7 1171.7 L691.7 1171.8 L693.7 1171.8 L695.7 1171.9 L697.7 1172 L699.8 1172 L701.8 1172 L703.8 1172.1 L705.8 1172.1 L707.8 1172.1 L709.8 1172.2 L711.8 1172.2 L713.8 1172.2 L715.8 1172.2 L717.8 1172.3 L719.8 1172.3 L721.8 1172.3 L723.8 1172.3 L725.8 1172.3 L727.8 1172.4 L729.8 1172.4 L731.8 1172.4 L733.8 1172.4 L735.9 1172.4 L737.9 1172.4 L739.9 1172.5 L741.9 1172.5 L743.9 1172.5 L745.9 1172.5 L747.9 1172.5 L749.9 1172.5 L751.9 1172.5 L753.9 1172.5" fill="none" stroke="#14144e" stroke-width="1.4" stroke-linejoin="round" stroke-linecap="round" stroke-opacity="0.8"/>
<line x1="221.5" y1="676" x2="221.5" y2="1188.9" stroke="#383838" stroke-width="2.0" stroke-linecap="butt" stroke-dasharray="6.2,5.6"/>
<line x1="424.5" y1="676" x2="424.5" y2="1188.9" stroke="#383838" stroke-width="2.0" stroke-linecap="butt" stroke-dasharray="6.2,5.6"/>
<line x1="525.9" y1="676" x2="525.9" y2="1188.9" stroke="#383838" stroke-width="2.0" stroke-linecap="butt" stroke-dasharray="6.2,5.6"/>
<line x1="63.5" y1="803.6" x2="753.9" y2="803.6" stroke="#444444" stroke-width="2.7" stroke-linecap="butt"/>
<line x1="63.5" y1="932.5" x2="753.9" y2="932.5" stroke="#444444" stroke-width="2.7" stroke-linecap="butt"/>
<line x1="63.5" y1="1060.7" x2="753.9" y2="1060.7" stroke="#444444" stroke-width="2.7" stroke-linecap="butt"/>
<rect x="63.5" y="676" width="690.4" height="512.9" fill="none" stroke="#444444" stroke-width="2.7"/>
<line x1="63.6" y1="1188.9" x2="63.6" y2="1193.9" stroke="#444444" stroke-width="2.2" stroke-linecap="butt"/>
<line x1="126.3" y1="1188.9" x2="126.3" y2="1198.9" stroke="#444444" stroke-width="2.2" stroke-linecap="butt"/>
<text x="126.3" y="1224.7" font-size="25" fill="#1c1c1c" stroke="#1c1c1c" stroke-width="0.7" text-anchor="middle" textLength="42" lengthAdjust="spacingAndGlyphs">406</text>
<line x1="189" y1="1188.9" x2="189" y2="1193.9" stroke="#444444" stroke-width="2.2" stroke-linecap="butt"/>
<line x1="251.7" y1="1188.9" x2="251.7" y2="1198.9" stroke="#444444" stroke-width="2.2" stroke-linecap="butt"/>
<text x="251.7" y="1224.7" font-size="25" fill="#1c1c1c" stroke="#1c1c1c" stroke-width="0.7" text-anchor="middle" textLength="42" lengthAdjust="spacingAndGlyphs">404</text>
<line x1="314.4" y1="1188.9" x2="314.4" y2="1193.9" stroke="#444444" stroke-width="2.2" stroke-linecap="butt"/>
<line x1="377.2" y1="1188.9" x2="377.2" y2="1198.9" stroke="#444444" stroke-width="2.2" stroke-linecap="butt"/>
<text x="377.2" y="1224.7" font-size="25" fill="#1c1c1c" stroke="#1c1c1c" stroke-width="0.7" text-anchor="middle" textLength="42" lengthAdjust="spacingAndGlyphs">402</text>
<line x1="439.9" y1="1188.9" x2="439.9" y2="1193.9" stroke="#444444" stroke-width="2.2" stroke-linecap="butt"/>
<line x1="502.6" y1="1188.9" x2="502.6" y2="1198.9" stroke="#444444" stroke-width="2.2" stroke-linecap="butt"/>
<text x="502.6" y="1224.7" font-size="25" fill="#1c1c1c" stroke="#1c1c1c" stroke-width="0.7" text-anchor="middle" textLength="42" lengthAdjust="spacingAndGlyphs">400</text>
<line x1="565.3" y1="1188.9" x2="565.3" y2="1193.9" stroke="#444444" stroke-width="2.2" stroke-linecap="butt"/>
<line x1="628" y1="1188.9" x2="628" y2="1198.9" stroke="#444444" stroke-width="2.2" stroke-linecap="butt"/>
<text x="628" y="1224.7" font-size="25" fill="#1c1c1c" stroke="#1c1c1c" stroke-width="0.7" text-anchor="middle" textLength="42" lengthAdjust="spacingAndGlyphs">398</text>
<line x1="690.7" y1="1188.9" x2="690.7" y2="1193.9" stroke="#444444" stroke-width="2.2" stroke-linecap="butt"/>
<line x1="753.4" y1="1188.9" x2="753.4" y2="1198.9" stroke="#444444" stroke-width="2.2" stroke-linecap="butt"/>
<text x="753.4" y="1224.7" font-size="25" fill="#1c1c1c" stroke="#1c1c1c" stroke-width="0.7" text-anchor="middle" textLength="42" lengthAdjust="spacingAndGlyphs">396</text>
<text x="430.3" y="1247" font-size="24.5" fill="#1c1c1c" stroke="#1c1c1c" stroke-width="0.7" text-anchor="middle" textLength="209.5" lengthAdjust="spacingAndGlyphs">Binding energy/eV</text>
<text x="40.1" y="1013.5" font-size="25.5" fill="#1c1c1c" stroke="#1c1c1c" stroke-width="0.7" text-anchor="start" textLength="146.7" lengthAdjust="spacingAndGlyphs" transform="rotate(-90 40.1 1013.5)">Intensity/a.m.</text>
<text x="76.5" y="710.3" font-size="26.5" fill="#1c1c1c" stroke="#1c1c1c" stroke-width="0.7" text-anchor="start" textLength="55.5" lengthAdjust="spacingAndGlyphs">N 1s</text>
<text x="226" y="707.6" font-size="20.7" fill="#3a3ad2" stroke="#3a3ad2" stroke-width="0.7" text-anchor="start" textLength="61.9" lengthAdjust="spacingAndGlyphs">404.51</text>
<text x="342.3" y="707.6" font-size="20.7" fill="#3a3ad2" stroke="#3a3ad2" stroke-width="0.7" text-anchor="start" textLength="62.7" lengthAdjust="spacingAndGlyphs">401.44</text>
<text x="535.5" y="703.5" font-size="20.7" fill="#3a3ad2" stroke="#3a3ad2" stroke-width="0.7" text-anchor="start" textLength="65" lengthAdjust="spacingAndGlyphs">399.69</text>
<text x="674.6" y="742" font-size="23.5" fill="#d4283a" stroke="#d4283a" stroke-width="0.7" text-anchor="start" textLength="58.9" lengthAdjust="spacingAndGlyphs">AC-O</text>
<text x="635.6" y="886.8" font-size="23.5" fill="#d4283a" stroke="#d4283a" stroke-width="0.7" text-anchor="start" textLength="107.6" lengthAdjust="spacingAndGlyphs">AC-COIMI</text>
<text x="575.6" y="1010" font-size="23.5" fill="#d4283a" stroke="#d4283a" stroke-width="0.7" text-anchor="start" textLength="172.2" lengthAdjust="spacingAndGlyphs">AC-COIMI-HPW</text>
<text x="554" y="1130.4" font-size="23.5" fill="#d4283a" stroke="#d4283a" stroke-width="0.7" text-anchor="start" textLength="199.4" lengthAdjust="spacingAndGlyphs">AC-COIMI-NH<tspan font-size="12" dy="9">4</tspan><tspan dy="-9">PW</tspan></text>
<path d="M878 800 L880 800 L882 800.1 L884 800.1 L886 800.1 L888 800.1 L890 800.2 L892 800.2 L894 800.2 L896 800.2 L898 800.3 L900 800.3 L902 800.3 L904 800.3 L906 800.4 L908 800.4 L910 800.4 L912 800.4 L914 800.4 L916 800.5 L918 800.5 L920 800.5 L922 800.5 L924 800.5 L926 800.6 L928 800.6 L930 800.6 L932 800.6 L934 800.6 L936 800.6 L938 800.7 L940 800.7 L942 800.7 L944 800.7 L946 800.7 L948 800.7 L950 800.7 L952 800.7 L954 800.7 L956 800.7 L958 800.7 L960 800.7 L962 800.7 L964 800.7 L966 800.6 L968 800.6 L970 800.6 L972 800.5 L974 800.5 L976 800.5 L978 800.4 L980 800.4 L982 800.3 L984 800.2 L986 800.2 L988 800.1 L990 800 L992 799.9 L994 799.8 L996 799.7 L998 799.5 L1000 799.4 L1002 799.2 L1004 799.1 L1006 798.9 L1008 798.7 L1010 798.5 L1012 798.3 L1014 798.1 L1016 797.8 L1018 797.6 L1020 797.3 L1022 797 L1024 796.7 L1026 796.4 L1028 796 L1030 795.7 L1032 795.3 L1034 794.9 L1036 794.4 L1038 794 L1040 793.5 L1042 793 L1044 792.5 L1046 792 L1048 791.4 L1050 790.9 L1052 790.3 L1054 789.6 L1056 789 L1058 788.3 L1060 787.7 L1062 787 L1064 786.2 L1066 785.5 L1068 784.7 L1070 783.9 L1072 783.1 L1074 782.3 L1076 781.5 L1078 780.6 L1080 779.7 L1082 778.9 L1084 778 L1086 777.1 L1088 776.2 L1090 775.2 L1092 774.3 L1094 773.4 L1096 772.4 L1098 771.5 L1100 770.6 L1102 769.6 L1104 768.7 L1106 767.8 L1108 766.9 L1110 766 L1112 765.1 L1114 764.2 L1116 763.4 L1118 762.5 L1120 761.7 L1122 760.9 L1124 760.1 L1126 759.4 L1128 758.7 L1130 758 L1132 757.4 L1134 756.8 L1136 756.2 L1138 755.7 L1140 755.2 L1142 754.7 L1144 754.3 L1146 753.9 L1148 753.6 L1150 753.4 L1152 753.1 L1154 753 L1156 752.9 L1158 752.8 L1160 752.8 L1162 752.8 L1164 752.9 L1166 753 L1168 753.2 L1170 753.5 L1172 753.8 L1174 754.2 L1176 754.6 L1178 755.1 L1180 755.6 L1182 756.2 L1184 756.9 L1186 757.6 L1188 758.3 L1190 759.1 L1192 759.9 L1194 760.7 L1196 761.6 L1198 762.5 L1200 763.5 L1202 764.5 L1204 765.5 L1206 766.5 L1208 767.5 L1210 768.6 L1212 769.6 L1214 770.7 L1216 771.7 L1218 772.8 L1220 773.9 L1222 775 L1224 776 L1226 777.1 L1228 778.1 L1230 779.2 L1232 780.2 L1234 781.3 L1236 782.3 L1238 783.3 L1240 784.3 L1242 785.3 L1244 786.2 L1246 787.2 L1248 788.1 L1250 789 L1252 789.9 L1254 790.7 L1256 791.6 L1258 792.4 L1260 793.2 L1262 794 L1264 794.7 L1266 795.4 L1268 796.1 L1270 796.8 L1272 797.4 L1274 798.1 L1276 798.7 L1278 799.2 L1280 799.8 L1282 800.3 L1284 800.8 L1286 801.3 L1288 801.7 L1290 802.2 L1292 802.6 L1294 803 L1296 803.4 L1298 803.7 L1300 804.1 L1302 804.4 L1304 804.7 L1306 805 L1308 805.3 L1310 805.5 L1312 805.8 L1314 806 L1316 806.2 L1318 806.4 L1320 806.6 L1322 806.8 L1324 807 L1326 807.1 L1328 807.3 L1330 807.4 L1332 807.5 L1334 807.7 L1336 807.8 L1338 807.9 L1340 808 L1342 808.1 L1344 808.2 L1346 808.3 L1348 808.3 L1350 808.4 L1352 808.5 L1354 808.6 L1356 808.6 L1358 808.7 L1360 808.7 L1362 808.8 L1364 808.8 L1366 808.9 L1368 808.9 L1370 808.9 L1372 809 L1374 809 L1376 809 L1378 809.1 L1380 809.1 L1382 809.1 L1384 809.1 L1386 809.2 L1388 809.2 L1390 809.2 L1392 809.2 L1394 809.2 L1396 809.2 L1398 809.3 L1400 809.3 L1402 809.3 L1404 809.3 L1406 809.3 L1408 809.3 L1410 809.3 L1412 809.3 L1414 809.3 L1416 809.3 L1418 809.4 L1420 809.4 L1422 809.4 L1424 809.4 L1426 809.4 L1428 809.4 L1430 809.4 L1432 809.4 L1434 809.4 L1436 809.4 L1438 809.4 L1440 809.4 L1442 809.4 L1444 809.4 L1446 809.5 L1448 809.5 L1450 809.5 L1452 809.5 L1454 809.5 L1456 809.5 L1458 809.5 L1460 809.5 L1462 809.5 L1464 809.5 L1466 809.5 L1468 809.5 L1470 809.5 L1472 809.5 L1474 809.5 L1476 809.5 L1478 809.5 L1480 809.5 L1482 809.5 L1484 809.5 L1486 809.5 L1488 809.6 L1490 809.6 L1492 809.6 L1494 809.6 L1496 809.6 L1498 809.6 L1500 809.6 L1502 809.6 L1504 809.6 L1506 809.6 L1508 809.6 L1510 809.6 L1512 809.6 L1514 809.6 L1516 809.6 L1518 809.6 L1520 809.6 L1522 809.6 L1524 809.6 L1526 809.6 L1528 809.6 L1530 809.6 L1532 809.6 L1534 809.6 L1536 809.6 L1538 809.6" fill="none" stroke="#e0282e" stroke-width="2.4" stroke-linejoin="round" stroke-linecap="round"/>
<path d="M878 799.7 L880 799.7 L882 799.7 L884 799.7 L886 799.7 L888 799.8 L890 799.8 L892 799.8 L894 799.8 L896 799.8 L898 799.8 L900 799.8 L902 799.8 L904 799.8 L906 799.7 L908 799.7 L910 799.7 L912 799.7 L914 799.7 L916 799.7 L918 799.7 L920 799.7 L922 799.6 L924 799.6 L926 799.6 L928 799.6 L930 799.5 L932 799.5 L934 799.5 L936 799.4 L938 799.4 L940 799.3 L942 799.3 L944 799.2 L946 799.2 L948 799.1 L950 799.1 L952 799 L954 798.9 L956 798.9 L958 798.8 L960 798.7 L962 798.6 L964 798.6 L966 798.5 L968 798.4 L970 798.3 L972 798.2 L974 798.1 L976 798 L978 797.8 L980 797.7 L982 797.6 L984 797.5 L986 797.3 L988 797.2 L990 797.1 L992 796.9 L994 796.8 L996 796.6 L998 796.4 L1000 796.3 L1002 796.1 L1004 795.9 L1006 795.7 L1008 795.5 L1010 795.3 L1012 795.1 L1014 794.9 L1016 794.7 L1018 794.5 L1020 794.2 L1022 794 L1024 793.8 L1026 793.5 L1028 793.3 L1030 793 L1032 792.8 L1034 792.5 L1036 792.2 L1038 791.9 L1040 791.6 L1042 791.3 L1044 791 L1046 790.7 L1048 790.4 L1050 790.1 L1052 789.8 L1054 789.5 L1056 789.1 L1058 788.8 L1060 788.5 L1062 788.1 L1064 787.8 L1066 787.4 L1068 787 L1070 786.7 L1072 786.3 L1074 785.9 L1076 785.6 L1078 785.2 L1080 784.8 L1082 784.4 L1084 784 L1086 783.6 L1088 783.3 L1090 782.9 L1092 782.5 L1094 782.1 L1096 781.7 L1098 781.3 L1100 780.9 L1102 780.5 L1104 780.1 L1106 779.7 L1108 779.3 L1110 778.9 L1112 778.5 L1114 778.1 L1116 777.7 L1118 777.3 L1120 776.9 L1122 776.5 L1124 776.1 L1126 775.7 L1128 775.3 L1130 775 L1132 774.6 L1134 774.2 L1136 773.9 L1138 773.5 L1140 773.2 L1142 772.8 L1144 772.5 L1146 772.1 L1148 771.8 L1150 771.5 L1152 771.2 L1154 770.9 L1156 770.6 L1158 770.3 L1160 770.1 L1162 769.8 L1164 769.6 L1166 769.3 L1168 769.1 L1170 768.9 L1172 768.8 L1174 768.6 L1176 768.4 L1178 768.3 L1180 768.2 L1182 768.1 L1184 768 L1186 768 L1188 767.9 L1190 767.9 L1192 767.9 L1194 767.9 L1196 767.9 L1198 767.9 L1200 767.9 L1202 768 L1204 768 L1206 768.1 L1208 768.2 L1210 768.3 L1212 768.4 L1214 768.5 L1216 768.6 L1218 768.8 L1220 768.9 L1222 769.1 L1224 769.3 L1226 769.6 L1228 769.8 L1230 770.1 L1232 770.4 L1234 770.7 L1236 771 L1238 771.4 L1240 771.8 L1242 772.2 L1244 772.6 L1246 773 L1248 773.5 L1250 773.9 L1252 774.4 L1254 774.9 L1256 775.4 L1258 776 L1260 776.5 L1262 777.1 L1264 777.6 L1266 778.2 L1268 778.8 L1270 779.4 L1272 780 L1274 780.6 L1276 781.2 L1278 781.8 L1280 782.4 L1282 783.1 L1284 783.7 L1286 784.3 L1288 784.9 L1290 785.6 L1292 786.2 L1294 786.8 L1296 787.4 L1298 788 L1300 788.7 L1302 789.3 L1304 789.9 L1306 790.5 L1308 791.1 L1310 791.7 L1312 792.2 L1314 792.8 L1316 793.4 L1318 793.9 L1320 794.5 L1322 795 L1324 795.6 L1326 796.1 L1328 796.6 L1330 797.1 L1332 797.6 L1334 798 L1336 798.5 L1338 798.9 L1340 799.4 L1342 799.8 L1344 800.2 L1346 800.6 L1348 801 L1350 801.4 L1352 801.8 L1354 802.1 L1356 802.5 L1358 802.8 L1360 803.1 L1362 803.4 L1364 803.7 L1366 804 L1368 804.3 L1370 804.6 L1372 804.8 L1374 805.1 L1376 805.3 L1378 805.5 L1380 805.7 L1382 805.9 L1384 806.1 L1386 806.3 L1388 806.5 L1390 806.7 L1392 806.8 L1394 807 L1396 807.1 L1398 807.3 L1400 807.4 L1402 807.5 L1404 807.7 L1406 807.8 L1408 807.9 L1410 808 L1412 808.1 L1414 808.2 L1416 808.2 L1418 808.3 L1420 808.4 L1422 808.5 L1424 808.5 L1426 808.6 L1428 808.7 L1430 808.7 L1432 808.8 L1434 808.8 L1436 808.9 L1438 808.9 L1440 809 L1442 809 L1444 809.1 L1446 809.1 L1448 809.1 L1450 809.2 L1452 809.2 L1454 809.2 L1456 809.2 L1458 809.3 L1460 809.3 L1462 809.3 L1464 809.3 L1466 809.3 L1468 809.4 L1470 809.4 L1472 809.4 L1474 809.4 L1476 809.4 L1478 809.4 L1480 809.5 L1482 809.5 L1484 809.5 L1486 809.5 L1488 809.5 L1490 809.5 L1492 809.5 L1494 809.5 L1496 809.5 L1498 809.5 L1500 809.5 L1502 809.5 L1504 809.5 L1506 809.6 L1508 809.6 L1510 809.6 L1512 809.6 L1514 809.6 L1516 809.6 L1518 809.6 L1520 809.6 L1522 809.6 L1524 809.6 L1526 809.6 L1528 809.6 L1530 809.6 L1532 809.6 L1534 809.6 L1536 809.6 L1538 809.6" fill="none" stroke="#e02ee0" stroke-width="2.4" stroke-linejoin="round" stroke-linecap="round"/>
<path d="M878 800 L880 800 L882 800.1 L884 800.1 L886 800.1 L888 800.1 L890 800.2 L892 800.2 L894 800.2 L896 800.2 L898 800.3 L900 800.3 L902 800.3 L904 800.3 L906 800.4 L908 800.4 L910 800.4 L912 800.4 L914 800.5 L916 800.5 L918 800.5 L920 800.6 L922 800.6 L924 800.6 L926 800.6 L928 800.7 L930 800.7 L932 800.7 L934 800.7 L936 800.8 L938 800.8 L940 800.8 L942 800.8 L944 800.9 L946 800.9 L948 800.9 L950 800.9 L952 800.9 L954 801 L956 801 L958 801 L960 801 L962 801.1 L964 801.1 L966 801.1 L968 801.1 L970 801.2 L972 801.2 L974 801.2 L976 801.2 L978 801.3 L980 801.3 L982 801.3 L984 801.3 L986 801.3 L988 801.4 L990 801.4 L992 801.4 L994 801.4 L996 801.5 L998 801.5 L1000 801.5 L1002 801.5 L1004 801.5 L1006 801.6 L1008 801.6 L1010 801.6 L1012 801.6 L1014 801.6 L1016 801.7 L1018 801.7 L1020 801.7 L1022 801.7 L1024 801.7 L1026 801.8 L1028 801.8 L1030 801.8 L1032 801.8 L1034 801.8 L1036 801.9 L1038 801.9 L1040 801.9 L1042 801.9 L1044 801.9 L1046 801.9 L1048 802 L1050 802 L1052 802 L1054 802 L1056 802 L1058 802.1 L1060 802.1 L1062 802.1 L1064 802.1 L1066 802.1 L1068 802.1 L1070 802.2 L1072 802.2 L1074 802.2 L1076 802.2 L1078 802.2 L1080 802.3 L1082 802.3 L1084 802.3 L1086 802.3 L1088 802.3 L1090 802.4 L1092 802.4 L1094 802.4 L1096 802.4 L1098 802.4 L1100 802.5 L1102 802.5 L1104 802.5 L1106 802.5 L1108 802.5 L1110 802.5 L1112 802.5 L1114 802.5 L1116 802.5 L1118 802.5 L1120 802.5 L1122 802.5 L1124 802.5 L1126 802.5 L1128 802.5 L1130 802.5 L1132 802.5 L1134 802.4 L1136 802.4 L1138 802.4 L1140 802.3 L1142 802.3 L1144 802.2 L1146 802.2 L1148 802.1 L1150 802 L1152 801.9 L1154 801.8 L1156 801.7 L1158 801.5 L1160 801.4 L1162 801.2 L1164 801 L1166 800.8 L1168 800.6 L1170 800.4 L1172 800.2 L1174 799.9 L1176 799.7 L1178 799.4 L1180 799.1 L1182 798.8 L1184 798.4 L1186 798.1 L1188 797.7 L1190 797.3 L1192 796.8 L1194 796.4 L1196 795.9 L1198 795.3 L1200 794.8 L1202 794.2 L1204 793.6 L1206 793 L1208 792.3 L1210 791.7 L1212 790.9 L1214 790.2 L1216 789.5 L1218 788.7 L1220 787.9 L1222 787.1 L1224 786.2 L1226 785.4 L1228 784.5 L1230 783.7 L1232 782.8 L1234 782 L1236 781.2 L1238 780.3 L1240 779.5 L1242 778.7 L1244 778 L1246 777.2 L1248 776.5 L1250 775.8 L1252 775.2 L1254 774.6 L1256 774 L1258 773.5 L1260 773 L1262 772.6 L1264 772.3 L1266 771.9 L1268 771.7 L1270 771.5 L1272 771.4 L1274 771.3 L1276 771.3 L1278 771.3 L1280 771.4 L1282 771.6 L1284 771.8 L1286 772.1 L1288 772.5 L1290 772.9 L1292 773.3 L1294 773.9 L1296 774.4 L1298 775.1 L1300 775.7 L1302 776.5 L1304 777.2 L1306 778 L1308 778.8 L1310 779.7 L1312 780.6 L1314 781.5 L1316 782.4 L1318 783.3 L1320 784.3 L1322 785.2 L1324 786.2 L1326 787.1 L1328 788.1 L1330 789 L1332 790 L1334 790.9 L1336 791.8 L1338 792.7 L1340 793.6 L1342 794.4 L1344 795.3 L1346 796.1 L1348 796.9 L1350 797.6 L1352 798.4 L1354 799.1 L1356 799.7 L1358 800.4 L1360 801 L1362 801.6 L1364 802.2 L1366 802.7 L1368 803.2 L1370 803.7 L1372 804.1 L1374 804.5 L1376 804.9 L1378 805.3 L1380 805.7 L1382 806 L1384 806.3 L1386 806.6 L1388 806.8 L1390 807.1 L1392 807.3 L1394 807.5 L1396 807.7 L1398 807.8 L1400 808 L1402 808.1 L1404 808.3 L1406 808.4 L1408 808.5 L1410 808.6 L1412 808.7 L1414 808.8 L1416 808.8 L1418 808.9 L1420 809 L1422 809 L1424 809.1 L1426 809.1 L1428 809.2 L1430 809.2 L1432 809.2 L1434 809.3 L1436 809.3 L1438 809.3 L1440 809.3 L1442 809.3 L1444 809.4 L1446 809.4 L1448 809.4 L1450 809.4 L1452 809.4 L1454 809.4 L1456 809.4 L1458 809.5 L1460 809.5 L1462 809.5 L1464 809.5 L1466 809.5 L1468 809.5 L1470 809.5 L1472 809.5 L1474 809.5 L1476 809.5 L1478 809.5 L1480 809.5 L1482 809.5 L1484 809.5 L1486 809.5 L1488 809.6 L1490 809.6 L1492 809.6 L1494 809.6 L1496 809.6 L1498 809.6 L1500 809.6 L1502 809.6 L1504 809.6 L1506 809.6 L1508 809.6 L1510 809.6 L1512 809.6 L1514 809.6 L1516 809.6 L1518 809.6 L1520 809.6 L1522 809.6 L1524 809.6 L1526 809.6 L1528 809.6 L1530 809.6 L1532 809.6 L1534 809.6 L1536 809.6 L1538 809.6" fill="none" stroke="#2626d6" stroke-width="2.4" stroke-linejoin="round" stroke-linecap="round"/>
<path d="M878 800 L880 800 L882 800.1 L884 800.1 L886 800.1 L888 800.1 L890 800.2 L892 800.2 L894 800.2 L896 800.2 L898 800.3 L900 800.3 L902 800.3 L904 800.3 L906 800.4 L908 800.4 L910 800.4 L912.1 800.4 L914.1 800.5 L916.1 800.5 L918.1 800.5 L920.1 800.6 L922.1 800.6 L924.1 800.6 L926.1 800.6 L928.1 800.7 L930.1 800.7 L932.1 800.7 L934.1 800.7 L936.1 800.8 L938.1 800.8 L940.1 800.8 L942.1 800.8 L944.1 800.9 L946.1 800.9 L948.1 800.9 L950.1 800.9 L952.1 800.9 L954.1 801 L956.1 801 L958.1 801 L960.1 801 L962.1 801.1 L964.1 801.1 L966.1 801.1 L968.1 801.1 L970.1 801.2 L972.1 801.2 L974.1 801.2 L976.1 801.2 L978.2 801.3 L980.2 801.3 L982.2 801.3 L984.2 801.3 L986.2 801.3 L988.2 801.4 L990.2 801.4 L992.2 801.4 L994.2 801.4 L996.2 801.5 L998.2 801.5 L1000.2 801.5 L1002.2 801.5 L1004.2 801.5 L1006.2 801.6 L1008.2 801.6 L1010.2 801.6 L1012.2 801.6 L1014.2 801.6 L1016.2 801.7 L1018.2 801.7 L1020.2 801.7 L1022.2 801.7 L1024.2 801.7 L1026.2 801.8 L1028.2 801.8 L1030.2 801.8 L1032.2 801.8 L1034.2 801.8 L1036.2 801.9 L1038.2 801.9 L1040.2 801.9 L1042.2 801.9 L1044.3 801.9 L1046.3 801.9 L1048.3 802 L1050.3 802 L1052.3 802 L1054.3 802 L1056.3 802 L1058.3 802.1 L1060.3 802.1 L1062.3 802.1 L1064.3 802.1 L1066.3 802.1 L1068.3 802.2 L1070.3 802.2 L1072.3 802.2 L1074.3 802.2 L1076.3 802.2 L1078.3 802.3 L1080.3 802.3 L1082.3 802.3 L1084.3 802.3 L1086.3 802.3 L1088.3 802.4 L1090.3 802.4 L1092.3 802.4 L1094.3 802.4 L1096.3 802.5 L1098.3 802.5 L1100.3 802.5 L1102.3 802.5 L1104.3 802.6 L1106.3 802.6 L1108.3 802.6 L1110.4 802.6 L1112.4 802.6 L1114.4 802.7 L1116.4 802.7 L1118.4 802.7 L1120.4 802.7 L1122.4 802.8 L1124.4 802.8 L1126.4 802.8 L1128.4 802.9 L1130.4 802.9 L1132.4 802.9 L1134.4 802.9 L1136.4 803 L1138.4 803 L1140.4 803 L1142.4 803.1 L1144.4 803.1 L1146.4 803.1 L1148.4 803.2 L1150.4 803.2 L1152.4 803.2 L1154.4 803.3 L1156.4 803.3 L1158.4 803.4 L1160.4 803.4 L1162.4 803.4 L1164.4 803.5 L1166.4 803.5 L1168.4 803.6 L1170.4 803.7 L1172.4 803.7 L1174.4 803.8 L1176.5 803.9 L1178.5 804 L1180.5 804.1 L1182.5 804.2 L1184.5 804.3 L1186.5 804.4 L1188.5 804.5 L1190.5 804.7 L1192.5 804.8 L1194.5 804.9 L1196.5 805 L1198.5 805.1 L1200.5 805.3 L1202.5 805.4 L1204.5 805.5 L1206.5 805.6 L1208.5 805.7 L1210.5 805.8 L1212.5 806 L1214.5 806.1 L1216.5 806.2 L1218.5 806.2 L1220.5 806.3 L1222.5 806.4 L1224.5 806.5 L1226.5 806.6 L1228.5 806.6 L1230.5 806.7 L1232.5 806.7 L1234.5 806.8 L1236.5 806.9 L1238.5 806.9 L1240.5 807 L1242.6 807 L1244.6 807.1 L1246.6 807.1 L1248.6 807.2 L1250.6 807.3 L1252.6 807.3 L1254.6 807.4 L1256.6 807.4 L1258.6 807.5 L1260.6 807.5 L1262.6 807.5 L1264.6 807.6 L1266.6 807.6 L1268.6 807.7 L1270.6 807.7 L1272.6 807.8 L1274.6 807.8 L1276.6 807.8 L1278.6 807.9 L1280.6 807.9 L1282.6 807.9 L1284.6 808 L1286.6 808 L1288.6 808 L1290.6 808.1 L1292.6 808.1 L1294.6 808.1 L1296.6 808.2 L1298.6 808.2 L1300.6 808.2 L1302.6 808.3 L1304.6 808.3 L1306.6 808.3 L1308.7 808.4 L1310.7 808.4 L1312.7 808.4 L1314.7 808.4 L1316.7 808.5 L1318.7 808.5 L1320.7 808.5 L1322.7 808.6 L1324.7 808.6 L1326.7 808.6 L1328.7 808.6 L1330.7 808.7 L1332.7 808.7 L1334.7 808.7 L1336.7 808.7 L1338.7 808.8 L1340.7 808.8 L1342.7 808.8 L1344.7 808.8 L1346.7 808.9 L1348.7 808.9 L1350.7 808.9 L1352.7 808.9 L1354.7 809 L1356.7 809 L1358.7 809 L1360.7 809 L1362.7 809 L1364.7 809.1 L1366.7 809.1 L1368.7 809.1 L1370.7 809.1 L1372.7 809.1 L1374.8 809.2 L1376.8 809.2 L1378.8 809.2 L1380.8 809.2 L1382.8 809.2 L1384.8 809.2 L1386.8 809.2 L1388.8 809.2 L1390.8 809.3 L1392.8 809.3 L1394.8 809.3 L1396.8 809.3 L1398.8 809.3 L1400.8 809.3 L1402.8 809.3 L1404.8 809.3 L1406.8 809.3 L1408.8 809.3 L1410.8 809.3 L1412.8 809.3 L1414.8 809.4 L1416.8 809.4 L1418.8 809.4 L1420.8 809.4 L1422.8 809.4 L1424.8 809.4 L1426.8 809.4 L1428.8 809.4 L1430.8 809.4 L1432.8 809.4 L1434.8 809.4 L1436.8 809.4 L1438.8 809.4 L1440.9 809.4 L1442.9 809.4 L1444.9 809.4 L1446.9 809.5 L1448.9 809.5 L1450.9 809.5 L1452.9 809.5 L1454.9 809.5 L1456.9 809.5 L1458.9 809.5 L1460.9 809.5 L1462.9 809.5 L1464.9 809.5 L1466.9 809.5 L1468.9 809.5 L1470.9 809.5 L1472.9 809.5 L1474.9 809.5 L1476.9 809.5 L1478.9 809.5 L1480.9 809.5 L1482.9 809.5 L1484.9 809.5 L1486.9 809.6 L1488.9 809.6 L1490.9 809.6 L1492.9 809.6 L1494.9 809.6 L1496.9 809.6 L1498.9 809.6 L1500.9 809.6 L1502.9 809.6 L1504.9 809.6 L1507 809.6 L1509 809.6 L1511 809.6 L1513 809.6 L1515 809.6 L1517 809.6 L1519 809.6 L1521 809.6 L1523 809.6 L1525 809.6 L1527 809.6 L1529 809.6 L1531 809.6 L1533 809.6 L1535 809.6 L1537 809.6 L1539 809.6" fill="none" stroke="#23862a" stroke-width="2.4" stroke-linejoin="round" stroke-linecap="round"/>
<path d="M878 800 L880 800 L882 800 L884 800 L886 799.9 L888 799.9 L890 799.9 L892 799.9 L894 799.8 L896 799.8 L898 799.8 L900 799.7 L902 799.7 L904 799.6 L906 799.5 L908 799.5 L910 799.4 L912 799.3 L914 799.2 L916 799.1 L918 799 L920 798.9 L922 798.8 L924 798.7 L926 798.6 L928 798.5 L930 798.4 L932 798.3 L934 798.1 L936 798 L938 797.8 L940 797.7 L942 797.6 L944 797.4 L946 797.2 L948 797.1 L950 796.9 L952 796.8 L954 796.6 L956 796.4 L958 796.2 L960 796 L962 795.9 L964 795.7 L966 795.5 L968 795.3 L970 795.1 L972 794.9 L974 794.7 L976 794.4 L978 794.2 L980 794 L982 793.8 L984 793.5 L986 793.3 L988 793.1 L990 792.8 L992 792.6 L994 792.3 L996 792.1 L998 791.8 L1000 791.5 L1002 791.2 L1004 790.9 L1006 790.6 L1008 790.3 L1010 790 L1012 789.7 L1014 789.3 L1016 789 L1018 788.6 L1020 788.2 L1022 787.8 L1024 787.4 L1026 787 L1028 786.6 L1030 786.1 L1032 785.6 L1034 785.2 L1036 784.6 L1038 784.1 L1040 783.6 L1042 783 L1044 782.4 L1046 781.7 L1048 781 L1050 780.3 L1052 779.6 L1054 778.8 L1056 778 L1058 777.2 L1060 776.3 L1062 775.4 L1064 774.4 L1066 773.4 L1068 772.3 L1070 771.2 L1072 770 L1074 768.8 L1076 767.6 L1078 766.3 L1080 765 L1082 763.6 L1084 762.2 L1086 760.8 L1088 759.4 L1090 758 L1092 756.5 L1094 755.1 L1096 753.6 L1098 752.1 L1100 750.7 L1102 749.2 L1104 747.7 L1106 746.3 L1108 744.9 L1110 743.5 L1112 742.1 L1114 740.7 L1116 739.4 L1118 738.1 L1120 736.9 L1122 735.6 L1124 734.4 L1126 733.3 L1128 732.1 L1130 731 L1132 729.9 L1134 728.9 L1136 727.8 L1138 726.8 L1140 725.9 L1142 724.9 L1144 724 L1146 723.1 L1148 722.3 L1150 721.4 L1152 720.6 L1154 719.9 L1156 719.1 L1158 718.5 L1160 717.8 L1162 717.2 L1164 716.6 L1166 716 L1168 715.5 L1170 715.1 L1172 714.7 L1174 714.3 L1176 713.9 L1178 713.6 L1180 713.4 L1182 713.2 L1184 713 L1186 712.9 L1188 712.8 L1190 712.7 L1192 712.7 L1194 712.7 L1196 712.8 L1198 712.9 L1200 713 L1202 713.1 L1204 713.3 L1206 713.5 L1208 713.7 L1210 713.9 L1212 714.2 L1214 714.4 L1216 714.7 L1218 715 L1220 715.4 L1222 715.7 L1224 716.1 L1226 716.4 L1228 716.8 L1230 717.2 L1232 717.6 L1234 718.1 L1236 718.6 L1238 719.1 L1240 719.6 L1242 720.1 L1244 720.7 L1246 721.3 L1248 721.9 L1250 722.5 L1252 723.2 L1254 723.9 L1256 724.6 L1258 725.4 L1260 726.2 L1262 727 L1264 727.9 L1266 728.7 L1268 729.6 L1270 730.6 L1272 731.5 L1274 732.5 L1276 733.6 L1278 734.6 L1280 735.7 L1282 736.8 L1284 738 L1286 739.1 L1288 740.3 L1290 741.6 L1292 742.8 L1294 744.1 L1296 745.5 L1298 746.8 L1300 748.2 L1302 749.7 L1304 751.1 L1306 752.6 L1308 754.1 L1310 755.6 L1312 757.1 L1314 758.7 L1316 760.2 L1318 761.7 L1320 763.3 L1322 764.8 L1324 766.3 L1326 767.8 L1328 769.3 L1330 770.8 L1332 772.2 L1334 773.6 L1336 775 L1338 776.4 L1340 777.7 L1342 778.9 L1344 780.2 L1346 781.4 L1348 782.5 L1350 783.6 L1352 784.7 L1354 785.8 L1356 786.8 L1358 787.8 L1360 788.8 L1362 789.7 L1364 790.6 L1366 791.5 L1368 792.4 L1370 793.2 L1372 794 L1374 794.8 L1376 795.5 L1378 796.2 L1380 796.9 L1382 797.6 L1384 798.2 L1386 798.8 L1388 799.4 L1390 800 L1392 800.5 L1394 801.1 L1396 801.6 L1398 802 L1400 802.5 L1402 802.9 L1404 803.4 L1406 803.8 L1408 804.2 L1410 804.5 L1412 804.9 L1414 805.2 L1416 805.5 L1418 805.8 L1420 806.1 L1422 806.4 L1424 806.7 L1426 806.9 L1428 807.1 L1430 807.4 L1432 807.6 L1434 807.7 L1436 807.9 L1438 808.1 L1440 808.2 L1442 808.4 L1444 808.5 L1446 808.6 L1448 808.7 L1450 808.8 L1452 808.9 L1454 809 L1456 809.1 L1458 809.2 L1460 809.2 L1462 809.3 L1464 809.3 L1466 809.3 L1468 809.4 L1470 809.4 L1472 809.4 L1474 809.4 L1476 809.5 L1478 809.5 L1480 809.5 L1482 809.5 L1484 809.5 L1486 809.5 L1488 809.5 L1490 809.4 L1492 809.4 L1494 809.4 L1496 809.4 L1498 809.4 L1500 809.4 L1502 809.4 L1504 809.4 L1506 809.4 L1508 809.4 L1510 809.4 L1512 809.4 L1514 809.4 L1516 809.4 L1518 809.4 L1520 809.4 L1522 809.4 L1524 809.4 L1526 809.5 L1528 809.5 L1530 809.5 L1532 809.6 L1534 809.7 L1536 809.7 L1538 809.8" fill="none" stroke="#14144e" stroke-width="2.6" stroke-linejoin="round" stroke-linecap="round"/>
<path d="M878 926.2 L880 926.2 L882 926.3 L884 926.3 L886 926.3 L888 926.3 L890 926.4 L892 926.4 L894 926.4 L896 926.5 L898 926.5 L900 926.5 L902 926.5 L904 926.6 L906 926.6 L908 926.6 L910 926.7 L912 926.7 L914 926.7 L916 926.7 L918 926.8 L920 926.8 L922 926.8 L924 926.9 L926 926.9 L928 926.9 L930 926.9 L932 927 L934 927 L936 927 L938 927.1 L940 927.1 L942 927.1 L944 927.1 L946 927.2 L948 927.2 L950 927.2 L952 927.3 L954 927.3 L956 927.3 L958 927.4 L960 927.4 L962 927.4 L964 927.4 L966 927.5 L968 927.5 L970 927.5 L972 927.6 L974 927.6 L976 927.6 L978 927.6 L980 927.7 L982 927.7 L984 927.7 L986 927.8 L988 927.8 L990 927.8 L992 927.8 L994 927.9 L996 927.9 L998 927.9 L1000 928 L1002 928 L1004 928 L1006 928 L1008 928.1 L1010 928.1 L1012 928.1 L1014 928.1 L1016 928.1 L1018 928.2 L1020 928.2 L1022 928.2 L1024 928.2 L1026 928.2 L1028 928.3 L1030 928.3 L1032 928.3 L1034 928.3 L1036 928.3 L1038 928.3 L1040 928.3 L1042 928.3 L1044 928.3 L1046 928.3 L1048 928.3 L1050 928.3 L1052 928.3 L1054 928.3 L1056 928.3 L1058 928.3 L1060 928.2 L1062 928.2 L1064 928.2 L1066 928.2 L1068 928.1 L1070 928.1 L1072 928 L1074 928 L1076 927.9 L1078 927.9 L1080 927.8 L1082 927.7 L1084 927.7 L1086 927.6 L1088 927.5 L1090 927.4 L1092 927.3 L1094 927.2 L1096 927.1 L1098 926.9 L1100 926.8 L1102 926.6 L1104 926.5 L1106 926.3 L1108 926.1 L1110 926 L1112 925.8 L1114 925.6 L1116 925.3 L1118 925.1 L1120 924.8 L1122 924.6 L1124 924.3 L1126 924 L1128 923.7 L1130 923.4 L1132 923.1 L1134 922.7 L1136 922.4 L1138 922 L1140 921.6 L1142 921.2 L1144 920.8 L1146 920.3 L1148 919.9 L1150 919.4 L1152 918.9 L1154 918.4 L1156 917.8 L1158 917.3 L1160 916.7 L1162 916.2 L1164 915.6 L1166 914.9 L1168 914.3 L1170 913.7 L1172 913 L1174 912.3 L1176 911.7 L1178 911 L1180 910.3 L1182 909.5 L1184 908.8 L1186 908.1 L1188 907.3 L1190 906.5 L1192 905.7 L1194 905 L1196 904.2 L1198 903.3 L1200 902.5 L1202 901.7 L1204 900.9 L1206 900 L1208 899.2 L1210 898.3 L1212 897.5 L1214 896.6 L1216 895.8 L1218 894.9 L1220 894.1 L1222 893.2 L1224 892.4 L1226 891.5 L1228 890.7 L1230 889.9 L1232 889.1 L1234 888.3 L1236 887.5 L1238 886.7 L1240 886 L1242 885.3 L1244 884.6 L1246 883.9 L1248 883.2 L1250 882.6 L1252 882 L1254 881.4 L1256 880.8 L1258 880.3 L1260 879.8 L1262 879.4 L1264 878.9 L1266 878.5 L1268 878.2 L1270 877.8 L1272 877.6 L1274 877.3 L1276 877.1 L1278 876.9 L1280 876.8 L1282 876.7 L1284 876.6 L1286 876.6 L1288 876.6 L1290 876.7 L1292 876.8 L1294 877.1 L1296 877.4 L1298 877.8 L1300 878.3 L1302 878.8 L1304 879.5 L1306 880.2 L1308 880.9 L1310 881.8 L1312 882.7 L1314 883.7 L1316 884.7 L1318 885.8 L1320 886.9 L1322 888.1 L1324 889.3 L1326 890.6 L1328 891.8 L1330 893.1 L1332 894.5 L1334 895.8 L1336 897.2 L1338 898.6 L1340 899.9 L1342 901.3 L1344 902.7 L1346 904 L1348 905.4 L1350 906.7 L1352 908.1 L1354 909.4 L1356 910.6 L1358 911.9 L1360 913.1 L1362 914.3 L1364 915.5 L1366 916.6 L1368 917.7 L1370 918.8 L1372 919.8 L1374 920.8 L1376 921.7 L1378 922.6 L1380 923.5 L1382 924.3 L1384 925.1 L1386 925.9 L1388 926.6 L1390 927.3 L1392 927.9 L1394 928.5 L1396 929.1 L1398 929.6 L1400 930.1 L1402 930.6 L1404 931 L1406 931.5 L1408 931.9 L1410 932.2 L1412 932.6 L1414 932.9 L1416 933.2 L1418 933.4 L1420 933.7 L1422 933.9 L1424 934.1 L1426 934.3 L1428 934.5 L1430 934.7 L1432 934.8 L1434 935 L1436 935.1 L1438 935.2 L1440 935.3 L1442 935.4 L1444 935.5 L1446 935.6 L1448 935.7 L1450 935.7 L1452 935.8 L1454 935.9 L1456 935.9 L1458 935.9 L1460 936 L1462 936 L1464 936.1 L1466 936.1 L1468 936.1 L1470 936.1 L1472 936.2 L1474 936.2 L1476 936.2 L1478 936.2 L1480 936.2 L1482 936.3 L1484 936.3 L1486 936.3 L1488 936.3 L1490 936.3 L1492 936.3 L1494 936.3 L1496 936.3 L1498 936.3 L1500 936.3 L1502 936.4 L1504 936.4 L1506 936.4 L1508 936.4 L1510 936.4 L1512 936.4 L1514 936.4 L1516 936.4 L1518 936.4 L1520 936.4 L1522 936.4 L1524 936.4 L1526 936.4 L1528 936.4 L1530 936.4 L1532 936.4 L1534 936.4 L1536 936.4 L1538 936.4" fill="none" stroke="#2626d6" stroke-width="2.4" stroke-linejoin="round" stroke-linecap="round"/>
<path d="M878 926.1 L880 926.1 L882 926.1 L884 926.2 L886 926.2 L888 926.2 L890 926.2 L892 926.2 L894 926.2 L896 926.2 L898 926.3 L900 926.3 L902 926.3 L904 926.3 L906 926.3 L908 926.3 L910 926.3 L912 926.3 L914 926.3 L916 926.3 L918 926.2 L920 926.2 L922 926.2 L924 926.2 L926 926.2 L928 926.1 L930 926.1 L932 926.1 L934 926 L936 926 L938 925.9 L940 925.9 L942 925.8 L944 925.8 L946 925.7 L948 925.6 L950 925.5 L952 925.4 L954 925.3 L956 925.2 L958 925.1 L960 925 L962 924.9 L964 924.7 L966 924.6 L968 924.4 L970 924.2 L972 924.1 L974 923.9 L976 923.7 L978 923.4 L980 923.2 L982 923 L984 922.7 L986 922.4 L988 922.2 L990 921.9 L992 921.5 L994 921.2 L996 920.9 L998 920.5 L1000 920.1 L1002 919.7 L1004 919.3 L1006 918.9 L1008 918.4 L1010 917.9 L1012 917.5 L1014 916.9 L1016 916.4 L1018 915.9 L1020 915.3 L1022 914.7 L1024 914.1 L1026 913.4 L1028 912.8 L1030 912.1 L1032 911.4 L1034 910.6 L1036 909.9 L1038 909.1 L1040 908.3 L1042 907.5 L1044 906.7 L1046 905.8 L1048 905 L1050 904.1 L1052 903.1 L1054 902.2 L1056 901.2 L1058 900.3 L1060 899.3 L1062 898.3 L1064 897.2 L1066 896.2 L1068 895.1 L1070 894 L1072 893 L1074 891.9 L1076 890.7 L1078 889.6 L1080 888.5 L1082 887.3 L1084 886.2 L1086 885 L1088 883.9 L1090 882.7 L1092 881.6 L1094 880.4 L1096 879.2 L1098 878.1 L1100 876.9 L1102 875.8 L1104 874.7 L1106 873.5 L1108 872.4 L1110 871.3 L1112 870.2 L1114 869.1 L1116 868.1 L1118 867 L1120 866 L1122 865 L1124 864.1 L1126 863.1 L1128 862.2 L1130 861.3 L1132 860.5 L1134 859.6 L1136 858.8 L1138 858.1 L1140 857.4 L1142 856.7 L1144 856 L1146 855.4 L1148 854.9 L1150 854.4 L1152 853.9 L1154 853.5 L1156 853.1 L1158 852.8 L1160 852.5 L1162 852.2 L1164 852 L1166 851.9 L1168 851.8 L1170 851.8 L1172 851.8 L1174 851.9 L1176 852 L1178 852.2 L1180 852.5 L1182 852.9 L1184 853.4 L1186 853.9 L1188 854.5 L1190 855.2 L1192 855.9 L1194 856.7 L1196 857.6 L1198 858.6 L1200 859.6 L1202 860.6 L1204 861.7 L1206 862.9 L1208 864.1 L1210 865.4 L1212 866.7 L1214 868 L1216 869.4 L1218 870.8 L1220 872.2 L1222 873.7 L1224 875.1 L1226 876.6 L1228 878.1 L1230 879.7 L1232 881.2 L1234 882.8 L1236 884.3 L1238 885.9 L1240 887.4 L1242 889 L1244 890.5 L1246 892 L1248 893.5 L1250 895.1 L1252 896.5 L1254 898 L1256 899.5 L1258 900.9 L1260 902.3 L1262 903.7 L1264 905 L1266 906.3 L1268 907.6 L1270 908.9 L1272 910.1 L1274 911.3 L1276 912.5 L1278 913.6 L1280 914.7 L1282 915.7 L1284 916.8 L1286 917.7 L1288 918.7 L1290 919.6 L1292 920.5 L1294 921.3 L1296 922.1 L1298 922.9 L1300 923.7 L1302 924.4 L1304 925 L1306 925.7 L1308 926.3 L1310 926.9 L1312 927.4 L1314 928 L1316 928.5 L1318 929 L1320 929.4 L1322 929.8 L1324 930.3 L1326 930.6 L1328 931 L1330 931.3 L1332 931.7 L1334 932 L1336 932.2 L1338 932.5 L1340 932.8 L1342 933 L1344 933.2 L1346 933.4 L1348 933.6 L1350 933.8 L1352 934 L1354 934.1 L1356 934.3 L1358 934.4 L1360 934.6 L1362 934.7 L1364 934.8 L1366 934.9 L1368 935 L1370 935.1 L1372 935.2 L1374 935.2 L1376 935.3 L1378 935.4 L1380 935.4 L1382 935.5 L1384 935.5 L1386 935.6 L1388 935.6 L1390 935.7 L1392 935.7 L1394 935.7 L1396 935.8 L1398 935.8 L1400 935.8 L1402 935.9 L1404 935.9 L1406 935.9 L1408 935.9 L1410 936 L1412 936 L1414 936 L1416 936 L1418 936 L1420 936 L1422 936.1 L1424 936.1 L1426 936.1 L1428 936.1 L1430 936.1 L1432 936.1 L1434 936.1 L1436 936.1 L1438 936.1 L1440 936.2 L1442 936.2 L1444 936.2 L1446 936.2 L1448 936.2 L1450 936.2 L1452 936.2 L1454 936.2 L1456 936.2 L1458 936.2 L1460 936.2 L1462 936.3 L1464 936.3 L1466 936.3 L1468 936.3 L1470 936.3 L1472 936.3 L1474 936.3 L1476 936.3 L1478 936.3 L1480 936.3 L1482 936.3 L1484 936.3 L1486 936.3 L1488 936.3 L1490 936.3 L1492 936.3 L1494 936.3 L1496 936.4 L1498 936.4 L1500 936.4 L1502 936.4 L1504 936.4 L1506 936.4 L1508 936.4 L1510 936.4 L1512 936.4 L1514 936.4 L1516 936.4 L1518 936.4 L1520 936.4 L1522 936.4 L1524 936.4 L1526 936.4 L1528 936.4 L1530 936.4 L1532 936.4 L1534 936.4 L1536 936.4 L1538 936.4" fill="none" stroke="#e0282e" stroke-width="2.4" stroke-linejoin="round" stroke-linecap="round"/>
<path d="M878 926.2 L880 926.2 L882 926.3 L884 926.3 L886 926.3 L888 926.3 L890 926.4 L892 926.4 L894 926.4 L896 926.5 L898 926.5 L900 926.5 L902 926.5 L904 926.6 L906 926.6 L908 926.6 L910 926.7 L912.1 926.7 L914.1 926.7 L916.1 926.7 L918.1 926.8 L920.1 926.8 L922.1 926.8 L924.1 926.9 L926.1 926.9 L928.1 926.9 L930.1 926.9 L932.1 927 L934.1 927 L936.1 927 L938.1 927.1 L940.1 927.1 L942.1 927.1 L944.1 927.2 L946.1 927.2 L948.1 927.2 L950.1 927.2 L952.1 927.3 L954.1 927.3 L956.1 927.3 L958.1 927.4 L960.1 927.4 L962.1 927.4 L964.1 927.5 L966.1 927.5 L968.1 927.5 L970.1 927.5 L972.1 927.6 L974.1 927.6 L976.1 927.6 L978.2 927.7 L980.2 927.7 L982.2 927.7 L984.2 927.8 L986.2 927.8 L988.2 927.8 L990.2 927.8 L992.2 927.9 L994.2 927.9 L996.2 927.9 L998.2 928 L1000.2 928 L1002.2 928 L1004.2 928.1 L1006.2 928.1 L1008.2 928.1 L1010.2 928.2 L1012.2 928.2 L1014.2 928.2 L1016.2 928.2 L1018.2 928.3 L1020.2 928.3 L1022.2 928.3 L1024.2 928.4 L1026.2 928.4 L1028.2 928.4 L1030.2 928.4 L1032.2 928.5 L1034.2 928.5 L1036.2 928.5 L1038.2 928.6 L1040.2 928.6 L1042.2 928.6 L1044.3 928.6 L1046.3 928.7 L1048.3 928.7 L1050.3 928.7 L1052.3 928.7 L1054.3 928.8 L1056.3 928.8 L1058.3 928.8 L1060.3 928.9 L1062.3 928.9 L1064.3 928.9 L1066.3 928.9 L1068.3 929 L1070.3 929 L1072.3 929 L1074.3 929.1 L1076.3 929.1 L1078.3 929.1 L1080.3 929.1 L1082.3 929.2 L1084.3 929.2 L1086.3 929.2 L1088.3 929.3 L1090.3 929.3 L1092.3 929.3 L1094.3 929.4 L1096.3 929.4 L1098.3 929.4 L1100.3 929.4 L1102.3 929.5 L1104.3 929.5 L1106.3 929.5 L1108.3 929.6 L1110.4 929.6 L1112.4 929.6 L1114.4 929.7 L1116.4 929.7 L1118.4 929.8 L1120.4 929.8 L1122.4 929.8 L1124.4 929.9 L1126.4 929.9 L1128.4 929.9 L1130.4 930 L1132.4 930 L1134.4 930.1 L1136.4 930.1 L1138.4 930.1 L1140.4 930.2 L1142.4 930.2 L1144.4 930.3 L1146.4 930.3 L1148.4 930.3 L1150.4 930.4 L1152.4 930.4 L1154.4 930.5 L1156.4 930.5 L1158.4 930.6 L1160.4 930.6 L1162.4 930.7 L1164.4 930.7 L1166.4 930.8 L1168.4 930.8 L1170.4 930.9 L1172.4 930.9 L1174.4 931 L1176.5 931.1 L1178.5 931.1 L1180.5 931.2 L1182.5 931.3 L1184.5 931.4 L1186.5 931.5 L1188.5 931.5 L1190.5 931.6 L1192.5 931.7 L1194.5 931.8 L1196.5 931.9 L1198.5 932 L1200.5 932.1 L1202.5 932.1 L1204.5 932.2 L1206.5 932.3 L1208.5 932.4 L1210.5 932.5 L1212.5 932.6 L1214.5 932.6 L1216.5 932.7 L1218.5 932.8 L1220.5 932.9 L1222.5 932.9 L1224.5 933 L1226.5 933 L1228.5 933.1 L1230.5 933.2 L1232.5 933.2 L1234.5 933.3 L1236.5 933.4 L1238.5 933.4 L1240.5 933.5 L1242.6 933.6 L1244.6 933.6 L1246.6 933.7 L1248.6 933.7 L1250.6 933.8 L1252.6 933.9 L1254.6 933.9 L1256.6 934 L1258.6 934 L1260.6 934.1 L1262.6 934.2 L1264.6 934.2 L1266.6 934.3 L1268.6 934.3 L1270.6 934.4 L1272.6 934.4 L1274.6 934.5 L1276.6 934.5 L1278.6 934.6 L1280.6 934.6 L1282.6 934.7 L1284.6 934.7 L1286.6 934.8 L1288.6 934.8 L1290.6 934.8 L1292.6 934.9 L1294.6 934.9 L1296.6 934.9 L1298.6 935 L1300.6 935 L1302.6 935 L1304.6 935.1 L1306.6 935.1 L1308.7 935.1 L1310.7 935.2 L1312.7 935.2 L1314.7 935.2 L1316.7 935.2 L1318.7 935.3 L1320.7 935.3 L1322.7 935.3 L1324.7 935.3 L1326.7 935.4 L1328.7 935.4 L1330.7 935.4 L1332.7 935.4 L1334.7 935.5 L1336.7 935.5 L1338.7 935.5 L1340.7 935.5 L1342.7 935.6 L1344.7 935.6 L1346.7 935.6 L1348.7 935.6 L1350.7 935.6 L1352.7 935.7 L1354.7 935.7 L1356.7 935.7 L1358.7 935.7 L1360.7 935.7 L1362.7 935.7 L1364.7 935.8 L1366.7 935.8 L1368.7 935.8 L1370.7 935.8 L1372.7 935.8 L1374.8 935.8 L1376.8 935.9 L1378.8 935.9 L1380.8 935.9 L1382.8 935.9 L1384.8 935.9 L1386.8 935.9 L1388.8 935.9 L1390.8 936 L1392.8 936 L1394.8 936 L1396.8 936 L1398.8 936 L1400.8 936 L1402.8 936 L1404.8 936 L1406.8 936 L1408.8 936 L1410.8 936 L1412.8 936.1 L1414.8 936.1 L1416.8 936.1 L1418.8 936.1 L1420.8 936.1 L1422.8 936.1 L1424.8 936.1 L1426.8 936.1 L1428.8 936.1 L1430.8 936.1 L1432.8 936.1 L1434.8 936.2 L1436.8 936.2 L1438.8 936.2 L1440.9 936.2 L1442.9 936.2 L1444.9 936.2 L1446.9 936.2 L1448.9 936.2 L1450.9 936.2 L1452.9 936.2 L1454.9 936.2 L1456.9 936.2 L1458.9 936.2 L1460.9 936.3 L1462.9 936.3 L1464.9 936.3 L1466.9 936.3 L1468.9 936.3 L1470.9 936.3 L1472.9 936.3 L1474.9 936.3 L1476.9 936.3 L1478.9 936.3 L1480.9 936.3 L1482.9 936.3 L1484.9 936.3 L1486.9 936.3 L1488.9 936.3 L1490.9 936.3 L1492.9 936.3 L1494.9 936.3 L1496.9 936.4 L1498.9 936.4 L1500.9 936.4 L1502.9 936.4 L1504.9 936.4 L1507 936.4 L1509 936.4 L1511 936.4 L1513 936.4 L1515 936.4 L1517 936.4 L1519 936.4 L1521 936.4 L1523 936.4 L1525 936.4 L1527 936.4 L1529 936.4 L1531 936.4 L1533 936.4 L1535 936.4 L1537 936.4 L1539 936.4" fill="none" stroke="#e02ee0" stroke-width="2.4" stroke-linejoin="round" stroke-linecap="round"/>
<path d="M878 923.9 L880 923.9 L882 923.9 L884 923.9 L886 923.8 L888 923.8 L890 923.8 L892 923.8 L894 923.7 L896 923.7 L898 923.7 L900 923.7 L902 923.6 L904 923.6 L906 923.6 L908 923.5 L910 923.5 L912 923.4 L914 923.4 L916 923.3 L918 923.3 L920 923.2 L922 923.2 L924 923.1 L926 923 L928 922.9 L930 922.9 L932 922.8 L934 922.7 L936 922.6 L938 922.5 L940 922.4 L942 922.3 L944 922.2 L946 922.1 L948 922 L950 921.9 L952 921.7 L954 921.6 L956 921.5 L958 921.3 L960 921.2 L962 921 L964 920.9 L966 920.7 L968 920.5 L970 920.3 L972 920.2 L974 920 L976 919.8 L978 919.5 L980 919.3 L982 919.1 L984 918.9 L986 918.6 L988 918.4 L990 918.1 L992 917.8 L994 917.5 L996 917.2 L998 916.9 L1000 916.6 L1002 916.2 L1004 915.8 L1006 915.5 L1008 915 L1010 914.6 L1012 914.1 L1014 913.7 L1016 913.1 L1018 912.6 L1020 912.1 L1022 911.5 L1024 910.8 L1026 910.2 L1028 909.5 L1030 908.8 L1032 908.1 L1034 907.3 L1036 906.5 L1038 905.6 L1040 904.8 L1042 903.9 L1044 902.9 L1046 901.9 L1048 900.9 L1050 899.8 L1052 898.7 L1054 897.5 L1056 896.4 L1058 895.2 L1060 893.9 L1062 892.7 L1064 891.4 L1066 890.1 L1068 888.8 L1070 887.5 L1072 886.1 L1074 884.8 L1076 883.4 L1078 882.1 L1080 880.7 L1082 879.3 L1084 878 L1086 876.6 L1088 875.3 L1090 873.9 L1092 872.6 L1094 871.3 L1096 870 L1098 868.7 L1100 867.4 L1102 866.1 L1104 864.9 L1106 863.7 L1108 862.4 L1110 861.2 L1112 860.1 L1114 858.9 L1116 857.8 L1118 856.7 L1120 855.6 L1122 854.5 L1124 853.4 L1126 852.4 L1128 851.4 L1130 850.4 L1132 849.4 L1134 848.5 L1136 847.5 L1138 846.6 L1140 845.8 L1142 844.9 L1144 844.1 L1146 843.3 L1148 842.5 L1150 841.8 L1152 841.1 L1154 840.4 L1156 839.8 L1158 839.1 L1160 838.6 L1162 838 L1164 837.5 L1166 837 L1168 836.5 L1170 836.1 L1172 835.7 L1174 835.3 L1176 835 L1178 834.7 L1180 834.5 L1182 834.2 L1184 834 L1186 833.9 L1188 833.8 L1190 833.7 L1192 833.6 L1194 833.6 L1196 833.6 L1198 833.7 L1200 833.8 L1202 833.9 L1204 834 L1206 834.2 L1208 834.3 L1210 834.6 L1212 834.8 L1214 835.1 L1216 835.4 L1218 835.7 L1220 836 L1222 836.4 L1224 836.8 L1226 837.2 L1228 837.6 L1230 838.1 L1232 838.5 L1234 839 L1236 839.5 L1238 840.1 L1240 840.6 L1242 841.2 L1244 841.8 L1246 842.4 L1248 843.1 L1250 843.7 L1252 844.4 L1254 845.1 L1256 845.9 L1258 846.7 L1260 847.5 L1262 848.3 L1264 849.2 L1266 850.1 L1268 851 L1270 851.9 L1272 852.9 L1274 853.9 L1276 855 L1278 856.1 L1280 857.2 L1282 858.3 L1284 859.5 L1286 860.8 L1288 862 L1290 863.3 L1292 864.6 L1294 866 L1296 867.4 L1298 868.8 L1300 870.2 L1302 871.7 L1304 873.2 L1306 874.7 L1308 876.2 L1310 877.7 L1312 879.2 L1314 880.8 L1316 882.3 L1318 883.9 L1320 885.4 L1322 887 L1324 888.5 L1326 890 L1328 891.6 L1330 893.1 L1332 894.6 L1334 896.1 L1336 897.6 L1338 899 L1340 900.5 L1342 901.9 L1344 903.3 L1346 904.7 L1348 906 L1350 907.4 L1352 908.6 L1354 909.9 L1356 911.1 L1358 912.3 L1360 913.5 L1362 914.6 L1364 915.7 L1366 916.7 L1368 917.7 L1370 918.7 L1372 919.6 L1374 920.5 L1376 921.3 L1378 922.2 L1380 922.9 L1382 923.7 L1384 924.4 L1386 925.1 L1388 925.8 L1390 926.4 L1392 927 L1394 927.6 L1396 928.1 L1398 928.7 L1400 929.2 L1402 929.6 L1404 930.1 L1406 930.5 L1408 930.9 L1410 931.3 L1412 931.6 L1414 932 L1416 932.3 L1418 932.6 L1420 932.9 L1422 933.1 L1424 933.4 L1426 933.6 L1428 933.8 L1430 934 L1432 934.2 L1434 934.3 L1436 934.5 L1438 934.6 L1440 934.7 L1442 934.8 L1444 934.9 L1446 935 L1448 935.1 L1450 935.1 L1452 935.2 L1454 935.2 L1456 935.3 L1458 935.3 L1460 935.3 L1462 935.3 L1464 935.3 L1466 935.3 L1468 935.3 L1470 935.3 L1472 935.3 L1474 935.3 L1476 935.3 L1478 935.3 L1480 935.2 L1482 935.2 L1484 935.2 L1486 935.2 L1488 935.2 L1490 935.2 L1492 935.1 L1494 935.1 L1496 935.1 L1498 935.1 L1500 935.1 L1502 935.1 L1504 935.1 L1506 935.2 L1508 935.2 L1510 935.2 L1512 935.3 L1514 935.3 L1516 935.4 L1518 935.4 L1520 935.5 L1522 935.6 L1524 935.7 L1526 935.8 L1528 936 L1530 936.1 L1532 936.3 L1534 936.5 L1536 936.6 L1538 936.8" fill="none" stroke="#151515" stroke-width="2.8" stroke-linejoin="round" stroke-linecap="round"/>
<path d="M878 923.9 L880 923.9 L882 923.9 L884 923.9 L886 923.8 L888 923.8 L890 923.8 L892 923.8 L894 923.7 L896 923.7 L898 923.7 L900 923.7 L902 923.6 L904 923.6 L906 923.6 L908 923.5 L910 923.5 L912 923.4 L914 923.4 L916 923.3 L918 923.3 L920 923.2 L922 923.2 L924 923.1 L926 923 L928 922.9 L930 922.9 L932 922.8 L934 922.7 L936 922.6 L938 922.5 L940 922.4 L942 922.3 L944 922.2 L946 922.1 L948 922 L950 921.9 L952 921.7 L954 921.6 L956 921.5 L958 921.3 L960 921.2 L962 921 L964 920.9 L966 920.7 L968 920.5 L970 920.3 L972 920.2 L974 920 L976 919.8 L978 919.5 L980 919.3 L982 919.1 L984 918.9 L986 918.6 L988 918.4 L990 918.1 L992 917.8 L994 917.5 L996 917.2 L998 916.9 L1000 916.6 L1002 916.2 L1004 915.8 L1006 915.5 L1008 915 L1010 914.6 L1012 914.1 L1014 913.7 L1016 913.1 L1018 912.6 L1020 912.1 L1022 911.5 L1024 910.8 L1026 910.2 L1028 909.5 L1030 908.8 L1032 908.1 L1034 907.3 L1036 906.5 L1038 905.6 L1040 904.8 L1042 903.9 L1044 902.9 L1046 901.9 L1048 900.9 L1050 899.8 L1052 898.7 L1054 897.5 L1056 896.4 L1058 895.2 L1060 893.9 L1062 892.7 L1064 891.4 L1066 890.1 L1068 888.8 L1070 887.5 L1072 886.1 L1074 884.8 L1076 883.4 L1078 882.1 L1080 880.7 L1082 879.3 L1084 878 L1086 876.6 L1088 875.3 L1090 873.9 L1092 872.6 L1094 871.3 L1096 870 L1098 868.7 L1100 867.4 L1102 866.1 L1104 864.9 L1106 863.7 L1108 862.4 L1110 861.2 L1112 860.1 L1114 858.9 L1116 857.8 L1118 856.7 L1120 855.6 L1122 854.5 L1124 853.4 L1126 852.4 L1128 851.4 L1130 850.4 L1132 849.4 L1134 848.5 L1136 847.5 L1138 846.6 L1140 845.8 L1142 844.9 L1144 844.1 L1146 843.3 L1148 842.5 L1150 841.8 L1152 841.1 L1154 840.4 L1156 839.8 L1158 839.1 L1160 838.6 L1162 838 L1164 837.5 L1166 837 L1168 836.5 L1170 836.1 L1172 835.7 L1174 835.3 L1176 835 L1178 834.7 L1180 834.5 L1182 834.2 L1184 834 L1186 833.9 L1188 833.8 L1190 833.7 L1192 833.6 L1194 833.6 L1196 833.6 L1198 833.7 L1200 833.8 L1202 833.9 L1204 834 L1206 834.2 L1208 834.3 L1210 834.6 L1212 834.8 L1214 835.1 L1216 835.4 L1218 835.7 L1220 836 L1222 836.4 L1224 836.8 L1226 837.2 L1228 837.6 L1230 838.1 L1232 838.5 L1234 839 L1236 839.5 L1238 840.1 L1240 840.6 L1242 841.2 L1244 841.8 L1246 842.4 L1248 843.1 L1250 843.7 L1252 844.4 L1254 845.1 L1256 845.9 L1258 846.7 L1260 847.5 L1262 848.3 L1264 849.2 L1266 850.1 L1268 851 L1270 851.9 L1272 852.9 L1274 853.9 L1276 855 L1278 856.1 L1280 857.2 L1282 858.3 L1284 859.5 L1286 860.8 L1288 862 L1290 863.3 L1292 864.6 L1294 866 L1296 867.4 L1298 868.8 L1300 870.2 L1302 871.7 L1304 873.2 L1306 874.7 L1308 876.2 L1310 877.7 L1312 879.2 L1314 880.8 L1316 882.3 L1318 883.9 L1320 885.4 L1322 887 L1324 888.5 L1326 890 L1328 891.6 L1330 893.1 L1332 894.6 L1334 896.1 L1336 897.6 L1338 899 L1340 900.5 L1342 901.9 L1344 903.3 L1346 904.7 L1348 906 L1350 907.4 L1352 908.6 L1354 909.9 L1356 911.1 L1358 912.3 L1360 913.5 L1362 914.6 L1364 915.7 L1366 916.7 L1368 917.7 L1370 918.7 L1372 919.6 L1374 920.5 L1376 921.3 L1378 922.2 L1380 922.9 L1382 923.7 L1384 924.4 L1386 925.1 L1388 925.8 L1390 926.4 L1392 927 L1394 927.6 L1396 928.1 L1398 928.7 L1400 929.2 L1402 929.6 L1404 930.1 L1406 930.5 L1408 930.9 L1410 931.3 L1412 931.6 L1414 932 L1416 932.3 L1418 932.6 L1420 932.9 L1422 933.1 L1424 933.4 L1426 933.6 L1428 933.8 L1430 934 L1432 934.2 L1434 934.3 L1436 934.5 L1438 934.6 L1440 934.7 L1442 934.8 L1444 934.9 L1446 935 L1448 935.1 L1450 935.1 L1452 935.2 L1454 935.2 L1456 935.3 L1458 935.3 L1460 935.3 L1462 935.3 L1464 935.3 L1466 935.3 L1468 935.3 L1470 935.3 L1472 935.3 L1474 935.3 L1476 935.3 L1478 935.3 L1480 935.2 L1482 935.2 L1484 935.2 L1486 935.2 L1488 935.2 L1490 935.2 L1492 935.1 L1494 935.1 L1496 935.1 L1498 935.1 L1500 935.1 L1502 935.1 L1504 935.1 L1506 935.2 L1508 935.2 L1510 935.2 L1512 935.3 L1514 935.3 L1516 935.4 L1518 935.4 L1520 935.5 L1522 935.6 L1524 935.7 L1526 935.8 L1528 936 L1530 936.1 L1532 936.3 L1534 936.5 L1536 936.6 L1538 936.8" fill="none" stroke="#23862a" stroke-width="2.2" stroke-linejoin="round" stroke-linecap="round"/>
<path d="M878 1040.9 L880 1040.9 L882 1041 L884 1041 L886 1041 L888 1041 L890 1041 L892 1041 L894 1041 L896 1041 L898 1041 L900 1041.1 L902 1041.1 L904 1041.1 L906 1041.1 L908 1041.1 L910 1041.1 L912 1041.1 L914 1041 L916 1041 L918 1041 L920 1041 L922 1041 L924 1041 L926 1040.9 L928 1040.9 L930 1040.9 L932 1040.9 L934 1040.8 L936 1040.8 L938 1040.7 L940 1040.7 L942 1040.6 L944 1040.5 L946 1040.5 L948 1040.4 L950 1040.3 L952 1040.2 L954 1040.1 L956 1040 L958 1039.9 L960 1039.8 L962 1039.6 L964 1039.5 L966 1039.3 L968 1039.2 L970 1039 L972 1038.8 L974 1038.6 L976 1038.4 L978 1038.2 L980 1037.9 L982 1037.7 L984 1037.4 L986 1037.1 L988 1036.8 L990 1036.5 L992 1036.2 L994 1035.9 L996 1035.5 L998 1035.1 L1000 1034.7 L1002 1034.3 L1004 1033.9 L1006 1033.4 L1008 1033 L1010 1032.5 L1012 1032 L1014 1031.4 L1016 1030.9 L1018 1030.3 L1020 1029.7 L1022 1029.1 L1024 1028.5 L1026 1027.8 L1028 1027.2 L1030 1026.5 L1032 1025.8 L1034 1025 L1036 1024.3 L1038 1023.5 L1040 1022.7 L1042 1021.9 L1044 1021.1 L1046 1020.3 L1048 1019.4 L1050 1018.5 L1052 1017.6 L1054 1016.7 L1056 1015.8 L1058 1014.9 L1060 1013.9 L1062 1013 L1064 1012 L1066 1011.1 L1068 1010.1 L1070 1009.1 L1072 1008.1 L1074 1007.1 L1076 1006.1 L1078 1005.1 L1080 1004.1 L1082 1003.2 L1084 1002.2 L1086 1001.2 L1088 1000.2 L1090 999.3 L1092 998.3 L1094 997.4 L1096 996.5 L1098 995.6 L1100 994.7 L1102 993.8 L1104 993 L1106 992.2 L1108 991.4 L1110 990.6 L1112 989.9 L1114 989.2 L1116 988.5 L1118 987.8 L1120 987.2 L1122 986.7 L1124 986.1 L1126 985.6 L1128 985.2 L1130 984.7 L1132 984.4 L1134 984 L1136 983.7 L1138 983.5 L1140 983.3 L1142 983.1 L1144 983 L1146 982.9 L1148 982.9 L1150 982.9 L1152 983 L1154 983.2 L1156 983.4 L1158 983.7 L1160 984 L1162 984.5 L1164 985 L1166 985.5 L1168 986.2 L1170 986.9 L1172 987.6 L1174 988.4 L1176 989.3 L1178 990.2 L1180 991.2 L1182 992.3 L1184 993.3 L1186 994.5 L1188 995.6 L1190 996.8 L1192 998 L1194 999.3 L1196 1000.5 L1198 1001.8 L1200 1003.2 L1202 1004.5 L1204 1005.8 L1206 1007.1 L1208 1008.5 L1210 1009.8 L1212 1011.2 L1214 1012.5 L1216 1013.8 L1218 1015.1 L1220 1016.4 L1222 1017.7 L1224 1019 L1226 1020.2 L1228 1021.4 L1230 1022.6 L1232 1023.8 L1234 1024.9 L1236 1026 L1238 1027.1 L1240 1028.1 L1242 1029.2 L1244 1030.2 L1246 1031.1 L1248 1032.1 L1250 1033 L1252 1033.8 L1254 1034.7 L1256 1035.5 L1258 1036.2 L1260 1037 L1262 1037.7 L1264 1038.4 L1266 1039 L1268 1039.6 L1270 1040.2 L1272 1040.8 L1274 1041.3 L1276 1041.8 L1278 1042.3 L1280 1042.8 L1282 1043.2 L1284 1043.6 L1286 1044 L1288 1044.4 L1290 1044.8 L1292 1045.1 L1294 1045.4 L1296 1045.7 L1298 1046 L1300 1046.3 L1302 1046.6 L1304 1046.8 L1306 1047 L1308 1047.3 L1310 1047.5 L1312 1047.7 L1314 1047.9 L1316 1048 L1318 1048.2 L1320 1048.4 L1322 1048.5 L1324 1048.7 L1326 1048.8 L1328 1048.9 L1330 1049 L1332 1049.2 L1334 1049.3 L1336 1049.4 L1338 1049.5 L1340 1049.6 L1342 1049.7 L1344 1049.8 L1346 1049.9 L1348 1049.9 L1350 1050 L1352 1050.1 L1354 1050.2 L1356 1050.2 L1358 1050.3 L1360 1050.4 L1362 1050.4 L1364 1050.5 L1366 1050.6 L1368 1050.6 L1370 1050.7 L1372 1050.7 L1374 1050.8 L1376 1050.8 L1378 1050.9 L1380 1050.9 L1382 1050.9 L1384 1051 L1386 1051 L1388 1051 L1390 1051.1 L1392 1051.1 L1394 1051.1 L1396 1051.2 L1398 1051.2 L1400 1051.2 L1402 1051.2 L1404 1051.2 L1406 1051.2 L1408 1051.3 L1410 1051.3 L1412 1051.3 L1414 1051.3 L1416 1051.3 L1418 1051.3 L1420 1051.4 L1422 1051.4 L1424 1051.4 L1426 1051.4 L1428 1051.4 L1430 1051.4 L1432 1051.5 L1434 1051.5 L1436 1051.5 L1438 1051.5 L1440 1051.5 L1442 1051.5 L1444 1051.5 L1446 1051.6 L1448 1051.6 L1450 1051.6 L1452 1051.6 L1454 1051.6 L1456 1051.6 L1458 1051.6 L1460 1051.6 L1462 1051.7 L1464 1051.7 L1466 1051.7 L1468 1051.7 L1470 1051.7 L1472 1051.7 L1474 1051.7 L1476 1051.7 L1478 1051.7 L1480 1051.8 L1482 1051.8 L1484 1051.8 L1486 1051.8 L1488 1051.8 L1490 1051.8 L1492 1051.8 L1494 1051.8 L1496 1051.8 L1498 1051.8 L1500 1051.8 L1502 1051.8 L1504 1051.8 L1506 1051.9 L1508 1051.9 L1510 1051.9 L1512 1051.9 L1514 1051.9 L1516 1051.9 L1518 1051.9 L1520 1051.9 L1522 1051.9 L1524 1051.9 L1526 1051.9 L1528 1051.9 L1530 1051.9 L1532 1051.9 L1534 1051.9 L1536 1051.9 L1538 1051.9" fill="none" stroke="#e0282e" stroke-width="2.4" stroke-linejoin="round" stroke-linecap="round"/>
<path d="M878 1041 L880 1041 L882 1041 L884 1041.1 L886 1041.1 L888 1041.1 L890 1041.1 L892 1041.2 L894 1041.2 L896 1041.2 L898 1041.2 L900 1041.2 L902 1041.3 L904 1041.3 L906 1041.3 L908 1041.3 L910 1041.4 L912 1041.4 L914 1041.4 L916 1041.4 L918 1041.5 L920 1041.5 L922 1041.5 L924 1041.5 L926 1041.6 L928 1041.6 L930 1041.6 L932 1041.6 L934 1041.6 L936 1041.7 L938 1041.7 L940 1041.7 L942 1041.7 L944 1041.8 L946 1041.8 L948 1041.8 L950 1041.8 L952 1041.9 L954 1041.9 L956 1041.9 L958 1041.9 L960 1042 L962 1042 L964 1042 L966 1042 L968 1042.1 L970 1042.1 L972 1042.1 L974 1042.1 L976 1042.2 L978 1042.2 L980 1042.2 L982 1042.2 L984 1042.3 L986 1042.3 L988 1042.3 L990 1042.3 L992 1042.4 L994 1042.4 L996 1042.4 L998 1042.4 L1000 1042.4 L1002 1042.5 L1004 1042.5 L1006 1042.5 L1008 1042.5 L1010 1042.5 L1012 1042.6 L1014 1042.6 L1016 1042.6 L1018 1042.6 L1020 1042.6 L1022 1042.6 L1024 1042.6 L1026 1042.6 L1028 1042.6 L1030 1042.6 L1032 1042.6 L1034 1042.6 L1036 1042.6 L1038 1042.6 L1040 1042.6 L1042 1042.5 L1044 1042.5 L1046 1042.5 L1048 1042.5 L1050 1042.4 L1052 1042.4 L1054 1042.3 L1056 1042.3 L1058 1042.2 L1060 1042.1 L1062 1042.1 L1064 1042 L1066 1041.9 L1068 1041.8 L1070 1041.7 L1072 1041.5 L1074 1041.4 L1076 1041.3 L1078 1041.1 L1080 1041 L1082 1040.8 L1084 1040.6 L1086 1040.4 L1088 1040.2 L1090 1039.9 L1092 1039.7 L1094 1039.4 L1096 1039.1 L1098 1038.8 L1100 1038.5 L1102 1038.1 L1104 1037.8 L1106 1037.4 L1108 1037 L1110 1036.6 L1112 1036.1 L1114 1035.6 L1116 1035.1 L1118 1034.6 L1120 1034.1 L1122 1033.5 L1124 1032.9 L1126 1032.3 L1128 1031.6 L1130 1031 L1132 1030.3 L1134 1029.5 L1136 1028.8 L1138 1028 L1140 1027.2 L1142 1026.3 L1144 1025.5 L1146 1024.6 L1148 1023.7 L1150 1022.7 L1152 1021.8 L1154 1020.8 L1156 1019.8 L1158 1018.8 L1160 1017.7 L1162 1016.6 L1164 1015.6 L1166 1014.5 L1168 1013.3 L1170 1012.2 L1172 1011.1 L1174 1010 L1176 1008.8 L1178 1007.7 L1180 1006.5 L1182 1005.4 L1184 1004.3 L1186 1003.1 L1188 1002 L1190 1000.9 L1192 999.8 L1194 998.7 L1196 997.6 L1198 996.5 L1200 995.5 L1202 994.4 L1204 993.4 L1206 992.5 L1208 991.5 L1210 990.6 L1212 989.7 L1214 988.9 L1216 988 L1218 987.3 L1220 986.5 L1222 985.8 L1224 985.2 L1226 984.6 L1228 984 L1230 983.5 L1232 983 L1234 982.6 L1236 982.3 L1238 982 L1240 981.8 L1242 981.6 L1244 981.5 L1246 981.5 L1248 981.5 L1250 981.5 L1252 981.7 L1254 981.9 L1256 982.2 L1258 982.6 L1260 983.1 L1262 983.6 L1264 984.2 L1266 984.8 L1268 985.6 L1270 986.4 L1272 987.2 L1274 988.1 L1276 989.1 L1278 990.1 L1280 991.2 L1282 992.3 L1284 993.5 L1286 994.7 L1288 995.9 L1290 997.2 L1292 998.5 L1294 999.8 L1296 1001.2 L1298 1002.6 L1300 1004 L1302 1005.4 L1304 1006.8 L1306 1008.2 L1308 1009.6 L1310 1011 L1312 1012.5 L1314 1013.9 L1316 1015.3 L1318 1016.6 L1320 1018 L1322 1019.4 L1324 1020.7 L1326 1022 L1328 1023.3 L1330 1024.5 L1332 1025.8 L1334 1027 L1336 1028.2 L1338 1029.3 L1340 1030.4 L1342 1031.5 L1344 1032.5 L1346 1033.5 L1348 1034.5 L1350 1035.5 L1352 1036.4 L1354 1037.2 L1356 1038.1 L1358 1038.9 L1360 1039.6 L1362 1040.4 L1364 1041.1 L1366 1041.7 L1368 1042.4 L1370 1043 L1372 1043.6 L1374 1044.1 L1376 1044.6 L1378 1045.1 L1380 1045.6 L1382 1046 L1384 1046.4 L1386 1046.8 L1388 1047.1 L1390 1047.5 L1392 1047.8 L1394 1048.1 L1396 1048.4 L1398 1048.6 L1400 1048.8 L1402 1049.1 L1404 1049.3 L1406 1049.4 L1408 1049.6 L1410 1049.8 L1412 1049.9 L1414 1050.1 L1416 1050.2 L1418 1050.3 L1420 1050.4 L1422 1050.5 L1424 1050.6 L1426 1050.7 L1428 1050.8 L1430 1050.9 L1432 1051 L1434 1051 L1436 1051.1 L1438 1051.1 L1440 1051.2 L1442 1051.2 L1444 1051.3 L1446 1051.3 L1448 1051.4 L1450 1051.4 L1452 1051.4 L1454 1051.5 L1456 1051.5 L1458 1051.5 L1460 1051.5 L1462 1051.6 L1464 1051.6 L1466 1051.6 L1468 1051.6 L1470 1051.6 L1472 1051.7 L1474 1051.7 L1476 1051.7 L1478 1051.7 L1480 1051.7 L1482 1051.7 L1484 1051.7 L1486 1051.8 L1488 1051.8 L1490 1051.8 L1492 1051.8 L1494 1051.8 L1496 1051.8 L1498 1051.8 L1500 1051.8 L1502 1051.8 L1504 1051.8 L1506 1051.8 L1508 1051.9 L1510 1051.9 L1512 1051.9 L1514 1051.9 L1516 1051.9 L1518 1051.9 L1520 1051.9 L1522 1051.9 L1524 1051.9 L1526 1051.9 L1528 1051.9 L1530 1051.9 L1532 1051.9 L1534 1051.9 L1536 1051.9 L1538 1051.9" fill="none" stroke="#e02ee0" stroke-width="2.4" stroke-linejoin="round" stroke-linecap="round"/>
<path d="M878 1041 L880 1041 L882 1041 L884 1041.1 L886 1041.1 L888 1041.1 L890 1041.1 L892 1041.2 L894 1041.2 L896 1041.2 L898 1041.2 L900 1041.2 L902 1041.3 L904 1041.3 L906 1041.3 L908 1041.3 L910 1041.4 L912 1041.4 L914 1041.4 L916 1041.4 L918 1041.5 L920 1041.5 L922 1041.5 L924 1041.5 L926 1041.6 L928 1041.6 L930 1041.6 L932 1041.6 L934 1041.7 L936 1041.7 L938 1041.7 L940 1041.7 L942 1041.7 L944 1041.8 L946 1041.8 L948 1041.8 L950 1041.8 L952 1041.9 L954 1041.9 L956 1041.9 L958 1041.9 L960 1042 L962 1042 L964 1042 L966 1042.1 L968 1042.1 L970 1042.1 L972 1042.1 L974 1042.2 L976 1042.2 L978 1042.2 L980 1042.2 L982 1042.3 L984 1042.3 L986 1042.3 L988 1042.3 L990 1042.4 L992 1042.4 L994 1042.4 L996 1042.4 L998 1042.5 L1000 1042.5 L1002 1042.5 L1004 1042.6 L1006 1042.6 L1008 1042.6 L1010 1042.6 L1012 1042.7 L1014 1042.7 L1016 1042.7 L1018 1042.7 L1020 1042.8 L1022 1042.8 L1024 1042.8 L1026 1042.8 L1028 1042.9 L1030 1042.9 L1032 1042.9 L1034 1042.9 L1036 1043 L1038 1043 L1040 1043 L1042 1043 L1044 1043.1 L1046 1043.1 L1048 1043.1 L1050 1043.1 L1052 1043.2 L1054 1043.2 L1056 1043.2 L1058 1043.2 L1060 1043.3 L1062 1043.3 L1064 1043.3 L1066 1043.3 L1068 1043.4 L1070 1043.4 L1072 1043.4 L1074 1043.4 L1076 1043.5 L1078 1043.5 L1080 1043.5 L1082 1043.6 L1084 1043.6 L1086 1043.6 L1088 1043.6 L1090 1043.7 L1092 1043.7 L1094 1043.7 L1096 1043.7 L1098 1043.8 L1100 1043.8 L1102 1043.8 L1104 1043.9 L1106 1043.9 L1108 1043.9 L1110 1044 L1112 1044 L1114 1044 L1116 1044.1 L1118 1044.1 L1120 1044.1 L1122 1044.2 L1124 1044.2 L1126 1044.2 L1128 1044.3 L1130 1044.3 L1132 1044.3 L1134 1044.4 L1136 1044.4 L1138 1044.4 L1140 1044.5 L1142 1044.5 L1144 1044.6 L1146 1044.6 L1148 1044.6 L1150 1044.7 L1152 1044.7 L1154 1044.7 L1156 1044.8 L1158 1044.8 L1160 1044.9 L1162 1044.9 L1164 1044.9 L1166 1045 L1168 1045 L1170 1045 L1172 1045.1 L1174 1045.1 L1176 1045.2 L1178 1045.2 L1180 1045.3 L1182 1045.3 L1184 1045.3 L1186 1045.4 L1188 1045.4 L1190 1045.4 L1192 1045.4 L1194 1045.5 L1196 1045.4 L1198 1045.4 L1200 1045.4 L1202 1045.4 L1204 1045.3 L1206 1045.2 L1208 1045.2 L1210 1045 L1212 1044.9 L1214 1044.8 L1216 1044.6 L1218 1044.4 L1220 1044.1 L1222 1043.9 L1224 1043.6 L1226 1043.3 L1228 1042.9 L1230 1042.5 L1232 1042.1 L1234 1041.6 L1236 1041.1 L1238 1040.6 L1240 1040 L1242 1039.4 L1244 1038.7 L1246 1038 L1248 1037.3 L1250 1036.5 L1252 1035.7 L1254 1034.9 L1256 1034 L1258 1033.1 L1260 1032.1 L1262 1031.2 L1264 1030.2 L1266 1029.1 L1268 1028.1 L1270 1027 L1272 1025.9 L1274 1024.9 L1276 1023.8 L1278 1022.7 L1280 1021.6 L1282 1020.5 L1284 1019.4 L1286 1018.4 L1288 1017.3 L1290 1016.4 L1292 1015.4 L1294 1014.5 L1296 1013.6 L1298 1012.8 L1300 1012 L1302 1011.3 L1304 1010.6 L1306 1010.1 L1308 1009.6 L1310 1009.1 L1312 1008.8 L1314 1008.5 L1316 1008.3 L1318 1008.2 L1320 1008.2 L1322 1008.2 L1324 1008.4 L1326 1008.7 L1328 1009.1 L1330 1009.6 L1332 1010.2 L1334 1010.9 L1336 1011.7 L1338 1012.6 L1340 1013.5 L1342 1014.6 L1344 1015.7 L1346 1016.8 L1348 1018 L1350 1019.3 L1352 1020.6 L1354 1021.9 L1356 1023.2 L1358 1024.6 L1360 1025.9 L1362 1027.3 L1364 1028.6 L1366 1029.9 L1368 1031.2 L1370 1032.5 L1372 1033.7 L1374 1034.9 L1376 1036.1 L1378 1037.2 L1380 1038.3 L1382 1039.3 L1384 1040.3 L1386 1041.2 L1388 1042.1 L1390 1042.9 L1392 1043.7 L1394 1044.4 L1396 1045.1 L1398 1045.7 L1400 1046.2 L1402 1046.8 L1404 1047.3 L1406 1047.7 L1408 1048.1 L1410 1048.5 L1412 1048.8 L1414 1049.1 L1416 1049.4 L1418 1049.7 L1420 1049.9 L1422 1050.1 L1424 1050.3 L1426 1050.4 L1428 1050.6 L1430 1050.7 L1432 1050.8 L1434 1050.9 L1436 1051 L1438 1051.1 L1440 1051.2 L1442 1051.2 L1444 1051.3 L1446 1051.3 L1448 1051.4 L1450 1051.4 L1452 1051.5 L1454 1051.5 L1456 1051.5 L1458 1051.6 L1460 1051.6 L1462 1051.6 L1464 1051.6 L1466 1051.6 L1468 1051.7 L1470 1051.7 L1472 1051.7 L1474 1051.7 L1476 1051.7 L1478 1051.7 L1480 1051.7 L1482 1051.8 L1484 1051.8 L1486 1051.8 L1488 1051.8 L1490 1051.8 L1492 1051.8 L1494 1051.8 L1496 1051.8 L1498 1051.8 L1500 1051.8 L1502 1051.8 L1504 1051.8 L1506 1051.9 L1508 1051.9 L1510 1051.9 L1512 1051.9 L1514 1051.9 L1516 1051.9 L1518 1051.9 L1520 1051.9 L1522 1051.9 L1524 1051.9 L1526 1051.9 L1528 1051.9 L1530 1051.9 L1532 1051.9 L1534 1051.9 L1536 1051.9 L1538 1051.9" fill="none" stroke="#2626d6" stroke-width="2.4" stroke-linejoin="round" stroke-linecap="round"/>
<path d="M878 1041 L880 1041 L882 1041 L884 1041.1 L886 1041.1 L888 1041.1 L890 1041.1 L892 1041.2 L894 1041.2 L896 1041.2 L898 1041.2 L900 1041.2 L902 1041.3 L904 1041.3 L906 1041.3 L908 1041.3 L910 1041.4 L912.1 1041.4 L914.1 1041.4 L916.1 1041.4 L918.1 1041.5 L920.1 1041.5 L922.1 1041.5 L924.1 1041.5 L926.1 1041.6 L928.1 1041.6 L930.1 1041.6 L932.1 1041.6 L934.1 1041.7 L936.1 1041.7 L938.1 1041.7 L940.1 1041.7 L942.1 1041.8 L944.1 1041.8 L946.1 1041.8 L948.1 1041.8 L950.1 1041.8 L952.1 1041.9 L954.1 1041.9 L956.1 1041.9 L958.1 1042 L960.1 1042 L962.1 1042 L964.1 1042 L966.1 1042.1 L968.1 1042.1 L970.1 1042.1 L972.1 1042.1 L974.1 1042.2 L976.1 1042.2 L978.2 1042.2 L980.2 1042.2 L982.2 1042.3 L984.2 1042.3 L986.2 1042.3 L988.2 1042.3 L990.2 1042.4 L992.2 1042.4 L994.2 1042.4 L996.2 1042.4 L998.2 1042.5 L1000.2 1042.5 L1002.2 1042.5 L1004.2 1042.6 L1006.2 1042.6 L1008.2 1042.6 L1010.2 1042.6 L1012.2 1042.7 L1014.2 1042.7 L1016.2 1042.7 L1018.2 1042.7 L1020.2 1042.8 L1022.2 1042.8 L1024.2 1042.8 L1026.2 1042.8 L1028.2 1042.9 L1030.2 1042.9 L1032.2 1042.9 L1034.2 1042.9 L1036.2 1043 L1038.2 1043 L1040.2 1043 L1042.2 1043 L1044.3 1043.1 L1046.3 1043.1 L1048.3 1043.1 L1050.3 1043.1 L1052.3 1043.2 L1054.3 1043.2 L1056.3 1043.2 L1058.3 1043.2 L1060.3 1043.3 L1062.3 1043.3 L1064.3 1043.3 L1066.3 1043.3 L1068.3 1043.4 L1070.3 1043.4 L1072.3 1043.4 L1074.3 1043.4 L1076.3 1043.5 L1078.3 1043.5 L1080.3 1043.5 L1082.3 1043.6 L1084.3 1043.6 L1086.3 1043.6 L1088.3 1043.6 L1090.3 1043.7 L1092.3 1043.7 L1094.3 1043.7 L1096.3 1043.8 L1098.3 1043.8 L1100.3 1043.8 L1102.3 1043.8 L1104.3 1043.9 L1106.3 1043.9 L1108.3 1043.9 L1110.4 1044 L1112.4 1044 L1114.4 1044 L1116.4 1044.1 L1118.4 1044.1 L1120.4 1044.1 L1122.4 1044.2 L1124.4 1044.2 L1126.4 1044.2 L1128.4 1044.3 L1130.4 1044.3 L1132.4 1044.3 L1134.4 1044.4 L1136.4 1044.4 L1138.4 1044.5 L1140.4 1044.5 L1142.4 1044.5 L1144.4 1044.6 L1146.4 1044.6 L1148.4 1044.7 L1150.4 1044.7 L1152.4 1044.7 L1154.4 1044.8 L1156.4 1044.8 L1158.4 1044.9 L1160.4 1044.9 L1162.4 1045 L1164.4 1045 L1166.4 1045.1 L1168.4 1045.1 L1170.4 1045.2 L1172.4 1045.2 L1174.4 1045.3 L1176.5 1045.4 L1178.5 1045.5 L1180.5 1045.5 L1182.5 1045.6 L1184.5 1045.7 L1186.5 1045.8 L1188.5 1045.9 L1190.5 1046 L1192.5 1046 L1194.5 1046.1 L1196.5 1046.2 L1198.5 1046.3 L1200.5 1046.4 L1202.5 1046.5 L1204.5 1046.6 L1206.5 1046.7 L1208.5 1046.7 L1210.5 1046.8 L1212.5 1046.9 L1214.5 1047 L1216.5 1047 L1218.5 1047.1 L1220.5 1047.2 L1222.5 1047.2 L1224.5 1047.3 L1226.5 1047.3 L1228.5 1047.4 L1230.5 1047.4 L1232.5 1047.5 L1234.5 1047.5 L1236.5 1047.6 L1238.5 1047.6 L1240.5 1047.7 L1242.6 1047.7 L1244.6 1047.7 L1246.6 1047.8 L1248.6 1047.8 L1250.6 1047.8 L1252.6 1047.9 L1254.6 1047.9 L1256.6 1048 L1258.6 1048 L1260.6 1048 L1262.6 1048.1 L1264.6 1048.1 L1266.6 1048.1 L1268.6 1048.2 L1270.6 1048.2 L1272.6 1048.2 L1274.6 1048.3 L1276.6 1048.3 L1278.6 1048.4 L1280.6 1048.4 L1282.6 1048.4 L1284.6 1048.5 L1286.6 1048.5 L1288.6 1048.6 L1290.6 1048.6 L1292.6 1048.6 L1294.6 1048.7 L1296.6 1048.7 L1298.6 1048.8 L1300.6 1048.8 L1302.6 1048.9 L1304.6 1048.9 L1306.6 1049 L1308.7 1049.1 L1310.7 1049.1 L1312.7 1049.2 L1314.7 1049.2 L1316.7 1049.3 L1318.7 1049.3 L1320.7 1049.4 L1322.7 1049.4 L1324.7 1049.5 L1326.7 1049.6 L1328.7 1049.6 L1330.7 1049.7 L1332.7 1049.7 L1334.7 1049.8 L1336.7 1049.9 L1338.7 1049.9 L1340.7 1050 L1342.7 1050 L1344.7 1050.1 L1346.7 1050.1 L1348.7 1050.2 L1350.7 1050.2 L1352.7 1050.3 L1354.7 1050.4 L1356.7 1050.4 L1358.7 1050.5 L1360.7 1050.5 L1362.7 1050.6 L1364.7 1050.6 L1366.7 1050.6 L1368.7 1050.7 L1370.7 1050.7 L1372.7 1050.8 L1374.8 1050.8 L1376.8 1050.9 L1378.8 1050.9 L1380.8 1050.9 L1382.8 1051 L1384.8 1051 L1386.8 1051 L1388.8 1051.1 L1390.8 1051.1 L1392.8 1051.1 L1394.8 1051.1 L1396.8 1051.2 L1398.8 1051.2 L1400.8 1051.2 L1402.8 1051.2 L1404.8 1051.2 L1406.8 1051.3 L1408.8 1051.3 L1410.8 1051.3 L1412.8 1051.3 L1414.8 1051.3 L1416.8 1051.3 L1418.8 1051.4 L1420.8 1051.4 L1422.8 1051.4 L1424.8 1051.4 L1426.8 1051.4 L1428.8 1051.4 L1430.8 1051.4 L1432.8 1051.5 L1434.8 1051.5 L1436.8 1051.5 L1438.8 1051.5 L1440.9 1051.5 L1442.9 1051.5 L1444.9 1051.5 L1446.9 1051.6 L1448.9 1051.6 L1450.9 1051.6 L1452.9 1051.6 L1454.9 1051.6 L1456.9 1051.6 L1458.9 1051.6 L1460.9 1051.6 L1462.9 1051.7 L1464.9 1051.7 L1466.9 1051.7 L1468.9 1051.7 L1470.9 1051.7 L1472.9 1051.7 L1474.9 1051.7 L1476.9 1051.7 L1478.9 1051.7 L1480.9 1051.8 L1482.9 1051.8 L1484.9 1051.8 L1486.9 1051.8 L1488.9 1051.8 L1490.9 1051.8 L1492.9 1051.8 L1494.9 1051.8 L1496.9 1051.8 L1498.9 1051.8 L1500.9 1051.8 L1502.9 1051.8 L1504.9 1051.8 L1507 1051.9 L1509 1051.9 L1511 1051.9 L1513 1051.9 L1515 1051.9 L1517 1051.9 L1519 1051.9 L1521 1051.9 L1523 1051.9 L1525 1051.9 L1527 1051.9 L1529 1051.9 L1531 1051.9 L1533 1051.9 L1535 1051.9 L1537 1051.9 L1539 1051.9" fill="none" stroke="#23862a" stroke-width="2.4" stroke-linejoin="round" stroke-linecap="round"/>
<path d="M878 1041.1 L880 1041 L882 1041 L884 1040.9 L886 1040.9 L888 1040.9 L890 1040.8 L892 1040.8 L894 1040.7 L896 1040.7 L898 1040.6 L900 1040.6 L902 1040.5 L904 1040.5 L906 1040.4 L908 1040.4 L910 1040.3 L912 1040.2 L914 1040.2 L916 1040.1 L918 1040 L920 1040 L922 1039.9 L924 1039.8 L926 1039.7 L928 1039.6 L930 1039.5 L932 1039.5 L934 1039.4 L936 1039.3 L938 1039.1 L940 1039 L942 1038.9 L944 1038.8 L946 1038.7 L948 1038.5 L950 1038.4 L952 1038.3 L954 1038.1 L956 1038 L958 1037.8 L960 1037.6 L962 1037.5 L964 1037.3 L966 1037.1 L968 1036.9 L970 1036.7 L972 1036.5 L974 1036.3 L976 1036.1 L978 1035.9 L980 1035.6 L982 1035.4 L984 1035.1 L986 1034.9 L988 1034.6 L990 1034.3 L992 1034 L994 1033.7 L996 1033.4 L998 1033.1 L1000 1032.7 L1002 1032.4 L1004 1032 L1006 1031.6 L1008 1031.2 L1010 1030.7 L1012 1030.3 L1014 1029.8 L1016 1029.3 L1018 1028.8 L1020 1028.3 L1022 1027.7 L1024 1027.1 L1026 1026.5 L1028 1025.9 L1030 1025.2 L1032 1024.5 L1034 1023.8 L1036 1023.1 L1038 1022.3 L1040 1021.5 L1042 1020.7 L1044 1019.8 L1046 1018.9 L1048 1018 L1050 1017 L1052 1016 L1054 1015 L1056 1014 L1058 1012.9 L1060 1011.8 L1062 1010.7 L1064 1009.6 L1066 1008.4 L1068 1007.3 L1070 1006.1 L1072 1004.9 L1074 1003.7 L1076 1002.5 L1078 1001.3 L1080 1000 L1082 998.8 L1084 997.6 L1086 996.4 L1088 995.1 L1090 993.9 L1092 992.7 L1094 991.5 L1096 990.2 L1098 989 L1100 987.9 L1102 986.7 L1104 985.5 L1106 984.3 L1108 983.2 L1110 982 L1112 980.9 L1114 979.8 L1116 978.7 L1118 977.6 L1120 976.5 L1122 975.4 L1124 974.4 L1126 973.3 L1128 972.3 L1130 971.3 L1132 970.4 L1134 969.4 L1136 968.5 L1138 967.5 L1140 966.6 L1142 965.8 L1144 964.9 L1146 964.1 L1148 963.3 L1150 962.5 L1152 961.7 L1154 961 L1156 960.3 L1158 959.6 L1160 958.9 L1162 958.3 L1164 957.7 L1166 957.1 L1168 956.6 L1170 956.1 L1172 955.6 L1174 955.1 L1176 954.7 L1178 954.3 L1180 954 L1182 953.7 L1184 953.4 L1186 953.2 L1188 952.9 L1190 952.8 L1192 952.6 L1194 952.5 L1196 952.5 L1198 952.4 L1200 952.4 L1202 952.4 L1204 952.4 L1206 952.4 L1208 952.5 L1210 952.6 L1212 952.6 L1214 952.7 L1216 952.9 L1218 953 L1220 953.1 L1222 953.2 L1224 953.3 L1226 953.5 L1228 953.6 L1230 953.7 L1232 953.8 L1234 953.9 L1236 954 L1238 954.1 L1240 954.2 L1242 954.3 L1244 954.4 L1246 954.5 L1248 954.6 L1250 954.8 L1252 954.9 L1254 955.1 L1256 955.2 L1258 955.4 L1260 955.6 L1262 955.9 L1264 956.1 L1266 956.4 L1268 956.8 L1270 957.1 L1272 957.5 L1274 957.9 L1276 958.4 L1278 958.9 L1280 959.4 L1282 959.9 L1284 960.5 L1286 961.1 L1288 961.8 L1290 962.5 L1292 963.2 L1294 963.9 L1296 964.7 L1298 965.6 L1300 966.5 L1302 967.4 L1304 968.3 L1306 969.3 L1308 970.4 L1310 971.4 L1312 972.6 L1314 973.7 L1316 974.9 L1318 976.2 L1320 977.5 L1322 978.8 L1324 980.2 L1326 981.6 L1328 983.1 L1330 984.7 L1332 986.2 L1334 987.9 L1336 989.5 L1338 991.2 L1340 993 L1342 994.7 L1344 996.5 L1346 998.3 L1348 1000.2 L1350 1002 L1352 1003.9 L1354 1005.7 L1356 1007.6 L1358 1009.5 L1360 1011.3 L1362 1013.2 L1364 1015 L1366 1016.9 L1368 1018.7 L1370 1020.4 L1372 1022.2 L1374 1023.9 L1376 1025.6 L1378 1027.3 L1380 1028.9 L1382 1030.4 L1384 1031.9 L1386 1033.4 L1388 1034.8 L1390 1036.1 L1392 1037.4 L1394 1038.6 L1396 1039.7 L1398 1040.8 L1400 1041.8 L1402 1042.7 L1404 1043.6 L1406 1044.4 L1408 1045.1 L1410 1045.8 L1412 1046.4 L1414 1047 L1416 1047.6 L1418 1048.1 L1420 1048.5 L1422 1048.9 L1424 1049.3 L1426 1049.6 L1428 1049.9 L1430 1050.1 L1432 1050.3 L1434 1050.5 L1436 1050.7 L1438 1050.8 L1440 1051 L1442 1051 L1444 1051.1 L1446 1051.2 L1448 1051.2 L1450 1051.3 L1452 1051.3 L1454 1051.3 L1456 1051.3 L1458 1051.3 L1460 1051.3 L1462 1051.3 L1464 1051.3 L1466 1051.3 L1468 1051.3 L1470 1051.4 L1472 1051.4 L1474 1051.4 L1476 1051.4 L1478 1051.4 L1480 1051.5 L1482 1051.5 L1484 1051.5 L1486 1051.5 L1488 1051.6 L1490 1051.6 L1492 1051.6 L1494 1051.7 L1496 1051.7 L1498 1051.7 L1500 1051.7 L1502 1051.8 L1504 1051.8 L1506 1051.8 L1508 1051.9 L1510 1051.9 L1512 1051.9 L1514 1051.9 L1516 1052 L1518 1052 L1520 1052 L1522 1052 L1524 1052 L1526 1052 L1528 1052 L1530 1052 L1532 1052 L1534 1052 L1536 1052 L1538 1052" fill="none" stroke="#14144e" stroke-width="2.6" stroke-linejoin="round" stroke-linecap="round"/>
<path d="M878 1167 L880 1167 L882 1167 L884 1167 L886 1167.1 L888 1167.1 L890 1167.1 L892 1167.1 L894 1167.1 L896 1167.1 L898 1167.1 L900 1167.2 L902 1167.2 L904 1167.2 L906 1167.2 L908 1167.2 L910 1167.2 L912 1167.2 L914 1167.3 L916 1167.3 L918 1167.3 L920 1167.3 L922 1167.3 L924 1167.3 L926 1167.3 L928 1167.4 L930 1167.4 L932 1167.4 L934 1167.4 L936 1167.4 L938 1167.4 L940 1167.5 L942 1167.5 L944 1167.5 L946 1167.5 L948 1167.5 L950 1167.5 L952 1167.6 L954 1167.6 L956 1167.6 L958 1167.6 L960 1167.6 L962 1167.6 L964 1167.7 L966 1167.7 L968 1167.7 L970 1167.7 L972 1167.7 L974 1167.8 L976 1167.8 L978 1167.8 L980 1167.8 L982 1167.8 L984 1167.8 L986 1167.9 L988 1167.9 L990 1167.9 L992 1167.9 L994 1167.9 L996 1168 L998 1168 L1000 1168 L1002 1168 L1004 1168 L1006 1168.1 L1008 1168.1 L1010 1168.1 L1012 1168.1 L1014 1168.1 L1016 1168.1 L1018 1168.2 L1020 1168.2 L1022 1168.2 L1024 1168.2 L1026 1168.2 L1028 1168.2 L1030 1168.3 L1032 1168.3 L1034 1168.3 L1036 1168.3 L1038 1168.3 L1040 1168.3 L1042 1168.3 L1044 1168.4 L1046 1168.4 L1048 1168.4 L1050 1168.4 L1052 1168.4 L1054 1168.4 L1056 1168.4 L1058 1168.4 L1060 1168.4 L1062 1168.4 L1064 1168.4 L1066 1168.4 L1068 1168.5 L1070 1168.5 L1072 1168.5 L1074 1168.4 L1076 1168.4 L1078 1168.4 L1080 1168.4 L1082 1168.4 L1084 1168.4 L1086 1168.4 L1088 1168.4 L1090 1168.3 L1092 1168.3 L1094 1168.3 L1096 1168.2 L1098 1168.2 L1100 1168.2 L1102 1168.1 L1104 1168 L1106 1168 L1108 1167.9 L1110 1167.8 L1112 1167.7 L1114 1167.6 L1116 1167.5 L1118 1167.4 L1120 1167.3 L1122 1167.2 L1124 1167 L1126 1166.8 L1128 1166.7 L1130 1166.5 L1132 1166.3 L1134 1166.1 L1136 1165.8 L1138 1165.6 L1140 1165.3 L1142 1165 L1144 1164.7 L1146 1164.4 L1148 1164 L1150 1163.6 L1152 1163.2 L1154 1162.8 L1156 1162.4 L1158 1161.9 L1160 1161.4 L1162 1160.9 L1164 1160.3 L1166 1159.7 L1168 1159.1 L1170 1158.5 L1172 1157.9 L1174 1157.2 L1176 1156.5 L1178 1155.8 L1180 1155.1 L1182 1154.4 L1184 1153.6 L1186 1152.7 L1188 1151.9 L1190 1151 L1192 1150.1 L1194 1149.2 L1196 1148.2 L1198 1147.2 L1200 1146.2 L1202 1145.2 L1204 1144.1 L1206 1143 L1208 1141.8 L1210 1140.6 L1212 1139.4 L1214 1138.2 L1216 1137 L1218 1135.7 L1220 1134.4 L1222 1133.1 L1224 1131.7 L1226 1130.4 L1228 1129 L1230 1127.7 L1232 1126.3 L1234 1124.9 L1236 1123.6 L1238 1122.2 L1240 1120.9 L1242 1119.5 L1244 1118.2 L1246 1116.9 L1248 1115.6 L1250 1114.4 L1252 1113.2 L1254 1112 L1256 1110.8 L1258 1109.7 L1260 1108.6 L1262 1107.6 L1264 1106.6 L1266 1105.7 L1268 1104.8 L1270 1104 L1272 1103.2 L1274 1102.5 L1276 1101.8 L1278 1101.2 L1280 1100.7 L1282 1100.3 L1284 1099.9 L1286 1099.6 L1288 1099.3 L1290 1099.1 L1292 1099 L1294 1099 L1296 1099.1 L1298 1099.2 L1300 1099.4 L1302 1099.7 L1304 1100.1 L1306 1100.6 L1308 1101.1 L1310 1101.7 L1312 1102.4 L1314 1103.2 L1316 1104.1 L1318 1105 L1320 1106 L1322 1107.1 L1324 1108.2 L1326 1109.4 L1328 1110.6 L1330 1111.9 L1332 1113.3 L1334 1114.6 L1336 1116.1 L1338 1117.5 L1340 1119 L1342 1120.5 L1344 1122 L1346 1123.6 L1348 1125.2 L1350 1126.7 L1352 1128.3 L1354 1129.9 L1356 1131.5 L1358 1133.1 L1360 1134.7 L1362 1136.2 L1364 1137.8 L1366 1139.3 L1368 1140.8 L1370 1142.3 L1372 1143.8 L1374 1145.2 L1376 1146.6 L1378 1148 L1380 1149.4 L1382 1150.7 L1384 1152 L1386 1153.2 L1388 1154.4 L1390 1155.6 L1392 1156.7 L1394 1157.8 L1396 1158.9 L1398 1159.9 L1400 1160.8 L1402 1161.8 L1404 1162.7 L1406 1163.5 L1408 1164.3 L1410 1165.1 L1412 1165.9 L1414 1166.6 L1416 1167.2 L1418 1167.9 L1420 1168.5 L1422 1169.1 L1424 1169.6 L1426 1170.1 L1428 1170.6 L1430 1171.1 L1432 1171.5 L1434 1171.9 L1436 1172.3 L1438 1172.6 L1440 1172.9 L1442 1173.2 L1444 1173.5 L1446 1173.8 L1448 1174.1 L1450 1174.3 L1452 1174.5 L1454 1174.7 L1456 1174.9 L1458 1175.1 L1460 1175.2 L1462 1175.4 L1464 1175.5 L1466 1175.6 L1468 1175.7 L1470 1175.8 L1472 1175.9 L1474 1176 L1476 1176.1 L1478 1176.2 L1480 1176.2 L1482 1176.3 L1484 1176.4 L1486 1176.4 L1488 1176.5 L1490 1176.5 L1492 1176.6 L1494 1176.6 L1496 1176.6 L1498 1176.6 L1500 1176.7 L1502 1176.7 L1504 1176.7 L1506 1176.7 L1508 1176.8 L1510 1176.8 L1512 1176.8 L1514 1176.8 L1516 1176.8 L1518 1176.8 L1520 1176.8 L1522 1176.8 L1524 1176.9 L1526 1176.9 L1528 1176.9 L1530 1176.9 L1532 1176.9 L1534 1176.9 L1536 1176.9 L1538 1176.9" fill="none" stroke="#2626d6" stroke-width="2.4" stroke-linejoin="round" stroke-linecap="round"/>
<path d="M878 1167 L880 1167 L882 1167 L884 1167 L886 1167 L888 1167 L890 1167 L892 1167 L894 1167 L896 1167 L898 1167 L900 1167 L902 1167 L904 1167 L906 1167 L908 1167 L910 1167 L912 1167 L914 1167 L916 1167 L918 1167 L920 1167 L922 1167 L924 1167 L926 1167 L928 1167 L930 1166.9 L932 1166.9 L934 1166.9 L936 1166.9 L938 1166.8 L940 1166.8 L942 1166.8 L944 1166.7 L946 1166.7 L948 1166.6 L950 1166.5 L952 1166.5 L954 1166.4 L956 1166.3 L958 1166.3 L960 1166.2 L962 1166.1 L964 1166 L966 1165.9 L968 1165.7 L970 1165.6 L972 1165.5 L974 1165.3 L976 1165.2 L978 1165 L980 1164.8 L982 1164.7 L984 1164.5 L986 1164.2 L988 1164 L990 1163.8 L992 1163.5 L994 1163.3 L996 1163 L998 1162.7 L1000 1162.4 L1002 1162 L1004 1161.7 L1006 1161.3 L1008 1160.9 L1010 1160.5 L1012 1160.1 L1014 1159.7 L1016 1159.2 L1018 1158.7 L1020 1158.2 L1022 1157.7 L1024 1157.2 L1026 1156.6 L1028 1156 L1030 1155.4 L1032 1154.7 L1034 1154.1 L1036 1153.4 L1038 1152.7 L1040 1152 L1042 1151.2 L1044 1150.4 L1046 1149.6 L1048 1148.8 L1050 1147.9 L1052 1147.1 L1054 1146.2 L1056 1145.2 L1058 1144.3 L1060 1143.3 L1062 1142.4 L1064 1141.4 L1066 1140.3 L1068 1139.3 L1070 1138.2 L1072 1137.1 L1074 1136.1 L1076 1134.9 L1078 1133.8 L1080 1132.7 L1082 1131.5 L1084 1130.4 L1086 1129.2 L1088 1128 L1090 1126.8 L1092 1125.6 L1094 1124.5 L1096 1123.3 L1098 1122.1 L1100 1120.9 L1102 1119.7 L1104 1118.5 L1106 1117.3 L1108 1116.2 L1110 1115 L1112 1113.9 L1114 1112.7 L1116 1111.6 L1118 1110.5 L1120 1109.5 L1122 1108.4 L1124 1107.4 L1126 1106.4 L1128 1105.4 L1130 1104.5 L1132 1103.6 L1134 1102.7 L1136 1101.9 L1138 1101.1 L1140 1100.3 L1142 1099.6 L1144 1099 L1146 1098.3 L1148 1097.7 L1150 1097.2 L1152 1096.7 L1154 1096.3 L1156 1095.9 L1158 1095.5 L1160 1095.3 L1162 1095 L1164 1094.8 L1166 1094.7 L1168 1094.6 L1170 1094.6 L1172 1094.7 L1174 1094.9 L1176 1095.1 L1178 1095.4 L1180 1095.8 L1182 1096.3 L1184 1096.9 L1186 1097.5 L1188 1098.2 L1190 1099 L1192 1099.9 L1194 1100.8 L1196 1101.8 L1198 1102.9 L1200 1104 L1202 1105.2 L1204 1106.4 L1206 1107.7 L1208 1109 L1210 1110.4 L1212 1111.8 L1214 1113.2 L1216 1114.6 L1218 1116.1 L1220 1117.6 L1222 1119.1 L1224 1120.6 L1226 1122.2 L1228 1123.7 L1230 1125.2 L1232 1126.8 L1234 1128.3 L1236 1129.9 L1238 1131.4 L1240 1133 L1242 1134.5 L1244 1136 L1246 1137.5 L1248 1139 L1250 1140.4 L1252 1141.9 L1254 1143.3 L1256 1144.7 L1258 1146 L1260 1147.4 L1262 1148.7 L1264 1149.9 L1266 1151.2 L1268 1152.4 L1270 1153.5 L1272 1154.7 L1274 1155.7 L1276 1156.8 L1278 1157.8 L1280 1158.8 L1282 1159.8 L1284 1160.7 L1286 1161.5 L1288 1162.4 L1290 1163.2 L1292 1164 L1294 1164.7 L1296 1165.4 L1298 1166.1 L1300 1166.7 L1302 1167.3 L1304 1167.9 L1306 1168.4 L1308 1168.9 L1310 1169.4 L1312 1169.9 L1314 1170.3 L1316 1170.7 L1318 1171.1 L1320 1171.5 L1322 1171.9 L1324 1172.2 L1326 1172.5 L1328 1172.8 L1330 1173 L1332 1173.3 L1334 1173.5 L1336 1173.8 L1338 1174 L1340 1174.2 L1342 1174.3 L1344 1174.5 L1346 1174.7 L1348 1174.8 L1350 1174.9 L1352 1175.1 L1354 1175.2 L1356 1175.3 L1358 1175.4 L1360 1175.5 L1362 1175.6 L1364 1175.7 L1366 1175.7 L1368 1175.8 L1370 1175.9 L1372 1175.9 L1374 1176 L1376 1176 L1378 1176.1 L1380 1176.1 L1382 1176.2 L1384 1176.2 L1386 1176.2 L1388 1176.3 L1390 1176.3 L1392 1176.3 L1394 1176.4 L1396 1176.4 L1398 1176.4 L1400 1176.4 L1402 1176.4 L1404 1176.5 L1406 1176.5 L1408 1176.5 L1410 1176.5 L1412 1176.5 L1414 1176.5 L1416 1176.5 L1418 1176.6 L1420 1176.6 L1422 1176.6 L1424 1176.6 L1426 1176.6 L1428 1176.6 L1430 1176.6 L1432 1176.6 L1434 1176.6 L1436 1176.6 L1438 1176.7 L1440 1176.7 L1442 1176.7 L1444 1176.7 L1446 1176.7 L1448 1176.7 L1450 1176.7 L1452 1176.7 L1454 1176.7 L1456 1176.7 L1458 1176.7 L1460 1176.7 L1462 1176.8 L1464 1176.8 L1466 1176.8 L1468 1176.8 L1470 1176.8 L1472 1176.8 L1474 1176.8 L1476 1176.8 L1478 1176.8 L1480 1176.8 L1482 1176.8 L1484 1176.8 L1486 1176.8 L1488 1176.8 L1490 1176.8 L1492 1176.8 L1494 1176.8 L1496 1176.9 L1498 1176.9 L1500 1176.9 L1502 1176.9 L1504 1176.9 L1506 1176.9 L1508 1176.9 L1510 1176.9 L1512 1176.9 L1514 1176.9 L1516 1176.9 L1518 1176.9 L1520 1176.9 L1522 1176.9 L1524 1176.9 L1526 1176.9 L1528 1176.9 L1530 1176.9 L1532 1176.9 L1534 1176.9 L1536 1176.9 L1538 1176.9" fill="none" stroke="#e0282e" stroke-width="2.4" stroke-linejoin="round" stroke-linecap="round"/>
<path d="M878 1167 L880 1167 L882 1167 L884 1167 L886 1167.1 L888 1167.1 L890 1167.1 L892 1167.1 L894 1167.1 L896 1167.1 L898 1167.1 L900 1167.2 L902 1167.2 L904 1167.2 L906 1167.2 L908 1167.2 L910 1167.2 L912.1 1167.2 L914.1 1167.3 L916.1 1167.3 L918.1 1167.3 L920.1 1167.3 L922.1 1167.3 L924.1 1167.3 L926.1 1167.3 L928.1 1167.4 L930.1 1167.4 L932.1 1167.4 L934.1 1167.4 L936.1 1167.4 L938.1 1167.4 L940.1 1167.5 L942.1 1167.5 L944.1 1167.5 L946.1 1167.5 L948.1 1167.5 L950.1 1167.5 L952.1 1167.6 L954.1 1167.6 L956.1 1167.6 L958.1 1167.6 L960.1 1167.6 L962.1 1167.6 L964.1 1167.7 L966.1 1167.7 L968.1 1167.7 L970.1 1167.7 L972.1 1167.7 L974.1 1167.8 L976.1 1167.8 L978.2 1167.8 L980.2 1167.8 L982.2 1167.8 L984.2 1167.8 L986.2 1167.9 L988.2 1167.9 L990.2 1167.9 L992.2 1167.9 L994.2 1167.9 L996.2 1168 L998.2 1168 L1000.2 1168 L1002.2 1168 L1004.2 1168 L1006.2 1168.1 L1008.2 1168.1 L1010.2 1168.1 L1012.2 1168.1 L1014.2 1168.1 L1016.2 1168.2 L1018.2 1168.2 L1020.2 1168.2 L1022.2 1168.2 L1024.2 1168.2 L1026.2 1168.2 L1028.2 1168.3 L1030.2 1168.3 L1032.2 1168.3 L1034.2 1168.3 L1036.2 1168.3 L1038.2 1168.3 L1040.2 1168.4 L1042.2 1168.4 L1044.3 1168.4 L1046.3 1168.4 L1048.3 1168.4 L1050.3 1168.4 L1052.3 1168.5 L1054.3 1168.5 L1056.3 1168.5 L1058.3 1168.5 L1060.3 1168.5 L1062.3 1168.6 L1064.3 1168.6 L1066.3 1168.6 L1068.3 1168.6 L1070.3 1168.6 L1072.3 1168.6 L1074.3 1168.7 L1076.3 1168.7 L1078.3 1168.7 L1080.3 1168.7 L1082.3 1168.7 L1084.3 1168.8 L1086.3 1168.8 L1088.3 1168.8 L1090.3 1168.8 L1092.3 1168.9 L1094.3 1168.9 L1096.3 1168.9 L1098.3 1168.9 L1100.3 1168.9 L1102.3 1169 L1104.3 1169 L1106.3 1169 L1108.3 1169 L1110.4 1169.1 L1112.4 1169.1 L1114.4 1169.1 L1116.4 1169.2 L1118.4 1169.2 L1120.4 1169.2 L1122.4 1169.2 L1124.4 1169.3 L1126.4 1169.3 L1128.4 1169.3 L1130.4 1169.4 L1132.4 1169.4 L1134.4 1169.4 L1136.4 1169.5 L1138.4 1169.5 L1140.4 1169.5 L1142.4 1169.6 L1144.4 1169.6 L1146.4 1169.6 L1148.4 1169.7 L1150.4 1169.7 L1152.4 1169.8 L1154.4 1169.8 L1156.4 1169.8 L1158.4 1169.9 L1160.4 1169.9 L1162.4 1170 L1164.4 1170 L1166.4 1170.1 L1168.4 1170.1 L1170.4 1170.2 L1172.4 1170.3 L1174.4 1170.4 L1176.5 1170.5 L1178.5 1170.6 L1180.5 1170.7 L1182.5 1170.8 L1184.5 1171 L1186.5 1171.1 L1188.5 1171.2 L1190.5 1171.4 L1192.5 1171.5 L1194.5 1171.6 L1196.5 1171.8 L1198.5 1171.9 L1200.5 1172.1 L1202.5 1172.2 L1204.5 1172.3 L1206.5 1172.5 L1208.5 1172.6 L1210.5 1172.7 L1212.5 1172.9 L1214.5 1173 L1216.5 1173.1 L1218.5 1173.2 L1220.5 1173.3 L1222.5 1173.4 L1224.5 1173.5 L1226.5 1173.6 L1228.5 1173.6 L1230.5 1173.7 L1232.5 1173.8 L1234.5 1173.8 L1236.5 1173.9 L1238.5 1174 L1240.5 1174 L1242.6 1174.1 L1244.6 1174.2 L1246.6 1174.2 L1248.6 1174.3 L1250.6 1174.4 L1252.6 1174.4 L1254.6 1174.5 L1256.6 1174.5 L1258.6 1174.6 L1260.6 1174.7 L1262.6 1174.7 L1264.6 1174.8 L1266.6 1174.8 L1268.6 1174.9 L1270.6 1174.9 L1272.6 1175 L1274.6 1175 L1276.6 1175.1 L1278.6 1175.1 L1280.6 1175.1 L1282.6 1175.2 L1284.6 1175.2 L1286.6 1175.3 L1288.6 1175.3 L1290.6 1175.3 L1292.6 1175.4 L1294.6 1175.4 L1296.6 1175.4 L1298.6 1175.5 L1300.6 1175.5 L1302.6 1175.5 L1304.6 1175.6 L1306.6 1175.6 L1308.7 1175.6 L1310.7 1175.7 L1312.7 1175.7 L1314.7 1175.7 L1316.7 1175.7 L1318.7 1175.8 L1320.7 1175.8 L1322.7 1175.8 L1324.7 1175.8 L1326.7 1175.9 L1328.7 1175.9 L1330.7 1175.9 L1332.7 1175.9 L1334.7 1176 L1336.7 1176 L1338.7 1176 L1340.7 1176 L1342.7 1176.1 L1344.7 1176.1 L1346.7 1176.1 L1348.7 1176.1 L1350.7 1176.1 L1352.7 1176.2 L1354.7 1176.2 L1356.7 1176.2 L1358.7 1176.2 L1360.7 1176.2 L1362.7 1176.2 L1364.7 1176.3 L1366.7 1176.3 L1368.7 1176.3 L1370.7 1176.3 L1372.7 1176.3 L1374.8 1176.3 L1376.8 1176.4 L1378.8 1176.4 L1380.8 1176.4 L1382.8 1176.4 L1384.8 1176.4 L1386.8 1176.4 L1388.8 1176.4 L1390.8 1176.5 L1392.8 1176.5 L1394.8 1176.5 L1396.8 1176.5 L1398.8 1176.5 L1400.8 1176.5 L1402.8 1176.5 L1404.8 1176.5 L1406.8 1176.5 L1408.8 1176.5 L1410.8 1176.5 L1412.8 1176.6 L1414.8 1176.6 L1416.8 1176.6 L1418.8 1176.6 L1420.8 1176.6 L1422.8 1176.6 L1424.8 1176.6 L1426.8 1176.6 L1428.8 1176.6 L1430.8 1176.6 L1432.8 1176.6 L1434.8 1176.7 L1436.8 1176.7 L1438.8 1176.7 L1440.9 1176.7 L1442.9 1176.7 L1444.9 1176.7 L1446.9 1176.7 L1448.9 1176.7 L1450.9 1176.7 L1452.9 1176.7 L1454.9 1176.7 L1456.9 1176.7 L1458.9 1176.7 L1460.9 1176.8 L1462.9 1176.8 L1464.9 1176.8 L1466.9 1176.8 L1468.9 1176.8 L1470.9 1176.8 L1472.9 1176.8 L1474.9 1176.8 L1476.9 1176.8 L1478.9 1176.8 L1480.9 1176.8 L1482.9 1176.8 L1484.9 1176.8 L1486.9 1176.8 L1488.9 1176.8 L1490.9 1176.8 L1492.9 1176.8 L1494.9 1176.8 L1496.9 1176.9 L1498.9 1176.9 L1500.9 1176.9 L1502.9 1176.9 L1504.9 1176.9 L1507 1176.9 L1509 1176.9 L1511 1176.9 L1513 1176.9 L1515 1176.9 L1517 1176.9 L1519 1176.9 L1521 1176.9 L1523 1176.9 L1525 1176.9 L1527 1176.9 L1529 1176.9 L1531 1176.9 L1533 1176.9 L1535 1176.9 L1537 1176.9 L1539 1176.9" fill="none" stroke="#e02ee0" stroke-width="2.4" stroke-linejoin="round" stroke-linecap="round"/>
<path d="M878 1166.3 L880 1166.6 L882 1165.6 L884 1166.6 L886 1166.1 L888 1165.8 L890 1165.7 L892 1165.6 L894 1165.8 L896 1166.1 L898 1165.9 L900 1165.9 L902 1165.1 L904 1165.1 L906 1165.9 L908 1165.7 L910 1165.9 L912 1165.5 L914 1164.7 L916 1165.2 L918 1164.9 L920 1164.6 L922 1164.2 L924 1164.3 L926 1164.1 L928 1164.3 L930 1163.9 L932 1164.2 L934 1163.4 L936 1163.7 L938 1163.7 L940 1163.2 L942 1163.1 L944 1163.7 L946 1163.5 L948 1163.2 L950 1163.4 L952 1163 L954 1163.2 L956 1162.9 L958 1163.1 L960 1163.3 L962 1162.8 L964 1163.1 L966 1162.5 L968 1162.6 L970 1162.2 L972 1162.5 L974 1162.5 L976 1162.3 L978 1162.2 L980 1162.6 L982 1162.5 L984 1161.6 L986 1162.2 L988 1161.1 L990 1161.3 L992 1161.3 L994 1161.1 L996 1160.6 L998 1160.5 L1000 1160.5 L1002 1160 L1004 1159.7 L1006 1159.8 L1008 1159.6 L1010 1159 L1012 1158.7 L1014 1158.4 L1016 1157.9 L1018 1157.5 L1020 1157 L1022 1157 L1024 1156.3 L1026 1155.8 L1028 1155.3 L1030 1154.8 L1032 1154.5 L1034 1153.3 L1036 1152.6 L1038 1152.1 L1040 1151.1 L1042 1151.1 L1044 1150.3 L1046 1149.5 L1048 1148.6 L1050 1148.2 L1052 1147.7 L1054 1146.9 L1056 1146 L1058 1144.9 L1060 1145.1 L1062 1144 L1064 1143 L1066 1142.7 L1068 1141.7 L1070 1140.1 L1072 1139.3 L1074 1138.1 L1076 1137.2 L1078 1135 L1080 1134.2 L1082 1133 L1084 1132.2 L1086 1130.2 L1088 1128.4 L1090 1127.6 L1092 1126.7 L1094 1125.6 L1096 1124.5 L1098 1122.7 L1100 1120.9 L1102 1119.9 L1104 1118.2 L1106 1116.7 L1108 1115.4 L1110 1114.4 L1112 1112.4 L1114 1111 L1116 1110 L1118 1108.7 L1120 1107.2 L1122 1105.8 L1124 1104.9 L1126 1103.9 L1128 1102.5 L1130 1101.3 L1132 1100.4 L1134 1098.4 L1136 1097.5 L1138 1096.9 L1140 1096 L1142 1095.2 L1144 1094.8 L1146 1093.7 L1148 1093.3 L1150 1092.1 L1152 1091.8 L1154 1091.9 L1156 1090.7 L1158 1090.4 L1160 1089.9 L1162 1088.9 L1164 1088.7 L1166 1087.9 L1168 1087.4 L1170 1086.3 L1172 1085.4 L1174 1084.8 L1176 1084.2 L1178 1083.9 L1180 1083 L1182 1082.3 L1184 1081.9 L1186 1081.8 L1188 1080.9 L1190 1081.3 L1192 1080.3 L1194 1080.4 L1196 1080.9 L1198 1080.8 L1200 1080.5 L1202 1080.8 L1204 1080.7 L1206 1081.2 L1208 1081.3 L1210 1081 L1212 1081.4 L1214 1081.3 L1216 1081.5 L1218 1081.7 L1220 1081.6 L1222 1082 L1224 1082.1 L1226 1082.2 L1228 1082.5 L1230 1082.2 L1232 1082 L1234 1082.4 L1236 1082.7 L1238 1082.8 L1240 1083.1 L1242 1083.3 L1244 1083.1 L1246 1083.3 L1248 1083.1 L1250 1083.9 L1252 1083.6 L1254 1083.5 L1256 1083.6 L1258 1084 L1260 1084.7 L1262 1084.6 L1264 1083.9 L1266 1084.5 L1268 1084.7 L1270 1085 L1272 1085 L1274 1084.9 L1276 1085.4 L1278 1085.3 L1280 1085 L1282 1085.8 L1284 1086.3 L1286 1087.4 L1288 1088.2 L1290 1088.4 L1292 1089.6 L1294 1090.6 L1296 1091.1 L1298 1092 L1300 1093.7 L1302 1094.8 L1304 1095.6 L1306 1096 L1308 1097.8 L1310 1098.7 L1312 1099.7 L1314 1101 L1316 1102 L1318 1103.7 L1320 1104.7 L1322 1105.8 L1324 1107.4 L1326 1108.6 L1328 1109.5 L1330 1111.2 L1332 1112.6 L1334 1113.7 L1336 1115.6 L1338 1117.5 L1340 1118.8 L1342 1121.1 L1344 1122.8 L1346 1123.9 L1348 1125.8 L1350 1127.8 L1352 1128.8 L1354 1130.2 L1356 1132 L1358 1133.4 L1360 1135 L1362 1137.1 L1364 1138.5 L1366 1140.2 L1368 1141.8 L1370 1142.9 L1372 1144.5 L1374 1145.9 L1376 1147.2 L1378 1148.5 L1380 1150.2 L1382 1151.3 L1384 1152.7 L1386 1154 L1388 1155.2 L1390 1155.6 L1392 1156.7 L1394 1157.9 L1396 1159 L1398 1160.2 L1400 1160.5 L1402 1161.5 L1404 1162.5 L1406 1163.5 L1408 1164.2 L1410 1164.1 L1412 1164.9 L1414 1165.2 L1416 1166.2 L1418 1166.6 L1420 1166.8 L1422 1167.2 L1424 1167.9 L1426 1168.6 L1428 1168.5 L1430 1169.1 L1432 1169.7 L1434 1170.1 L1436 1170.7 L1438 1170.8 L1440 1171.4 L1442 1171.5 L1444 1172.6 L1446 1173.4 L1448 1172.9 L1450 1173.6 L1452 1174.4 L1454 1174.3 L1456 1173.9 L1458 1174.9 L1460 1174.2 L1462 1175.1 L1464 1174.6 L1466 1174.6 L1468 1174.9 L1470 1174.9 L1472 1175.1 L1474 1175.1 L1476 1175 L1478 1175.4 L1480 1175.3 L1482 1175.2 L1484 1175.3 L1486 1175.3 L1488 1175.4 L1490 1175.7 L1492 1175.7 L1494 1175.6 L1496 1176 L1498 1175.7 L1500 1176 L1502 1176.2 L1504 1175.7 L1506 1176 L1508 1176.6 L1510 1175.9 L1512 1176.6 L1514 1176 L1516 1176.5 L1518 1176.1 L1520 1176.3 L1522 1176.4 L1524 1176.4 L1526 1176.9 L1528 1176.9 L1530 1177 L1532 1176.8 L1534 1177.3 L1536 1177.2 L1538 1177" fill="none" stroke="#151515" stroke-width="2.8" stroke-linejoin="round" stroke-linecap="round"/>
<path d="M878 1166.6 L880 1166.4 L882 1166.2 L884 1166.1 L886 1166 L888 1165.8 L890 1165.7 L892 1165.6 L894 1165.5 L896 1165.4 L898 1165.3 L900 1165.2 L902 1165.1 L904 1165 L906 1165 L908 1164.9 L910 1164.8 L912 1164.8 L914 1164.7 L916 1164.6 L918 1164.6 L920 1164.5 L922 1164.5 L924 1164.4 L926 1164.4 L928 1164.3 L930 1164.3 L932 1164.2 L934 1164.2 L936 1164.1 L938 1164.1 L940 1164 L942 1164 L944 1163.9 L946 1163.9 L948 1163.8 L950 1163.7 L952 1163.7 L954 1163.6 L956 1163.5 L958 1163.4 L960 1163.3 L962 1163.2 L964 1163.1 L966 1163 L968 1162.9 L970 1162.8 L972 1162.7 L974 1162.6 L976 1162.4 L978 1162.3 L980 1162.1 L982 1162 L984 1161.8 L986 1161.6 L988 1161.4 L990 1161.2 L992 1161 L994 1160.8 L996 1160.6 L998 1160.3 L1000 1160.1 L1002 1159.8 L1004 1159.5 L1006 1159.2 L1008 1158.9 L1010 1158.6 L1012 1158.3 L1014 1157.9 L1016 1157.6 L1018 1157.2 L1020 1156.8 L1022 1156.4 L1024 1156 L1026 1155.6 L1028 1155.1 L1030 1154.6 L1032 1154.2 L1034 1153.7 L1036 1153.2 L1038 1152.6 L1040 1152.1 L1042 1151.5 L1044 1150.9 L1046 1150.3 L1048 1149.6 L1050 1148.9 L1052 1148.2 L1054 1147.5 L1056 1146.7 L1058 1145.9 L1060 1145 L1062 1144.1 L1064 1143.2 L1066 1142.2 L1068 1141.1 L1070 1140.1 L1072 1139 L1074 1137.8 L1076 1136.6 L1078 1135.4 L1080 1134.1 L1082 1132.9 L1084 1131.6 L1086 1130.3 L1088 1128.9 L1090 1127.6 L1092 1126.2 L1094 1124.9 L1096 1123.5 L1098 1122.1 L1100 1120.7 L1102 1119.4 L1104 1118 L1106 1116.7 L1108 1115.3 L1110 1114 L1112 1112.7 L1114 1111.4 L1116 1110.1 L1118 1108.9 L1120 1107.7 L1122 1106.5 L1124 1105.3 L1126 1104.2 L1128 1103.1 L1130 1102 L1132 1100.9 L1134 1099.9 L1136 1098.9 L1138 1097.9 L1140 1097 L1142 1096 L1144 1095.1 L1146 1094.3 L1148 1093.4 L1150 1092.6 L1152 1091.8 L1154 1091 L1156 1090.3 L1158 1089.6 L1160 1088.9 L1162 1088.3 L1164 1087.6 L1166 1087 L1168 1086.4 L1170 1085.9 L1172 1085.3 L1174 1084.8 L1176 1084.3 L1178 1083.8 L1180 1083.3 L1182 1082.8 L1184 1082.4 L1186 1082 L1188 1081.7 L1190 1081.4 L1192 1081.1 L1194 1080.9 L1196 1080.8 L1198 1080.7 L1200 1080.7 L1202 1080.8 L1204 1080.8 L1206 1081 L1208 1081.1 L1210 1081.2 L1212 1081.4 L1214 1081.6 L1216 1081.7 L1218 1081.9 L1220 1082 L1222 1082.1 L1224 1082.2 L1226 1082.3 L1228 1082.4 L1230 1082.5 L1232 1082.5 L1234 1082.6 L1236 1082.6 L1238 1082.7 L1240 1082.7 L1242 1082.8 L1244 1082.8 L1246 1082.8 L1248 1082.9 L1250 1083 L1252 1083.1 L1254 1083.1 L1256 1083.2 L1258 1083.4 L1260 1083.5 L1262 1083.7 L1264 1083.9 L1266 1084.1 L1268 1084.3 L1270 1084.6 L1272 1084.9 L1274 1085.2 L1276 1085.6 L1278 1086 L1280 1086.4 L1282 1086.9 L1284 1087.4 L1286 1088 L1288 1088.6 L1290 1089.3 L1292 1090 L1294 1090.7 L1296 1091.5 L1298 1092.3 L1300 1093.2 L1302 1094.1 L1304 1095.1 L1306 1096.2 L1308 1097.2 L1310 1098.4 L1312 1099.6 L1314 1100.8 L1316 1102 L1318 1103.3 L1320 1104.7 L1322 1106 L1324 1107.4 L1326 1108.9 L1328 1110.3 L1330 1111.8 L1332 1113.3 L1334 1114.8 L1336 1116.3 L1338 1117.9 L1340 1119.5 L1342 1121 L1344 1122.6 L1346 1124.2 L1348 1125.8 L1350 1127.4 L1352 1129 L1354 1130.5 L1356 1132.1 L1358 1133.7 L1360 1135.2 L1362 1136.8 L1364 1138.3 L1366 1139.8 L1368 1141.3 L1370 1142.8 L1372 1144.2 L1374 1145.6 L1376 1147 L1378 1148.3 L1380 1149.7 L1382 1150.9 L1384 1152.2 L1386 1153.4 L1388 1154.5 L1390 1155.6 L1392 1156.7 L1394 1157.7 L1396 1158.7 L1398 1159.6 L1400 1160.5 L1402 1161.4 L1404 1162.2 L1406 1163 L1408 1163.8 L1410 1164.5 L1412 1165.2 L1414 1165.8 L1416 1166.4 L1418 1167 L1420 1167.6 L1422 1168.1 L1424 1168.6 L1426 1169.1 L1428 1169.5 L1430 1169.9 L1432 1170.3 L1434 1170.7 L1436 1171.1 L1438 1171.4 L1440 1171.7 L1442 1172 L1444 1172.3 L1446 1172.6 L1448 1172.8 L1450 1173 L1452 1173.3 L1454 1173.5 L1456 1173.7 L1458 1173.9 L1460 1174 L1462 1174.2 L1464 1174.3 L1466 1174.5 L1468 1174.6 L1470 1174.8 L1472 1174.9 L1474 1175 L1476 1175.1 L1478 1175.2 L1480 1175.3 L1482 1175.4 L1484 1175.5 L1486 1175.5 L1488 1175.6 L1490 1175.7 L1492 1175.7 L1494 1175.8 L1496 1175.9 L1498 1175.9 L1500 1176 L1502 1176 L1504 1176.1 L1506 1176.1 L1508 1176.1 L1510 1176.2 L1512 1176.2 L1514 1176.3 L1516 1176.3 L1518 1176.4 L1520 1176.4 L1522 1176.4 L1524 1176.5 L1526 1176.5 L1528 1176.6 L1530 1176.6 L1532 1176.7 L1534 1176.8 L1536 1176.8 L1538 1176.9" fill="none" stroke="#23862a" stroke-width="2.2" stroke-linejoin="round" stroke-linecap="round"/>
<line x1="1165" y1="716" x2="1165" y2="1184.5" stroke="#383838" stroke-width="2.0" stroke-linecap="butt" stroke-dasharray="6.2,5.6"/>
<line x1="1218.8" y1="715" x2="1218.8" y2="1184.5" stroke="#383838" stroke-width="2.0" stroke-linecap="butt" stroke-dasharray="6.2,5.6"/>
<line x1="1286.3" y1="714.5" x2="1286.3" y2="1184.5" stroke="#383838" stroke-width="2.0" stroke-linecap="butt" stroke-dasharray="6.2,5.6"/>
<line x1="877" y1="816.5" x2="1539.8" y2="816.5" stroke="#444444" stroke-width="2.7" stroke-linecap="butt"/>
<line x1="877" y1="939" x2="1539.8" y2="939" stroke="#444444" stroke-width="2.7" stroke-linecap="butt"/>
<line x1="877" y1="1061.3" x2="1539.8" y2="1061.3" stroke="#444444" stroke-width="2.7" stroke-linecap="butt"/>
<rect x="877" y="694.7" width="662.8" height="489.8" fill="none" stroke="#444444" stroke-width="2.7"/>
<line x1="877" y1="1184.5" x2="877" y2="1193.5" stroke="#444444" stroke-width="2.2" stroke-linecap="butt"/>
<text x="877" y="1217.8" font-size="24.4" fill="#1c1c1c" stroke="#1c1c1c" stroke-width="0.7" text-anchor="middle" textLength="40.6" lengthAdjust="spacingAndGlyphs">537</text>
<line x1="913.8" y1="1184.5" x2="913.8" y2="1189" stroke="#444444" stroke-width="2.2" stroke-linecap="butt"/>
<line x1="950.6" y1="1184.5" x2="950.6" y2="1193.5" stroke="#444444" stroke-width="2.2" stroke-linecap="butt"/>
<text x="950.6" y="1217.8" font-size="24.4" fill="#1c1c1c" stroke="#1c1c1c" stroke-width="0.7" text-anchor="middle" textLength="40.6" lengthAdjust="spacingAndGlyphs">536</text>
<line x1="987.5" y1="1184.5" x2="987.5" y2="1189" stroke="#444444" stroke-width="2.2" stroke-linecap="butt"/>
<line x1="1024.3" y1="1184.5" x2="1024.3" y2="1193.5" stroke="#444444" stroke-width="2.2" stroke-linecap="butt"/>
<text x="1024.3" y="1217.8" font-size="24.4" fill="#1c1c1c" stroke="#1c1c1c" stroke-width="0.7" text-anchor="middle" textLength="40.6" lengthAdjust="spacingAndGlyphs">535</text>
<line x1="1061.1" y1="1184.5" x2="1061.1" y2="1189" stroke="#444444" stroke-width="2.2" stroke-linecap="butt"/>
<line x1="1097.9" y1="1184.5" x2="1097.9" y2="1193.5" stroke="#444444" stroke-width="2.2" stroke-linecap="butt"/>
<text x="1097.9" y="1217.8" font-size="24.4" fill="#1c1c1c" stroke="#1c1c1c" stroke-width="0.7" text-anchor="middle" textLength="40.6" lengthAdjust="spacingAndGlyphs">534</text>
<line x1="1134.7" y1="1184.5" x2="1134.7" y2="1189" stroke="#444444" stroke-width="2.2" stroke-linecap="butt"/>
<line x1="1171.6" y1="1184.5" x2="1171.6" y2="1193.5" stroke="#444444" stroke-width="2.2" stroke-linecap="butt"/>
<text x="1171.6" y="1217.8" font-size="24.4" fill="#1c1c1c" stroke="#1c1c1c" stroke-width="0.7" text-anchor="middle" textLength="40.6" lengthAdjust="spacingAndGlyphs">533</text>
<line x1="1208.4" y1="1184.5" x2="1208.4" y2="1189" stroke="#444444" stroke-width="2.2" stroke-linecap="butt"/>
<line x1="1245.2" y1="1184.5" x2="1245.2" y2="1193.5" stroke="#444444" stroke-width="2.2" stroke-linecap="butt"/>
<text x="1245.2" y="1217.8" font-size="24.4" fill="#1c1c1c" stroke="#1c1c1c" stroke-width="0.7" text-anchor="middle" textLength="40.6" lengthAdjust="spacingAndGlyphs">532</text>
<line x1="1282" y1="1184.5" x2="1282" y2="1189" stroke="#444444" stroke-width="2.2" stroke-linecap="butt"/>
<line x1="1318.8" y1="1184.5" x2="1318.8" y2="1193.5" stroke="#444444" stroke-width="2.2" stroke-linecap="butt"/>
<text x="1318.8" y="1217.8" font-size="24.4" fill="#1c1c1c" stroke="#1c1c1c" stroke-width="0.7" text-anchor="middle" textLength="40.6" lengthAdjust="spacingAndGlyphs">531</text>
<line x1="1355.7" y1="1184.5" x2="1355.7" y2="1189" stroke="#444444" stroke-width="2.2" stroke-linecap="butt"/>
<line x1="1392.5" y1="1184.5" x2="1392.5" y2="1193.5" stroke="#444444" stroke-width="2.2" stroke-linecap="butt"/>
<text x="1392.5" y="1217.8" font-size="24.4" fill="#1c1c1c" stroke="#1c1c1c" stroke-width="0.7" text-anchor="middle" textLength="40.6" lengthAdjust="spacingAndGlyphs">530</text>
<line x1="1429.3" y1="1184.5" x2="1429.3" y2="1189" stroke="#444444" stroke-width="2.2" stroke-linecap="butt"/>
<line x1="1466.1" y1="1184.5" x2="1466.1" y2="1193.5" stroke="#444444" stroke-width="2.2" stroke-linecap="butt"/>
<text x="1466.1" y="1217.8" font-size="24.4" fill="#1c1c1c" stroke="#1c1c1c" stroke-width="0.7" text-anchor="middle" textLength="40.6" lengthAdjust="spacingAndGlyphs">529</text>
<line x1="1502.9" y1="1184.5" x2="1502.9" y2="1189" stroke="#444444" stroke-width="2.2" stroke-linecap="butt"/>
<line x1="1539.8" y1="1184.5" x2="1539.8" y2="1193.5" stroke="#444444" stroke-width="2.2" stroke-linecap="butt"/>
<text x="1539.8" y="1217.8" font-size="24.4" fill="#1c1c1c" stroke="#1c1c1c" stroke-width="0.7" text-anchor="middle" textLength="40.6" lengthAdjust="spacingAndGlyphs">528</text>
<text x="1222.3" y="1243.2" font-size="24" fill="#1c1c1c" stroke="#1c1c1c" stroke-width="0.7" text-anchor="middle" textLength="203" lengthAdjust="spacingAndGlyphs">Binding energy/eV</text>
<text x="853.6" y="1016.2" font-size="23.5" fill="#1c1c1c" stroke="#1c1c1c" stroke-width="0.7" text-anchor="start" textLength="139.2" lengthAdjust="spacingAndGlyphs" transform="rotate(-90 853.6 1016.2)">Intensity/a.m.</text>
<text x="886.5" y="728.7" font-size="26" fill="#1c1c1c" stroke="#1c1c1c" stroke-width="0.7" text-anchor="start" textLength="56.7" lengthAdjust="spacingAndGlyphs">O 1s</text>
<text x="1110.8" y="731" font-size="20.7" fill="#3a3ad2" stroke="#3a3ad2" stroke-width="0.7" text-anchor="start" textLength="58.9" lengthAdjust="spacingAndGlyphs">533.11</text>
<text x="1181.3" y="765" font-size="20.7" fill="#3a3ad2" stroke="#3a3ad2" stroke-width="0.7" text-anchor="start" textLength="62" lengthAdjust="spacingAndGlyphs">532.34</text>
<text x="1291.8" y="736.6" font-size="20.7" fill="#3a3ad2" stroke="#3a3ad2" stroke-width="0.7" text-anchor="start" textLength="61.8" lengthAdjust="spacingAndGlyphs">531.34</text>
<text x="1470.7" y="740.7" font-size="23" fill="#d4283a" stroke="#d4283a" stroke-width="0.7" text-anchor="start" textLength="56.7" lengthAdjust="spacingAndGlyphs">AC-O</text>
<text x="1426.6" y="859.4" font-size="23" fill="#d4283a" stroke="#d4283a" stroke-width="0.7" text-anchor="start" textLength="104.2" lengthAdjust="spacingAndGlyphs">AC-COIMI</text>
<text x="1366.5" y="966.9" font-size="23" fill="#d4283a" stroke="#d4283a" stroke-width="0.7" text-anchor="start" textLength="167.7" lengthAdjust="spacingAndGlyphs">AC-COIMI-HPW</text>
<text x="1345" y="1087.4" font-size="23" fill="#d4283a" stroke="#d4283a" stroke-width="0.7" text-anchor="start" textLength="189.2" lengthAdjust="spacingAndGlyphs">AC-COIMI-NH<tspan font-size="11.5" dy="8">4</tspan><tspan dy="-8">PW</tspan></text>
<path d="M72.5 1527 L74.5 1527 L76.5 1527 L78.5 1527 L80.5 1527 L82.5 1527 L84.5 1527 L86.5 1527 L88.5 1527 L90.5 1527 L92.5 1527 L94.5 1527 L96.5 1527 L98.5 1527 L100.5 1526.9 L102.5 1526.9 L104.5 1526.9 L106.5 1526.9 L108.5 1526.9 L110.5 1526.9 L112.5 1526.9 L114.5 1526.9 L116.5 1526.8 L118.5 1526.8 L120.5 1526.8 L122.5 1526.8 L124.5 1526.7 L126.5 1526.7 L128.5 1526.7 L130.5 1526.6 L132.5 1526.6 L134.5 1526.5 L136.5 1526.5 L138.5 1526.4 L140.5 1526.3 L142.5 1526.2 L144.5 1526.1 L146.5 1526 L148.5 1525.9 L150.5 1525.8 L152.5 1525.7 L154.5 1525.5 L156.5 1525.3 L158.5 1525.1 L160.5 1524.9 L162.5 1524.7 L164.5 1524.5 L166.5 1524.2 L168.5 1523.9 L170.5 1523.5 L172.5 1523.2 L174.5 1522.8 L176.5 1522.4 L178.5 1521.9 L180.5 1521.4 L182.5 1520.8 L184.5 1520.2 L186.5 1519.6 L188.5 1518.9 L190.5 1518.2 L192.5 1517.4 L194.5 1516.5 L196.5 1515.6 L198.5 1514.6 L200.5 1513.6 L202.5 1512.4 L204.5 1511.2 L206.5 1510 L208.5 1508.6 L210.5 1507.2 L212.5 1505.7 L214.5 1504.1 L216.5 1502.4 L218.5 1500.7 L220.5 1498.8 L222.5 1496.9 L224.5 1494.8 L226.5 1492.7 L228.5 1490.5 L230.5 1488.2 L232.5 1485.8 L234.5 1483.3 L236.5 1480.8 L238.5 1478.1 L240.5 1475.4 L242.5 1472.5 L244.5 1469.6 L246.5 1466.7 L248.5 1463.6 L250.5 1460.5 L252.5 1457.3 L254.5 1454.1 L256.5 1450.8 L258.5 1447.5 L260.5 1444.1 L262.5 1440.8 L264.5 1437.4 L266.5 1433.9 L268.5 1430.5 L270.5 1427.1 L272.5 1423.8 L274.5 1420.5 L276.5 1417.2 L278.5 1414 L280.5 1410.9 L282.5 1407.9 L284.5 1404.9 L286.5 1402.1 L288.5 1399.3 L290.5 1396.7 L292.5 1394.2 L294.5 1391.8 L296.5 1389.5 L298.5 1387.5 L300.5 1385.5 L302.5 1383.7 L304.5 1382.1 L306.5 1380.7 L308.5 1379.4 L310.5 1378.4 L312.5 1377.5 L314.5 1376.8 L316.5 1376.3 L318.5 1375.9 L320.5 1375.8 L322.5 1375.9 L324.5 1376.2 L326.5 1376.7 L328.5 1377.5 L330.5 1378.5 L332.5 1379.7 L334.5 1381.2 L336.5 1382.9 L338.5 1384.9 L340.5 1387 L342.5 1389.3 L344.5 1391.9 L346.5 1394.6 L348.5 1397.5 L350.5 1400.5 L352.5 1403.7 L354.5 1407 L356.5 1410.5 L358.5 1414 L360.5 1417.7 L362.5 1421.4 L364.5 1425.2 L366.5 1429.1 L368.5 1433 L370.5 1436.9 L372.5 1440.8 L374.5 1444.8 L376.5 1448.7 L378.5 1452.7 L380.5 1456.6 L382.5 1460.4 L384.5 1464.2 L386.5 1468 L388.5 1471.7 L390.5 1475.3 L392.5 1478.9 L394.5 1482.4 L396.5 1485.7 L398.5 1489 L400.5 1492.2 L402.5 1495.2 L404.5 1498.2 L406.5 1501 L408.5 1503.8 L410.5 1506.4 L412.5 1508.9 L414.5 1511.3 L416.5 1513.5 L418.5 1515.7 L420.5 1517.7 L422.5 1519.6 L424.5 1521.5 L426.5 1523.2 L428.5 1524.8 L430.5 1526.3 L432.5 1527.7 L434.5 1529 L436.5 1530.3 L438.5 1531.4 L440.5 1532.5 L442.5 1533.6 L444.5 1534.6 L446.5 1535.5 L448.5 1536.4 L450.5 1537.2 L452.5 1538 L454.5 1538.7 L456.5 1539.4 L458.5 1540.1 L460.5 1540.8 L462.5 1541.4 L464.5 1542 L466.5 1542.5 L468.5 1543 L470.5 1543.6 L472.5 1544 L474.5 1544.5 L476.5 1545 L478.5 1545.4 L480.5 1545.8 L482.5 1546.2 L484.5 1546.6 L486.5 1546.9 L488.5 1547.3 L490.5 1547.6 L492.5 1547.9 L494.5 1548.2 L496.5 1548.5 L498.5 1548.8 L500.5 1549.1 L502.5 1549.4 L504.5 1549.6 L506.5 1549.9 L508.5 1550.2 L510.5 1550.5 L512.5 1550.8 L514.5 1551 L516.5 1551.3 L518.5 1551.6 L520.5 1551.9 L522.5 1552.2 L524.5 1552.4 L526.5 1552.7 L528.5 1553 L530.5 1553.2 L532.5 1553.5 L534.5 1553.8 L536.5 1554 L538.5 1554.2 L540.5 1554.5 L542.5 1554.7 L544.5 1554.9 L546.5 1555.1 L548.5 1555.3 L550.5 1555.4 L552.5 1555.6 L554.5 1555.7 L556.5 1555.9 L558.5 1556 L560.5 1556.1 L562.5 1556.2 L564.5 1556.3 L566.5 1556.4 L568.5 1556.5 L570.5 1556.6 L572.5 1556.7 L574.5 1556.8 L576.5 1556.9 L578.5 1557 L580.5 1557.1 L582.5 1557.2 L584.5 1557.3 L586.5 1557.4 L588.5 1557.4 L590.5 1557.5 L592.5 1557.6 L594.5 1557.7 L596.5 1557.7 L598.5 1557.8 L600.5 1557.9 L602.5 1557.9 L604.5 1558 L606.5 1558 L608.5 1558.1 L610.5 1558.1 L612.5 1558.2 L614.5 1558.2 L616.5 1558.2 L618.5 1558.3 L620.5 1558.3 L622.5 1558.3 L624.5 1558.3 L626.5 1558.3 L628.5 1558.3 L630.5 1558.3 L632.5 1558.3 L634.5 1558.3 L636.5 1558.3 L638.5 1558.3 L640.5 1558.3 L642.5 1558.3 L644.5 1558.3 L646.5 1558.3 L648.5 1558.3 L650.5 1558.3 L652.5 1558.3 L654.5 1558.3 L656.5 1558.3 L658.5 1558.3 L660.5 1558.3 L662.5 1558.3 L664.5 1558.3 L666.5 1558.3 L668.5 1558.3 L670.5 1558.3 L672.5 1558.3 L674.5 1558.3 L676.5 1558.3 L678.5 1558.3 L680.5 1558.3 L682.5 1558.3 L684.5 1558.3 L686.5 1558.3 L688.5 1558.3 L690.5 1558.3 L692.5 1558.3 L694.5 1558.3 L696.5 1558.3 L698.5 1558.3 L700.5 1558.3 L702.5 1558.3 L704.5 1558.3 L706.5 1558.3 L708.5 1558.3 L710.5 1558.3 L712.5 1558.3 L714.5 1558.3 L716.5 1558.3 L718.5 1558.3 L720.5 1558.3 L722.5 1558.3 L724.5 1558.3 L726.5 1558.3 L728.5 1558.3 L730.5 1558.3 L732.5 1558.3 L734.5 1558.3 L736.5 1558.3 L738.5 1558.3 L740.5 1558.3" fill="none" stroke="#2626d6" stroke-width="2.4" stroke-linejoin="round" stroke-linecap="round"/>
<path d="M72.5 1527 L74.5 1527 L76.5 1527 L78.5 1527 L80.5 1527 L82.5 1527 L84.5 1527 L86.5 1527 L88.5 1527 L90.5 1527 L92.5 1527 L94.5 1527 L96.5 1527 L98.5 1527 L100.5 1527 L102.5 1527 L104.5 1527 L106.5 1527 L108.5 1527 L110.5 1527 L112.5 1527 L114.5 1527 L116.5 1527 L118.5 1527 L120.5 1527 L122.5 1527 L124.5 1527 L126.5 1527 L128.5 1527 L130.5 1527 L132.5 1527 L134.5 1527 L136.5 1527 L138.5 1527 L140.5 1527 L142.5 1527 L144.5 1527 L146.5 1527 L148.5 1527 L150.5 1527 L152.5 1527.1 L154.5 1527.1 L156.5 1527.1 L158.5 1527.1 L160.5 1527.1 L162.5 1527.1 L164.5 1527.1 L166.5 1527.1 L168.5 1527.1 L170.5 1527.1 L172.5 1527.2 L174.5 1527.2 L176.5 1527.2 L178.5 1527.2 L180.5 1527.2 L182.5 1527.2 L184.5 1527.2 L186.5 1527.2 L188.5 1527.2 L190.5 1527.3 L192.5 1527.3 L194.5 1527.3 L196.5 1527.3 L198.5 1527.3 L200.5 1527.3 L202.5 1527.3 L204.5 1527.3 L206.5 1527.3 L208.5 1527.3 L210.5 1527.3 L212.5 1527.4 L214.5 1527.4 L216.5 1527.4 L218.5 1527.4 L220.5 1527.4 L222.5 1527.4 L224.5 1527.4 L226.5 1527.4 L228.5 1527.4 L230.5 1527.4 L232.5 1527.4 L234.5 1527.4 L236.5 1527.5 L238.5 1527.5 L240.5 1527.5 L242.5 1527.5 L244.5 1527.5 L246.5 1527.5 L248.5 1527.5 L250.5 1527.5 L252.5 1527.6 L254.5 1527.6 L256.5 1527.6 L258.5 1527.6 L260.5 1527.6 L262.5 1527.6 L264.5 1527.7 L266.5 1527.7 L268.5 1527.7 L270.5 1527.7 L272.5 1527.8 L274.5 1527.9 L276.5 1528 L278.5 1528.1 L280.5 1528.2 L282.5 1528.4 L284.5 1528.6 L286.5 1528.8 L288.5 1529 L290.5 1529.2 L292.5 1529.4 L294.5 1529.6 L296.5 1529.8 L298.5 1530 L300.5 1530.3 L302.5 1530.5 L304.5 1530.7 L306.5 1530.9 L308.5 1531.2 L310.5 1531.4 L312.5 1531.6 L314.5 1531.8 L316.5 1531.9 L318.5 1532.1 L320.5 1532.3 L322.5 1532.4 L324.5 1532.5 L326.5 1532.6 L328.5 1532.7 L330.5 1532.8 L332.5 1532.8 L334.5 1532.9 L336.5 1532.9 L338.5 1532.9 L340.5 1532.9 L342.5 1532.9 L344.5 1532.9 L346.5 1532.8 L348.5 1532.7 L350.5 1532.5 L352.5 1532.3 L354.5 1532.1 L356.5 1531.8 L358.5 1531.5 L360.5 1531.2 L362.5 1530.7 L364.5 1530.3 L366.5 1529.7 L368.5 1529.1 L370.5 1528.5 L372.5 1527.7 L374.5 1526.9 L376.5 1526 L378.5 1525.1 L380.5 1524 L382.5 1522.8 L384.5 1521.6 L386.5 1520.3 L388.5 1518.8 L390.5 1517.3 L392.5 1515.6 L394.5 1513.8 L396.5 1511.9 L398.5 1509.9 L400.5 1507.7 L402.5 1505.4 L404.5 1503 L406.5 1500.4 L408.5 1497.7 L410.5 1494.9 L412.5 1491.9 L414.5 1488.8 L416.5 1485.6 L418.5 1482.2 L420.5 1478.7 L422.5 1475 L424.5 1471.2 L426.5 1467.3 L428.5 1463.2 L430.5 1459.1 L432.5 1454.8 L434.5 1450.5 L436.5 1446.1 L438.5 1441.6 L440.5 1437 L442.5 1432.4 L444.5 1427.8 L446.5 1423.1 L448.5 1418.5 L450.5 1413.8 L452.5 1409.2 L454.5 1404.6 L456.5 1400.1 L458.5 1395.6 L460.5 1391.2 L462.5 1386.8 L464.5 1382.6 L466.5 1378.5 L468.5 1374.6 L470.5 1370.7 L472.5 1367.1 L474.5 1363.6 L476.5 1360.3 L478.5 1357.2 L480.5 1354.3 L482.5 1351.7 L484.5 1349.3 L486.5 1347.1 L488.5 1345.2 L490.5 1343.6 L492.5 1342.2 L494.5 1341.1 L496.5 1340.3 L498.5 1339.8 L500.5 1339.5 L502.5 1339.6 L504.5 1340 L506.5 1340.8 L508.5 1342 L510.5 1343.6 L512.5 1345.5 L514.5 1347.8 L516.5 1350.4 L518.5 1353.4 L520.5 1356.7 L522.5 1360.3 L524.5 1364.2 L526.5 1368.3 L528.5 1372.7 L530.5 1377.3 L532.5 1382.1 L534.5 1387.1 L536.5 1392.3 L538.5 1397.6 L540.5 1403 L542.5 1408.4 L544.5 1414 L546.5 1419.6 L548.5 1425.2 L550.5 1430.8 L552.5 1436.3 L554.5 1441.9 L556.5 1447.4 L558.5 1452.8 L560.5 1458.1 L562.5 1463.3 L564.5 1468.4 L566.5 1473.4 L568.5 1478.2 L570.5 1482.9 L572.5 1487.5 L574.5 1491.9 L576.5 1496.2 L578.5 1500.3 L580.5 1504.2 L582.5 1507.9 L584.5 1511.5 L586.5 1514.9 L588.5 1518.2 L590.5 1521.2 L592.5 1524.1 L594.5 1526.8 L596.5 1529.4 L598.5 1531.8 L600.5 1534.1 L602.5 1536.2 L604.5 1538.1 L606.5 1540 L608.5 1541.6 L610.5 1543.2 L612.5 1544.7 L614.5 1546 L616.5 1547.2 L618.5 1548.3 L620.5 1549.3 L622.5 1550.3 L624.5 1551.1 L626.5 1551.9 L628.5 1552.6 L630.5 1553.2 L632.5 1553.8 L634.5 1554.3 L636.5 1554.7 L638.5 1555.1 L640.5 1555.5 L642.5 1555.8 L644.5 1556.1 L646.5 1556.4 L648.5 1556.6 L650.5 1556.8 L652.5 1557 L654.5 1557.2 L656.5 1557.3 L658.5 1557.5 L660.5 1557.6 L662.5 1557.7 L664.5 1557.8 L666.5 1557.8 L668.5 1557.9 L670.5 1558 L672.5 1558 L674.5 1558 L676.5 1558.1 L678.5 1558.1 L680.5 1558.1 L682.5 1558.2 L684.5 1558.2 L686.5 1558.2 L688.5 1558.2 L690.5 1558.2 L692.5 1558.2 L694.5 1558.3 L696.5 1558.3 L698.5 1558.3 L700.5 1558.3 L702.5 1558.3 L704.5 1558.3 L706.5 1558.3 L708.5 1558.3 L710.5 1558.3 L712.5 1558.3 L714.5 1558.3 L716.5 1558.3 L718.5 1558.3 L720.5 1558.3 L722.5 1558.3 L724.5 1558.3 L726.5 1558.3 L728.5 1558.3 L730.5 1558.3 L732.5 1558.3 L734.5 1558.3 L736.5 1558.3 L738.5 1558.3 L740.5 1558.3" fill="none" stroke="#e0282e" stroke-width="2.4" stroke-linejoin="round" stroke-linecap="round"/>
<path d="M72 1527 L74 1527 L76 1527 L78 1527 L80 1527 L82 1527 L84 1527 L86 1527 L88 1527 L90 1527 L92 1527 L94 1527 L96 1527 L98 1527 L100 1527 L102 1527 L104 1527 L106.1 1527 L108.1 1527 L110.1 1527 L112.1 1527 L114.1 1527 L116.1 1527 L118.1 1527 L120.1 1527 L122.1 1527 L124.1 1527 L126.1 1527 L128.1 1527 L130.1 1527 L132.1 1527 L134.1 1527 L136.1 1527 L138.1 1527 L140.1 1527 L142.1 1527 L144.1 1527 L146.1 1527 L148.1 1527 L150.1 1527 L152.1 1527.1 L154.1 1527.1 L156.1 1527.1 L158.1 1527.1 L160.1 1527.1 L162.1 1527.1 L164.1 1527.1 L166.1 1527.1 L168.1 1527.1 L170.1 1527.1 L172.1 1527.1 L174.2 1527.2 L176.2 1527.2 L178.2 1527.2 L180.2 1527.2 L182.2 1527.2 L184.2 1527.2 L186.2 1527.2 L188.2 1527.2 L190.2 1527.2 L192.2 1527.3 L194.2 1527.3 L196.2 1527.3 L198.2 1527.3 L200.2 1527.3 L202.2 1527.3 L204.2 1527.3 L206.2 1527.3 L208.2 1527.3 L210.2 1527.3 L212.2 1527.4 L214.2 1527.4 L216.2 1527.4 L218.2 1527.4 L220.2 1527.4 L222.2 1527.4 L224.2 1527.4 L226.2 1527.4 L228.2 1527.4 L230.2 1527.4 L232.2 1527.4 L234.2 1527.4 L236.2 1527.5 L238.2 1527.5 L240.3 1527.5 L242.3 1527.5 L244.3 1527.5 L246.3 1527.5 L248.3 1527.5 L250.3 1527.5 L252.3 1527.6 L254.3 1527.6 L256.3 1527.6 L258.3 1527.6 L260.3 1527.6 L262.3 1527.6 L264.3 1527.7 L266.3 1527.7 L268.3 1527.7 L270.3 1527.7 L272.3 1527.8 L274.3 1527.9 L276.3 1528 L278.3 1528.1 L280.3 1528.3 L282.3 1528.4 L284.3 1528.6 L286.3 1528.8 L288.3 1529 L290.3 1529.2 L292.3 1529.4 L294.3 1529.7 L296.3 1529.9 L298.3 1530.2 L300.3 1530.4 L302.3 1530.7 L304.3 1530.9 L306.4 1531.2 L308.4 1531.4 L310.4 1531.7 L312.4 1531.9 L314.4 1532.2 L316.4 1532.4 L318.4 1532.6 L320.4 1532.8 L322.4 1533 L324.4 1533.2 L326.4 1533.4 L328.4 1533.7 L330.4 1533.9 L332.4 1534.1 L334.4 1534.3 L336.4 1534.5 L338.4 1534.7 L340.4 1534.9 L342.4 1535.1 L344.4 1535.4 L346.4 1535.6 L348.4 1535.8 L350.4 1536 L352.4 1536.2 L354.4 1536.4 L356.4 1536.6 L358.4 1536.8 L360.4 1537.1 L362.4 1537.3 L364.4 1537.5 L366.4 1537.7 L368.4 1537.9 L370.4 1538 L372.4 1538.2 L374.5 1538.4 L376.5 1538.6 L378.5 1538.8 L380.5 1539 L382.5 1539.2 L384.5 1539.4 L386.5 1539.6 L388.5 1539.8 L390.5 1540 L392.5 1540.2 L394.5 1540.4 L396.5 1540.6 L398.5 1540.8 L400.5 1540.9 L402.5 1541.1 L404.5 1541.3 L406.5 1541.5 L408.5 1541.6 L410.5 1541.8 L412.5 1541.9 L414.5 1542.1 L416.5 1542.2 L418.5 1542.3 L420.5 1542.4 L422.5 1542.5 L424.5 1542.6 L426.5 1542.7 L428.5 1542.8 L430.5 1542.9 L432.5 1542.9 L434.5 1543 L436.5 1543.1 L438.5 1543.2 L440.6 1543.3 L442.6 1543.4 L444.6 1543.5 L446.6 1543.6 L448.6 1543.7 L450.6 1543.9 L452.6 1544 L454.6 1544.2 L456.6 1544.4 L458.6 1544.6 L460.6 1544.8 L462.6 1545 L464.6 1545.2 L466.6 1545.4 L468.6 1545.6 L470.6 1545.9 L472.6 1546.1 L474.6 1546.3 L476.6 1546.6 L478.6 1546.8 L480.6 1547.1 L482.6 1547.3 L484.6 1547.6 L486.6 1547.8 L488.6 1548.1 L490.6 1548.3 L492.6 1548.5 L494.6 1548.8 L496.6 1549 L498.6 1549.2 L500.6 1549.4 L502.6 1549.7 L504.6 1549.9 L506.6 1550.2 L508.7 1550.4 L510.7 1550.7 L512.7 1550.9 L514.7 1551.2 L516.7 1551.5 L518.7 1551.7 L520.7 1552 L522.7 1552.3 L524.7 1552.5 L526.7 1552.8 L528.7 1553 L530.7 1553.3 L532.7 1553.6 L534.7 1553.8 L536.7 1554 L538.7 1554.3 L540.7 1554.5 L542.7 1554.7 L544.7 1554.9 L546.7 1555.1 L548.7 1555.3 L550.7 1555.5 L552.7 1555.6 L554.7 1555.8 L556.7 1555.9 L558.7 1556 L560.7 1556.1 L562.7 1556.2 L564.7 1556.3 L566.7 1556.4 L568.7 1556.5 L570.7 1556.6 L572.7 1556.7 L574.8 1556.8 L576.8 1556.9 L578.8 1557 L580.8 1557.1 L582.8 1557.2 L584.8 1557.3 L586.8 1557.4 L588.8 1557.4 L590.8 1557.5 L592.8 1557.6 L594.8 1557.7 L596.8 1557.7 L598.8 1557.8 L600.8 1557.9 L602.8 1557.9 L604.8 1558 L606.8 1558 L608.8 1558.1 L610.8 1558.1 L612.8 1558.2 L614.8 1558.2 L616.8 1558.2 L618.8 1558.3 L620.8 1558.3 L622.8 1558.3 L624.8 1558.3 L626.8 1558.3 L628.8 1558.3 L630.8 1558.3 L632.8 1558.3 L634.8 1558.3 L636.8 1558.3 L638.8 1558.3 L640.9 1558.3 L642.9 1558.3 L644.9 1558.3 L646.9 1558.3 L648.9 1558.3 L650.9 1558.3 L652.9 1558.3 L654.9 1558.3 L656.9 1558.3 L658.9 1558.3 L660.9 1558.3 L662.9 1558.3 L664.9 1558.3 L666.9 1558.3 L668.9 1558.3 L670.9 1558.3 L672.9 1558.3 L674.9 1558.3 L676.9 1558.3 L678.9 1558.3 L680.9 1558.3 L682.9 1558.3 L684.9 1558.3 L686.9 1558.3 L688.9 1558.3 L690.9 1558.3 L692.9 1558.3 L694.9 1558.3 L696.9 1558.3 L698.9 1558.3 L700.9 1558.3 L702.9 1558.3 L704.9 1558.3 L706.9 1558.3 L709 1558.3 L711 1558.3 L713 1558.3 L715 1558.3 L717 1558.3 L719 1558.3 L721 1558.3 L723 1558.3 L725 1558.3 L727 1558.3 L729 1558.3 L731 1558.3 L733 1558.3 L735 1558.3 L737 1558.3 L739 1558.3 L741 1558.3" fill="none" stroke="#e02ee0" stroke-width="2.4" stroke-linejoin="round" stroke-linecap="round"/>
<path d="M72 1525.3 L74 1525.6 L76 1525.8 L78 1525.4 L80 1526.1 L82 1526 L84 1526.2 L86 1526.1 L88 1526.5 L90 1525.8 L92 1526.8 L94 1526.7 L96 1526.1 L98 1526.6 L100 1526.5 L102 1525.8 L104 1526.6 L106 1526.2 L108 1526.4 L110 1526.3 L112 1526.3 L114 1526.5 L116 1526.5 L118 1525.9 L120 1526.4 L122 1526 L124 1526.1 L126 1526.4 L128 1526.8 L130 1526.7 L132 1526.3 L134 1526.2 L136 1526.1 L138 1526.4 L140 1526.5 L142 1526.1 L144 1526.3 L146 1526 L148 1526.3 L150 1524.9 L152 1524.7 L154 1525.2 L156 1525.3 L158 1524.8 L160 1524.9 L162 1524.1 L164 1523.9 L166 1523.8 L168 1524.1 L170 1523.9 L172 1523.1 L174 1523.2 L176 1522.6 L178 1522.4 L180 1521.6 L182 1521.4 L184 1520.6 L186 1520.2 L188 1519.3 L190 1518.5 L192 1518.1 L194 1517.1 L196 1516.4 L198 1515.3 L200 1514.5 L202 1512.8 L204 1512 L206 1510.7 L208 1508.6 L210 1507.7 L212 1506.1 L214 1503.7 L216 1501.3 L218 1499.4 L220 1498 L222 1496.7 L224 1494.1 L226 1491.8 L228 1489.1 L230 1486.5 L232 1484.3 L234 1481.2 L236 1478.9 L238 1476.5 L240 1473.8 L242 1471.3 L244 1468.4 L246 1466.1 L248 1463.3 L250 1459.9 L252 1457.3 L254 1454.6 L256 1452.3 L258 1449.3 L260 1446.4 L262 1443.4 L264 1440.6 L266 1437.6 L268 1433.9 L270 1430.2 L272 1427.7 L274 1424 L276 1420.7 L278 1417.2 L280 1413.6 L282 1410.3 L284 1408.2 L286 1405.4 L288 1402.6 L290 1399.6 L292 1396.9 L294 1393.9 L296 1391.4 L298 1388.7 L300 1386.2 L302 1384.2 L304 1382.7 L306 1379.7 L308 1379.1 L310 1378 L312 1376.3 L314 1375.8 L316 1374.9 L318 1374 L320 1373.6 L322 1373.1 L324 1374.4 L326 1375 L328 1375.3 L330 1375.4 L332 1376.6 L334 1377.7 L336 1378.5 L338 1380 L340 1381.7 L342 1382.8 L344 1383.8 L346 1386.1 L348 1389.5 L350 1392.6 L352 1396.4 L354 1401 L356 1404.9 L358 1409 L360 1413.6 L362 1418.5 L364 1421.3 L366 1426 L368 1429 L370 1430.9 L372 1432.8 L374 1435.2 L376 1436.4 L378 1437.6 L380 1439.8 L382 1440.6 L384 1442 L386 1443.2 L388 1444.5 L390 1446.3 L392 1447.9 L394 1450.2 L396 1452.4 L398 1454.3 L400 1456.1 L402 1457.6 L404 1458.3 L406 1458.4 L408 1458.8 L410 1457.4 L412 1456.9 L414 1456.1 L416 1454 L418 1453.5 L420 1450.9 L422 1449 L424 1447.4 L426 1445.7 L428 1444.4 L430 1442.7 L432 1441.5 L434 1439.4 L436 1437.7 L438 1435.3 L440 1433.7 L442 1431 L444 1428 L446 1426.3 L448 1421.7 L450 1417.2 L452 1412.3 L454 1407.5 L456 1401.6 L458 1397.1 L460 1393 L462 1389 L464 1383.8 L466 1379.4 L468 1374.7 L470 1371.4 L472 1366.6 L474 1362.8 L476 1359.4 L478 1355.9 L480 1353.5 L482 1350.5 L484 1349 L486 1346.2 L488 1344.4 L490 1343.7 L492 1342.1 L494 1342.4 L496 1341.9 L498 1340.7 L500 1341.1 L502 1340.8 L504 1341.4 L506 1341.5 L508 1341.7 L510 1342.9 L512 1343.5 L514 1345.6 L516 1348.8 L518 1352.6 L520 1356.4 L522 1359.9 L524 1364.8 L526 1368.3 L528 1372.8 L530 1376.5 L532 1381.4 L534 1385.6 L536 1390 L538 1394.9 L540 1399 L542 1404.9 L544 1410 L546 1415.3 L548 1421.8 L550 1428 L552 1434.3 L554 1440.4 L556 1446.8 L558 1452.6 L560 1457.9 L562 1463.3 L564 1468.6 L566 1473.9 L568 1479.5 L570 1484.2 L572 1488.7 L574 1493.8 L576 1498.4 L578 1501.9 L580 1506.2 L582 1510 L584 1513.2 L586 1517.2 L588 1520.4 L590 1523.6 L592 1525 L594 1528.4 L596 1530 L598 1530.9 L600 1532.9 L602 1533.6 L604 1534.8 L606 1536 L608 1537.1 L610 1537.6 L612 1538.7 L614 1539.6 L616 1540.3 L618 1542.2 L620 1543.1 L622 1544.1 L624 1545.6 L626 1546.6 L628 1547.3 L630 1548.9 L632 1549.5 L634 1550.5 L636 1551.3 L638 1551.9 L640 1552.6 L642 1552.4 L644 1552.7 L646 1552.9 L648 1553.3 L650 1554.1 L652 1554.4 L654 1554.3 L656 1554.6 L658 1554.9 L660 1555.9 L662 1555.2 L664 1555.8 L666 1555.3 L668 1555.9 L670 1556.5 L672 1555.6 L674 1556.3 L676 1555 L678 1555.3 L680 1554.5 L682 1554.4 L684 1553.9 L686 1553.9 L688 1553.5 L690 1553.4 L692 1553.2 L694 1553.7 L696 1553.5 L698 1553.9 L700 1554.3 L702 1555.2 L704 1556.3 L706 1556 L708 1557.2 L710 1556.8 L712 1557.5 L714 1558.4 L716 1558.9 L718 1559.5 L720 1560.2 L722 1559.9 L724 1560.6 L726 1560.5 L728 1559.5 L730 1560.1 L732 1560 L734 1559.7 L736 1559.2 L738 1558.2 L740 1558" fill="none" stroke="#151515" stroke-width="2.8" stroke-linejoin="round" stroke-linecap="round"/>
<path d="M72 1525.6 L74 1525.6 L76 1525.6 L78 1525.6 L80 1525.6 L82 1525.7 L84 1525.7 L86 1525.7 L88 1525.8 L90 1525.8 L92 1525.9 L94 1526 L96 1526 L98 1526.1 L100 1526.1 L102 1526.2 L104 1526.3 L106 1526.3 L108 1526.4 L110 1526.4 L112 1526.5 L114 1526.5 L116 1526.6 L118 1526.6 L120 1526.6 L122 1526.7 L124 1526.7 L126 1526.7 L128 1526.7 L130 1526.7 L132 1526.7 L134 1526.6 L136 1526.6 L138 1526.5 L140 1526.5 L142 1526.4 L144 1526.3 L146 1526.2 L148 1526.1 L150 1525.9 L152 1525.8 L154 1525.6 L156 1525.4 L158 1525.2 L160 1525 L162 1524.7 L164 1524.5 L166 1524.2 L168 1523.9 L170 1523.5 L172 1523.2 L174 1522.8 L176 1522.4 L178 1522 L180 1521.5 L182 1521 L184 1520.5 L186 1519.9 L188 1519.2 L190 1518.5 L192 1517.8 L194 1516.9 L196 1516 L198 1515.1 L200 1514 L202 1512.9 L204 1511.7 L206 1510.4 L208 1509 L210 1507.5 L212 1505.9 L214 1504.2 L216 1502.4 L218 1500.4 L220 1498.4 L222 1496.2 L224 1494 L226 1491.6 L228 1489.2 L230 1486.7 L232 1484.1 L234 1481.5 L236 1478.9 L238 1476.2 L240 1473.6 L242 1471 L244 1468.3 L246 1465.7 L248 1463 L250 1460.4 L252 1457.7 L254 1455 L256 1452.2 L258 1449.4 L260 1446.5 L262 1443.5 L264 1440.4 L266 1437.3 L268 1434.1 L270 1430.8 L272 1427.5 L274 1424.2 L276 1420.9 L278 1417.6 L280 1414.3 L282 1411.1 L284 1407.9 L286 1404.9 L288 1401.9 L290 1399.1 L292 1396.4 L294 1393.8 L296 1391.4 L298 1389.1 L300 1386.9 L302 1384.8 L304 1382.9 L306 1381.2 L308 1379.6 L310 1378.2 L312 1376.9 L314 1375.8 L316 1374.9 L318 1374.1 L320 1373.5 L322 1373.1 L324 1372.9 L326 1372.9 L328 1373.1 L330 1373.5 L332 1374.2 L334 1375.2 L336 1376.5 L338 1378.1 L340 1380 L342 1382.2 L344 1384.8 L346 1387.7 L348 1391 L350 1394.4 L352 1398.1 L354 1401.8 L356 1405.7 L358 1409.6 L360 1413.4 L362 1417.1 L364 1420.7 L366 1424.1 L368 1427.2 L370 1430.1 L372 1432.5 L374 1434.7 L376 1436.5 L378 1438.2 L380 1439.7 L382 1441.1 L384 1442.4 L386 1443.8 L388 1445.3 L390 1446.9 L392 1448.6 L394 1450.4 L396 1452.1 L398 1453.7 L400 1455.2 L402 1456.4 L404 1457.4 L406 1457.9 L408 1458 L410 1457.7 L412 1457.1 L414 1456.1 L416 1454.9 L418 1453.4 L420 1451.8 L422 1450.1 L424 1448.4 L426 1446.6 L428 1444.9 L430 1443.3 L432 1441.7 L434 1440 L436 1438.2 L438 1436.2 L440 1433.9 L442 1431.4 L444 1428.4 L446 1425 L448 1421.1 L450 1416.9 L452 1412.4 L454 1407.6 L456 1402.7 L458 1397.8 L460 1392.9 L462 1388.1 L464 1383.4 L466 1378.9 L468 1374.5 L470 1370.4 L472 1366.4 L474 1362.7 L476 1359.3 L478 1356.2 L480 1353.4 L482 1350.9 L484 1348.7 L486 1346.9 L488 1345.2 L490 1343.8 L492 1342.5 L494 1341.5 L496 1340.7 L498 1340.1 L500 1339.8 L502 1339.8 L504 1340.1 L506 1340.7 L508 1341.8 L510 1343.3 L512 1345.2 L514 1347.5 L516 1350.2 L518 1353.2 L520 1356.6 L522 1360.1 L524 1363.9 L526 1367.8 L528 1371.8 L530 1376 L532 1380.4 L534 1384.9 L536 1389.7 L538 1394.6 L540 1399.7 L542 1405 L544 1410.5 L546 1416.2 L548 1422.1 L550 1428 L552 1434.1 L554 1440.1 L556 1446.1 L558 1452 L560 1457.8 L562 1463.4 L564 1468.8 L566 1474.2 L568 1479.3 L570 1484.3 L572 1489.1 L574 1493.7 L576 1498.1 L578 1502.3 L580 1506.3 L582 1510.1 L584 1513.7 L586 1517 L588 1520.1 L590 1523 L592 1525.5 L594 1527.8 L596 1529.8 L598 1531.5 L600 1533 L602 1534.3 L604 1535.4 L606 1536.4 L608 1537.3 L610 1538.1 L612 1538.9 L614 1539.7 L616 1540.6 L618 1541.5 L620 1542.5 L622 1543.5 L624 1544.6 L626 1545.6 L628 1546.7 L630 1547.7 L632 1548.7 L634 1549.7 L636 1550.6 L638 1551.4 L640 1552.1 L642 1552.7 L644 1553.3 L646 1553.8 L648 1554.2 L650 1554.5 L652 1554.8 L654 1555 L656 1555.2 L658 1555.3 L660 1555.4 L662 1555.4 L664 1555.4 L666 1555.4 L668 1555.3 L670 1555.2 L672 1555.1 L674 1555 L676 1554.9 L678 1554.8 L680 1554.7 L682 1554.6 L684 1554.5 L686 1554.4 L688 1554.3 L690 1554.3 L692 1554.3 L694 1554.3 L696 1554.4 L698 1554.5 L700 1554.7 L702 1554.9 L704 1555.2 L706 1555.5 L708 1555.9 L710 1556.4 L712 1557 L714 1557.5 L716 1558.1 L718 1558.7 L720 1559.3 L722 1559.8 L724 1560.2 L726 1560.6 L728 1560.7 L730 1560.8 L732 1560.6 L734 1560.3 L736 1559.7 L738 1558.8 L740 1557.7" fill="none" stroke="#23862a" stroke-width="2.2" stroke-linejoin="round" stroke-linecap="round"/>
<path d="M72.5 1788 L74.5 1788 L76.5 1788 L78.5 1788 L80.5 1788 L82.5 1788 L84.5 1788 L86.5 1788 L88.5 1788.1 L90.5 1788.1 L92.5 1788.1 L94.5 1788.1 L96.5 1788.1 L98.5 1788.1 L100.5 1788.1 L102.5 1788.1 L104.5 1788.1 L106.5 1788.1 L108.5 1788.1 L110.5 1788.1 L112.5 1788.1 L114.5 1788.1 L116.5 1788.1 L118.5 1788.1 L120.5 1788.1 L122.5 1788.1 L124.5 1788.2 L126.5 1788.2 L128.5 1788.2 L130.5 1788.2 L132.5 1788.2 L134.5 1788.2 L136.5 1788.2 L138.5 1788.2 L140.5 1788.2 L142.5 1788.1 L144.5 1788.1 L146.5 1788.1 L148.5 1788.1 L150.5 1788.1 L152.5 1788.1 L154.5 1788 L156.5 1788 L158.5 1787.9 L160.5 1787.9 L162.5 1787.8 L164.5 1787.7 L166.5 1787.6 L168.5 1787.5 L170.5 1787.3 L172.5 1787.2 L174.5 1787 L176.5 1786.8 L178.5 1786.5 L180.5 1786.3 L182.5 1785.9 L184.5 1785.6 L186.5 1785.2 L188.5 1784.8 L190.5 1784.3 L192.5 1783.7 L194.5 1783.1 L196.5 1782.5 L198.5 1781.7 L200.5 1781 L202.5 1780.1 L204.5 1779.2 L206.5 1778.2 L208.5 1777.2 L210.5 1776.1 L212.5 1774.9 L214.5 1773.7 L216.5 1772.4 L218.5 1771 L220.5 1769.6 L222.5 1768.2 L224.5 1766.7 L226.5 1765.2 L228.5 1763.7 L230.5 1762.2 L232.5 1760.7 L234.5 1759.2 L236.5 1757.7 L238.5 1756.3 L240.5 1754.9 L242.5 1753.6 L244.5 1752.3 L246.5 1751.1 L248.5 1750.1 L250.5 1749.1 L252.5 1748.3 L254.5 1747.6 L256.5 1747 L258.5 1746.6 L260.5 1746.4 L262.5 1746.3 L264.5 1746.3 L266.5 1746.5 L268.5 1746.9 L270.5 1747.4 L272.5 1748.1 L274.5 1748.9 L276.5 1749.9 L278.5 1750.9 L280.5 1752.1 L282.5 1753.4 L284.5 1754.8 L286.5 1756.3 L288.5 1757.8 L290.5 1759.4 L292.5 1761 L294.5 1762.7 L296.5 1764.3 L298.5 1766 L300.5 1767.7 L302.5 1769.4 L304.5 1771 L306.5 1772.6 L308.5 1774.2 L310.5 1775.7 L312.5 1777.2 L314.5 1778.6 L316.5 1779.9 L318.5 1781.2 L320.5 1782.4 L322.5 1783.6 L324.5 1784.6 L326.5 1785.6 L328.5 1786.6 L330.5 1787.4 L332.5 1788.3 L334.5 1789 L336.5 1789.7 L338.5 1790.4 L340.5 1791 L342.5 1791.5 L344.5 1792 L346.5 1792.5 L348.5 1792.9 L350.5 1793.3 L352.5 1793.7 L354.5 1794 L356.5 1794.3 L358.5 1794.6 L360.5 1794.8 L362.5 1795.1 L364.5 1795.3 L366.5 1795.5 L368.5 1795.7 L370.5 1795.9 L372.5 1796 L374.5 1796.2 L376.5 1796.3 L378.5 1796.4 L380.5 1796.5 L382.5 1796.7 L384.5 1796.8 L386.5 1796.9 L388.5 1797 L390.5 1797.1 L392.5 1797.2 L394.5 1797.3 L396.5 1797.3 L398.5 1797.4 L400.5 1797.5 L402.5 1797.6 L404.5 1797.7 L406.5 1797.8 L408.5 1797.9 L410.5 1797.9 L412.5 1798 L414.5 1798.1 L416.5 1798.2 L418.5 1798.3 L420.5 1798.4 L422.5 1798.4 L424.5 1798.5 L426.5 1798.6 L428.5 1798.7 L430.5 1798.8 L432.5 1798.9 L434.5 1799 L436.5 1799.1 L438.5 1799.2 L440.5 1799.3 L442.5 1799.4 L444.5 1799.5 L446.5 1799.6 L448.5 1799.7 L450.5 1799.8 L452.5 1800 L454.5 1800.1 L456.5 1800.2 L458.5 1800.3 L460.5 1800.5 L462.5 1800.6 L464.5 1800.8 L466.5 1800.9 L468.5 1801.1 L470.5 1801.3 L472.5 1801.4 L474.5 1801.6 L476.5 1801.7 L478.5 1801.9 L480.5 1802.1 L482.5 1802.2 L484.5 1802.4 L486.5 1802.5 L488.5 1802.7 L490.5 1802.8 L492.5 1803 L494.5 1803.1 L496.5 1803.3 L498.5 1803.4 L500.5 1803.5 L502.5 1803.7 L504.5 1803.8 L506.5 1803.9 L508.5 1804.1 L510.5 1804.2 L512.5 1804.3 L514.5 1804.5 L516.5 1804.6 L518.5 1804.8 L520.5 1804.9 L522.5 1805 L524.5 1805.2 L526.5 1805.3 L528.5 1805.4 L530.5 1805.6 L532.5 1805.7 L534.5 1805.9 L536.5 1806 L538.5 1806.1 L540.5 1806.3 L542.5 1806.4 L544.5 1806.5 L546.5 1806.7 L548.5 1806.8 L550.5 1806.9 L552.5 1807 L554.5 1807.2 L556.5 1807.3 L558.5 1807.4 L560.5 1807.5 L562.5 1807.6 L564.5 1807.7 L566.5 1807.8 L568.5 1807.9 L570.5 1808 L572.5 1808.1 L574.5 1808.2 L576.5 1808.3 L578.5 1808.4 L580.5 1808.5 L582.5 1808.5 L584.5 1808.6 L586.5 1808.7 L588.5 1808.7 L590.5 1808.8 L592.5 1808.9 L594.5 1808.9 L596.5 1808.9 L598.5 1809 L600.5 1809 L602.5 1809 L604.5 1809.1 L606.5 1809.1 L608.5 1809.1 L610.5 1809.1 L612.5 1809.2 L614.5 1809.2 L616.5 1809.2 L618.5 1809.3 L620.5 1809.3 L622.5 1809.3 L624.5 1809.3 L626.5 1809.4 L628.5 1809.4 L630.5 1809.4 L632.5 1809.4 L634.5 1809.4 L636.5 1809.5 L638.5 1809.5 L640.5 1809.5 L642.5 1809.5 L644.5 1809.6 L646.5 1809.6 L648.5 1809.6 L650.5 1809.6 L652.5 1809.6 L654.5 1809.7 L656.5 1809.7 L658.5 1809.7 L660.5 1809.7 L662.5 1809.7 L664.5 1809.8 L666.5 1809.8 L668.5 1809.8 L670.5 1809.8 L672.5 1809.8 L674.5 1809.8 L676.5 1809.8 L678.5 1809.9 L680.5 1809.9 L682.5 1809.9 L684.5 1809.9 L686.5 1809.9 L688.5 1809.9 L690.5 1809.9 L692.5 1810 L694.5 1810 L696.5 1810 L698.5 1810 L700.5 1810 L702.5 1810 L704.5 1810 L706.5 1810 L708.5 1810 L710.5 1810 L712.5 1810 L714.5 1810.1 L716.5 1810.1 L718.5 1810.1 L720.5 1810.1 L722.5 1810.1 L724.5 1810.1 L726.5 1810.1 L728.5 1810.1 L730.5 1810.1 L732.5 1810.1 L734.5 1810.1 L736.5 1810.1 L738.5 1810.1 L740.5 1810.1" fill="none" stroke="#23862a" stroke-width="2.4" stroke-linejoin="round" stroke-linecap="round"/>
<path d="M72.5 1788 L74.5 1788 L76.5 1788 L78.5 1788 L80.5 1788 L82.5 1788 L84.5 1788 L86.5 1788 L88.5 1788.1 L90.5 1788.1 L92.5 1788.1 L94.5 1788.1 L96.5 1788.1 L98.5 1788.1 L100.5 1788.1 L102.5 1788.1 L104.5 1788.1 L106.5 1788.1 L108.5 1788.1 L110.5 1788.1 L112.5 1788.1 L114.5 1788.1 L116.5 1788.1 L118.5 1788.1 L120.5 1788.1 L122.5 1788.2 L124.5 1788.2 L126.5 1788.2 L128.5 1788.2 L130.5 1788.2 L132.5 1788.2 L134.5 1788.2 L136.5 1788.2 L138.5 1788.2 L140.5 1788.2 L142.5 1788.2 L144.5 1788.2 L146.5 1788.2 L148.5 1788.2 L150.5 1788.2 L152.5 1788.2 L154.5 1788.2 L156.5 1788.3 L158.5 1788.3 L160.5 1788.3 L162.5 1788.3 L164.5 1788.3 L166.5 1788.3 L168.5 1788.3 L170.5 1788.3 L172.5 1788.3 L174.5 1788.3 L176.5 1788.3 L178.5 1788.3 L180.5 1788.3 L182.5 1788.3 L184.5 1788.3 L186.5 1788.3 L188.5 1788.2 L190.5 1788.2 L192.5 1788.2 L194.5 1788.2 L196.5 1788.1 L198.5 1788.1 L200.5 1788 L202.5 1788 L204.5 1787.9 L206.5 1787.8 L208.5 1787.7 L210.5 1787.6 L212.5 1787.4 L214.5 1787.2 L216.5 1787 L218.5 1786.7 L220.5 1786.4 L222.5 1786.1 L224.5 1785.7 L226.5 1785.2 L228.5 1784.7 L230.5 1784.1 L232.5 1783.5 L234.5 1782.7 L236.5 1781.8 L238.5 1780.9 L240.5 1779.8 L242.5 1778.6 L244.5 1777.3 L246.5 1775.8 L248.5 1774.2 L250.5 1772.4 L252.5 1770.5 L254.5 1768.5 L256.5 1766.3 L258.5 1763.9 L260.5 1761.4 L262.5 1758.7 L264.5 1755.8 L266.5 1752.8 L268.5 1749.7 L270.5 1746.4 L272.5 1743 L274.5 1739.5 L276.5 1735.9 L278.5 1732.2 L280.5 1728.5 L282.5 1724.7 L284.5 1720.9 L286.5 1717.1 L288.5 1713.4 L290.5 1709.7 L292.5 1706.1 L294.5 1702.7 L296.5 1699.4 L298.5 1696.4 L300.5 1693.5 L302.5 1690.9 L304.5 1688.6 L306.5 1686.5 L308.5 1684.8 L310.5 1683.4 L312.5 1682.3 L314.5 1681.7 L316.5 1681.4 L318.5 1681.4 L320.5 1681.8 L322.5 1682.5 L324.5 1683.6 L326.5 1684.9 L328.5 1686.6 L330.5 1688.6 L332.5 1690.8 L334.5 1693.3 L336.5 1696 L338.5 1699 L340.5 1702.1 L342.5 1705.4 L344.5 1708.9 L346.5 1712.5 L348.5 1716.2 L350.5 1719.9 L352.5 1723.7 L354.5 1727.5 L356.5 1731.3 L358.5 1735.1 L360.5 1738.8 L362.5 1742.5 L364.5 1746.1 L366.5 1749.6 L368.5 1753.1 L370.5 1756.3 L372.5 1759.5 L374.5 1762.5 L376.5 1765.4 L378.5 1768.1 L380.5 1770.7 L382.5 1773.2 L384.5 1775.4 L386.5 1777.6 L388.5 1779.6 L390.5 1781.4 L392.5 1783.1 L394.5 1784.7 L396.5 1786.2 L398.5 1787.5 L400.5 1788.7 L402.5 1789.8 L404.5 1790.9 L406.5 1791.8 L408.5 1792.6 L410.5 1793.4 L412.5 1794 L414.5 1794.6 L416.5 1795.2 L418.5 1795.7 L420.5 1796.1 L422.5 1796.5 L424.5 1796.9 L426.5 1797.2 L428.5 1797.5 L430.5 1797.8 L432.5 1798.1 L434.5 1798.3 L436.5 1798.5 L438.5 1798.7 L440.5 1798.9 L442.5 1799 L444.5 1799.2 L446.5 1799.4 L448.5 1799.5 L450.5 1799.7 L452.5 1799.8 L454.5 1800 L456.5 1800.1 L458.5 1800.3 L460.5 1800.4 L462.5 1800.6 L464.5 1800.8 L466.5 1800.9 L468.5 1801.1 L470.5 1801.2 L472.5 1801.4 L474.5 1801.6 L476.5 1801.7 L478.5 1801.9 L480.5 1802.1 L482.5 1802.2 L484.5 1802.4 L486.5 1802.5 L488.5 1802.7 L490.5 1802.8 L492.5 1803 L494.5 1803.1 L496.5 1803.3 L498.5 1803.4 L500.5 1803.5 L502.5 1803.7 L504.5 1803.8 L506.5 1803.9 L508.5 1804.1 L510.5 1804.2 L512.5 1804.3 L514.5 1804.5 L516.5 1804.6 L518.5 1804.8 L520.5 1804.9 L522.5 1805 L524.5 1805.2 L526.5 1805.3 L528.5 1805.4 L530.5 1805.6 L532.5 1805.7 L534.5 1805.9 L536.5 1806 L538.5 1806.1 L540.5 1806.3 L542.5 1806.4 L544.5 1806.5 L546.5 1806.7 L548.5 1806.8 L550.5 1806.9 L552.5 1807 L554.5 1807.2 L556.5 1807.3 L558.5 1807.4 L560.5 1807.5 L562.5 1807.6 L564.5 1807.7 L566.5 1807.8 L568.5 1807.9 L570.5 1808 L572.5 1808.1 L574.5 1808.2 L576.5 1808.3 L578.5 1808.4 L580.5 1808.5 L582.5 1808.5 L584.5 1808.6 L586.5 1808.7 L588.5 1808.7 L590.5 1808.8 L592.5 1808.9 L594.5 1808.9 L596.5 1808.9 L598.5 1809 L600.5 1809 L602.5 1809 L604.5 1809.1 L606.5 1809.1 L608.5 1809.1 L610.5 1809.1 L612.5 1809.2 L614.5 1809.2 L616.5 1809.2 L618.5 1809.3 L620.5 1809.3 L622.5 1809.3 L624.5 1809.3 L626.5 1809.4 L628.5 1809.4 L630.5 1809.4 L632.5 1809.4 L634.5 1809.4 L636.5 1809.5 L638.5 1809.5 L640.5 1809.5 L642.5 1809.5 L644.5 1809.6 L646.5 1809.6 L648.5 1809.6 L650.5 1809.6 L652.5 1809.6 L654.5 1809.7 L656.5 1809.7 L658.5 1809.7 L660.5 1809.7 L662.5 1809.7 L664.5 1809.8 L666.5 1809.8 L668.5 1809.8 L670.5 1809.8 L672.5 1809.8 L674.5 1809.8 L676.5 1809.8 L678.5 1809.9 L680.5 1809.9 L682.5 1809.9 L684.5 1809.9 L686.5 1809.9 L688.5 1809.9 L690.5 1809.9 L692.5 1810 L694.5 1810 L696.5 1810 L698.5 1810 L700.5 1810 L702.5 1810 L704.5 1810 L706.5 1810 L708.5 1810 L710.5 1810 L712.5 1810 L714.5 1810.1 L716.5 1810.1 L718.5 1810.1 L720.5 1810.1 L722.5 1810.1 L724.5 1810.1 L726.5 1810.1 L728.5 1810.1 L730.5 1810.1 L732.5 1810.1 L734.5 1810.1 L736.5 1810.1 L738.5 1810.1 L740.5 1810.1" fill="none" stroke="#e02ee0" stroke-width="2.4" stroke-linejoin="round" stroke-linecap="round"/>
<path d="M72.5 1788 L74.5 1788 L76.5 1788 L78.5 1788 L80.5 1788 L82.5 1788 L84.5 1788 L86.5 1788 L88.5 1788.1 L90.5 1788.1 L92.5 1788.1 L94.5 1788.1 L96.5 1788.1 L98.5 1788.1 L100.5 1788.1 L102.5 1788.1 L104.5 1788.1 L106.5 1788.1 L108.5 1788.1 L110.5 1788.1 L112.5 1788.1 L114.5 1788.1 L116.5 1788.1 L118.5 1788.1 L120.5 1788.1 L122.5 1788.2 L124.5 1788.2 L126.5 1788.2 L128.5 1788.2 L130.5 1788.2 L132.5 1788.2 L134.5 1788.2 L136.5 1788.2 L138.5 1788.2 L140.5 1788.2 L142.5 1788.2 L144.5 1788.2 L146.5 1788.2 L148.5 1788.2 L150.5 1788.2 L152.5 1788.2 L154.5 1788.2 L156.5 1788.3 L158.5 1788.3 L160.5 1788.3 L162.5 1788.3 L164.5 1788.3 L166.5 1788.3 L168.5 1788.3 L170.5 1788.3 L172.5 1788.3 L174.5 1788.3 L176.5 1788.3 L178.5 1788.3 L180.5 1788.3 L182.5 1788.3 L184.5 1788.3 L186.5 1788.3 L188.5 1788.3 L190.5 1788.3 L192.5 1788.3 L194.5 1788.3 L196.5 1788.3 L198.5 1788.4 L200.5 1788.4 L202.5 1788.4 L204.5 1788.4 L206.5 1788.4 L208.5 1788.4 L210.5 1788.4 L212.5 1788.4 L214.5 1788.4 L216.5 1788.4 L218.5 1788.4 L220.5 1788.4 L222.5 1788.4 L224.5 1788.4 L226.5 1788.4 L228.5 1788.4 L230.5 1788.3 L232.5 1788.3 L234.5 1788.3 L236.5 1788.3 L238.5 1788.3 L240.5 1788.2 L242.5 1788.2 L244.5 1788.1 L246.5 1788.1 L248.5 1788 L250.5 1787.9 L252.5 1787.8 L254.5 1787.8 L256.5 1787.6 L258.5 1787.5 L260.5 1787.4 L262.5 1787.2 L264.5 1787.1 L266.5 1786.9 L268.5 1786.6 L270.5 1786.4 L272.5 1786 L274.5 1785.7 L276.5 1785.3 L278.5 1784.8 L280.5 1784.3 L282.5 1783.6 L284.5 1783 L286.5 1782.2 L288.5 1781.4 L290.5 1780.4 L292.5 1779.4 L294.5 1778.3 L296.5 1777.1 L298.5 1775.7 L300.5 1774.3 L302.5 1772.8 L304.5 1771.1 L306.5 1769.4 L308.5 1767.6 L310.5 1765.7 L312.5 1763.6 L314.5 1761.6 L316.5 1759.4 L318.5 1757.2 L320.5 1754.9 L322.5 1752.6 L324.5 1750.2 L326.5 1747.9 L328.5 1745.6 L330.5 1743.3 L332.5 1741.1 L334.5 1738.9 L336.5 1736.8 L338.5 1734.8 L340.5 1732.9 L342.5 1731.2 L344.5 1729.6 L346.5 1728.2 L348.5 1727 L350.5 1725.9 L352.5 1725.1 L354.5 1724.5 L356.5 1724.1 L358.5 1723.9 L360.5 1723.9 L362.5 1724.2 L364.5 1724.5 L366.5 1725.1 L368.5 1725.7 L370.5 1726.5 L372.5 1727.5 L374.5 1728.6 L376.5 1729.8 L378.5 1731.1 L380.5 1732.6 L382.5 1734.1 L384.5 1735.8 L386.5 1737.5 L388.5 1739.3 L390.5 1741.2 L392.5 1743.1 L394.5 1745.1 L396.5 1747.1 L398.5 1749.2 L400.5 1751.3 L402.5 1753.4 L404.5 1755.5 L406.5 1757.6 L408.5 1759.6 L410.5 1761.7 L412.5 1763.7 L414.5 1765.7 L416.5 1767.7 L418.5 1769.6 L420.5 1771.4 L422.5 1773.2 L424.5 1775 L426.5 1776.7 L428.5 1778.3 L430.5 1779.9 L432.5 1781.4 L434.5 1782.8 L436.5 1784.1 L438.5 1785.4 L440.5 1786.7 L442.5 1787.8 L444.5 1788.9 L446.5 1789.9 L448.5 1790.9 L450.5 1791.8 L452.5 1792.7 L454.5 1793.5 L456.5 1794.3 L458.5 1795 L460.5 1795.7 L462.5 1796.4 L464.5 1797 L466.5 1797.5 L468.5 1798 L470.5 1798.5 L472.5 1799 L474.5 1799.5 L476.5 1799.9 L478.5 1800.2 L480.5 1800.6 L482.5 1800.9 L484.5 1801.3 L486.5 1801.6 L488.5 1801.8 L490.5 1802.1 L492.5 1802.3 L494.5 1802.6 L496.5 1802.8 L498.5 1803 L500.5 1803.2 L502.5 1803.4 L504.5 1803.5 L506.5 1803.7 L508.5 1803.9 L510.5 1804 L512.5 1804.2 L514.5 1804.4 L516.5 1804.5 L518.5 1804.7 L520.5 1804.8 L522.5 1805 L524.5 1805.1 L526.5 1805.3 L528.5 1805.4 L530.5 1805.6 L532.5 1805.7 L534.5 1805.8 L536.5 1806 L538.5 1806.1 L540.5 1806.3 L542.5 1806.4 L544.5 1806.5 L546.5 1806.7 L548.5 1806.8 L550.5 1806.9 L552.5 1807 L554.5 1807.2 L556.5 1807.3 L558.5 1807.4 L560.5 1807.5 L562.5 1807.6 L564.5 1807.7 L566.5 1807.8 L568.5 1807.9 L570.5 1808 L572.5 1808.1 L574.5 1808.2 L576.5 1808.3 L578.5 1808.4 L580.5 1808.5 L582.5 1808.5 L584.5 1808.6 L586.5 1808.7 L588.5 1808.7 L590.5 1808.8 L592.5 1808.9 L594.5 1808.9 L596.5 1808.9 L598.5 1809 L600.5 1809 L602.5 1809 L604.5 1809.1 L606.5 1809.1 L608.5 1809.1 L610.5 1809.1 L612.5 1809.2 L614.5 1809.2 L616.5 1809.2 L618.5 1809.3 L620.5 1809.3 L622.5 1809.3 L624.5 1809.3 L626.5 1809.4 L628.5 1809.4 L630.5 1809.4 L632.5 1809.4 L634.5 1809.4 L636.5 1809.5 L638.5 1809.5 L640.5 1809.5 L642.5 1809.5 L644.5 1809.6 L646.5 1809.6 L648.5 1809.6 L650.5 1809.6 L652.5 1809.6 L654.5 1809.7 L656.5 1809.7 L658.5 1809.7 L660.5 1809.7 L662.5 1809.7 L664.5 1809.8 L666.5 1809.8 L668.5 1809.8 L670.5 1809.8 L672.5 1809.8 L674.5 1809.8 L676.5 1809.8 L678.5 1809.9 L680.5 1809.9 L682.5 1809.9 L684.5 1809.9 L686.5 1809.9 L688.5 1809.9 L690.5 1809.9 L692.5 1810 L694.5 1810 L696.5 1810 L698.5 1810 L700.5 1810 L702.5 1810 L704.5 1810 L706.5 1810 L708.5 1810 L710.5 1810 L712.5 1810 L714.5 1810.1 L716.5 1810.1 L718.5 1810.1 L720.5 1810.1 L722.5 1810.1 L724.5 1810.1 L726.5 1810.1 L728.5 1810.1 L730.5 1810.1 L732.5 1810.1 L734.5 1810.1 L736.5 1810.1 L738.5 1810.1 L740.5 1810.1" fill="none" stroke="#2626d6" stroke-width="2.4" stroke-linejoin="round" stroke-linecap="round"/>
<path d="M72.5 1788 L74.5 1788 L76.5 1788 L78.5 1788 L80.5 1788 L82.5 1788 L84.5 1788 L86.5 1788 L88.5 1788.1 L90.5 1788.1 L92.5 1788.1 L94.5 1788.1 L96.5 1788.1 L98.5 1788.1 L100.5 1788.1 L102.5 1788.1 L104.5 1788.1 L106.5 1788.1 L108.5 1788.1 L110.5 1788.1 L112.5 1788.1 L114.5 1788.1 L116.5 1788.1 L118.5 1788.1 L120.5 1788.1 L122.5 1788.2 L124.5 1788.2 L126.5 1788.2 L128.5 1788.2 L130.5 1788.2 L132.5 1788.2 L134.5 1788.2 L136.5 1788.2 L138.5 1788.2 L140.5 1788.2 L142.5 1788.2 L144.5 1788.2 L146.5 1788.2 L148.5 1788.2 L150.5 1788.2 L152.5 1788.2 L154.5 1788.2 L156.5 1788.3 L158.5 1788.3 L160.5 1788.3 L162.5 1788.3 L164.5 1788.3 L166.5 1788.3 L168.5 1788.3 L170.5 1788.3 L172.5 1788.3 L174.5 1788.3 L176.5 1788.3 L178.5 1788.3 L180.5 1788.3 L182.5 1788.3 L184.5 1788.3 L186.5 1788.3 L188.5 1788.3 L190.5 1788.3 L192.5 1788.3 L194.5 1788.3 L196.5 1788.4 L198.5 1788.4 L200.5 1788.4 L202.5 1788.4 L204.5 1788.4 L206.5 1788.4 L208.5 1788.4 L210.5 1788.4 L212.5 1788.4 L214.5 1788.4 L216.5 1788.4 L218.5 1788.4 L220.5 1788.4 L222.5 1788.4 L224.5 1788.4 L226.5 1788.4 L228.5 1788.4 L230.5 1788.4 L232.5 1788.4 L234.5 1788.4 L236.5 1788.4 L238.5 1788.4 L240.5 1788.5 L242.5 1788.5 L244.5 1788.5 L246.5 1788.5 L248.5 1788.5 L250.5 1788.5 L252.5 1788.5 L254.5 1788.6 L256.5 1788.6 L258.5 1788.6 L260.5 1788.7 L262.5 1788.8 L264.5 1788.9 L266.5 1789 L268.5 1789.1 L270.5 1789.2 L272.5 1789.3 L274.5 1789.4 L276.5 1789.5 L278.5 1789.7 L280.5 1789.8 L282.5 1790 L284.5 1790.1 L286.5 1790.3 L288.5 1790.4 L290.5 1790.6 L292.5 1790.7 L294.5 1790.9 L296.5 1791 L298.5 1791.2 L300.5 1791.3 L302.5 1791.5 L304.5 1791.6 L306.5 1791.8 L308.5 1791.9 L310.5 1792.1 L312.5 1792.2 L314.5 1792.3 L316.5 1792.4 L318.5 1792.5 L320.5 1792.6 L322.5 1792.7 L324.5 1792.8 L326.5 1792.9 L328.5 1792.9 L330.5 1793 L332.5 1793 L334.5 1793.1 L336.5 1793.1 L338.5 1793.1 L340.5 1793.1 L342.5 1793.1 L344.5 1793.1 L346.5 1793 L348.5 1792.9 L350.5 1792.8 L352.5 1792.7 L354.5 1792.5 L356.5 1792.3 L358.5 1792.1 L360.5 1791.8 L362.5 1791.5 L364.5 1791.1 L366.5 1790.7 L368.5 1790.2 L370.5 1789.7 L372.5 1789.1 L374.5 1788.5 L376.5 1787.7 L378.5 1786.9 L380.5 1786.1 L382.5 1785.1 L384.5 1784.1 L386.5 1782.9 L388.5 1781.7 L390.5 1780.4 L392.5 1778.9 L394.5 1777.4 L396.5 1775.8 L398.5 1774 L400.5 1772.1 L402.5 1770.1 L404.5 1767.9 L406.5 1765.7 L408.5 1763.3 L410.5 1760.7 L412.5 1758.1 L414.5 1755.2 L416.5 1752.3 L418.5 1749.2 L420.5 1746 L422.5 1742.6 L424.5 1739.2 L426.5 1735.6 L428.5 1731.8 L430.5 1728 L432.5 1724 L434.5 1719.9 L436.5 1715.7 L438.5 1711.4 L440.5 1707.1 L442.5 1702.6 L444.5 1698.1 L446.5 1693.6 L448.5 1689 L450.5 1684.4 L452.5 1679.8 L454.5 1675.2 L456.5 1670.6 L458.5 1666 L460.5 1661.5 L462.5 1657.1 L464.5 1652.7 L466.5 1648.5 L468.5 1644.3 L470.5 1640.3 L472.5 1636.4 L474.5 1632.7 L476.5 1629.2 L478.5 1625.9 L480.5 1622.8 L482.5 1619.9 L484.5 1617.2 L486.5 1614.8 L488.5 1612.6 L490.5 1610.7 L492.5 1609.1 L494.5 1607.8 L496.5 1606.7 L498.5 1606 L500.5 1605.6 L502.5 1605.4 L504.5 1605.6 L506.5 1606.1 L508.5 1606.9 L510.5 1607.9 L512.5 1609.3 L514.5 1611 L516.5 1613 L518.5 1615.2 L520.5 1617.7 L522.5 1620.4 L524.5 1623.4 L526.5 1626.7 L528.5 1630.1 L530.5 1633.8 L532.5 1637.6 L534.5 1641.6 L536.5 1645.8 L538.5 1650.1 L540.5 1654.5 L542.5 1659 L544.5 1663.7 L546.5 1668.4 L548.5 1673.1 L550.5 1677.9 L552.5 1682.7 L554.5 1687.6 L556.5 1692.4 L558.5 1697.2 L560.5 1702 L562.5 1706.7 L564.5 1711.4 L566.5 1716 L568.5 1720.6 L570.5 1725 L572.5 1729.4 L574.5 1733.6 L576.5 1737.7 L578.5 1741.7 L580.5 1745.6 L582.5 1749.3 L584.5 1753 L586.5 1756.4 L588.5 1759.8 L590.5 1763 L592.5 1766 L594.5 1769 L596.5 1771.7 L598.5 1774.4 L600.5 1776.9 L602.5 1779.2 L604.5 1781.5 L606.5 1783.6 L608.5 1785.6 L610.5 1787.5 L612.5 1789.2 L614.5 1790.9 L616.5 1792.4 L618.5 1793.9 L620.5 1795.2 L622.5 1796.5 L624.5 1797.6 L626.5 1798.7 L628.5 1799.7 L630.5 1800.6 L632.5 1801.5 L634.5 1802.2 L636.5 1803 L638.5 1803.6 L640.5 1804.2 L642.5 1804.8 L644.5 1805.3 L646.5 1805.8 L648.5 1806.2 L650.5 1806.6 L652.5 1806.9 L654.5 1807.2 L656.5 1807.5 L658.5 1807.8 L660.5 1808 L662.5 1808.2 L664.5 1808.4 L666.5 1808.6 L668.5 1808.7 L670.5 1808.9 L672.5 1809 L674.5 1809.1 L676.5 1809.2 L678.5 1809.3 L680.5 1809.4 L682.5 1809.5 L684.5 1809.5 L686.5 1809.6 L688.5 1809.7 L690.5 1809.7 L692.5 1809.8 L694.5 1809.8 L696.5 1809.8 L698.5 1809.9 L700.5 1809.9 L702.5 1809.9 L704.5 1809.9 L706.5 1810 L708.5 1810 L710.5 1810 L712.5 1810 L714.5 1810 L716.5 1810 L718.5 1810 L720.5 1810.1 L722.5 1810.1 L724.5 1810.1 L726.5 1810.1 L728.5 1810.1 L730.5 1810.1 L732.5 1810.1 L734.5 1810.1 L736.5 1810.1 L738.5 1810.1 L740.5 1810.1" fill="none" stroke="#e0282e" stroke-width="2.4" stroke-linejoin="round" stroke-linecap="round"/>
<path d="M72 1788 L74 1788 L76 1788 L78 1788 L80 1788 L82 1788 L84 1788 L86 1788 L88 1788.1 L90 1788.1 L92 1788.1 L94 1788.1 L96 1788.1 L98 1788.1 L100 1788.1 L102 1788.1 L104 1788.1 L106.1 1788.1 L108.1 1788.1 L110.1 1788.1 L112.1 1788.1 L114.1 1788.1 L116.1 1788.1 L118.1 1788.1 L120.1 1788.1 L122.1 1788.2 L124.1 1788.2 L126.1 1788.2 L128.1 1788.2 L130.1 1788.2 L132.1 1788.2 L134.1 1788.2 L136.1 1788.2 L138.1 1788.2 L140.1 1788.2 L142.1 1788.2 L144.1 1788.2 L146.1 1788.2 L148.1 1788.2 L150.1 1788.2 L152.1 1788.2 L154.1 1788.2 L156.1 1788.3 L158.1 1788.3 L160.1 1788.3 L162.1 1788.3 L164.1 1788.3 L166.1 1788.3 L168.1 1788.3 L170.1 1788.3 L172.1 1788.3 L174.2 1788.3 L176.2 1788.3 L178.2 1788.3 L180.2 1788.3 L182.2 1788.3 L184.2 1788.3 L186.2 1788.3 L188.2 1788.3 L190.2 1788.3 L192.2 1788.3 L194.2 1788.3 L196.2 1788.3 L198.2 1788.4 L200.2 1788.4 L202.2 1788.4 L204.2 1788.4 L206.2 1788.4 L208.2 1788.4 L210.2 1788.4 L212.2 1788.4 L214.2 1788.4 L216.2 1788.4 L218.2 1788.4 L220.2 1788.4 L222.2 1788.4 L224.2 1788.4 L226.2 1788.4 L228.2 1788.4 L230.2 1788.4 L232.2 1788.4 L234.2 1788.4 L236.2 1788.4 L238.2 1788.4 L240.3 1788.5 L242.3 1788.5 L244.3 1788.5 L246.3 1788.5 L248.3 1788.5 L250.3 1788.5 L252.3 1788.5 L254.3 1788.5 L256.3 1788.6 L258.3 1788.6 L260.3 1788.7 L262.3 1788.8 L264.3 1788.9 L266.3 1789 L268.3 1789.1 L270.3 1789.2 L272.3 1789.3 L274.3 1789.4 L276.3 1789.5 L278.3 1789.7 L280.3 1789.8 L282.3 1790 L284.3 1790.1 L286.3 1790.3 L288.3 1790.4 L290.3 1790.6 L292.3 1790.7 L294.3 1790.9 L296.3 1791.1 L298.3 1791.2 L300.3 1791.4 L302.3 1791.6 L304.3 1791.7 L306.4 1791.9 L308.4 1792 L310.4 1792.2 L312.4 1792.3 L314.4 1792.5 L316.4 1792.6 L318.4 1792.8 L320.4 1792.9 L322.4 1793 L324.4 1793.2 L326.4 1793.3 L328.4 1793.4 L330.4 1793.6 L332.4 1793.7 L334.4 1793.8 L336.4 1794 L338.4 1794.1 L340.4 1794.2 L342.4 1794.4 L344.4 1794.5 L346.4 1794.7 L348.4 1794.8 L350.4 1794.9 L352.4 1795.1 L354.4 1795.2 L356.4 1795.3 L358.4 1795.4 L360.4 1795.6 L362.4 1795.7 L364.4 1795.8 L366.4 1795.9 L368.4 1796 L370.4 1796.1 L372.4 1796.3 L374.5 1796.4 L376.5 1796.5 L378.5 1796.6 L380.5 1796.7 L382.5 1796.7 L384.5 1796.8 L386.5 1796.9 L388.5 1797 L390.5 1797.1 L392.5 1797.2 L394.5 1797.3 L396.5 1797.4 L398.5 1797.5 L400.5 1797.5 L402.5 1797.6 L404.5 1797.7 L406.5 1797.8 L408.5 1797.9 L410.5 1797.9 L412.5 1798 L414.5 1798.1 L416.5 1798.2 L418.5 1798.3 L420.5 1798.4 L422.5 1798.4 L424.5 1798.5 L426.5 1798.6 L428.5 1798.7 L430.5 1798.8 L432.5 1798.9 L434.5 1799 L436.5 1799.1 L438.5 1799.2 L440.6 1799.3 L442.6 1799.4 L444.6 1799.5 L446.6 1799.6 L448.6 1799.7 L450.6 1799.8 L452.6 1800 L454.6 1800.1 L456.6 1800.2 L458.6 1800.4 L460.6 1800.5 L462.6 1800.6 L464.6 1800.8 L466.6 1801 L468.6 1801.1 L470.6 1801.3 L472.6 1801.4 L474.6 1801.6 L476.6 1801.8 L478.6 1801.9 L480.6 1802.1 L482.6 1802.2 L484.6 1802.4 L486.6 1802.5 L488.6 1802.7 L490.6 1802.9 L492.6 1803 L494.6 1803.1 L496.6 1803.3 L498.6 1803.4 L500.6 1803.5 L502.6 1803.7 L504.6 1803.8 L506.6 1803.9 L508.7 1804.1 L510.7 1804.2 L512.7 1804.3 L514.7 1804.5 L516.7 1804.6 L518.7 1804.8 L520.7 1804.9 L522.7 1805 L524.7 1805.2 L526.7 1805.3 L528.7 1805.5 L530.7 1805.6 L532.7 1805.7 L534.7 1805.9 L536.7 1806 L538.7 1806.1 L540.7 1806.3 L542.7 1806.4 L544.7 1806.5 L546.7 1806.7 L548.7 1806.8 L550.7 1806.9 L552.7 1807.1 L554.7 1807.2 L556.7 1807.3 L558.7 1807.4 L560.7 1807.5 L562.7 1807.6 L564.7 1807.7 L566.7 1807.8 L568.7 1807.9 L570.7 1808 L572.7 1808.1 L574.8 1808.2 L576.8 1808.3 L578.8 1808.4 L580.8 1808.5 L582.8 1808.6 L584.8 1808.6 L586.8 1808.7 L588.8 1808.8 L590.8 1808.8 L592.8 1808.9 L594.8 1808.9 L596.8 1808.9 L598.8 1809 L600.8 1809 L602.8 1809 L604.8 1809.1 L606.8 1809.1 L608.8 1809.1 L610.8 1809.1 L612.8 1809.2 L614.8 1809.2 L616.8 1809.2 L618.8 1809.3 L620.8 1809.3 L622.8 1809.3 L624.8 1809.3 L626.8 1809.4 L628.8 1809.4 L630.8 1809.4 L632.8 1809.4 L634.8 1809.4 L636.8 1809.5 L638.8 1809.5 L640.9 1809.5 L642.9 1809.5 L644.9 1809.6 L646.9 1809.6 L648.9 1809.6 L650.9 1809.6 L652.9 1809.6 L654.9 1809.7 L656.9 1809.7 L658.9 1809.7 L660.9 1809.7 L662.9 1809.7 L664.9 1809.8 L666.9 1809.8 L668.9 1809.8 L670.9 1809.8 L672.9 1809.8 L674.9 1809.8 L676.9 1809.9 L678.9 1809.9 L680.9 1809.9 L682.9 1809.9 L684.9 1809.9 L686.9 1809.9 L688.9 1809.9 L690.9 1809.9 L692.9 1810 L694.9 1810 L696.9 1810 L698.9 1810 L700.9 1810 L702.9 1810 L704.9 1810 L706.9 1810 L709 1810 L711 1810 L713 1810.1 L715 1810.1 L717 1810.1 L719 1810.1 L721 1810.1 L723 1810.1 L725 1810.1 L727 1810.1 L729 1810.1 L731 1810.1 L733 1810.1 L735 1810.1 L737 1810.1 L739 1810.1 L741 1810.1" fill="none" stroke="#14144e" stroke-width="2.4" stroke-linejoin="round" stroke-linecap="round"/>
<path d="M72 1781 L74 1781 L76 1780.7 L78 1780.9 L80 1780.5 L82 1780 L84 1781.3 L86 1780.8 L88 1779.9 L90 1780.3 L92 1780.4 L94 1780.7 L96 1781 L98 1780.7 L100 1780.4 L102 1780.7 L104 1780.4 L106 1780.5 L108 1780.2 L110 1780 L112 1780.8 L114 1780.2 L116 1780.3 L118 1780 L120 1780 L122 1780 L124 1780.3 L126 1780.5 L128 1780.2 L130 1779.8 L132 1780.9 L134 1780.2 L136 1780.1 L138 1779.6 L140 1779.6 L142 1779.8 L144 1778.9 L146 1779.2 L148 1779.6 L150 1780.2 L152 1779.4 L154 1778.8 L156 1778.7 L158 1779.4 L160 1778.7 L162 1778.8 L164 1779.5 L166 1778.7 L168 1778.5 L170 1778.3 L172 1778.9 L174 1778.8 L176 1778 L178 1777.6 L180 1777.8 L182 1778 L184 1777.4 L186 1776.5 L188 1776.7 L190 1776.5 L192 1775.8 L194 1775.5 L196 1775 L198 1774.4 L200 1773.8 L202 1773 L204 1772.5 L206 1771.6 L208 1771.7 L210 1770.9 L212 1770 L214 1769.3 L216 1768.3 L218 1767.1 L220 1766.5 L222 1765.3 L224 1764.4 L226 1762.6 L228 1762 L230 1761 L232 1759.4 L234 1757.7 L236 1755.7 L238 1754.2 L240 1753 L242 1749.9 L244 1747 L246 1742.2 L248 1738.4 L250 1734.2 L252 1731.5 L254 1728.9 L256 1726.4 L258 1723.4 L260 1721.3 L262 1718.9 L264 1716.8 L266 1714.2 L268 1711.7 L270 1709.1 L272 1705.6 L274 1702.6 L276 1699.4 L278 1696.3 L280 1692.8 L282 1689.9 L284 1686.1 L286 1683.8 L288 1680 L290 1677 L292 1672.6 L294 1669 L296 1665.3 L298 1662 L300 1657.7 L302 1654.8 L304 1650.9 L306 1649.1 L308 1646.3 L310 1644.6 L312 1643.7 L314 1643.7 L316 1642.9 L318 1642.4 L320 1641.7 L322 1641.4 L324 1641.4 L326 1640.4 L328 1640.3 L330 1639.9 L332 1639.4 L334 1640.3 L336 1641.9 L338 1642.5 L340 1645.3 L342 1646.7 L344 1648.7 L346 1650.9 L348 1652.5 L350 1654.2 L352 1656.2 L354 1657.2 L356 1659.1 L358 1660.7 L360 1663.3 L362 1666.9 L364 1669.4 L366 1674 L368 1679.7 L370 1684.9 L372 1688 L374 1690.2 L376 1693.2 L378 1695 L380 1697.1 L382 1699.3 L384 1701.6 L386 1703.4 L388 1705.5 L390 1708.5 L392 1710.2 L394 1711.8 L396 1714.3 L398 1715.7 L400 1717.5 L402 1719.8 L404 1720.6 L406 1720.9 L408 1721.3 L410 1721.8 L412 1721.3 L414 1721.4 L416 1721.1 L418 1720.7 L420 1719 L422 1716.1 L424 1713.7 L426 1710.7 L428 1707.8 L430 1705.5 L432 1702.2 L434 1700 L436 1697.3 L438 1694.7 L440 1692.6 L442 1689.5 L444 1687.7 L446 1683.2 L448 1681.6 L450 1677.7 L452 1673.8 L454 1670.2 L456 1665.8 L458 1661.5 L460 1657 L462 1651.7 L464 1647.7 L466 1643.8 L468 1640.3 L470 1636.9 L472 1634.4 L474 1630.9 L476 1627.4 L478 1625.1 L480 1622.2 L482 1619.7 L484 1617.8 L486 1615.7 L488 1613.8 L490 1612.4 L492 1611.4 L494 1609.8 L496 1609 L498 1608.6 L500 1607.4 L502 1607.3 L504 1607.4 L506 1608.5 L508 1608.8 L510 1610.3 L512 1611 L514 1612.6 L516 1614.1 L518 1615.3 L520 1616.9 L522 1619.8 L524 1622 L526 1625.3 L528 1628.6 L530 1631.3 L532 1635.8 L534 1639.1 L536 1642.6 L538 1646.4 L540 1650.7 L542 1655.5 L544 1660.9 L546 1665.2 L548 1669.9 L550 1675.4 L552 1681.4 L554 1685.8 L556 1691.4 L558 1695.3 L560 1699.9 L562 1704.4 L564 1709.1 L566 1714.1 L568 1718.8 L570 1722.7 L572 1727.4 L574 1731.9 L576 1736.3 L578 1741 L580 1745 L582 1748.3 L584 1752.2 L586 1755.3 L588 1759.4 L590 1762.3 L592 1766.4 L594 1769.8 L596 1773.2 L598 1775.8 L600 1778.5 L602 1780.6 L604 1782.3 L606 1784.7 L608 1786.1 L610 1788.3 L612 1789.9 L614 1791 L616 1792.3 L618 1794.2 L620 1795.2 L622 1796.7 L624 1797.9 L626 1799.1 L628 1799.7 L630 1799.8 L632 1800.9 L634 1802.4 L636 1802 L638 1802.9 L640 1804.1 L642 1804.4 L644 1804.4 L646 1805.2 L648 1805.2 L650 1806 L652 1805.9 L654 1806.2 L656 1806.5 L658 1805.9 L660 1806.8 L662 1807.2 L664 1807.3 L666 1807.3 L668 1807.6 L670 1808.4 L672 1808.3 L674 1807.9 L676 1808.7 L678 1808.5 L680 1808.4 L682 1808 L684 1809 L686 1808.4 L688 1809 L690 1809.3 L692 1809.2 L694 1808.6 L696 1808.7 L698 1809.2 L700 1809.4 L702 1809 L704 1808.9 L706 1809.6 L708 1809.6 L710 1809.1 L712 1808.9 L714 1809.2 L716 1808.6 L718 1809.1 L720 1809.1 L722 1809.4 L724 1809.2 L726 1808.4 L728 1809.7 L730 1809.2 L732 1808.3 L734 1808.5 L736 1809.2 L738 1808.5 L740 1809.3" fill="none" stroke="#151515" stroke-width="2.8" stroke-linejoin="round" stroke-linecap="round"/>
<path d="M72 1780.9 L74 1780.8 L76 1780.7 L78 1780.6 L80 1780.5 L82 1780.5 L84 1780.4 L86 1780.4 L88 1780.3 L90 1780.3 L92 1780.2 L94 1780.2 L96 1780.2 L98 1780.2 L100 1780.2 L102 1780.2 L104 1780.2 L106 1780.2 L108 1780.2 L110 1780.2 L112 1780.2 L114 1780.2 L116 1780.2 L118 1780.2 L120 1780.2 L122 1780.2 L124 1780.2 L126 1780.2 L128 1780.2 L130 1780.2 L132 1780.2 L134 1780.2 L136 1780.2 L138 1780.2 L140 1780.1 L142 1780.1 L144 1780 L146 1780 L148 1779.9 L150 1779.8 L152 1779.7 L154 1779.7 L156 1779.5 L158 1779.4 L160 1779.3 L162 1779.1 L164 1779 L166 1778.8 L168 1778.6 L170 1778.4 L172 1778.2 L174 1778 L176 1777.7 L178 1777.5 L180 1777.2 L182 1776.9 L184 1776.6 L186 1776.2 L188 1775.9 L190 1775.5 L192 1775.1 L194 1774.7 L196 1774.3 L198 1773.8 L200 1773.4 L202 1772.9 L204 1772.4 L206 1771.9 L208 1771.3 L210 1770.7 L212 1770.1 L214 1769.5 L216 1768.9 L218 1768.2 L220 1767.6 L222 1766.8 L224 1766 L226 1765.1 L228 1764 L230 1762.7 L232 1761.2 L234 1759.5 L236 1757.4 L238 1755.1 L240 1752.3 L242 1749.2 L244 1745.7 L246 1742 L248 1738.3 L250 1734.8 L252 1731.6 L254 1728.7 L256 1725.9 L258 1723.4 L260 1721 L262 1718.6 L264 1716.3 L266 1713.9 L268 1711.5 L270 1708.9 L272 1706.2 L274 1703.4 L276 1700.4 L278 1697.3 L280 1694 L282 1690.7 L284 1687.3 L286 1683.8 L288 1680.2 L290 1676.5 L292 1672.8 L294 1669.1 L296 1665.5 L298 1662 L300 1658.6 L302 1655.4 L304 1652.3 L306 1649.5 L308 1647 L310 1644.9 L312 1643.1 L314 1641.6 L316 1640.5 L318 1639.7 L320 1639.1 L322 1638.9 L324 1638.9 L326 1639.1 L328 1639.6 L330 1640.2 L332 1641 L334 1642 L336 1643.1 L338 1644.3 L340 1645.6 L342 1647 L344 1648.4 L346 1649.9 L348 1651.4 L350 1652.8 L352 1654.4 L354 1656.1 L356 1658.1 L358 1660.4 L360 1663.2 L362 1666.5 L364 1670.5 L366 1675 L368 1679.5 L370 1683.7 L372 1687.3 L374 1690.3 L376 1692.9 L378 1695.2 L380 1697.3 L382 1699.3 L384 1701.3 L386 1703.4 L388 1705.5 L390 1707.6 L392 1709.7 L394 1711.7 L396 1713.6 L398 1715.4 L400 1717.1 L402 1718.6 L404 1719.9 L406 1720.9 L408 1721.7 L410 1722.2 L412 1722.3 L414 1722 L416 1721.3 L418 1719.9 L420 1718.1 L422 1715.8 L424 1713.3 L426 1710.5 L428 1707.8 L430 1705.1 L432 1702.5 L434 1700 L436 1697.6 L438 1695.1 L440 1692.6 L442 1689.9 L444 1687.2 L446 1684.2 L448 1681.1 L450 1677.6 L452 1673.9 L454 1670 L456 1665.9 L458 1661.6 L460 1657.3 L462 1653 L464 1648.7 L466 1644.5 L468 1640.5 L470 1636.8 L472 1633.2 L474 1629.9 L476 1626.8 L478 1624 L480 1621.4 L482 1619 L484 1616.8 L486 1614.9 L488 1613.2 L490 1611.7 L492 1610.5 L494 1609.5 L496 1608.7 L498 1608.2 L500 1607.8 L502 1607.8 L504 1607.9 L506 1608.3 L508 1609 L510 1609.8 L512 1610.9 L514 1612.2 L516 1613.8 L518 1615.6 L520 1617.7 L522 1619.9 L524 1622.5 L526 1625.2 L528 1628.2 L530 1631.4 L532 1634.9 L534 1638.6 L536 1642.5 L538 1646.7 L540 1651.1 L542 1655.7 L544 1660.4 L546 1665.3 L548 1670.2 L550 1675.2 L552 1680.3 L554 1685.3 L556 1690.4 L558 1695.4 L560 1700.3 L562 1705.2 L564 1710 L566 1714.6 L568 1719.2 L570 1723.7 L572 1728.1 L574 1732.4 L576 1736.6 L578 1740.7 L580 1744.6 L582 1748.5 L584 1752.3 L586 1755.9 L588 1759.4 L590 1762.8 L592 1766 L594 1769.1 L596 1772.1 L598 1774.9 L600 1777.6 L602 1780.1 L604 1782.5 L606 1784.7 L608 1786.7 L610 1788.6 L612 1790.4 L614 1792 L616 1793.5 L618 1794.9 L620 1796.1 L622 1797.3 L624 1798.3 L626 1799.3 L628 1800.1 L630 1800.9 L632 1801.6 L634 1802.2 L636 1802.8 L638 1803.3 L640 1803.8 L642 1804.2 L644 1804.5 L646 1804.9 L648 1805.2 L650 1805.5 L652 1805.8 L654 1806.1 L656 1806.3 L658 1806.6 L660 1806.8 L662 1807 L664 1807.2 L666 1807.4 L668 1807.6 L670 1807.7 L672 1807.9 L674 1808 L676 1808.2 L678 1808.3 L680 1808.4 L682 1808.5 L684 1808.6 L686 1808.7 L688 1808.8 L690 1808.8 L692 1808.9 L694 1809 L696 1809 L698 1809 L700 1809.1 L702 1809.1 L704 1809.1 L706 1809.2 L708 1809.2 L710 1809.2 L712 1809.2 L714 1809.2 L716 1809.2 L718 1809.2 L720 1809.1 L722 1809.1 L724 1809.1 L726 1809.1 L728 1809.1 L730 1809.1 L732 1809 L734 1809 L736 1809 L738 1809 L740 1808.9" fill="none" stroke="#7a1ee0" stroke-width="2.2" stroke-linejoin="round" stroke-linecap="round"/>
<line x1="268.8" y1="1314" x2="268.8" y2="1834.5" stroke="#3c3c3c" stroke-width="2.4" stroke-linecap="butt" stroke-dasharray="8.2,8.6"/>
<line x1="322.2" y1="1314" x2="322.2" y2="1834.5" stroke="#3c3c3c" stroke-width="2.4" stroke-linecap="butt" stroke-dasharray="8.2,8.6"/>
<line x1="370.3" y1="1314" x2="370.3" y2="1834.5" stroke="#3c3c3c" stroke-width="2.4" stroke-linecap="butt" stroke-dasharray="8.2,8.6"/>
<line x1="498.5" y1="1314" x2="498.5" y2="1834.5" stroke="#3c3c3c" stroke-width="2.4" stroke-linecap="butt" stroke-dasharray="8.2,8.6"/>
<line x1="71.5" y1="1567.5" x2="741.5" y2="1567.5" stroke="#444444" stroke-width="2.7" stroke-linecap="butt"/>
<line x1="71.5" y1="1582" x2="741.5" y2="1582" stroke="#444444" stroke-width="2.7" stroke-linecap="butt"/>
<rect x="71.5" y="1314" width="670" height="520.5" fill="none" stroke="#444444" stroke-width="2.7"/>
<line x1="71.5" y1="1834.5" x2="71.5" y2="1845" stroke="#444444" stroke-width="2.2" stroke-linecap="butt"/>
<text x="71.5" y="1870.2" font-size="23.9" fill="#1c1c1c" stroke="#1c1c1c" stroke-width="0.7" text-anchor="middle" textLength="25.5" lengthAdjust="spacingAndGlyphs">41</text>
<line x1="113.4" y1="1834.5" x2="113.4" y2="1840" stroke="#444444" stroke-width="2.2" stroke-linecap="butt"/>
<line x1="155.2" y1="1834.5" x2="155.2" y2="1845" stroke="#444444" stroke-width="2.2" stroke-linecap="butt"/>
<text x="155.2" y="1870.2" font-size="23.9" fill="#1c1c1c" stroke="#1c1c1c" stroke-width="0.7" text-anchor="middle" textLength="25.5" lengthAdjust="spacingAndGlyphs">40</text>
<line x1="197.1" y1="1834.5" x2="197.1" y2="1840" stroke="#444444" stroke-width="2.2" stroke-linecap="butt"/>
<line x1="238.9" y1="1834.5" x2="238.9" y2="1845" stroke="#444444" stroke-width="2.2" stroke-linecap="butt"/>
<text x="238.9" y="1870.2" font-size="23.9" fill="#1c1c1c" stroke="#1c1c1c" stroke-width="0.7" text-anchor="middle" textLength="25.5" lengthAdjust="spacingAndGlyphs">39</text>
<line x1="280.8" y1="1834.5" x2="280.8" y2="1840" stroke="#444444" stroke-width="2.2" stroke-linecap="butt"/>
<line x1="322.7" y1="1834.5" x2="322.7" y2="1845" stroke="#444444" stroke-width="2.2" stroke-linecap="butt"/>
<text x="322.7" y="1870.2" font-size="23.9" fill="#1c1c1c" stroke="#1c1c1c" stroke-width="0.7" text-anchor="middle" textLength="25.5" lengthAdjust="spacingAndGlyphs">38</text>
<line x1="364.5" y1="1834.5" x2="364.5" y2="1840" stroke="#444444" stroke-width="2.2" stroke-linecap="butt"/>
<line x1="406.4" y1="1834.5" x2="406.4" y2="1845" stroke="#444444" stroke-width="2.2" stroke-linecap="butt"/>
<text x="406.4" y="1870.2" font-size="23.9" fill="#1c1c1c" stroke="#1c1c1c" stroke-width="0.7" text-anchor="middle" textLength="25.5" lengthAdjust="spacingAndGlyphs">37</text>
<line x1="448.2" y1="1834.5" x2="448.2" y2="1840" stroke="#444444" stroke-width="2.2" stroke-linecap="butt"/>
<line x1="490.1" y1="1834.5" x2="490.1" y2="1845" stroke="#444444" stroke-width="2.2" stroke-linecap="butt"/>
<text x="490.1" y="1870.2" font-size="23.9" fill="#1c1c1c" stroke="#1c1c1c" stroke-width="0.7" text-anchor="middle" textLength="25.5" lengthAdjust="spacingAndGlyphs">36</text>
<line x1="532" y1="1834.5" x2="532" y2="1840" stroke="#444444" stroke-width="2.2" stroke-linecap="butt"/>
<line x1="573.8" y1="1834.5" x2="573.8" y2="1845" stroke="#444444" stroke-width="2.2" stroke-linecap="butt"/>
<text x="573.8" y="1870.2" font-size="23.9" fill="#1c1c1c" stroke="#1c1c1c" stroke-width="0.7" text-anchor="middle" textLength="25.5" lengthAdjust="spacingAndGlyphs">35</text>
<line x1="615.7" y1="1834.5" x2="615.7" y2="1840" stroke="#444444" stroke-width="2.2" stroke-linecap="butt"/>
<line x1="657.5" y1="1834.5" x2="657.5" y2="1845" stroke="#444444" stroke-width="2.2" stroke-linecap="butt"/>
<text x="657.5" y="1870.2" font-size="23.9" fill="#1c1c1c" stroke="#1c1c1c" stroke-width="0.7" text-anchor="middle" textLength="25.5" lengthAdjust="spacingAndGlyphs">34</text>
<line x1="699.4" y1="1834.5" x2="699.4" y2="1840" stroke="#444444" stroke-width="2.2" stroke-linecap="butt"/>
<line x1="741.3" y1="1834.5" x2="741.3" y2="1845" stroke="#444444" stroke-width="2.2" stroke-linecap="butt"/>
<text x="741.3" y="1870.2" font-size="23.9" fill="#1c1c1c" stroke="#1c1c1c" stroke-width="0.7" text-anchor="middle" textLength="25.5" lengthAdjust="spacingAndGlyphs">33</text>
<text x="446.3" y="1905.5" font-size="24" fill="#1c1c1c" stroke="#1c1c1c" stroke-width="0.7" text-anchor="middle" textLength="202" lengthAdjust="spacingAndGlyphs">Binding energy/eV</text>
<text x="50" y="1656.6" font-size="24.5" fill="#1c1c1c" stroke="#1c1c1c" stroke-width="0.7" text-anchor="start" textLength="145.5" lengthAdjust="spacingAndGlyphs" transform="rotate(-90 50 1656.6)">Intensity/a.m.</text>
<text x="92.9" y="1354.4" font-size="26" fill="#1c1c1c" stroke="#1c1c1c" stroke-width="0.7" text-anchor="start" textLength="41.9" lengthAdjust="spacingAndGlyphs">w4f</text>
<text x="558.6" y="1359.4" font-size="23.5" fill="#d4283a" stroke="#d4283a" stroke-width="0.7" text-anchor="start" textLength="169.9" lengthAdjust="spacingAndGlyphs">CO-COIMI-HPW</text>
<text x="541.6" y="1622.1" font-size="23.5" fill="#d4283a" stroke="#d4283a" stroke-width="0.7" text-anchor="start" textLength="193.7" lengthAdjust="spacingAndGlyphs">CO-COIMI-NH<tspan font-size="11.5" dy="8">4</tspan><tspan dy="-8">PW</tspan></text>
<text x="229.9" y="1643" font-size="21.2" fill="#3a3ad2" stroke="#3a3ad2" stroke-width="0.7" text-anchor="start" textLength="49.9" lengthAdjust="spacingAndGlyphs">38.67</text>
<text x="286.6" y="1616.4" font-size="21.2" fill="#3a3ad2" stroke="#3a3ad2" stroke-width="0.7" text-anchor="start" textLength="49.8" lengthAdjust="spacingAndGlyphs">38.01</text>
<text x="378.3" y="1633.4" font-size="21.2" fill="#3a3ad2" stroke="#3a3ad2" stroke-width="0.7" text-anchor="start" textLength="48.7" lengthAdjust="spacingAndGlyphs">37.47</text>
<text x="509.9" y="1770.5" font-size="21.2" fill="#3a3ad2" stroke="#3a3ad2" stroke-width="0.7" text-anchor="start" textLength="51" lengthAdjust="spacingAndGlyphs">35.84</text>
<path d="M859 1548.3 L1205 1538.1 L1553 1523.3" fill="none" stroke="#e02ee0" stroke-width="2.4" stroke-linejoin="round" stroke-linecap="round"/>
<path d="M859 1540.3 L947 1526.7" fill="none" stroke="#2626d6" stroke-width="2.4" stroke-linejoin="round" stroke-linecap="round"/>
<path d="M859 1543.5 L861 1543.1 L863 1542.5 L865 1541.8 L867 1541 L869.1 1540 L871.1 1538.9 L873.1 1537.8 L875.1 1536.6 L877.1 1535.1 L879.1 1533.1 L881.1 1530.9 L883.1 1528.7 L885.1 1526.5 L887.2 1524.6 L889.2 1523 L891.2 1521.7 L893.2 1520.4 L895.2 1519.1 L897.2 1517.9 L899.2 1516.8 L901.2 1516.1 L903.2 1515.6 L905.2 1515.4 L907.3 1515.7 L909.3 1516.5 L911.3 1517.6 L913.3 1519 L915.3 1520.5 L917.3 1522 L919.3 1523.5 L921.3 1524.9 L923.3 1526.5 L925.4 1528.1 L927.4 1529.9 L929.4 1531.7 L931.4 1533.4 L933.4 1535.2 L935.4 1536.9 L937.4 1538.5 L939.4 1540.3 L941.4 1542 L943.5 1543.2 L945.5 1544.1 L947.5 1544.9 L949.5 1545.5 L951.5 1545.8" fill="none" stroke="#e0282e" stroke-width="2.4" stroke-linejoin="round" stroke-linecap="round"/>
<path d="M859 1540.3 L861 1540.1 L863.1 1539.7 L865.1 1538.9 L867.1 1538 L869.1 1536.9 L871.2 1535.7 L873.2 1534.4 L875.2 1533 L877.2 1530.9 L879.3 1528.2 L881.3 1525.1 L883.3 1521.9 L885.3 1518.7 L887.4 1516 L889.4 1513.8 L891.4 1511.9 L893.5 1510 L895.5 1508.1 L897.5 1506.4 L899.5 1504.9 L901.6 1503.8 L903.6 1503.1 L905.6 1503 L907.6 1503.7 L909.7 1505 L911.7 1506.8 L913.7 1508.8 L915.7 1511 L917.8 1513 L919.8 1514.8 L921.8 1516.5 L923.8 1518.5 L925.9 1520.5 L927.9 1522.5 L929.9 1524.2 L932 1525.6 L934 1526.5 L936 1526.7 L938 1526.7 L940.1 1526.7 L942.1 1526.6 L944.1 1526.6 L946.1 1526.5 L948.2 1526.4 L950.2 1526.1 L952.2 1525.6 L954.2 1524.9 L956.3 1524.2 L958.3 1523.4 L958.3 1523.5 L960.3 1523 L962.3 1522.5 L964.3 1522 L966.3 1521.5 L968.3 1521 L970.3 1520.5 L972.3 1519.9 L974.3 1519.4 L976.3 1518.9 L978.3 1518.3 L980.3 1517.8 L982.3 1517.2 L984.3 1516.6 L986.3 1516.1 L988.3 1515.5 L990.3 1514.9 L992.3 1514.2 L994.3 1513.6 L996.3 1513 L998.3 1512.3 L1000.3 1511.7 L1002.3 1511 L1004.3 1510.3 L1006.3 1509.6 L1008.3 1508.9 L1010.3 1508.2 L1012.3 1507.4 L1014.3 1506.6 L1016.3 1505.8 L1018.3 1505 L1020.3 1504.2 L1022.3 1503.4 L1024.3 1502.5 L1026.3 1501.6 L1028.3 1500.7 L1030.3 1499.8 L1032.3 1498.8 L1034.3 1497.9 L1036.3 1496.9 L1038.3 1495.8 L1040.3 1494.8 L1042.3 1493.7 L1044.3 1492.6 L1046.3 1491.5 L1048.3 1490.4 L1050.3 1489.2 L1052.3 1488 L1054.3 1486.8 L1056.3 1485.5 L1058.3 1484.2 L1060.3 1482.9 L1062.3 1481.6 L1064.3 1480.3 L1066.3 1478.9 L1068.3 1477.5 L1070.3 1476.1 L1072.3 1474.7 L1074.3 1473.2 L1076.3 1471.7 L1078.3 1470.2 L1080.3 1468.7 L1082.3 1467.2 L1084.3 1465.7 L1086.3 1464.1 L1088.3 1462.5 L1090.3 1460.9 L1092.3 1459.3 L1094.3 1457.7 L1096.3 1456.1 L1098.3 1454.4 L1100.3 1452.8 L1102.3 1451.1 L1104.3 1449.4 L1106.3 1447.7 L1108.3 1446 L1110.3 1444.3 L1112.3 1442.6 L1114.3 1440.9 L1116.3 1439.1 L1118.3 1437.4 L1120.3 1435.7 L1122.3 1433.9 L1124.3 1432.2 L1126.3 1430.4 L1128.3 1428.6 L1130.3 1426.9 L1132.3 1425.1 L1134.3 1423.3 L1136.3 1421.6 L1138.3 1419.8 L1140.3 1418 L1142.3 1416.3 L1144.3 1414.5 L1146.3 1412.8 L1148.3 1411 L1150.3 1409.3 L1152.3 1407.6 L1154.3 1406 L1156.3 1404.4 L1158.3 1402.8 L1160.3 1401.3 L1162.3 1399.8 L1164.3 1398.4 L1166.3 1397 L1168.3 1395.7 L1170.3 1394.5 L1172.3 1393.3 L1174.3 1392.2 L1176.3 1391.2 L1178.3 1390.2 L1180.3 1389.3 L1182.3 1388.5 L1184.3 1387.7 L1186.3 1387 L1188.3 1386.4 L1190.3 1385.9 L1192.3 1385.4 L1194.3 1385.1 L1196.3 1384.8 L1198.3 1384.6 L1200.3 1384.5 L1202.3 1384.5 L1204.3 1384.6 L1206.3 1384.7 L1208.3 1385 L1210.3 1385.4 L1212.3 1385.8 L1214.3 1386.3 L1216.3 1387 L1218.3 1387.7 L1220.3 1388.5 L1222.3 1389.3 L1224.3 1390.3 L1226.3 1391.3 L1228.3 1392.5 L1230.3 1393.7 L1232.3 1395 L1234.3 1396.3 L1236.3 1397.8 L1238.3 1399.3 L1240.3 1400.9 L1242.3 1402.6 L1244.3 1404.3 L1246.3 1406 L1248.3 1407.9 L1250.3 1409.7 L1252.3 1411.6 L1254.3 1413.5 L1256.3 1415.4 L1258.3 1417.3 L1260.3 1419.3 L1262.3 1421.2 L1264.3 1423.2 L1266.3 1425.1 L1268.3 1427 L1270.3 1428.9 L1272.3 1430.9 L1274.3 1432.8 L1276.3 1434.6 L1278.3 1436.5 L1280.3 1438.4 L1282.3 1440.2 L1284.3 1442.1 L1286.3 1443.9 L1288.3 1445.7 L1290.3 1447.5 L1292.3 1449.3 L1294.3 1451 L1296.3 1452.8 L1298.3 1454.5 L1300.3 1456.2 L1302.3 1457.8 L1304.3 1459.5 L1306.3 1461.1 L1308.3 1462.7 L1310.3 1464.3 L1312.3 1465.8 L1314.3 1467.3 L1316.3 1468.8 L1318.3 1470.3 L1320.3 1471.7 L1322.3 1473.1 L1324.3 1474.5 L1326.3 1475.8 L1328.3 1477.1 L1330.3 1478.4 L1332.3 1479.6 L1334.3 1480.9 L1336.3 1482.1 L1338.3 1483.2 L1340.3 1484.4 L1342.3 1485.5 L1344.3 1486.6 L1346.3 1487.6 L1348.3 1488.7 L1350.3 1489.7 L1352.3 1490.7 L1354.3 1491.7 L1356.3 1492.6 L1358.3 1493.5 L1360.3 1494.4 L1362.3 1495.3 L1364.3 1496.2 L1366.3 1497 L1368.3 1497.8 L1370.3 1498.6 L1372.3 1499.4 L1374.3 1500.1 L1376.3 1500.8 L1378.3 1501.6 L1380.3 1502.2 L1382.3 1502.9 L1384.3 1503.6 L1386.3 1504.2 L1388.3 1504.8 L1390.3 1505.4 L1392.3 1506 L1394.3 1506.6 L1396.3 1507.1 L1398.3 1507.7 L1400.3 1508.2 L1402.3 1508.7 L1404.3 1509.2 L1406.3 1509.7 L1408.3 1510.1 L1410.3 1510.6 L1412.3 1511 L1414.3 1511.4 L1416.3 1511.8 L1418.3 1512.2 L1420.3 1512.5 L1422.3 1512.9 L1424.3 1513.2 L1426.3 1513.6 L1428.3 1513.9 L1430.3 1514.2 L1432.3 1514.5 L1434.3 1514.8 L1436.3 1515.1 L1438.3 1515.3 L1440.3 1515.6 L1442.3 1515.8 L1444.3 1516 L1446.3 1516.3 L1448.3 1516.5 L1450.3 1516.7 L1452.3 1516.9 L1454.3 1517 L1456.3 1517.2 L1458.3 1517.4 L1460.3 1517.5 L1462.3 1517.7 L1464.3 1517.8 L1466.3 1517.9 L1468.3 1518.1 L1470.3 1518.2 L1472.3 1518.3 L1474.3 1518.4 L1476.3 1518.5 L1478.3 1518.6 L1480.3 1518.7 L1482.3 1518.7 L1484.3 1518.8 L1486.3 1518.9 L1488.3 1519 L1490.3 1519 L1492.3 1519.1 L1494.3 1519.1 L1496.3 1519.2 L1498.3 1519.2 L1500.3 1519.3 L1502.3 1519.3 L1504.3 1519.3 L1506.3 1519.4 L1508.3 1519.4 L1510.3 1519.4 L1512.3 1519.5 L1514.3 1519.5 L1516.3 1519.5 L1518.3 1519.5 L1520.3 1519.6 L1522.3 1519.6 L1524.3 1519.6 L1526.3 1519.6 L1528.3 1519.7 L1530.3 1519.7 L1532.3 1519.7 L1534.3 1519.8 L1536.3 1519.8 L1538.3 1519.8 L1540.3 1519.9 L1542.3 1519.9 L1544.3 1519.9 L1546.3 1520 L1548.3 1520 L1550.3 1520.1 L1552.3 1520.1" fill="none" stroke="#23862a" stroke-width="2.4" stroke-linejoin="round" stroke-linecap="round"/>
<path d="M859 1566.4 L874.5 1556.2 L889.2 1508.6 L905 1490.5 L919.8 1530.1 L935.6 1535.8 L951.5 1520 L965.1 1512 L980.9 1500.7 L999 1473.5 L1012.6 1464.4 L1028.5 1475.8 L1059.1 1534.7 L1075 1517.7 L1104.4 1440.7 L1120.3 1427.1 L1137.2 1407.8 L1153.1 1399.9 L1164.4 1402.1 L1182.6 1414.6 L1213.6 1362.5 L1229.5 1372.7 L1245.3 1413.5 L1261.2 1445.2 L1275.9 1452.7 L1290.6 1438.4 L1305.3 1441.8 L1320.1 1452 L1335.9 1464.4 L1351.8 1487.1 L1368.8 1520 L1383.5 1516.1 L1399.4 1495 L1414.1 1513.2 L1431.1 1542.6 L1445.8 1536.9 L1460.5 1508.6 L1476.4 1506.4 L1492.2 1514.3 L1507 1515.4 L1522.8 1507.9 L1538.7 1514.3 L1553.4 1530.1" fill="none" stroke="#151515" stroke-width="2.4" stroke-linejoin="round" stroke-linecap="round"/>
<path d="M859.8 1836.8 L861.8 1836.6 L863.8 1836.4 L865.8 1836.2 L867.8 1835.9 L869.8 1835.7 L871.8 1835.4 L873.8 1835.1 L875.8 1834.7 L877.8 1834.4 L879.8 1834 L881.8 1833.6 L883.8 1833.2 L885.8 1832.7 L887.8 1832.2 L889.8 1831.7 L891.8 1831.2 L893.8 1830.6 L895.8 1830 L897.8 1829.3 L899.8 1828.6 L901.8 1827.9 L903.8 1827.2 L905.8 1826.4 L907.8 1825.5 L909.8 1824.7 L911.8 1823.8 L913.8 1822.8 L915.8 1821.9 L917.8 1820.8 L919.8 1819.8 L921.8 1818.7 L923.8 1817.6 L925.8 1816.4 L927.8 1815.3 L929.8 1814 L931.8 1812.8 L933.8 1811.5 L935.8 1810.2 L937.8 1808.9 L939.8 1807.6 L941.8 1806.2 L943.8 1804.9 L945.8 1803.5 L947.8 1802.1 L949.8 1800.7 L951.8 1799.3 L953.8 1798 L955.8 1796.6 L957.8 1795.2 L959.8 1793.9 L961.8 1792.6 L963.8 1791.3 L965.8 1790 L967.8 1788.8 L969.8 1787.6 L971.8 1786.5 L973.8 1785.4 L975.8 1784.4 L977.8 1783.4 L979.8 1782.4 L981.8 1781.6 L983.8 1780.8 L985.8 1780.1 L987.8 1779.4 L989.8 1778.8 L991.8 1778.3 L993.8 1777.9 L995.8 1777.5 L997.8 1777.3 L999.8 1777.1 L1001.8 1777 L1003.8 1777 L1005.8 1777.1 L1007.8 1777.2 L1009.8 1777.5 L1011.8 1777.8 L1013.8 1778.2 L1015.8 1778.7 L1017.8 1779.3 L1019.8 1780 L1021.8 1780.8 L1023.8 1781.6 L1025.8 1782.5 L1027.8 1783.4 L1029.8 1784.4 L1031.8 1785.5 L1033.8 1786.6 L1035.8 1787.8 L1037.8 1789 L1039.8 1790.3 L1041.8 1791.5 L1043.8 1792.9 L1045.8 1794.2 L1047.8 1795.6 L1049.8 1796.9 L1051.8 1798.3 L1053.8 1799.7 L1055.8 1801.1 L1057.8 1802.5 L1059.8 1803.8 L1061.8 1805.2 L1063.8 1806.6 L1065.8 1807.9 L1067.8 1809.2 L1069.8 1810.5 L1071.8 1811.8 L1073.8 1813 L1075.8 1814.2 L1077.8 1815.4 L1079.8 1816.5 L1081.8 1817.6 L1083.8 1818.7 L1085.8 1819.7 L1087.8 1820.7 L1089.8 1821.6 L1091.8 1822.5 L1093.8 1823.4 L1095.8 1824.2 L1097.8 1825 L1099.8 1825.8 L1101.8 1826.5 L1103.8 1827.1 L1105.8 1827.8 L1107.8 1828.4 L1109.8 1828.9 L1111.8 1829.4 L1113.8 1829.9 L1115.8 1830.4 L1117.8 1830.8 L1119.8 1831.2 L1121.8 1831.6 L1123.8 1831.9 L1125.8 1832.3 L1127.8 1832.6 L1129.8 1832.8 L1131.8 1833.1 L1133.8 1833.3 L1135.8 1833.5 L1137.8 1833.7 L1139.8 1833.9 L1141.8 1834 L1143.8 1834.2 L1145.8 1834.3 L1147.8 1834.4 L1149.8 1834.5 L1151.8 1834.6 L1153.8 1834.7 L1155.8 1834.8 L1157.8 1834.8 L1159.8 1834.9 L1161.8 1834.9 L1163.8 1835 L1165.8 1835 L1167.8 1835 L1169.8 1835.1 L1171.8 1835.1 L1173.8 1835.1 L1175.8 1835.1 L1177.8 1835.1 L1179.8 1835.1 L1181.8 1835.1 L1183.8 1835.1 L1185.8 1835.1 L1187.8 1835.1 L1189.8 1835.1 L1191.8 1835.1 L1193.8 1835.1 L1195.8 1835.1 L1197.8 1835.1 L1199.8 1835.1 L1201.8 1835.1 L1203.8 1835.1 L1205.8 1835.1 L1207.8 1835.1 L1209.8 1835 L1211.8 1835 L1213.8 1835 L1215.8 1835 L1217.8 1835 L1219.8 1835 L1221.8 1835 L1223.8 1834.9 L1225.8 1834.9 L1227.8 1834.9 L1229.8 1834.9 L1231.8 1834.9 L1233.8 1834.9 L1235.8 1834.9 L1237.8 1834.8 L1239.8 1834.8 L1241.8 1834.8 L1243.8 1834.8 L1245.8 1834.8 L1247.8 1834.8 L1249.8 1834.8 L1251.8 1834.7 L1253.8 1834.7 L1255.8 1834.7 L1257.8 1834.7 L1259.8 1834.7 L1261.8 1834.7 L1263.8 1834.6 L1265.8 1834.6 L1267.8 1834.6 L1269.8 1834.6 L1271.8 1834.6 L1273.8 1834.6 L1275.8 1834.6 L1277.8 1834.5 L1279.8 1834.5 L1281.8 1834.5 L1283.8 1834.5 L1285.8 1834.5 L1287.8 1834.5 L1289.8 1834.5 L1291.8 1834.4 L1293.8 1834.4 L1295.8 1834.4 L1297.8 1834.4 L1299.8 1834.4" fill="none" stroke="#e02ee0" stroke-width="2.4" stroke-linejoin="round" stroke-linecap="round"/>
<path d="M1040 1836.5 L1064.8 1835.1 L1076.1 1827.1 L1105.5 1778.4 L1137.2 1826 L1148.6 1832.8 L1165 1835.5" fill="none" stroke="#2626d6" stroke-width="2.4" stroke-linejoin="round" stroke-linecap="round"/>
<path d="M1060 1836.5 L1087.4 1835.1 L1103.3 1826 L1137.2 1763.7 L1150.8 1755.8 L1173.5 1792 L1198.4 1828.3 L1213.6 1833.9 L1230 1835" fill="none" stroke="#7a2a9a" stroke-width="2.4" stroke-linejoin="round" stroke-linecap="round"/>
<path d="M1120 1836 L1146.3 1821.5 L1173.5 1773.9 L1198.4 1674.2 L1213.6 1665.2 L1229.5 1710.5 L1245.3 1767.1 L1261.2 1814.7 L1279.3 1832.8 L1300 1834.5" fill="none" stroke="#e0282e" stroke-width="2.4" stroke-linejoin="round" stroke-linecap="round"/>
<path d="M1100 1835 L1149 1832.8 L1180 1826 L1200 1819.2 L1213.6 1810.1 L1229.5 1793.2 L1245.3 1762.6 L1261.2 1727.5 L1274.8 1729.7 L1290.6 1764.8 L1306.5 1794.3 L1322.3 1807.9 L1338.2 1817 L1369.9 1824.9 L1403.9 1830.5 L1450 1832.5 L1553 1832.8" fill="none" stroke="#1e1e8a" stroke-width="2.4" stroke-linejoin="round" stroke-linecap="round"/>
<path d="M1260 1834.5 L1277 1832.8 L1290.6 1826 L1322.3 1788.6 L1338.2 1810.1 L1354 1828.3 L1369.9 1833.9 L1390 1834" fill="none" stroke="#23862a" stroke-width="2.4" stroke-linejoin="round" stroke-linecap="round"/>
<path d="M859 1838.5 L1205 1835.1 L1553 1832.8" fill="none" stroke="#7a1030" stroke-width="2.4" stroke-linejoin="round" stroke-linecap="round"/>
<path d="M859 1837.3 L873.3 1841.9 L881.2 1835.1 L903.9 1823.7 L935.6 1803.3 L950.3 1790.9 L967.3 1803.3 L980.9 1792 L996.8 1767.1 L1012.6 1760.3 L1028.5 1789.8 L1060.2 1803.3 L1073.8 1802.2 L1089.7 1785.2 L1104.4 1751.2 L1121.4 1747.8 L1137.2 1737.6 L1149.7 1732 L1166.7 1722.9 L1182.6 1699.1 L1198.4 1647 L1213.6 1636.8 L1229.5 1669.7 L1245.3 1700.3 L1261.2 1704.8 L1277 1720.7 L1290.6 1753.5 L1306.5 1766 L1322.3 1758 L1338.2 1785.2 L1354 1836.2 L1368.8 1852 L1383.5 1817 L1399.4 1796.6 L1430 1806.7 L1444.7 1800 L1460.5 1817 L1476.4 1841.9 L1491.1 1845.3 L1505.8 1835.1 L1521.7 1832.8 L1537.6 1837.3 L1553 1823.7" fill="none" stroke="#151515" stroke-width="2.4" stroke-linejoin="round" stroke-linecap="round"/>
<path d="M859 1836.2 L901.6 1826.5 L935.6 1808 L969.6 1785.5 L1001.3 1775.5 L1026.2 1781 L1060.2 1802.2 L1073.8 1802.2 L1089.7 1785.2 L1104.4 1751.2 L1121.4 1747.8 L1137.2 1737.6 L1149.7 1732 L1166.7 1722.9 L1182.6 1699.1 L1198.4 1647 L1213.6 1636.8 L1229.5 1669.7 L1245.3 1700.3 L1261.2 1704.8 L1277 1720.7 L1290.6 1753.5 L1306.5 1764.8 L1322.3 1760.3 L1338.2 1786.4 L1354 1815.8 L1369.9 1823.7 L1403.9 1827.1 L1480 1826.5 L1553 1826" fill="none" stroke="#8c8c1a" stroke-width="2.4" stroke-linejoin="round" stroke-linecap="round"/>
<line x1="1003.6" y1="1316.7" x2="1003.6" y2="1860.5" stroke="#3c3c3c" stroke-width="2.4" stroke-linecap="butt" stroke-dasharray="8.6,8.6"/>
<line x1="1104.7" y1="1316.7" x2="1104.7" y2="1860.5" stroke="#3c3c3c" stroke-width="2.4" stroke-linecap="butt" stroke-dasharray="8.6,8.6"/>
<line x1="1149.6" y1="1316.7" x2="1149.6" y2="1860.5" stroke="#3c3c3c" stroke-width="2.4" stroke-linecap="butt" stroke-dasharray="8.6,8.6"/>
<line x1="1213.6" y1="1316.7" x2="1213.6" y2="1860.5" stroke="#3c3c3c" stroke-width="2.4" stroke-linecap="butt" stroke-dasharray="8.6,8.6"/>
<line x1="1263.1" y1="1316.7" x2="1263.1" y2="1860.5" stroke="#3c3c3c" stroke-width="2.4" stroke-linecap="butt" stroke-dasharray="8.6,8.6"/>
<line x1="1317.6" y1="1316.7" x2="1317.6" y2="1860.5" stroke="#3c3c3c" stroke-width="2.4" stroke-linecap="butt" stroke-dasharray="8.6,8.6"/>
<line x1="858.8" y1="1583.8" x2="1553.5" y2="1583.8" stroke="#444444" stroke-width="2.7" stroke-linecap="butt"/>
<rect x="858.8" y="1306" width="694.7" height="554.5" fill="none" stroke="#444444" stroke-width="2.7"/>
<line x1="858.8" y1="1860.5" x2="858.8" y2="1870.5" stroke="#444444" stroke-width="2.2" stroke-linecap="butt"/>
<text x="858.8" y="1898.1" font-size="25" fill="#1c1c1c" stroke="#1c1c1c" stroke-width="0.7" text-anchor="middle" textLength="40.6" lengthAdjust="spacingAndGlyphs">139</text>
<line x1="897.4" y1="1860.5" x2="897.4" y2="1866.5" stroke="#444444" stroke-width="2.2" stroke-linecap="butt"/>
<line x1="936" y1="1860.5" x2="936" y2="1870.5" stroke="#444444" stroke-width="2.2" stroke-linecap="butt"/>
<text x="936" y="1898.1" font-size="25" fill="#1c1c1c" stroke="#1c1c1c" stroke-width="0.7" text-anchor="middle" textLength="40.6" lengthAdjust="spacingAndGlyphs">138</text>
<line x1="974.6" y1="1860.5" x2="974.6" y2="1866.5" stroke="#444444" stroke-width="2.2" stroke-linecap="butt"/>
<line x1="1013.2" y1="1860.5" x2="1013.2" y2="1870.5" stroke="#444444" stroke-width="2.2" stroke-linecap="butt"/>
<text x="1013.2" y="1898.1" font-size="25" fill="#1c1c1c" stroke="#1c1c1c" stroke-width="0.7" text-anchor="middle" textLength="40.6" lengthAdjust="spacingAndGlyphs">137</text>
<line x1="1051.8" y1="1860.5" x2="1051.8" y2="1866.5" stroke="#444444" stroke-width="2.2" stroke-linecap="butt"/>
<line x1="1090.4" y1="1860.5" x2="1090.4" y2="1870.5" stroke="#444444" stroke-width="2.2" stroke-linecap="butt"/>
<text x="1090.4" y="1898.1" font-size="25" fill="#1c1c1c" stroke="#1c1c1c" stroke-width="0.7" text-anchor="middle" textLength="40.6" lengthAdjust="spacingAndGlyphs">136</text>
<line x1="1129" y1="1860.5" x2="1129" y2="1866.5" stroke="#444444" stroke-width="2.2" stroke-linecap="butt"/>
<line x1="1167.6" y1="1860.5" x2="1167.6" y2="1870.5" stroke="#444444" stroke-width="2.2" stroke-linecap="butt"/>
<text x="1167.6" y="1898.1" font-size="25" fill="#1c1c1c" stroke="#1c1c1c" stroke-width="0.7" text-anchor="middle" textLength="40.6" lengthAdjust="spacingAndGlyphs">135</text>
<line x1="1206.2" y1="1860.5" x2="1206.2" y2="1866.5" stroke="#444444" stroke-width="2.2" stroke-linecap="butt"/>
<line x1="1244.8" y1="1860.5" x2="1244.8" y2="1870.5" stroke="#444444" stroke-width="2.2" stroke-linecap="butt"/>
<text x="1244.8" y="1898.1" font-size="25" fill="#1c1c1c" stroke="#1c1c1c" stroke-width="0.7" text-anchor="middle" textLength="40.6" lengthAdjust="spacingAndGlyphs">134</text>
<line x1="1283.3" y1="1860.5" x2="1283.3" y2="1866.5" stroke="#444444" stroke-width="2.2" stroke-linecap="butt"/>
<line x1="1321.9" y1="1860.5" x2="1321.9" y2="1870.5" stroke="#444444" stroke-width="2.2" stroke-linecap="butt"/>
<text x="1321.9" y="1898.1" font-size="25" fill="#1c1c1c" stroke="#1c1c1c" stroke-width="0.7" text-anchor="middle" textLength="40.6" lengthAdjust="spacingAndGlyphs">133</text>
<line x1="1360.5" y1="1860.5" x2="1360.5" y2="1866.5" stroke="#444444" stroke-width="2.2" stroke-linecap="butt"/>
<line x1="1399.1" y1="1860.5" x2="1399.1" y2="1870.5" stroke="#444444" stroke-width="2.2" stroke-linecap="butt"/>
<text x="1399.1" y="1898.1" font-size="25" fill="#1c1c1c" stroke="#1c1c1c" stroke-width="0.7" text-anchor="middle" textLength="40.6" lengthAdjust="spacingAndGlyphs">132</text>
<line x1="1437.7" y1="1860.5" x2="1437.7" y2="1866.5" stroke="#444444" stroke-width="2.2" stroke-linecap="butt"/>
<line x1="1476.3" y1="1860.5" x2="1476.3" y2="1870.5" stroke="#444444" stroke-width="2.2" stroke-linecap="butt"/>
<text x="1476.3" y="1898.1" font-size="25" fill="#1c1c1c" stroke="#1c1c1c" stroke-width="0.7" text-anchor="middle" textLength="40.6" lengthAdjust="spacingAndGlyphs">131</text>
<line x1="1514.9" y1="1860.5" x2="1514.9" y2="1866.5" stroke="#444444" stroke-width="2.2" stroke-linecap="butt"/>
<line x1="1553.5" y1="1860.5" x2="1553.5" y2="1870.5" stroke="#444444" stroke-width="2.2" stroke-linecap="butt"/>
<text x="1553.5" y="1898.1" font-size="25" fill="#1c1c1c" stroke="#1c1c1c" stroke-width="0.7" text-anchor="middle" textLength="40.6" lengthAdjust="spacingAndGlyphs">130</text>
<text x="1207.7" y="1927.4" font-size="24.5" fill="#1c1c1c" stroke="#1c1c1c" stroke-width="0.7" text-anchor="middle" textLength="209.5" lengthAdjust="spacingAndGlyphs">Binding energy/eV</text>
<text x="829.3" y="1668.8" font-size="25.5" fill="#1c1c1c" stroke="#1c1c1c" stroke-width="0.7" text-anchor="start" textLength="150.8" lengthAdjust="spacingAndGlyphs" transform="rotate(-90 829.3 1668.8)">Intensity/a.m.</text>
<text x="871" y="1347.8" font-size="26.5" fill="#1c1c1c" stroke="#1c1c1c" stroke-width="0.7" text-anchor="start" textLength="47.6" lengthAdjust="spacingAndGlyphs">P2p</text>
<text x="1366.5" y="1341.7" font-size="24.1" fill="#d4283a" stroke="#d4283a" stroke-width="0.7" text-anchor="start" textLength="175.6" lengthAdjust="spacingAndGlyphs">CO-COIMI-HPW</text>
<text x="1338.2" y="1616.4" font-size="24.1" fill="#d4283a" stroke="#d4283a" stroke-width="0.7" text-anchor="start" textLength="207.3" lengthAdjust="spacingAndGlyphs">CO-COIMI-NH<tspan font-size="20" dy="8">4</tspan><tspan dy="-8">PW</tspan></text>
<text x="976.4" y="1682.1" font-size="22.3" fill="#3a3ad2" stroke="#3a3ad2" stroke-width="0.7" text-anchor="start" textLength="70.2" lengthAdjust="spacingAndGlyphs">137.16</text>
<text x="1062.5" y="1693.5" font-size="22.3" fill="#3a3ad2" stroke="#3a3ad2" stroke-width="0.7" text-anchor="start" textLength="70.2" lengthAdjust="spacingAndGlyphs">135.78</text>
<text x="1119.1" y="1615.3" font-size="22.3" fill="#3a3ad2" stroke="#3a3ad2" stroke-width="0.7" text-anchor="start" textLength="70.3" lengthAdjust="spacingAndGlyphs">135.23</text>
<text x="1226" y="1624.4" font-size="22.3" fill="#3a3ad2" stroke="#3a3ad2" stroke-width="0.7" text-anchor="start" textLength="69.2" lengthAdjust="spacingAndGlyphs">134.46</text>
<text x="1238.5" y="1682.1" font-size="22.3" fill="#3a3ad2" stroke="#3a3ad2" stroke-width="0.7" text-anchor="start" textLength="68" lengthAdjust="spacingAndGlyphs">133.70</text>
<text x="1299.7" y="1719.5" font-size="22.3" fill="#3a3ad2" stroke="#3a3ad2" stroke-width="0.7" text-anchor="start" textLength="69.1" lengthAdjust="spacingAndGlyphs">133.02</text></svg></body></html>
